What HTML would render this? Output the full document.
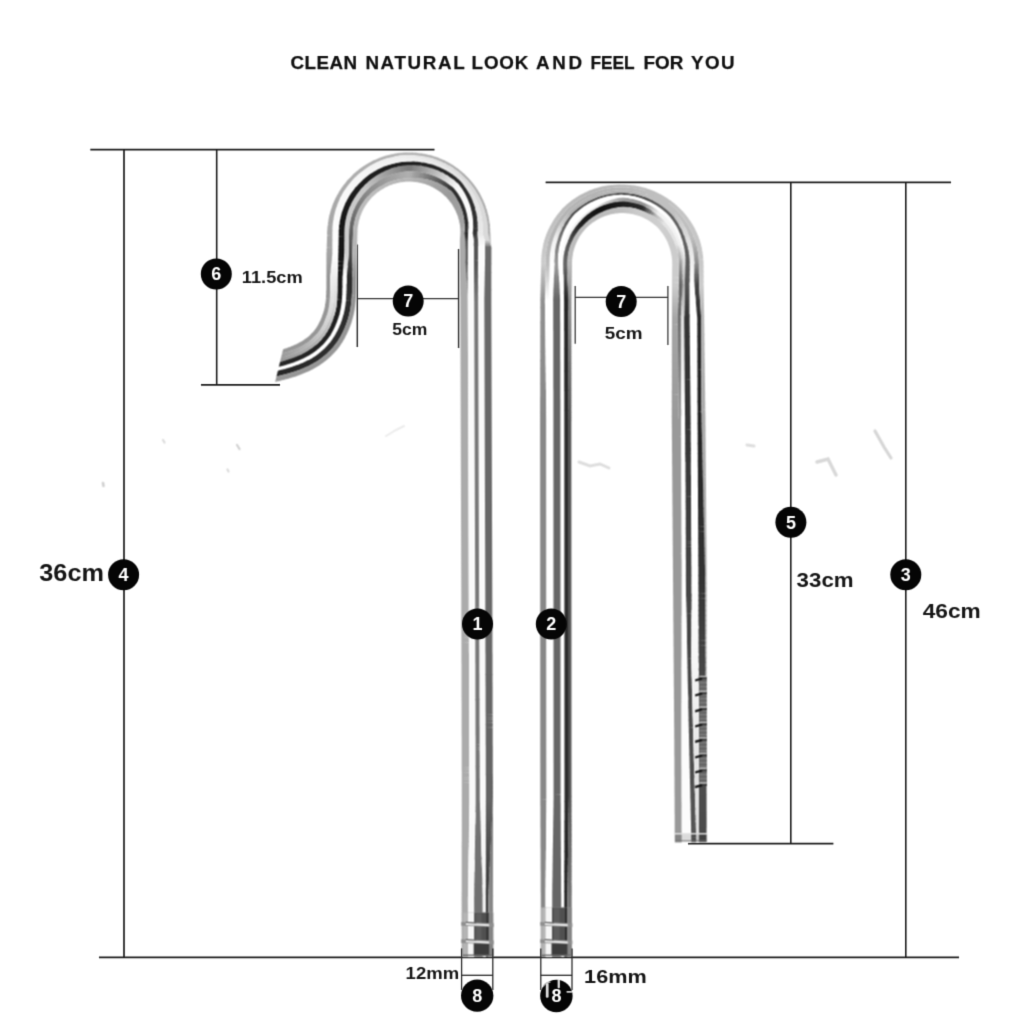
<!DOCTYPE html>
<html><head><meta charset="utf-8"><title>Tube dimensions</title>
<style>
html,body{margin:0;padding:0;background:#fff;}
body{width:1024px;height:1024px;position:relative;overflow:hidden;font-family:"Liberation Sans",sans-serif;}
svg text{font-family:"Liberation Sans",sans-serif;}
svg .b{font-weight:bold;}
</style></head><body>
<svg width="1024" height="1024" viewBox="0 0 1024 1024" style="position:absolute;left:0;top:0">
<defs>
<filter id="bl" x="-2%" y="-2%" width="104%" height="104%" color-interpolation-filters="sRGB"><feConvolveMatrix order="3" kernelMatrix="1 2 1 2 4 2 1 2 1" divisor="16" edgeMode="none" preserveAlpha="false"/></filter>
<filter id="bl2" x="-2%" y="-2%" width="104%" height="104%" color-interpolation-filters="sRGB"><feConvolveMatrix order="3" kernelMatrix="0 1 0 1 4 1 0 1 0" divisor="8" edgeMode="none" preserveAlpha="false"/></filter>
<clipPath id="tipclip"><path d="M283.4 348 L275.0 382.5 L275 1024 L1024 1024 L1024 0 L283.4 0 Z"/></clipPath>
</defs>
<rect width="1024" height="1024" fill="#ffffff"/>
<g filter="url(#bl)" fill="none" stroke="#dedede" stroke-linecap="round">
<path d="M579 462 L590 466 L600 464 L609 468" stroke-width="3"/>
<path d="M747 445 L754 446" stroke-width="3"/>
<path d="M817 462 L828 459 L836 475" stroke-width="3.4" stroke="#d8d8d8"/>
<path d="M875 431 L884 447 L891 458" stroke-width="3.2" stroke="#d6d6d6"/>
<path d="M163 440 L164.5 442.5" stroke-width="2.2" stroke="#dcdcdc"/>
<path d="M237 445 L239.5 449" stroke-width="2.2" stroke="#d0d0d0"/>
<path d="M227.5 469.5 L228.5 471.5" stroke-width="2.2" stroke="#dcdcdc"/>
<path d="M103 483 L103.5 486" stroke-width="2.6" stroke="#d0d0d0"/>
<path d="M386 436 L396 430 L404 426" stroke-width="2" stroke="#ececec"/>
</g>
<g filter="url(#bl2)">
<line x1="90.3" y1="149.6" x2="434.5" y2="149.6" stroke="#1c1c1c" stroke-width="1.8"/>
<line x1="124" y1="149.6" x2="124" y2="957.4" stroke="#1c1c1c" stroke-width="1.7"/>
<line x1="216.7" y1="149.6" x2="216.7" y2="384.8" stroke="#1c1c1c" stroke-width="1.6"/>
<line x1="201" y1="384.8" x2="280" y2="384.8" stroke="#1c1c1c" stroke-width="1.7"/>
<line x1="99" y1="957.4" x2="959" y2="957.4" stroke="#1c1c1c" stroke-width="1.7"/>
<line x1="545.6" y1="182.4" x2="951" y2="182.4" stroke="#1c1c1c" stroke-width="1.9"/>
<line x1="790.8" y1="182.4" x2="790.8" y2="843.7" stroke="#1c1c1c" stroke-width="1.6"/>
<line x1="905.8" y1="182.4" x2="905.8" y2="957.4" stroke="#1c1c1c" stroke-width="1.6"/>
<line x1="688" y1="843.7" x2="833.4" y2="843.7" stroke="#1c1c1c" stroke-width="1.7"/>
<line x1="357.3" y1="244.5" x2="357.3" y2="347" stroke="#303030" stroke-width="1.5"/>
<line x1="458.6" y1="249" x2="458.6" y2="348" stroke="#333" stroke-width="1.5"/>
<line x1="357.3" y1="298.6" x2="458.6" y2="298.6" stroke="#333" stroke-width="1.3"/>
<line x1="575.2" y1="286" x2="575.2" y2="343.8" stroke="#3a3a3a" stroke-width="1.3"/>
<line x1="667.9" y1="286" x2="667.9" y2="345" stroke="#3a3a3a" stroke-width="1.3"/>
<line x1="575.2" y1="297.4" x2="667.9" y2="297.4" stroke="#333" stroke-width="1.3"/>
</g>
<g filter="url(#bl)">
<g clip-path="url(#tipclip)">
<path fill="#aaaaaa" d="M461.8 956.9L468.1 956.9L467.9 896.3L461.6 896.3ZM461.7 897L468 897L468 893.8L461.6 893.8ZM461.6 894.5L468 894.5L468 891.3L461.7 891.3ZM461.7 892L468 892L468 888.8L461.7 888.8ZM461.7 889.5L468 889.5L468.1 886.3L461.7 886.3ZM461.7 887L468.1 887L468.1 883.8L461.7 883.8ZM461.7 884.5L468.1 884.5L468.2 881.3L461.7 881.3ZM461.7 882L468.2 882L468.2 878.8L461.7 878.8ZM461.7 879.5L468.2 879.5L468.2 876.3L461.7 876.3ZM461.7 877L468.2 877L468.3 873.8L461.7 873.8ZM461.7 874.5L468.3 874.5L468.3 871.3L461.7 871.3ZM461.7 872L468.3 872L468.3 868.8L461.7 868.8ZM461.7 869.5L468.4 869.5L468.4 866.3L461.7 866.3ZM461.7 867L468.4 867L468.4 863.8L461.7 863.8ZM461.7 864.5L468.4 864.5L468.5 861.3L461.7 861.3ZM461.7 862L468.5 862L468.5 858.8L461.7 858.8ZM461.7 859.5L468.5 859.5L468.5 856.3L461.7 856.3ZM461.7 857L468.5 857L468.6 853.8L461.7 853.8ZM461.7 854.5L468.6 854.5L468.6 851.3L461.7 851.4ZM461.7 852.1L468.6 852L468.7 848.8L461.7 848.9ZM461.7 849.6L468.7 849.5L468.7 846.3L461.7 846.4ZM460.1 280.4L466.6 280.4L466.4 277.2L460 277.2ZM460 277.9L466.4 277.9L466.2 274.7L460 274.7ZM460 275.4L466.3 275.4L466.1 272.2L460 272.2ZM460 272.9L466.1 272.9L465.9 269.7L459.9 269.7ZM459.9 270.4L465.9 270.4L465.8 267.2L459.9 267.2ZM459.9 267.9L465.8 267.9L465.6 264.7L459.9 264.7ZM459.9 265.4L465.6 265.4L465.5 262.2L459.9 262.2ZM459.9 262.9L465.5 262.9L465.4 259.7L459.8 259.7ZM459.9 260.4L465.5 260.4L465.5 257.2L459.9 257.2ZM459.9 257.9L465.5 257.9L465.5 247.6L459.9 247.6ZM459.9 248.3L465.5 248.3L465.4 245.2L459.9 245.2ZM459.9 245.9L465.4 245.9L465.4 242.8L459.9 242.8ZM459.9 243.5L465.4 243.5L465.3 240.4L459.9 240.3ZM459.9 241L465.3 241.1L465.1 237.9L460 237.9ZM403.4 178.7L402.6 172.1L399.7 172.5L400.6 179.1ZM345.2 189.4L342 187.3L340 190.4L343.2 192.5ZM343.6 191.9L340.3 189.8L338.4 193L341.8 195ZM342.2 194.4L338.7 192.4L336.9 195.7L340.5 197.6ZM340.8 196.9L337.2 195.1L335.5 198.4L339.2 200.2ZM308.5 350.4L306.7 347.5L304.2 349L305.9 352Z"/>
<path fill="#f8f8f8" d="M468.1 956.9L474.3 956.9L474.1 896.2L467.9 896.3ZM468 897L474.2 896.9L474.2 893.8L468 893.8ZM468 894.5L474.2 894.5L474.2 891.3L468 891.3ZM468 892L474.2 892L474.2 888.8L468 888.8ZM468 889.5L474.2 889.5L474.3 886.3L468.1 886.3ZM468.1 887L474.3 887L474.3 883.8L468.1 883.8ZM468.1 884.5L474.3 884.5L474.4 881.3L468.2 881.3ZM468.2 882L474.4 882L474.4 878.8L468.2 878.8ZM468.2 879.5L474.4 879.5L474.5 876.3L468.2 876.3ZM468.2 877L474.5 877L474.5 873.8L468.3 873.8ZM468.3 874.5L474.5 874.5L474.5 871.3L468.3 871.3ZM481 839.5L485.9 839.5L485.9 836.3L481 836.3ZM481 837L485.9 837L485.9 833.8L480.9 833.8ZM480.9 834.5L485.9 834.5L485.9 831.3L480.8 831.3ZM480.8 832L485.9 832L485.9 828.8L480.7 828.8ZM480.7 829.5L485.9 829.5L485.9 826.3L480.6 826.3ZM480.7 827L485.9 827L485.9 823.8L480.6 823.8ZM457.2 192.6L461.9 188.6L460 185.9L455.4 190.2ZM455.8 190.7L460.5 186.4L458.4 183.8L453.9 188.4ZM351 193.4L348.1 191.4L346.2 194.3L349.2 196.2ZM348.1 191.4L345.2 189.4L343.2 192.5L346.2 194.3ZM349.6 195.6L346.6 193.7L344.8 196.7L347.9 198.5ZM346.6 193.7L343.6 191.9L341.8 195L344.8 196.7ZM348.2 197.9L345.2 196.1L343.5 199.2L346.6 200.8ZM345.2 196.1L342.2 194.4L340.5 197.6L343.5 199.2ZM347.2 272.2L342.9 272.1L342.7 275.1L347 275.2Z"/>
<path fill="#707070" d="M474.3 956.9L482.9 956.8L482.7 896.2L474.1 896.2ZM474.2 896.9L482.8 896.9L482.7 893.7L474.2 893.8ZM474.2 894.5L482.7 894.4L482.6 891.2L474.2 891.3ZM474.2 892L482.6 891.9L482.6 888.7L474.2 888.8ZM474.2 889.5L482.6 889.4L482.5 886.2L474.3 886.3ZM474.3 887L482.5 886.9L482.4 883.7L474.3 883.8ZM356.5 214.7L352.4 213.3L351.5 216.1L355.6 217.3Z"/>
<path fill="#f4f4f4" d="M482.9 956.8L486 956.8L485.8 896.2L482.7 896.2ZM482.8 896.9L485.9 896.9L485.8 893.7L482.7 893.7ZM482.7 894.4L485.8 894.4L485.8 891.2L482.6 891.2ZM482.6 891.9L485.8 891.9L485.8 888.7L482.6 888.7ZM482.6 889.4L485.9 889.4L485.9 886.2L482.5 886.2ZM378.6 169.1L377 165.8L373.9 167.5L375.6 170.7ZM376.2 170.4L374.5 167.1L371.5 168.9L373.3 172ZM373.9 171.7L372.1 168.5L369.1 170.4L371.1 173.5ZM371.7 173.1L369.7 170L366.8 171.9L368.9 175ZM367.4 171.6L365.5 168.8L362.5 170.9L364.6 173.6ZM365.1 173.2L363.1 170.5L360.2 172.7L362.4 175.4ZM338.1 267.3L334.7 267.2L334.5 270.2L338 270.3ZM334.7 267.2L330.9 267.1L330.7 270.1L334.5 270.2Z"/>
<path fill="#383838" d="M486 956.8L488.4 956.8L488.2 896.2L485.8 896.2ZM485.9 896.9L488.3 896.9L488.3 893.7L485.8 893.7ZM465.1 238.6L468 238.7L468.1 235.5L464.8 235.5ZM473.1 236.3L477.7 236.3L477.5 233.1L472.7 233.2Z"/>
<path fill="#888888" d="M488.4 956.8L493.2 956.8L493 896.2L488.2 896.2ZM488.3 896.9L493.1 896.9L493 893.7L488.3 893.7ZM488.3 894.4L493 894.4L493 891.2L488.4 891.2Z"/>
<path fill="#393939" d="M485.8 894.4L488.3 894.4L488.4 891.2L485.8 891.2ZM352.3 265.5L347.8 265.3L347.5 268.3L352.2 268.5Z"/>
<path fill="#3a3a3a" d="M485.8 891.9L488.4 891.9L488.5 888.7L485.8 888.7Z"/>
<path fill="#878787" d="M488.4 891.9L493 891.9L493 888.7L488.5 888.7ZM488.5 889.4L493 889.4L493 886.2L488.7 886.2ZM424.2 179L425.7 173.2L422.8 172.6L421.4 178.5ZM402.6 172.1L401.9 166L398.8 166.5L399.7 172.5ZM368.7 195.5L365.1 192.1L363.1 194.3L366.9 197.5Z"/>
<path fill="#3b3b3b" d="M485.9 889.4L488.5 889.4L488.7 886.2L485.9 886.2Z"/>
<path fill="#f5f5f5" d="M482.5 886.9L485.9 886.9L485.9 883.7L482.4 883.7ZM482.4 884.4L485.9 884.4L485.9 881.2L482.3 881.2ZM482.3 881.9L485.9 881.9L485.9 878.7L482.3 878.7ZM482.3 879.4L485.9 879.4L485.9 876.2L482.2 876.2ZM482.2 876.9L485.9 876.9L485.9 873.7L482.1 873.8ZM482.1 874.5L485.9 874.4L485.9 871.2L482 871.3ZM454.3 188.8L458.9 184.3L456.4 182.1L452.1 186.8ZM369.5 174.6L367.4 171.6L364.6 173.6L366.8 176.6ZM367.3 176.2L365.1 173.2L362.4 175.4L364.7 178.3ZM365.3 177.8L362.9 174.9L360.3 177.2L362.7 180ZM362.9 174.9L360.8 172.2L358 174.6L360.3 177.2ZM360.8 176.7L358.6 174.1L355.9 176.5L358.2 179.1Z"/>
<path fill="#3c3c3c" d="M485.9 886.9L488.7 886.9L488.8 883.7L485.9 883.7ZM448.1 188.8L450.8 185.7L448.4 183.8L445.7 187.1Z"/>
<path fill="#868686" d="M488.7 886.9L493 886.9L493 883.7L488.8 883.7ZM488.8 884.4L493 884.4L493 881.2L488.9 881.2ZM467.8 300.3L467.8 300.3L467.8 297.1L467.6 297.1Z"/>
<path fill="#717171" d="M474.3 884.5L482.4 884.4L482.3 881.2L474.4 881.3ZM474.4 882L482.3 881.9L482.3 878.7L474.4 878.8ZM474.4 879.5L482.3 879.4L482.2 876.2L474.5 876.3ZM474.5 877L482.2 876.9L482.1 873.8L474.5 873.8ZM474.5 874.5L482.1 874.5L482 871.3L474.5 871.3ZM474.5 872L482 872L482 868.8L474.6 868.8ZM474.6 869.5L482 869.5L481.9 866.3L474.6 866.3ZM474.6 867L481.9 867L481.8 863.8L474.7 863.8ZM474.7 864.5L481.8 864.5L481.7 861.3L474.7 861.3ZM474.7 862L481.7 862L481.6 858.8L474.7 858.8ZM474.1 295.3L478.1 295.3L478.1 292.1L474.1 292.1Z"/>
<path fill="#3e3e3e" d="M485.9 884.4L488.8 884.4L488.9 881.2L485.9 881.2Z"/>
<path fill="#3f3f3f" d="M485.9 881.9L488.9 881.9L489 878.7L485.9 878.7Z"/>
<path fill="#858585" d="M488.9 881.9L493 881.9L493 878.7L489 878.7ZM489 879.4L493 879.4L493 876.2L489.2 876.2ZM367.3 197L363.6 193.8L361.7 196.1L365.5 199.1Z"/>
<path fill="#404040" d="M485.9 879.4L489 879.4L489.2 876.2L485.9 876.2ZM352.2 260.9L348.1 260.7L347.9 263.7L352.2 263.9Z"/>
<path fill="#414141" d="M485.9 876.9L489.2 876.9L489.3 873.7L485.9 873.7Z"/>
<path fill="#848484" d="M489.2 876.9L493 876.9L493 873.7L489.3 873.7ZM489.3 874.4L493 874.4L493 871.2L489.4 871.2ZM489.4 871.9L493 871.9L493 868.7L489.5 868.7Z"/>
<path fill="#424242" d="M485.9 874.4L489.3 874.4L489.4 871.2L485.9 871.2ZM465.3 241.1L467.9 241.1L468 238L465.1 237.9ZM446.3 187.6L448.9 184.2L446.5 182.4L443.8 186Z"/>
<path fill="#f9f9f9" d="M468.3 872L474.5 872L474.6 868.8L468.3 868.8ZM468.4 869.5L474.6 869.5L474.6 866.3L468.4 866.3ZM468.4 867L474.6 867L474.7 863.8L468.4 863.8ZM468.4 864.5L474.7 864.5L474.7 861.3L468.5 861.3ZM468.5 862L474.7 862L474.7 858.8L468.5 858.8ZM468.5 859.5L474.7 859.5L474.8 856.3L468.5 856.3ZM468.5 857L474.8 857L474.8 853.8L468.6 853.8ZM468.6 854.5L474.8 854.5L474.9 851.3L468.6 851.3ZM468.6 852L474.9 852L474.9 848.8L468.7 848.8ZM468.7 849.5L474.9 849.5L475 846.3L468.7 846.3ZM468.7 847L475 847L475 843.8L468.7 843.8ZM468.7 844.5L475 844.5L475 841.3L468.8 841.3ZM468.8 842L475 842L475.1 838.8L468.8 838.8ZM468.8 839.5L475.1 839.5L475.1 836.3L468.9 836.4ZM468.9 837.1L475.1 837L475.2 833.8L468.9 833.9ZM468.9 834.6L475.2 834.5L475.2 831.3L468.9 831.4ZM468.9 832.1L475.2 832L475.2 828.8L469 828.9ZM469 829.6L475.2 829.5L475.3 826.3L469 826.4ZM469 827.1L475.3 827L475.3 823.8L469.1 823.9ZM480.6 824.5L485.9 824.5L485.9 821.3L480.5 821.3ZM480.5 822L485.9 822L485.9 818.8L480.4 818.8ZM480.4 819.5L485.9 819.5L485.9 816.3L480.3 816.3ZM480.3 817L485.9 817L485.9 813.8L480.3 813.8ZM480.3 814.5L485.9 814.5L485.9 811.3L480.2 811.3ZM480.2 812L485.9 812L485.9 808.8L480.1 808.9ZM480.1 809.6L485.9 809.5L485.9 806.3L480 806.4ZM478.2 245.9L485.1 245.9L485.1 242.8L478.1 242.8ZM459.8 196.6L464.7 193L462.9 190.2L458.1 194ZM458.6 194.6L463.4 190.8L461.5 188L456.8 192.1ZM347 200.2L343.9 198.6L342.3 201.7L345.5 203.2ZM343.9 198.6L340.8 196.9L339.2 200.2L342.3 201.7ZM345.8 202.6L342.6 201.1L341.2 204.2L344.4 205.6ZM342.6 201.1L339.5 199.6L338.1 202.8L341.2 204.2ZM344.7 205L341.5 203.6L340.2 206.8L343.4 208.1ZM341.5 203.6L338.3 202.2L337 205.5L340.2 206.8ZM338.3 260.4L335.2 260.3L335 263.3L338.2 263.4ZM335.2 260.3L331.6 260.2L331.4 263.2L335 263.3Z"/>
<path fill="#f6f6f6" d="M482 872L485.9 871.9L485.9 868.7L482 868.8ZM482 869.5L485.9 869.4L485.9 866.3L481.9 866.3ZM481.9 867L485.9 867L485.9 863.8L481.8 863.8ZM481.8 864.5L485.9 864.5L485.9 861.3L481.7 861.3ZM481.7 862L485.9 862L485.9 858.8L481.6 858.8ZM481.6 859.5L485.9 859.5L485.9 856.3L481.6 856.3ZM478.1 243.5L485.1 243.5L485.1 240.4L478.1 240.4ZM363.3 179.6L360.8 176.7L358.2 179.1L360.8 181.9ZM361.3 181.4L358.8 178.6L356.3 181.1L359 183.8ZM358.8 178.6L356.4 176.1L353.8 178.6L356.3 181.1ZM359.5 183.3L356.8 180.6L354.4 183.1L357.1 185.7ZM356.8 180.6L354.3 178.1L351.8 180.7L354.4 183.1ZM357.6 185.2L354.9 182.6L352.6 185.2L355.4 187.7ZM354.9 182.6L352.3 180.2L349.9 183L352.6 185.2ZM338.2 265L334.9 264.9L334.7 267.9L338.1 268ZM334.9 264.9L331.2 264.8L330.9 267.8L334.7 267.9Z"/>
<path fill="#434343" d="M485.9 871.9L489.4 871.9L489.5 868.7L485.9 868.7ZM473.4 238.7L477.9 238.7L477.7 235.6L473.1 235.6ZM352.2 258.6L348.3 258.4L348.1 261.4L352.2 261.6Z"/>
<path fill="#454545" d="M485.9 869.4L489.5 869.4L489.6 866.2L485.9 866.3Z"/>
<path fill="#838383" d="M489.5 869.4L493 869.4L493 866.2L489.6 866.2ZM489.6 866.9L493 866.9L493 863.7L489.8 863.7ZM467.6 297.8L467.8 297.8L467.8 294.6L467.5 294.6ZM414.2 171.6L414.7 165.3L411.4 165.2L411.2 171.5ZM404.9 171.8L404.5 165.6L401.2 166.1L401.9 172.1ZM365.9 198.6L362.2 195.5L360.4 197.9L364.2 200.7Z"/>
<path fill="#464646" d="M485.9 867L489.6 866.9L489.8 863.7L485.9 863.8Z"/>
<path fill="#474747" d="M485.9 864.5L489.8 864.4L489.9 861.2L485.9 861.3ZM352.2 256.3L348.5 256.1L348.3 259.1L352.2 259.3Z"/>
<path fill="#828282" d="M489.8 864.4L493 864.4L493 861.2L489.9 861.2ZM489.9 861.9L493 861.9L493 858.7L490 858.7Z"/>
<path fill="#484848" d="M485.9 862L489.9 861.9L490 858.7L485.9 858.8ZM444.4 186.4L447 182.8L444.5 181.1L441.9 184.9Z"/>
<path fill="#727272" d="M474.7 859.5L481.6 859.5L481.6 856.3L474.8 856.3ZM474.8 857L481.6 857L481.5 853.8L474.8 853.8ZM474.8 854.5L481.5 854.5L481.4 851.3L474.9 851.3ZM474.9 852L481.4 852L481.3 848.8L474.9 848.8ZM474.9 849.5L481.3 849.5L481.3 846.3L475 846.3ZM475 847L481.3 847L481.2 843.8L475 843.8ZM475 844.5L481.2 844.5L481.1 841.3L475 841.3ZM475 842L481.1 842L481 838.8L475.1 838.8ZM475.1 839.5L481 839.5L481 836.3L475.1 836.3ZM466.9 285.3L467.8 285.3L467.8 282.1L466.7 282.1ZM357.3 212.8L353.2 211.1L352.2 213.9L356.3 215.4Z"/>
<path fill="#494949" d="M485.9 859.5L490 859.4L490.1 856.3L485.9 856.3ZM465.4 243.5L467.9 243.5L467.9 240.4L465.3 240.4Z"/>
<path fill="#818181" d="M490 859.4L493 859.4L493 856.2L490.1 856.3ZM490.1 857L493 856.9L493 853.7L490.3 853.8ZM426.3 179.3L428 173.8L425 173L423.5 178.8Z"/>
<path fill="#f7f7f7" d="M481.6 857L485.9 857L485.9 853.8L481.5 853.8ZM481.5 854.5L485.9 854.5L485.9 851.3L481.4 851.3ZM481.4 852L485.9 852L485.9 848.8L481.3 848.8ZM481.3 849.5L485.9 849.5L485.9 846.3L481.3 846.3ZM481.3 847L485.9 847L485.9 843.8L481.2 843.8ZM481.2 844.5L485.9 844.5L485.9 841.3L481.1 841.3ZM481.1 842L485.9 842L485.9 838.8L481 838.8ZM355.9 187.1L353 184.7L350.9 187.4L353.7 189.7ZM353 184.7L350.4 182.4L348.1 185.2L350.9 187.4ZM354.2 189.2L351.3 186.9L349.2 189.7L352.2 191.8ZM351.3 186.9L348.6 184.7L346.4 187.6L349.2 189.7ZM352.6 191.3L349.6 189.1L347.7 192L350.6 194ZM349.6 189.1L346.8 187L344.8 190L347.7 192ZM338.2 262.7L335 262.6L334.8 265.6L338.1 265.7ZM335 262.6L331.4 262.5L331.1 265.5L334.8 265.6Z"/>
<path fill="#4a4a4a" d="M485.9 857L490.1 857L490.3 853.8L485.9 853.8ZM352.2 253.9L348.7 253.8L348.5 256.8L352.2 257Z"/>
<path fill="#4b4b4b" d="M485.9 854.5L490.3 854.5L490.4 851.3L485.9 851.3Z"/>
<path fill="#808080" d="M490.3 854.5L493 854.4L493 851.2L490.4 851.3ZM490.4 852L493 851.9L493 848.8L490.5 848.8ZM490.5 849.5L493 849.5L493 846.3L490.6 846.3ZM467.5 295.3L467.8 295.3L467.8 292.1L467.3 292.1ZM407.2 171.6L407 165.4L403.8 165.7L404.2 171.8ZM364.6 200.2L360.8 197.3L359.1 199.8L363 202.4Z"/>
<path fill="#4d4d4d" d="M485.9 852L490.4 852L490.5 848.8L485.9 848.8ZM352.3 251.6L348.7 251.5L348.7 254.5L352.2 254.6Z"/>
<path fill="#4e4e4e" d="M485.9 849.5L490.5 849.5L490.6 846.3L485.9 846.3ZM473.7 241.1L478.1 241.1L477.9 238L473.4 238Z"/>
<path fill="#ababab" d="M461.7 847.1L468.7 847L468.7 843.8L461.7 843.9ZM461.7 844.6L468.7 844.5L468.8 841.3L461.7 841.4ZM461.8 842.1L468.8 842L468.8 838.8L461.8 838.9ZM461.8 839.6L468.8 839.5L468.9 836.4L461.8 836.4ZM461.8 837.1L468.9 837.1L468.9 833.9L461.8 833.9ZM461.8 834.6L468.9 834.6L468.9 831.4L461.8 831.4ZM461.8 832.1L468.9 832.1L469 828.9L461.8 828.9ZM461.8 829.6L469 829.6L469 826.4L461.8 826.4ZM461.8 827.1L469 827.1L469.1 823.9L461.8 823.9ZM461.8 824.6L469.1 824.6L469.1 821.4L461.8 821.4ZM461.8 822.1L469.1 822.1L469.1 818.9L461.8 818.9ZM461.8 819.6L469.1 819.6L469.2 816.4L461.8 816.4ZM461.8 817.1L469.2 817.1L469.2 813.9L461.8 813.9ZM461.8 814.6L469.2 814.6L469.2 811.4L461.8 811.4ZM461.8 812.1L469.3 812.1L469.3 808.9L461.8 808.9ZM461.8 809.6L469.3 809.6L469.3 806.4L461.8 806.4ZM461.8 807.1L469.3 807.1L469.4 803.9L461.8 803.9ZM461.8 804.6L469.4 804.6L469.4 801.4L461.8 801.4ZM461.8 802.1L469.4 802.1L469.4 798.9L461.8 798.9ZM461.8 799.6L469.4 799.6L469.4 796.4L461.8 796.4ZM461.8 797.1L469.4 797.1L469.4 793.9L461.8 793.9ZM461.8 794.6L469.4 794.6L469.4 791.4L461.8 791.4ZM461.8 792.1L469.4 792.1L469.4 788.9L461.8 788.9ZM461.8 789.6L469.4 789.6L469.4 786.4L461.8 786.4ZM461.8 787.1L469.4 787.1L469.4 783.9L461.8 783.9ZM461.8 784.6L469.4 784.6L469.4 781.4L461.8 781.5ZM461.8 782.2L469.4 782.1L469.4 778.9L461.8 779ZM461.8 779.7L469.4 779.6L469.4 776.4L461.8 776.5ZM461.8 777.2L469.4 777.1L469.3 773.9L461.8 774ZM461.8 774.7L469.3 774.6L469.3 771.4L461.8 771.5ZM461.8 772.2L469.3 772.1L469.3 768.9L461.7 769ZM461.7 769.7L469.3 769.6L469.3 766.4L461.7 766.5ZM461.7 767.2L469.3 767.1L469.3 764L461.7 764ZM461.7 764.7L469.3 764.7L469.3 761.5L461.7 761.5ZM461.7 762.2L469.3 762.2L469.3 759L461.7 759ZM461.7 759.7L469.3 759.7L469.3 756.5L461.7 756.5ZM461.7 757.2L469.3 757.2L469.3 754L461.7 754ZM461.7 754.7L469.3 754.7L469.3 751.5L461.7 751.5ZM461.7 752.2L469.3 752.2L469.3 749L461.7 749ZM461.7 749.7L469.3 749.7L469.3 746.5L461.7 746.5ZM461.7 747.2L469.3 747.2L469.2 744L461.7 744ZM461.7 744.7L469.2 744.7L469.2 741.5L461.7 741.5ZM461.7 742.2L469.2 742.2L469.2 739L461.7 739ZM461.7 739.7L469.2 739.7L469.2 736.5L461.7 736.5ZM461.7 737.2L469.2 737.2L469.2 734L461.6 734ZM461.6 734.7L469.2 734.7L469.2 731.5L461.6 731.5ZM461.6 732.2L469.2 732.2L469.2 729L461.6 729ZM461.6 729.7L469.2 729.7L469.2 726.5L461.6 726.5ZM461.6 727.2L469.2 727.2L469.2 724L461.6 724ZM461.6 724.7L469.2 724.7L469.2 721.5L461.6 721.5ZM461.6 722.2L469.2 722.2L469.2 719L461.6 719ZM461.6 719.7L469.2 719.7L469.2 716.5L461.6 716.5ZM461.6 717.2L469.2 717.2L469.1 714L461.6 714ZM461.6 714.7L469.2 714.7L469.1 711.5L461.6 711.6ZM461.6 712.3L469.1 712.2L469.1 709L461.6 709.1ZM461.6 709.8L469.1 709.7L469.1 706.5L461.6 706.6ZM461.6 707.3L469.1 707.2L469.1 704L461.6 704.1ZM461.6 704.8L469.1 704.7L469.1 701.5L461.6 701.6ZM461.6 702.3L469.1 702.2L469.1 699L461.5 699.1ZM461.6 699.8L469.1 699.7L469.1 696.5L461.5 696.6ZM461.5 697.3L469.1 697.2L469.1 694.1L461.5 694.1ZM461.5 694.8L469.1 694.8L469.1 691.6L461.5 691.6ZM461.5 692.3L469.1 692.3L469.1 689.1L461.5 689.1ZM461.5 689.8L469.1 689.8L469.1 686.6L461.5 686.6ZM461.5 687.3L469.1 687.3L469 684.1L461.5 684.1ZM461.5 684.8L469.1 684.8L469 681.6L461.5 681.6ZM461.5 682.3L469 682.3L469 679.1L461.5 679.1ZM461.5 679.8L469 679.8L469 676.6L461.5 676.6ZM461.5 677.3L469 677.3L469 674.1L461.5 674.1ZM461.5 674.8L469 674.8L469 671.6L461.5 671.6ZM461.5 672.3L469 672.3L469 669.1L461.5 669.1ZM461.5 669.8L469 669.8L469 666.6L461.5 666.6ZM461.5 667.3L469 667.3L469 664.1L461.5 664.1ZM461.5 664.8L469 664.8L469 661.6L461.4 661.6ZM461.4 662.3L469 662.3L469 659.1L461.4 659.1ZM461.4 659.8L469 659.8L469 656.6L461.4 656.6ZM461.4 657.3L469 657.3L469 654.1L461.4 654.1ZM461.4 654.8L469 654.8L468.9 651.6L461.4 651.6ZM461.4 652.3L468.9 652.3L468.9 649.1L461.4 649.1ZM461.4 649.8L468.9 649.8L468.9 646.6L461.4 646.6ZM461.4 647.3L468.9 647.3L468.9 644.1L461.4 644.1ZM461.4 644.8L468.9 644.8L468.9 641.6L461.4 641.7ZM461.4 642.4L468.9 642.3L468.9 639.1L461.4 639.2ZM461.4 639.9L468.9 639.8L468.9 636.6L461.4 636.7ZM461.4 637.4L468.9 637.3L468.9 634.1L461.4 634.2ZM461.4 634.9L468.9 634.8L468.9 631.6L461.4 631.7ZM461.4 632.4L468.9 632.3L468.9 629.1L461.4 629.2ZM461.4 629.9L468.9 629.8L468.9 626.6L461.3 626.7ZM461.3 627.4L468.9 627.3L468.9 624.2L461.3 624.2ZM461.3 624.9L468.9 624.9L468.8 621.7L461.3 621.7ZM461.3 622.4L468.8 622.4L468.8 619.2L461.3 619.2ZM461.3 619.9L468.8 619.9L468.8 616.7L461.3 616.7ZM461.3 617.4L468.8 617.4L468.8 614.2L461.3 614.2ZM461.3 614.9L468.8 614.9L468.8 611.7L461.3 611.7ZM461.3 612.4L468.8 612.4L468.8 609.2L461.3 609.2ZM461.3 609.9L468.8 609.9L468.8 606.7L461.3 606.7ZM461.3 607.4L468.8 607.4L468.8 604.2L461.3 604.2ZM461.3 604.9L468.8 604.9L468.8 601.7L461.3 601.7ZM461.3 602.4L468.8 602.4L468.8 599.2L461.3 599.2ZM461.3 599.9L468.8 599.9L467.8 302.1L460.3 302.1ZM460.3 302.8L467.8 302.8L467.8 299.6L460.3 299.6ZM460.3 300.3L467.8 300.3L467.6 297.1L460.3 297.1ZM460.3 297.8L467.6 297.8L467.5 294.6L460.2 294.7ZM460.2 295.4L467.5 295.3L467.3 292.1L460.2 292.2ZM460.2 292.9L467.3 292.8L467.2 289.6L460.2 289.7ZM460.2 290.4L467.2 290.3L467 287.1L460.1 287.2ZM460.1 287.9L467 287.8L466.9 284.6L460.1 284.7ZM460.1 285.4L466.9 285.3L466.7 282.1L460.1 282.2ZM460.1 282.9L466.7 282.8L466.6 279.7L460.1 279.7ZM424.8 184L426.3 179.3L423.5 178.8L422.3 183.3ZM405.4 178.6L404.9 171.8L401.9 172.1L402.7 178.8ZM350.4 182.4L347.7 180.1L345.3 183L348.1 185.2ZM348.6 184.7L345.7 182.4L343.4 185.4L346.4 187.6ZM346.8 187L343.8 184.8L341.6 187.9L344.8 190ZM300.8 350.8L299.1 347.4L296.5 348.6L298.1 352.1Z"/>
<path fill="#4f4f4f" d="M485.9 847L490.6 847L490.8 843.8L485.9 843.8ZM465.4 245.9L467.9 245.9L467.9 242.8L465.4 242.8ZM442.5 185.3L445.1 181.5L442.5 179.9L440 183.9ZM352.4 249.3L348.8 249.3L348.7 252.2L352.3 252.3Z"/>
<path fill="#7f7f7f" d="M490.6 847L493 847L493 843.8L490.8 843.8ZM490.8 844.5L493 844.5L493 841.3L490.9 841.3Z"/>
<path fill="#505050" d="M485.9 844.5L490.8 844.5L490.9 841.3L485.9 841.3Z"/>
<path fill="#515151" d="M485.9 842L490.9 842L491 838.8L485.9 838.8ZM473.8 243.5L478.1 243.5L478.1 240.4L473.7 240.4ZM352.5 247.1L348.8 247L348.8 250L352.4 250Z"/>
<path fill="#7e7e7e" d="M490.9 842L493 842L493 838.8L491 838.8ZM491 839.5L493 839.5L493 836.3L491.1 836.3ZM363.4 201.9L359.5 199.2L357.9 201.7L361.8 204.2Z"/>
<path fill="#525252" d="M485.9 839.5L491 839.5L491.1 836.3L485.9 836.3Z"/>
<path fill="#737373" d="M475.1 837L481 837L480.9 833.8L475.2 833.8ZM475.2 834.5L480.9 834.5L480.8 831.3L475.2 831.3ZM475.2 832L480.8 832L480.7 828.8L475.2 828.8ZM475.2 829.5L480.7 829.5L480.6 826.3L475.3 826.3ZM475.3 827L480.7 827L480.6 823.8L475.3 823.8ZM475.3 824.5L480.6 824.5L480.5 821.3L475.4 821.4ZM475.4 822.1L480.5 822L480.4 818.8L475.4 818.9ZM475.4 819.6L480.4 819.5L480.3 816.3L475.5 816.4ZM475.5 817.1L480.3 817L480.3 813.8L475.5 813.9ZM475.5 814.6L480.3 814.5L480.2 811.3L475.5 811.4Z"/>
<path fill="#545454" d="M485.9 837L491.1 837L491.2 833.8L485.9 833.8ZM465.5 248.3L467.9 248.3L467.9 245.2L465.4 245.2Z"/>
<path fill="#7d7d7d" d="M491.1 837L493 837L493 833.8L491.2 833.8ZM491.2 834.5L493 834.5L493 831.3L491.4 831.3ZM411.9 171.5L412.1 165.2L408.8 165.2L408.8 171.5Z"/>
<path fill="#555555" d="M485.9 834.5L491.2 834.5L491.4 831.3L485.9 831.3ZM465.5 262.9L467.9 262.9L467.8 259.7L465.4 259.7ZM473.9 262.9L478.2 262.8L478.1 259.6L473.8 259.7ZM465.5 260.4L467.9 260.4L467.9 257.2L465.5 257.2ZM473.9 260.4L478.2 260.3L478.2 257.2L473.9 257.2ZM465.5 257.9L467.9 257.9L467.9 247.6L465.5 247.6ZM473.9 257.9L478.2 257.9L478.2 247.6L473.9 247.6ZM473.9 248.3L478.2 248.3L478.2 245.2L473.8 245.2ZM440.5 184.3L443.1 180.3L440.4 178.8L438 183ZM352.6 242.5L348.9 242.4L348.8 245.4L352.5 245.5Z"/>
<path fill="#565656" d="M485.9 832L491.4 832L491.5 828.8L485.9 828.8Z"/>
<path fill="#7c7c7c" d="M491.4 832L493 832L493 828.8L491.5 828.8ZM491.5 829.5L493 829.5L493 826.3L491.6 826.3ZM491.6 827L493 827L493 823.8L491.7 823.8ZM467.3 292.8L467.8 292.8L467.8 289.6L467.2 289.6ZM409.6 171.5L409.6 165.2L406.3 165.4L406.5 171.6ZM362.2 203.6L358.2 201.1L356.7 203.6L360.8 205.9Z"/>
<path fill="#575757" d="M485.9 829.5L491.5 829.5L491.6 826.3L485.9 826.3ZM465.6 265.4L467.9 265.4L467.9 262.2L465.5 262.2ZM473.9 265.3L478.2 265.3L478.2 262.1L473.9 262.2ZM352.7 240.2L348.9 240.1L348.9 243.1L352.6 243.2Z"/>
<path fill="#585858" d="M485.9 827L491.6 827L491.7 823.8L485.9 823.8Z"/>
<path fill="#fafafa" d="M469.1 824.6L475.3 824.5L475.4 821.4L469.1 821.4ZM469.1 822.1L475.4 822.1L475.4 818.9L469.1 818.9ZM469.1 819.6L475.4 819.6L475.5 816.4L469.2 816.4ZM469.2 817.1L475.5 817.1L475.5 813.9L469.2 813.9ZM469.2 814.6L475.5 814.6L475.5 811.4L469.2 811.4ZM469.3 812.1L475.5 812.1L475.6 808.9L469.3 808.9ZM469.3 809.6L475.6 809.6L475.6 806.4L469.3 806.4ZM469.3 807.1L475.6 807.1L475.7 803.9L469.4 803.9ZM480 807.1L485.9 807L485.9 803.8L480 803.9ZM469.4 804.6L475.7 804.6L475.7 801.4L469.4 801.4ZM480 804.6L485.9 804.5L485.9 801.3L479.9 801.4ZM469.4 802.1L475.7 802.1L475.7 798.9L469.4 798.9ZM479.9 802.1L485.9 802L485.9 798.8L479.8 798.9ZM469.4 799.6L475.7 799.6L475.7 796.4L469.4 796.4ZM479.8 799.6L485.9 799.5L485.9 796.4L479.8 796.4ZM469.4 797.1L475.7 797.1L475.7 793.9L469.4 793.9ZM479.8 797.1L485.9 797.1L485.9 793.9L479.8 793.9ZM469.4 794.6L475.7 794.6L475.7 791.4L469.4 791.4ZM479.8 794.6L485.9 794.6L485.9 791.4L479.8 791.4ZM469.4 792.1L475.7 792.1L475.7 788.9L469.4 788.9ZM479.8 792.1L485.9 792.1L485.9 788.9L479.8 788.9ZM469.4 789.6L475.7 789.6L475.7 786.4L469.4 786.4ZM479.8 789.6L485.9 789.6L485.9 786.4L479.8 786.4ZM469.4 787.1L475.7 787.1L475.7 783.9L469.4 783.9ZM479.8 787.1L485.9 787.1L485.9 783.9L479.8 783.9ZM469.4 784.6L475.7 784.6L475.7 781.4L469.4 781.4ZM479.8 784.6L485.9 784.6L485.9 781.4L479.8 781.4ZM469.4 782.1L475.7 782.1L475.7 778.9L469.4 778.9ZM479.8 782.1L485.9 782.1L485.9 778.9L479.8 778.9ZM469.4 779.6L475.7 779.6L475.7 776.4L469.4 776.4ZM479.8 779.6L485.9 779.6L485.9 776.4L479.7 776.4ZM469.4 777.1L475.7 777.1L475.7 773.9L469.3 773.9ZM479.7 777.1L485.9 777.1L485.8 773.9L479.7 773.9ZM469.3 774.6L475.7 774.6L475.7 771.4L469.3 771.4ZM479.7 774.6L485.8 774.6L485.8 771.4L479.7 771.4ZM469.3 772.1L475.7 772.1L475.6 768.9L469.3 768.9ZM479.7 772.1L485.8 772.1L485.8 768.9L479.7 768.9ZM469.3 769.6L475.6 769.6L475.6 766.4L469.3 766.4ZM479.7 769.6L485.8 769.6L485.8 766.4L479.7 766.4ZM469.3 767.1L475.6 767.1L475.6 763.9L469.3 764ZM479.7 767.1L485.8 767.1L485.8 763.9L479.7 763.9ZM469.3 764.7L475.6 764.6L475.6 761.4L469.3 761.5ZM479.7 764.6L485.8 764.6L485.8 761.4L479.7 761.4ZM469.3 762.2L475.6 762.1L475.6 758.9L469.3 759ZM479.7 762.1L485.8 762.1L485.8 758.9L479.7 758.9ZM469.3 759.7L475.6 759.6L475.6 756.4L469.3 756.5ZM479.7 759.6L485.8 759.6L485.8 756.4L479.7 756.4ZM469.3 757.2L475.6 757.1L475.6 753.9L469.3 754ZM479.7 757.1L485.8 757.1L485.8 753.9L479.7 753.9ZM469.3 754.7L475.6 754.6L475.6 751.4L469.3 751.5ZM479.7 754.6L485.8 754.6L485.8 751.4L479.6 751.4ZM469.3 752.2L475.6 752.1L475.6 749L469.3 749ZM479.6 752.1L485.8 752.1L485.8 748.9L479.6 748.9ZM469.3 749.7L475.6 749.7L475.6 746.5L469.3 746.5ZM479.6 749.6L485.8 749.6L485.8 746.4L479.6 746.4ZM469.3 747.2L475.6 747.2L475.6 744L469.2 744ZM479.6 747.1L485.8 747.1L485.7 743.9L479.6 743.9ZM469.2 744.7L475.6 744.7L475.6 741.5L469.2 741.5ZM479.6 744.6L485.7 744.6L485.7 741.4L479.6 741.5ZM469.2 742.2L475.6 742.2L475.6 739L469.2 739ZM479.6 742.2L485.7 742.1L485.7 738.9L479.6 739ZM469.2 739.7L475.6 739.7L475.6 736.5L469.2 736.5ZM479.6 739.7L485.7 739.6L485.7 736.4L479.6 736.5ZM469.2 737.2L475.6 737.2L475.5 734L469.2 734ZM479.6 737.2L485.7 737.1L485.7 733.9L479.6 734ZM469.2 734.7L475.5 734.7L475.5 731.5L469.2 731.5ZM479.6 734.7L485.7 734.6L485.7 731.4L479.6 731.5ZM469.2 732.2L475.5 732.2L475.5 729L469.2 729ZM479.6 732.2L485.7 732.1L485.7 728.9L479.6 729ZM469.2 729.7L475.5 729.7L475.5 726.5L469.2 726.5ZM479.6 729.7L485.7 729.6L485.7 726.5L479.6 726.5ZM469.2 727.2L475.5 727.2L475.5 724L469.2 724ZM479.6 727.2L485.7 727.2L485.7 724L479.5 724ZM469.2 724.7L475.5 724.7L475.5 721.5L469.2 721.5ZM479.5 724.7L485.7 724.7L485.7 721.5L479.5 721.5ZM469.2 722.2L475.5 722.2L475.5 719L469.2 719ZM479.5 722.2L485.7 722.2L485.7 719L479.5 719ZM469.2 719.7L475.5 719.7L475.5 716.5L469.2 716.5ZM479.5 719.7L485.7 719.7L485.7 716.5L479.5 716.5ZM469.2 717.2L475.5 717.2L475.5 714L469.1 714ZM479.5 717.2L485.7 717.2L485.6 714L479.5 714ZM469.2 714.7L475.5 714.7L475.5 711.5L469.1 711.5ZM479.5 714.7L485.7 714.7L485.6 711.5L479.5 711.5ZM469.1 712.2L475.5 712.2L475.5 709L469.1 709ZM479.5 712.2L485.6 712.2L485.6 709L479.5 709ZM469.1 709.7L475.5 709.7L475.5 706.5L469.1 706.5ZM479.5 709.7L485.6 709.7L485.6 706.5L479.5 706.5ZM469.1 707.2L475.5 707.2L475.5 704L469.1 704ZM479.5 707.2L485.6 707.2L485.6 704L479.5 704ZM469.1 704.7L475.5 704.7L475.5 701.5L469.1 701.5ZM479.5 704.7L485.6 704.7L485.6 701.5L479.5 701.5ZM469.1 702.2L475.5 702.2L475.4 699L469.1 699ZM479.5 702.2L485.6 702.2L485.6 699L479.4 699ZM469.1 699.7L475.5 699.7L475.4 696.5L469.1 696.5ZM479.5 699.7L485.6 699.7L485.6 696.5L479.4 696.5ZM469.1 697.2L475.4 697.2L475.4 694L469.1 694.1ZM479.4 697.2L485.6 697.2L485.6 694L479.4 694ZM469.1 694.8L475.4 694.7L475.4 691.5L469.1 691.6ZM479.4 694.7L485.6 694.7L485.6 691.5L479.4 691.5ZM469.1 692.3L475.4 692.2L475.4 689L469.1 689.1ZM479.4 692.2L485.6 692.2L485.6 689L479.4 689ZM469.1 689.8L475.4 689.7L475.4 686.5L469.1 686.6ZM479.4 689.7L485.6 689.7L485.6 686.5L479.4 686.5ZM469.1 687.3L475.4 687.2L475.4 684L469 684.1ZM479.4 687.2L485.6 687.2L485.5 684L479.4 684ZM469.1 684.8L475.4 684.7L475.4 681.5L469 681.6ZM479.4 684.7L485.6 684.7L485.5 681.5L479.4 681.5ZM469 682.3L475.4 682.2L475.4 679.1L469 679.1ZM479.4 682.2L485.5 682.2L485.5 679L479.4 679ZM469 679.8L475.4 679.8L475.4 676.6L469 676.6ZM479.4 679.7L485.5 679.7L485.5 676.5L479.4 676.5ZM469 677.3L475.4 677.3L475.4 674.1L469 674.1ZM479.4 677.2L485.5 677.2L485.5 674L479.4 674ZM469 674.8L475.4 674.8L475.4 671.6L469 671.6ZM479.4 674.7L485.5 674.7L485.5 671.5L479.3 671.6ZM469 672.3L475.4 672.3L475.4 669.1L469 669.1ZM479.3 672.3L485.5 672.2L485.5 669L479.3 669.1ZM469 669.8L475.4 669.8L475.4 666.6L469 666.6ZM479.3 669.8L485.5 669.7L485.5 666.5L479.3 666.6ZM469 667.3L475.4 667.3L475.4 664.1L469 664.1ZM479.3 667.3L485.5 667.2L485.5 664L479.3 664.1ZM469 664.8L475.4 664.8L475.3 661.6L469 661.6ZM479.3 664.8L485.5 664.7L485.5 661.5L479.3 661.6ZM469 662.3L475.3 662.3L475.3 659.1L469 659.1ZM479.3 662.3L485.5 662.2L485.5 659L479.3 659.1ZM469 659.8L475.3 659.8L475.3 656.6L469 656.6ZM479.3 659.8L485.5 659.7L485.5 656.6L479.3 656.6ZM469 657.3L475.3 657.3L475.3 654.1L469 654.1ZM479.3 657.3L485.5 657.3L485.5 654.1L479.3 654.1ZM469 654.8L475.3 654.8L475.3 651.6L468.9 651.6ZM479.3 654.8L485.5 654.8L485.4 651.6L479.3 651.6ZM468.9 652.3L475.3 652.3L475.3 649.1L468.9 649.1ZM479.3 652.3L485.4 652.3L485.4 649.1L479.3 649.1ZM468.9 649.8L475.3 649.8L475.3 646.6L468.9 646.6ZM479.3 649.8L485.4 649.8L485.4 646.6L479.2 646.6ZM468.9 647.3L475.3 647.3L475.3 644.1L468.9 644.1ZM479.3 647.3L485.4 647.3L485.4 644.1L479.2 644.1ZM468.9 644.8L475.3 644.8L475.3 641.6L468.9 641.6ZM479.2 644.8L485.4 644.8L485.4 641.6L479.2 641.6ZM468.9 642.3L475.3 642.3L475.3 639.1L468.9 639.1ZM479.2 642.3L485.4 642.3L485.4 639.1L479.2 639.1ZM468.9 639.8L475.3 639.8L475.3 636.6L468.9 636.6ZM479.2 639.8L485.4 639.8L485.4 636.6L479.2 636.6ZM468.9 637.3L475.3 637.3L475.3 634.1L468.9 634.1ZM479.2 637.3L485.4 637.3L485.4 634.1L479.2 634.1ZM468.9 634.8L475.3 634.8L475.3 631.6L468.9 631.6ZM479.2 634.8L485.4 634.8L485.4 631.6L479.2 631.6ZM468.9 632.3L475.3 632.3L475.3 629.1L468.9 629.1ZM479.2 632.3L485.4 632.3L485.4 629.1L479.2 629.1ZM468.9 629.8L475.3 629.8L475.2 626.6L468.9 626.6ZM479.2 629.8L485.4 629.8L485.4 626.6L479.2 626.6ZM468.9 627.3L475.2 627.3L475.2 624.1L468.9 624.2ZM479.2 627.3L485.4 627.3L485.4 624.1L479.2 624.1ZM468.9 624.9L475.2 624.8L475.2 621.6L468.8 621.7ZM479.2 624.8L485.4 624.8L485.3 621.6L479.2 621.6ZM468.8 622.4L475.2 622.3L475.2 619.1L468.8 619.2ZM479.2 622.3L485.3 622.3L485.3 619.1L479.1 619.1ZM468.8 619.9L475.2 619.8L475.2 616.6L468.8 616.7ZM479.1 619.8L485.3 619.8L485.3 616.6L479.1 616.6ZM468.8 617.4L475.2 617.3L475.2 614.1L468.8 614.2ZM479.1 617.3L485.3 617.3L485.3 614.1L479.1 614.1ZM468.8 614.9L475.2 614.8L475.2 611.6L468.8 611.7ZM479.1 614.8L485.3 614.8L485.3 611.6L479.1 611.6ZM468.8 612.4L475.2 612.3L475.2 609.2L468.8 609.2ZM479.1 612.3L485.3 612.3L485.3 609.1L479.1 609.1ZM468.8 609.9L475.2 609.9L475.2 606.7L468.8 606.7ZM479.1 609.8L485.3 609.8L485.3 606.6L479.1 606.6ZM468.8 607.4L475.2 607.4L475.2 604.2L468.8 604.2ZM479.1 607.3L485.3 607.3L485.3 604.1L479.1 604.1ZM468.8 604.9L475.2 604.9L475.2 601.7L468.8 601.7ZM479.1 604.8L485.3 604.8L485.3 601.6L479.1 601.7ZM468.8 602.4L475.2 602.4L475.2 599.2L468.8 599.2ZM479.1 602.4L485.3 602.3L485.3 599.1L479.1 599.2ZM468.8 599.9L475.2 599.9L474.2 302.1L467.8 302.1ZM479.1 599.9L485.3 599.8L484.3 302.1L478.1 302.1ZM467.8 302.8L474.2 302.8L474.2 299.6L467.8 299.6ZM478.1 302.8L484.3 302.8L484.3 299.6L478.1 299.6ZM467.8 300.3L474.2 300.3L474.2 297.1L467.8 297.1ZM478.1 300.3L484.3 300.3L484.3 297.1L478.1 297.1ZM467.8 297.8L474.2 297.8L474.1 294.6L467.8 294.6ZM478.1 297.8L484.3 297.8L484.4 294.6L478.1 294.6ZM467.8 295.3L474.1 295.3L474.1 292.1L467.8 292.1ZM478.1 295.3L484.4 295.3L484.4 292.1L478.1 292.1ZM467.8 292.8L474.1 292.8L474.1 289.6L467.8 289.6ZM478.1 292.8L484.4 292.8L484.5 289.6L478.1 289.6ZM464 204.9L469 202.3L467.7 199.3L462.7 202.2ZM463.1 202.8L468.1 199.9L466.7 197L461.7 200.1ZM462.1 200.7L467 197.6L465.5 194.7L460.6 198ZM461 198.6L465.9 195.3L464.3 192.4L459.4 196ZM343.7 207.4L340.5 206.2L339.3 209.4L342.5 210.5ZM340.5 206.2L337.3 204.9L336.1 208.3L339.3 209.4ZM342.7 209.9L339.6 208.8L338.5 212.1L341.7 213ZM339.6 208.8L336.3 207.6L335.2 211.1L338.5 212.1ZM341.9 212.4L338.8 211.4L337.8 214.7L341 215.6ZM338.8 211.4L335.4 210.4L334.5 213.8L337.8 214.7ZM341.2 214.9L338 214.1L337.2 217.4L340.4 218.2ZM338 214.1L334.7 213.2L333.9 216.7L337.2 217.4Z"/>
<path fill="#595959" d="M485.9 824.5L491.7 824.5L491.9 821.3L485.9 821.3ZM473.9 267.8L478.1 267.8L478.1 264.6L473.9 264.6ZM352.8 238L349 237.9L348.9 240.8L352.7 240.9Z"/>
<path fill="#7b7b7b" d="M491.7 824.5L493 824.5L493 821.3L491.9 821.3ZM491.9 822L493 822L493 818.8L492 818.8ZM428.4 179.8L430.2 174.5L427.3 173.6L425.6 179.1Z"/>
<path fill="#5b5b5b" d="M485.9 822L491.9 822L492 818.8L485.9 818.8ZM473.9 270.3L478.1 270.3L478.1 267.1L473.9 267.1ZM465.8 267.9L467.8 267.9L467.8 264.7L465.6 264.7ZM438.6 183.3L441 179.1L438.3 177.7L435.9 182.1ZM352.9 235.7L349 235.6L349 238.6L352.8 238.7Z"/>
<path fill="#5c5c5c" d="M485.9 819.5L492 819.5L492.1 816.3L485.9 816.3Z"/>
<path fill="#7a7a7a" d="M492 819.5L493 819.5L493 816.3L492.1 816.3ZM492.1 817L493 817L492.9 813.8L492.2 813.8ZM361.1 205.3L357.1 203L355.7 205.6L359.7 207.7Z"/>
<path fill="#5d5d5d" d="M485.9 817L492.1 817L492.2 813.8L485.9 813.8ZM473.9 272.8L478.1 272.8L478.1 269.6L473.9 269.6ZM353 233.4L349.1 233.3L349 236.3L352.9 236.4Z"/>
<path fill="#5e5e5e" d="M485.9 814.5L492.2 814.5L492.4 811.3L485.9 811.3ZM465.9 270.4L467.8 270.4L467.8 267.2L465.8 267.2Z"/>
<path fill="#797979" d="M492.2 814.5L493 814.5L492.9 811.3L492.4 811.3ZM492.4 812L492.9 812L492.9 808.8L492.5 808.8ZM467.2 290.3L467.8 290.3L467.8 287.1L467 287.1Z"/>
<path fill="#747474" d="M475.5 812.1L480.2 812L480.1 808.9L475.6 808.9ZM475.6 809.6L480.1 809.6L480 806.4L475.6 806.4ZM475.6 807.1L480 807.1L480 803.9L475.7 803.9ZM475.7 804.6L480 804.6L479.9 801.4L475.7 801.4ZM475.7 802.1L479.9 802.1L479.8 798.9L475.7 798.9ZM475.7 799.6L479.8 799.6L479.8 796.4L475.7 796.4ZM475.7 797.1L479.8 797.1L479.8 793.9L475.7 793.9ZM475.7 794.6L479.8 794.6L479.8 791.4L475.7 791.4ZM475.7 792.1L479.8 792.1L479.8 788.9L475.7 788.9ZM475.7 789.6L479.8 789.6L479.8 786.4L475.7 786.4ZM475.7 787.1L479.8 787.1L479.8 783.9L475.7 783.9ZM475.7 784.6L479.8 784.6L479.8 781.4L475.7 781.4ZM475.7 782.1L479.8 782.1L479.8 778.9L475.7 778.9ZM475.7 779.6L479.8 779.6L479.7 776.4L475.7 776.4ZM475.7 777.1L479.7 777.1L479.7 773.9L475.7 773.9ZM475.7 774.6L479.7 774.6L479.7 771.4L475.7 771.4ZM475.7 772.1L479.7 772.1L479.7 768.9L475.6 768.9ZM475.6 769.6L479.7 769.6L479.7 766.4L475.6 766.4ZM474.2 297.8L478.1 297.8L478.1 294.6L474.1 294.6ZM430.4 180.3L432.4 175.2L429.6 174.3L427.7 179.6ZM358.2 210.8L354 209.1L352.9 211.8L357.1 213.4Z"/>
<path fill="#5f5f5f" d="M485.9 812L492.4 812L492.5 808.8L485.9 808.8ZM474 275.3L478.1 275.3L478.1 272.1L473.9 272.1ZM353.1 231L349.1 230.9L349.1 234L353 234.1Z"/>
<path fill="#606060" d="M485.9 809.5L492.5 809.5L492.6 806.3L485.9 806.3Z"/>
<path fill="#787878" d="M492.5 809.5L492.9 809.5L492.9 806.3L492.6 806.3ZM492.6 807L492.9 807L492.9 803.8L492.7 803.8ZM492.7 804.5L492.9 804.5L492.9 801.3L492.8 801.3ZM360.1 207.1L356 205L354.7 207.6L358.8 209.6Z"/>
<path fill="#616161" d="M485.9 807L492.6 807L492.7 803.8L485.9 803.8ZM466.1 272.9L467.8 272.9L467.8 269.7L465.9 269.7ZM436.6 182.5L438.9 178L436.2 176.7L433.9 181.4ZM353.2 229L349.2 228.7L349.1 231.6L353 231.7Z"/>
<path fill="#636363" d="M485.9 804.5L492.7 804.5L492.8 801.3L485.9 801.3ZM353.5 226.9L349.4 226.4L349.2 229.4L353.2 229.7Z"/>
<path fill="#646464" d="M485.9 802L492.8 802L492.9 798.8L485.9 798.8ZM485.9 799.5L492.9 799.5L492.9 796.3L485.9 796.4ZM485.9 797.1L492.9 797L492.9 793.8L485.9 793.9ZM485.9 794.6L492.9 794.5L492.9 791.3L485.9 791.4ZM485.9 792.1L492.9 792L492.9 788.8L485.9 788.9ZM485.9 789.6L492.9 789.5L492.9 786.3L485.9 786.4ZM485.9 787.1L492.9 787L492.9 783.8L485.9 783.9ZM485.9 784.6L492.9 784.5L492.9 781.3L485.9 781.4ZM485.9 782.1L492.9 782L492.9 778.9L485.9 778.9ZM485.9 779.6L492.9 779.6L492.9 776.4L485.9 776.4ZM485.9 777.1L492.9 777.1L492.8 773.9L485.8 773.9ZM474 280.3L478.1 280.3L478.1 277.1L474 277.1Z"/>
<path fill="#777777" d="M492.8 802L492.9 802L492.9 798.8L492.9 798.8ZM475.3 634.8L479.2 634.8L479.2 631.6L475.3 631.6ZM475.3 632.3L479.2 632.3L479.2 629.1L475.3 629.1ZM475.3 629.8L479.2 629.8L479.2 626.6L475.2 626.6ZM475.2 627.3L479.2 627.3L479.2 624.1L475.2 624.1ZM475.2 624.8L479.2 624.8L479.2 621.6L475.2 621.6ZM475.2 622.3L479.2 622.3L479.1 619.1L475.2 619.1ZM475.2 619.8L479.1 619.8L479.1 616.6L475.2 616.6ZM475.2 617.3L479.1 617.3L479.1 614.1L475.2 614.1ZM475.2 614.8L479.1 614.8L479.1 611.6L475.2 611.6ZM475.2 612.3L479.1 612.3L479.1 609.1L475.2 609.2ZM475.2 609.9L479.1 609.8L479.1 606.6L475.2 606.7ZM475.2 607.4L479.1 607.3L479.1 604.1L475.2 604.2ZM475.2 604.9L479.1 604.8L479.1 601.7L475.2 601.7ZM475.2 602.4L479.1 602.4L479.1 599.2L475.2 599.2ZM475.2 599.9L479.1 599.9L478.1 302.1L474.2 302.1ZM474.2 302.8L478.1 302.8L478.1 299.6L474.2 299.6Z"/>
<path fill="#656565" d="M485.8 774.6L492.8 774.6L492.8 771.4L485.8 771.4ZM485.8 772.1L492.8 772.1L492.8 768.9L485.8 768.9ZM485.8 769.6L492.8 769.6L492.8 766.4L485.8 766.4ZM485.8 767.1L492.8 767.1L492.8 763.9L485.8 763.9ZM485.8 764.6L492.8 764.6L492.8 761.4L485.8 761.4ZM485.8 762.1L492.8 762.1L492.8 758.9L485.8 758.9ZM485.8 759.6L492.8 759.6L492.8 756.4L485.8 756.4ZM485.8 757.1L492.8 757.1L492.8 753.9L485.8 753.9ZM485.8 754.6L492.8 754.6L492.8 751.4L485.8 751.4ZM485.8 752.1L492.8 752.1L492.8 748.9L485.8 748.9ZM485.8 749.6L492.8 749.6L492.8 746.4L485.8 746.4ZM485.8 747.1L492.8 747.1L492.7 743.9L485.7 743.9ZM485.7 744.6L492.7 744.6L492.7 741.4L485.7 741.4ZM485.7 742.1L492.7 742.1L492.7 738.9L485.7 738.9ZM485.7 739.6L492.7 739.6L492.7 736.4L485.7 736.4ZM485.7 737.1L492.7 737.1L492.7 733.9L485.7 733.9ZM485.7 734.6L492.7 734.6L492.7 731.4L485.7 731.4ZM485.7 732.1L492.7 732.1L492.7 728.9L485.7 728.9ZM485.7 729.6L492.7 729.6L492.7 726.4L485.7 726.5ZM485.7 727.2L492.7 727.1L492.7 723.9L485.7 724ZM466.3 275.4L467.8 275.4L467.8 272.2L466.1 272.2ZM353.8 224.8L349.7 224.2L349.3 227.1L353.4 227.6Z"/>
<path fill="#757575" d="M475.6 767.1L479.7 767.1L479.7 763.9L475.6 763.9ZM475.6 764.6L479.7 764.6L479.7 761.4L475.6 761.4ZM475.6 762.1L479.7 762.1L479.7 758.9L475.6 758.9ZM475.6 759.6L479.7 759.6L479.7 756.4L475.6 756.4ZM475.6 757.1L479.7 757.1L479.7 753.9L475.6 753.9ZM475.6 754.6L479.7 754.6L479.6 751.4L475.6 751.4ZM475.6 752.1L479.6 752.1L479.6 748.9L475.6 749ZM475.6 749.7L479.6 749.6L479.6 746.4L475.6 746.5ZM475.6 747.2L479.6 747.1L479.6 743.9L475.6 744ZM475.6 744.7L479.6 744.6L479.6 741.5L475.6 741.5ZM475.6 742.2L479.6 742.2L479.6 739L475.6 739ZM475.6 739.7L479.6 739.7L479.6 736.5L475.6 736.5ZM475.6 737.2L479.6 737.2L479.6 734L475.5 734ZM475.5 734.7L479.6 734.7L479.6 731.5L475.5 731.5ZM475.5 732.2L479.6 732.2L479.6 729L475.5 729ZM475.5 729.7L479.6 729.7L479.6 726.5L475.5 726.5ZM475.5 727.2L479.6 727.2L479.5 724L475.5 724ZM475.5 724.7L479.5 724.7L479.5 721.5L475.5 721.5ZM475.5 722.2L479.5 722.2L479.5 719L475.5 719ZM475.5 719.7L479.5 719.7L479.5 716.5L475.5 716.5ZM475.5 717.2L479.5 717.2L479.5 714L475.5 714ZM475.5 714.7L479.5 714.7L479.5 711.5L475.5 711.5ZM475.5 712.2L479.5 712.2L479.5 709L475.5 709ZM475.5 709.7L479.5 709.7L479.5 706.5L475.5 706.5ZM475.5 707.2L479.5 707.2L479.5 704L475.5 704ZM475.5 704.7L479.5 704.7L479.5 701.5L475.5 701.5ZM475.5 702.2L479.5 702.2L479.4 699L475.4 699ZM467 287.8L467.8 287.8L467.8 284.6L466.9 284.6Z"/>
<path fill="#666666" d="M485.7 724.7L492.7 724.6L492.7 721.4L485.7 721.5ZM485.7 722.2L492.7 722.1L492.7 718.9L485.7 719ZM485.7 719.7L492.7 719.6L492.7 716.4L485.7 716.5ZM485.7 717.2L492.7 717.1L492.6 713.9L485.6 714ZM485.7 714.7L492.7 714.6L492.6 711.5L485.6 711.5ZM485.6 712.2L492.6 712.2L492.6 709L485.6 709ZM485.6 709.7L492.6 709.7L492.6 706.5L485.6 706.5ZM485.6 707.2L492.6 707.2L492.6 704L485.6 704ZM485.6 704.7L492.6 704.7L492.6 701.5L485.6 701.5ZM485.6 702.2L492.6 702.2L492.6 699L485.6 699ZM485.6 699.7L492.6 699.7L492.6 696.5L485.6 696.5ZM485.6 697.2L492.6 697.2L492.6 694L485.6 694ZM485.6 694.7L492.6 694.7L492.6 691.5L485.6 691.5ZM485.6 692.2L492.6 692.2L492.6 689L485.6 689ZM485.6 689.7L492.6 689.7L492.6 686.5L485.6 686.5ZM485.6 687.2L492.6 687.2L492.5 684L485.5 684ZM485.6 684.7L492.6 684.7L492.5 681.5L485.5 681.5ZM485.5 682.2L492.5 682.2L492.5 679L485.5 679ZM485.5 679.7L492.5 679.7L492.5 676.5L485.5 676.5ZM485.5 677.2L492.5 677.2L492.5 674L485.5 674ZM474 282.8L478.1 282.8L478.1 279.6L474 279.6Z"/>
<path fill="#767676" d="M475.5 699.7L479.5 699.7L479.4 696.5L475.4 696.5ZM475.4 697.2L479.4 697.2L479.4 694L475.4 694ZM475.4 694.7L479.4 694.7L479.4 691.5L475.4 691.5ZM475.4 692.2L479.4 692.2L479.4 689L475.4 689ZM475.4 689.7L479.4 689.7L479.4 686.5L475.4 686.5ZM475.4 687.2L479.4 687.2L479.4 684L475.4 684ZM475.4 684.7L479.4 684.7L479.4 681.5L475.4 681.5ZM475.4 682.2L479.4 682.2L479.4 679L475.4 679.1ZM475.4 679.8L479.4 679.7L479.4 676.5L475.4 676.6ZM475.4 677.3L479.4 677.2L479.4 674L475.4 674.1ZM475.4 674.8L479.4 674.7L479.3 671.6L475.4 671.6ZM475.4 672.3L479.3 672.3L479.3 669.1L475.4 669.1ZM475.4 669.8L479.3 669.8L479.3 666.6L475.4 666.6ZM475.4 667.3L479.3 667.3L479.3 664.1L475.4 664.1ZM475.4 664.8L479.3 664.8L479.3 661.6L475.3 661.6ZM475.3 662.3L479.3 662.3L479.3 659.1L475.3 659.1ZM475.3 659.8L479.3 659.8L479.3 656.6L475.3 656.6ZM475.3 657.3L479.3 657.3L479.3 654.1L475.3 654.1ZM475.3 654.8L479.3 654.8L479.3 651.6L475.3 651.6ZM475.3 652.3L479.3 652.3L479.3 649.1L475.3 649.1ZM475.3 649.8L479.3 649.8L479.2 646.6L475.3 646.6ZM475.3 647.3L479.3 647.3L479.2 644.1L475.3 644.1ZM475.3 644.8L479.2 644.8L479.2 641.6L475.3 641.6ZM475.3 642.3L479.2 642.3L479.2 639.1L475.3 639.1ZM475.3 639.8L479.2 639.8L479.2 636.6L475.3 636.6ZM475.3 637.3L479.2 637.3L479.2 634.1L475.3 634.1ZM474.2 300.3L478.1 300.3L478.1 297.1L474.2 297.1ZM359.1 209L355 207L353.8 209.7L357.9 211.5Z"/>
<path fill="#676767" d="M485.5 674.7L492.5 674.7L492.5 671.5L485.5 671.5ZM485.5 672.2L492.5 672.2L492.5 669L485.5 669ZM485.5 669.7L492.5 669.7L492.5 666.5L485.5 666.5ZM485.5 667.2L492.5 667.2L492.5 664L485.5 664ZM485.5 664.7L492.5 664.7L492.5 661.5L485.5 661.5ZM485.5 662.2L492.5 662.2L492.5 659L485.5 659ZM485.5 659.7L492.5 659.7L492.5 656.5L485.5 656.6ZM485.5 657.3L492.5 657.2L492.5 654L485.5 654.1ZM485.5 654.8L492.5 654.7L492.4 651.5L485.4 651.6ZM485.4 652.3L492.4 652.2L492.4 649L485.4 649.1ZM485.4 649.8L492.4 649.7L492.4 646.5L485.4 646.6ZM485.4 647.3L492.4 647.2L492.4 644L485.4 644.1ZM485.4 644.8L492.4 644.7L492.4 641.6L485.4 641.6ZM485.4 642.3L492.4 642.3L492.4 639.1L485.4 639.1ZM485.4 639.8L492.4 639.8L492.4 636.6L485.4 636.6ZM485.4 637.3L492.4 637.3L492.4 634.1L485.4 634.1ZM485.4 634.8L492.4 634.8L492.4 631.6L485.4 631.6ZM485.4 632.3L492.4 632.3L492.4 629.1L485.4 629.1ZM485.4 629.8L492.4 629.8L492.4 626.6L485.4 626.6ZM485.4 627.3L492.4 627.3L492.4 624.1L485.4 624.1ZM354.2 222.7L350.1 222L349.6 224.9L353.7 225.5Z"/>
<path fill="#686868" d="M485.4 624.8L492.4 624.8L492.3 621.6L485.3 621.6ZM485.3 622.3L492.3 622.3L492.3 619.1L485.3 619.1ZM485.3 619.8L492.3 619.8L492.3 616.6L485.3 616.6ZM485.3 617.3L492.3 617.3L492.3 614.1L485.3 614.1ZM485.3 614.8L492.3 614.8L492.3 611.6L485.3 611.6ZM485.3 612.3L492.3 612.3L492.3 609.1L485.3 609.1ZM485.3 609.8L492.3 609.8L492.3 606.6L485.3 606.6ZM485.3 607.3L492.3 607.3L492.3 604.1L485.3 604.1ZM485.3 604.8L492.3 604.8L492.3 601.6L485.3 601.6ZM485.3 602.3L492.3 602.3L492.3 599.1L485.3 599.1ZM485.3 599.8L492.3 599.8L491.3 302L484.3 302.1ZM484.3 302.8L491.3 302.7L491.3 299.5L484.3 299.6ZM484.3 300.3L491.3 300.2L491.3 297L484.3 297.1ZM484.3 297.8L491.3 297.7L491.3 294.5L484.4 294.6ZM484.4 295.3L491.3 295.2L491.3 292.1L484.4 292.1ZM484.4 292.8L491.3 292.8L491.3 289.6L484.5 289.6ZM474.1 285.3L478.1 285.3L478.1 282.1L474 282.1ZM466.4 277.9L467.8 277.9L467.8 274.7L466.2 274.7ZM434.5 181.7L436.8 177L434 175.8L431.9 180.7Z"/>
<path fill="#6f6f6f" d="M474.1 292.8L478.1 292.8L478.1 289.6L474.1 289.6ZM466.7 282.8L467.8 282.8L467.8 279.6L466.6 279.7Z"/>
<path fill="#fbfbfb" d="M467.8 290.3L474.1 290.3L474.1 287.1L467.8 287.1ZM478.1 290.3L484.5 290.3L484.5 287.1L478.1 287.1ZM467.8 287.8L474.1 287.8L474.1 284.6L467.8 284.6ZM478.1 287.8L484.5 287.8L484.6 284.6L478.1 284.6ZM467.8 285.3L474.1 285.3L474 282.1L467.8 282.1ZM478.1 285.3L484.6 285.3L484.6 282.1L478.1 282.1ZM467.8 282.8L474 282.8L474 279.6L467.8 279.6ZM478.1 282.8L484.6 282.8L484.7 279.6L478.1 279.6ZM467.8 280.3L474 280.3L474 277.1L467.8 277.2ZM478.1 280.3L484.7 280.3L484.7 277.1L478.1 277.1ZM467.8 277.9L474 277.8L474 274.6L467.8 274.7ZM478.1 277.8L484.7 277.8L484.8 274.6L478.1 274.6ZM467.8 275.4L474 275.3L473.9 272.1L467.8 272.2ZM478.1 275.3L484.8 275.3L484.8 272.1L478.1 272.1ZM465.6 209.3L470.6 207.1L469.6 204L464.5 206.5ZM464.8 207.1L469.9 204.7L468.7 201.7L463.7 204.3ZM340.6 217.5L337.4 216.8L336.7 220.1L339.9 220.7ZM337.4 216.8L334 216L333.4 219.5L336.7 220.1ZM340 220.1L336.9 219.5L336.3 222.9L339.5 223.3ZM336.9 219.5L333.5 218.8L332.9 222.4L336.3 222.9ZM339.6 222.7L336.4 222.2L336 225.6L339.2 226ZM336.4 222.2L333 221.7L332.6 225.2L336 225.6ZM338.3 258.1L335.4 258L335.2 261L338.2 261.1ZM335.4 258L331.9 257.9L331.6 260.9L335.2 261Z"/>
<path fill="#6d6d6d" d="M474.1 290.3L478.1 290.3L478.1 287.1L474.1 287.1ZM355.8 216.7L351.7 215.4L350.9 218.2L355 219.3Z"/>
<path fill="#696969" d="M484.5 290.3L491.3 290.3L491.3 287.1L484.5 287.1ZM484.5 287.8L491.3 287.8L491.3 284.6L484.6 284.6ZM484.6 285.3L491.3 285.3L491.3 282.1L484.6 282.1ZM484.6 282.8L491.3 282.8L491.3 279.6L484.7 279.6ZM484.7 280.3L491.3 280.3L491.3 277.1L484.7 277.1ZM484.7 277.8L491.3 277.8L491.3 274.6L484.8 274.6ZM484.8 275.3L491.3 275.3L491.3 272.1L484.8 272.1ZM354.7 220.7L350.5 219.8L350 222.6L354.1 223.4Z"/>
<path fill="#6b6b6b" d="M474.1 287.8L478.1 287.8L478.1 284.6L474.1 284.6ZM466.6 280.4L467.8 280.3L467.8 277.2L466.4 277.2ZM355.2 218.7L351.1 217.6L350.4 220.4L354.5 221.4Z"/>
<path fill="#626262" d="M474 277.8L478.1 277.8L478.1 274.6L474 274.6Z"/>
<path fill="#fcfcfc" d="M467.8 272.9L473.9 272.8L473.9 269.6L467.8 269.7ZM478.1 272.8L484.8 272.8L484.9 269.6L478.1 269.6ZM467.8 270.4L473.9 270.3L473.9 267.1L467.8 267.2ZM478.1 270.3L484.9 270.3L484.9 267.1L478.1 267.1ZM467.8 267.9L473.9 267.8L473.9 264.6L467.8 264.7ZM478.1 267.8L484.9 267.8L485 264.6L478.1 264.6ZM467.9 265.4L473.9 265.3L473.9 262.2L467.9 262.2ZM478.2 265.3L485 265.3L485 262.1L478.2 262.1ZM467.9 262.9L473.9 262.9L473.8 259.7L467.8 259.7ZM478.2 262.8L485 262.8L485 259.6L478.1 259.6ZM467.9 260.4L473.9 260.4L473.9 257.2L467.9 257.2ZM478.2 260.3L485.1 260.3L485.1 257.3L478.2 257.2ZM467.9 257.9L473.9 257.9L473.9 247.6L467.9 247.6ZM478.2 257.9L485.1 258L485.1 247.6L478.2 247.6ZM467.9 248.3L473.9 248.3L473.8 245.2L467.9 245.2ZM478.2 248.3L485.1 248.3L485.1 245.2L478.2 245.2ZM467.9 245.9L473.8 245.9L473.8 242.8L467.9 242.8ZM467.9 243.5L473.8 243.5L473.7 240.4L467.9 240.4ZM467.9 241.1L473.7 241.1L473.4 238L468 238ZM467.7 218.2L472.7 216.9L472.1 213.7L467.1 215.3ZM467.3 215.9L472.3 214.4L471.6 211.3L466.6 213ZM466.8 213.7L471.8 212L471 208.9L466 210.8ZM466.2 211.5L471.3 209.5L470.3 206.4L465.3 208.6ZM339.2 225.3L336.1 224.9L335.9 228.4L338.9 228.6ZM336.1 224.9L332.7 224.5L332.4 228.1L335.9 228.4ZM339 227.9L335.9 227.7L335.8 231.1L338.8 231.2ZM335.9 227.7L332.5 227.4L332.3 231L335.8 231.1ZM338.8 230.5L335.8 230.4L335.8 233.7L338.8 233.8ZM335.8 230.4L332.4 230.3L332.3 233.6L335.8 233.7ZM338.4 255.8L335.5 255.7L335.4 258.7L338.3 258.8ZM335.5 255.7L332.1 255.6L331.8 258.6L335.4 258.7Z"/>
<path fill="#6a6a6a" d="M484.8 272.8L491.3 272.8L491.3 269.6L484.9 269.6ZM484.9 270.3L491.3 270.3L491.3 267.1L484.9 267.1ZM484.9 267.8L491.3 267.8L491.3 264.6L485 264.6ZM485 265.3L491.4 265.3L491.4 262.1L485 262.1ZM485 262.8L491.4 262.8L491.3 259.6L485 259.6ZM485.1 260.3L491.4 260.3L491.4 257.3L485.1 257.3ZM485.1 258L491.4 258L491.4 247.6L485.1 247.6Z"/>
<path fill="#6e6e6e" d="M485.1 248.3L491.4 248.3L490.9 245.2L485.1 245.2ZM432.5 181L434.6 176.1L431.8 175L429.8 180.1Z"/>
<path fill="#cccccc" d="M491.4 248.3L491.4 248.3L491.3 245.2L490.9 245.2ZM351.7 215.4L347.1 214L346.3 217L350.9 218.2ZM351.1 217.6L346.5 216.3L345.8 219.4L350.4 220.4ZM350.5 219.8L345.9 218.7L345.3 221.8L350 222.6ZM334.5 315.1L331 314.1L330.1 316.9L333.5 318.1Z"/>
<path fill="#535353" d="M473.8 245.9L478.2 245.9L478.1 242.8L473.8 242.8ZM352.6 244.8L348.9 244.7L348.8 247.7L352.4 247.8Z"/>
<path fill="#949494" d="M485.1 245.9L490.9 245.9L490.2 242.8L485.1 242.8ZM420 178.4L421.1 172.3L418.1 171.9L417.2 178.2ZM380 186.4L377.1 181.7L374.6 183.4L377.7 187.9ZM356.4 277.1L352.3 276.9L352.2 280L356.3 280.1ZM330 276.3L326.5 276.2L326.4 279.6L330 279.6ZM356.3 279.4L352.2 279.3L352.2 282.4L356.3 282.5ZM330 278.9L326.5 278.9L326.4 282.2L330 282.2ZM356.3 281.8L352.2 281.7L352.1 284.9L356.3 284.9ZM330 281.5L326.4 281.5L326.4 284.7L330 284.7ZM356.3 284.2L352.1 284.2L352.1 287.4L356.3 287.5ZM330 284L326.4 284L326.4 287.1L330 287.2ZM356.3 286.8L352.1 286.7L352 290L356.2 290ZM330 286.5L326.4 286.4L326.4 289.5L330.1 289.6ZM356.2 289.3L352 289.3L352 292.6L356.2 292.7ZM330.1 288.9L326.4 288.8L326.3 291.8L330 291.9Z"/>
<path fill="#cacaca" d="M490.9 245.9L491.3 245.9L491.1 242.8L490.2 242.8ZM359.5 199.2L355.4 196.4L353.7 199.1L357.9 201.7ZM358.2 201.1L354.1 198.5L352.5 201.2L356.7 203.6ZM357.1 203L352.9 200.6L351.4 203.3L355.7 205.6ZM356 205L351.7 202.7L350.3 205.5L354.7 207.6ZM333.8 317.4L330.3 316.2L329.4 319L332.7 320.3Z"/>
<path fill="#bababa" d="M485.1 243.5L490.2 243.5L489.4 240.4L485.1 240.4ZM383.6 188.4L381.8 185.4L379.5 186.8L381.3 189.7ZM381.9 189.4L380 186.4L377.7 187.9L379.7 190.8ZM380.3 190.4L378.3 187.5L376 189.1L378.1 191.9ZM366.5 204L363.4 201.9L361.8 204.2L365.1 206.2ZM365.5 205.6L362.2 203.6L360.8 205.9L364.1 207.9ZM364.4 207.3L361.1 205.3L359.7 207.7L363.2 209.6ZM363.5 209L360.1 207.1L358.8 209.6L362.3 211.3Z"/>
<path fill="#c9c9c9" d="M490.2 243.5L491.1 243.5L490.9 240.4L489.4 240.4ZM363.6 193.8L359.8 190.6L357.9 193L361.7 196.1ZM362.2 195.5L358.3 192.5L356.4 195L360.4 197.9ZM360.8 197.3L356.8 194.4L355 197L359.1 199.8Z"/>
<path fill="#f3f3f3" d="M478.1 241.1L485.1 241.1L484.5 238L477.9 238ZM385.9 165.9L384.7 162.5L381.5 163.8L382.8 167.1ZM383.4 166.9L382.1 163.5L378.9 164.9L380.3 168.2ZM381 167.9L379.5 164.6L376.4 166.1L377.9 169.4ZM372.1 168.5L370.4 165.6L367.3 167.5L369.1 170.4ZM369.7 170L367.9 167.1L364.9 169.2L366.8 171.9ZM347.4 269.9L343 269.8L342.8 272.8L347.2 272.9Z"/>
<path fill="#d8d8d8" d="M485.1 241.1L489.4 241.1L488.9 238L484.5 238ZM337.2 301.1L333.5 300.7L333.1 303.7L336.8 304.2ZM331 314.1L327.5 313L326.7 315.7L330.1 316.9Z"/>
<path fill="#c6c6c6" d="M489.4 241.1L490.9 241.1L490.7 238L488.9 238ZM368.3 188.9L364.8 185.1L362.6 187.4L366.2 191ZM321.4 334.2L318.5 332L316.8 334.2L319.6 336.5Z"/>
<path fill="#a8a8a8" d="M460 238.6L465.1 238.6L464.8 235.5L460.3 235.5ZM428.5 185.3L430.4 180.3L427.7 179.6L426 184.4ZM401.3 179L400.3 172.4L397.4 173L398.6 179.4ZM383 178.3L380.6 173.3L377.8 174.8L380.4 179.7ZM335.4 210.4L331.2 209.1L330.1 212.7L334.5 213.8ZM334.7 213.2L330.3 212L329.4 215.6L333.9 216.7ZM334 216L329.5 215L328.7 218.6L333.4 219.5Z"/>
<path fill="#fdfdfd" d="M468 238.7L473.4 238.7L473.1 235.6L468.1 235.5ZM468.3 222.7L473.2 221.8L472.8 218.6L467.9 219.7ZM468.1 220.4L473 219.3L472.5 216.2L467.5 217.5ZM338.8 233.1L335.8 233L335.8 236L338.7 236ZM335.8 233L332.4 232.9L332.3 235.9L335.8 236ZM338.8 235.3L335.8 235.3L335.8 238.2L338.7 238.3ZM335.8 235.3L332.4 235.2L332.3 238.2L335.8 238.2ZM338.7 237.6L335.8 237.5L335.7 240.5L338.7 240.6ZM335.8 237.5L332.3 237.5L332.3 240.4L335.7 240.5ZM338.7 239.9L335.8 239.8L335.7 242.8L338.6 242.9ZM335.8 239.8L332.3 239.7L332.3 242.7L335.7 242.8ZM347 274.5L342.7 274.4L342.5 277.4L346.8 277.5Z"/>
<path fill="#efefef" d="M477.9 238.7L484.5 238.7L483.6 235.6L477.7 235.6ZM452.6 187.2L456.9 182.6L454.4 180.4L450.3 185.2ZM414.9 161.5L415.2 158.2L411.7 158L411.5 161.4ZM395.6 159.5L395 156.4L391.4 157.2L392.1 160.2ZM392.8 160.1L392.1 157L388.6 157.9L389.4 161ZM347.6 267.6L343.2 267.5L343 270.5L347.4 270.6ZM338 274.2L334.2 274.1L334 277.1L337.9 277.3ZM334.2 274.1L330.2 274L330 277L334 277.1Z"/>
<path fill="#d9d9d9" d="M484.5 238.7L488.9 238.7L488.5 235.6L483.6 235.6ZM331.6 311.9L328.1 310.9L327.3 313.7L330.8 314.7Z"/>
<path fill="#bcbcbc" d="M488.9 238.7L490.7 238.7L490.5 235.6L488.5 235.6ZM374.2 195.2L371.7 192.6L369.7 194.5L372.3 197ZM372.7 196.6L370.2 194L368.3 196L370.9 198.5ZM371.4 197.9L368.7 195.5L366.9 197.5L369.6 199.9ZM326.8 332.4L323.8 330.6L322.2 333L325.1 335Z"/>
<path fill="#a7a7a7" d="M460.3 236.2L464.8 236.2L464.5 233.2L460.5 233.3ZM430.3 186.1L432.5 181L429.8 180.1L427.8 185.1ZM428 173.8L429.8 167.8L426.7 166.9L425 173ZM413.7 178.2L414.2 171.6L411.2 171.5L410.9 178.3ZM333.5 218.8L328.9 217.9L328.2 221.6L332.9 222.4ZM333 221.7L328.3 221L327.8 224.7L332.6 225.2ZM332.7 224.5L327.9 224L327.5 227.7L332.4 228.1ZM332.5 227.4L327.5 227L327.3 230.8L332.3 231ZM304.4 352.8L302.8 349.7L300.1 351.1L301.7 354.2ZM296.6 352.7L295.1 349.2L292.4 350.3L293.8 353.9Z"/>
<path fill="#2f2f2f" d="M464.8 236.2L468.1 236.2L468.2 233.2L464.5 233.2ZM472.3 214.4L476.4 213.1L475.6 209.9L471.6 211.3ZM471.8 212L475.8 210.6L474.9 207.3L471 208.9ZM451.7 191.5L454.3 188.8L452.1 186.8L449.4 189.7ZM352.3 272.4L347.2 272.2L347 275.2L352.3 275.4Z"/>
<path fill="#fefefe" d="M468.1 236.2L473.1 236.3L472.7 233.2L468.2 233.2ZM468.5 229.4L473.2 229.1L473.2 225.9L468.4 226.5ZM468.5 227.2L473.2 226.6L473.1 223.5L468.3 224.2ZM468.4 224.9L473.2 224.2L473 221.1L468.2 222ZM338.6 242.2L335.8 242.1L335.7 245.1L338.6 245.1ZM335.8 242.1L332.3 242L332.3 245L335.7 245.1ZM338.6 244.4L335.7 244.4L335.7 247.4L338.5 247.4ZM335.7 244.4L332.3 244.3L332.3 247.3L335.7 247.4ZM338.5 246.7L335.7 246.7L335.7 249.6L338.5 249.7ZM335.7 246.7L332.3 246.6L332.3 249.6L335.7 249.6ZM338.4 253.5L335.7 253.5L335.5 256.4L338.3 256.5ZM335.7 253.5L332.3 253.4L332.1 256.3L335.5 256.4Z"/>
<path fill="#eaeaea" d="M477.7 236.3L483.6 236.3L482.7 233.1L477.5 233.1ZM436.1 165.9L437.2 163.1L433.9 161.9L432.9 164.8ZM433.5 165L434.5 162.2L431.2 161.1L430.3 164ZM418 158.4L418.3 155.5L414.7 155.2L414.5 158.1ZM347.8 265.3L343.4 265.2L343.2 268.2L347.5 268.3Z"/>
<path fill="#dadada" d="M483.6 236.3L488.5 236.3L488.1 233L482.7 233.1ZM482.7 233.8L488.1 233.7L488 230.2L482.8 230.4ZM482.8 231.1L488.1 230.9L487.9 227.3L482.7 227.6ZM482.8 228.3L487.9 228L487.6 224.3L482.6 224.9ZM482.6 225.6L487.6 225L487.2 221.4L482.3 222.1ZM482.4 222.8L487.3 222.1L486.7 218.5L481.9 219.4ZM482.1 220.1L486.8 219.2L486 215.6L481.5 216.6ZM481.6 217.3L486.2 216.3L485.3 212.7L480.9 213.9ZM481.1 214.6L485.5 213.4L484.5 209.9L480.2 211.2ZM480.4 211.9L484.7 210.6L483.6 207.1L479.5 208.5ZM479.7 209.2L483.8 207.8L482.5 204.3L478.6 205.9ZM478.9 206.5L482.8 205L481.4 201.6L477.6 203.3ZM477.9 203.9L481.7 202.3L480.1 199L476.6 200.7ZM476.9 201.3L480.4 199.6L478.8 196.3L475.4 198.1ZM475.7 198.7L479.1 196.9L477.4 193.7L474.1 195.6ZM474.5 196.2L477.7 194.4L475.8 191.2L472.8 193.1ZM473.1 193.7L476.2 191.8L474.2 188.8L471.3 190.7ZM471.7 191.3L474.6 189.3L472.5 186.4L469.8 188.4ZM470.2 188.9L472.9 186.9L470.7 184L468.1 186.1ZM468.6 186.6L471.1 184.6L468.8 181.8L466.4 183.8ZM466.9 184.3L469.2 182.3L466.8 179.6L464.6 181.6ZM465.1 182.1L467.3 180.1L464.7 177.5L462.7 179.5ZM463.2 180L465.2 178L462.6 175.4L460.6 177.6ZM337.4 298.7L333.6 298.4L333.4 301.4L337.1 301.8ZM332.1 309.7L328.5 308.9L327.9 311.6L331.4 312.6Z"/>
<path fill="#b1b1b1" d="M488.5 236.3L490.5 236.3L490.3 233L488.1 233ZM435.5 159.4L436.3 157.1L432.8 155.9L432 158.2ZM432.7 158.4L433.4 156.1L429.9 155.1L429.2 157.5ZM415.4 182L415.8 178.2L413 178.2L412.7 181.7ZM389.3 157.7L388.5 155L384.9 156L385.8 158.8ZM386.5 158.6L385.6 155.8L382 156.9L383 159.7ZM316.1 344.8L313.9 342.2L311.6 344L313.8 346.8Z"/>
<path fill="#a6a6a6" d="M460.5 234L464.5 233.9L464.7 231.1L460.5 231.2ZM432 186.9L434.5 181.7L431.9 180.7L429.6 185.8ZM399.3 179.3L398.1 172.9L395.2 173.6L396.6 179.8ZM332.4 230.3L327.3 230.1L327.2 233.5L332.3 233.6ZM332.4 232.9L327.2 232.8L327.1 235.7L332.3 235.9ZM332.4 235.2L327.2 235L327.1 238L332.3 238.2ZM332.3 237.5L327.1 237.3L327 240.3L332.3 240.4ZM356.7 263.3L352.2 263.2L352.2 266.2L356.6 266.3ZM302.3 353.9L300.8 350.8L298.1 352.1L299.5 355.2Z"/>
<path fill="#2a2a2a" d="M464.5 233.9L468.2 233.9L468.4 230.9L464.7 231.1ZM464.7 231.8L468.4 231.6L468.4 228.7L464.7 229ZM464.8 229.7L468.5 229.4L468.4 226.5L464.7 226.9ZM464.8 227.6L468.5 227.2L468.3 224.2L464.7 224.8ZM464.8 225.5L468.4 224.9L468.2 222L464.5 222.7ZM460.5 186.4L463.1 184L460.9 181.4L458.4 183.8ZM458.9 184.3L461.3 181.8L458.8 179.5L456.4 182.1ZM352.3 276.9L346.8 276.8L346.7 279.9L352.2 280ZM352.2 279.3L346.7 279.2L346.7 282.4L352.2 282.4ZM352.2 281.7L346.7 281.7L346.6 284.9L352.1 284.9ZM320.5 358.8L317.3 354.5L314.5 356.4L317.5 360.9ZM318.1 360.5L315.1 356L312.3 357.8L315.1 362.4ZM315.7 362L312.9 357.5L310 359.2L312.6 363.8ZM313.2 363.5L310.6 358.8L307.7 360.4L310.2 365.1Z"/>
<path fill="#ffffff" d="M468.2 233.9L472.7 233.9L472.9 230.8L468.4 230.9ZM468.4 231.6L473 231.5L473.1 228.4L468.4 228.7ZM338.5 249L335.7 248.9L335.7 251.9L338.4 252ZM335.7 248.9L332.3 248.9L332.3 251.8L335.7 251.9ZM338.5 251.3L335.7 251.2L335.7 254.2L338.4 254.2ZM335.7 251.2L332.3 251.1L332.3 254.1L335.7 254.2ZM346.8 276.8L342.5 276.7L342.4 279.9L346.7 279.9ZM346.7 279.2L342.4 279.2L342.4 282.3L346.7 282.4ZM346.7 281.7L342.4 281.6L342.4 284.8L346.6 284.9ZM346.6 284.2L342.4 284.1L342.4 287.3L346.6 287.4ZM346.6 286.7L342.4 286.6L342.3 289.8L346.6 289.9ZM346.6 289.2L342.3 289.1L342.3 292.3L346.5 292.4ZM346.5 291.7L342.3 291.6L342.2 294.8L346.4 295ZM346.4 294.3L342.2 294.1L342 297.3L346.2 297.6ZM346.3 296.9L342.1 296.6L341.9 299.8L346 300.2ZM346.1 299.5L341.9 299.1L341.6 302.3L345.8 302.8ZM345.8 302.1L341.7 301.6L341.3 304.8L345.4 305.4ZM345.5 304.7L341.4 304.1L340.9 307.3L345 308ZM345.1 307.3L341 306.6L340.5 309.8L344.5 310.6ZM344.6 309.9L340.6 309.1L339.9 312.2L343.9 313.2ZM344.1 312.5L340.1 311.6L339.3 314.7L343.3 315.7ZM343.4 315.1L339.5 314L338.6 317.1L342.5 318.3ZM342.7 317.6L338.8 316.4L337.8 319.5L341.7 320.8ZM341.9 320.2L338 318.8L336.9 321.9L340.7 323.3ZM341 322.7L337.2 321.2L336 324.2L339.8 325.8ZM340 325.1L336.3 323.6L335 326.5L338.7 328.2ZM339 327.6L335.3 325.9L333.9 328.8L337.5 330.6ZM337.8 330L334.2 328.2L332.8 331.1L336.3 333ZM336.6 332.3L333.1 330.5L331.5 333.3L335 335.3ZM335.3 334.7L331.9 332.7L330.2 335.4L333.6 337.6ZM333.9 337L330.6 334.9L328.8 337.5L332 339.8ZM332.4 339.2L329.2 337L327.3 339.6L330.4 342ZM330.9 341.4L327.7 339L325.7 341.6L328.7 344.1ZM329.2 343.5L326.1 341L324 343.5L326.9 346.1ZM327.4 345.6L324.5 342.9L322.3 345.3L325 348ZM325.5 347.5L322.7 344.8L320.4 347L323.1 349.9ZM323.6 349.4L320.9 346.6L318.5 348.7L321 351.6ZM321.6 351.2L319 348.3L316.5 350.3L318.9 353.3ZM319.5 352.9L317.1 349.9L314.5 351.8L316.8 354.9ZM317.3 354.5L315.1 351.4L312.4 353.2L314.5 356.4ZM315.1 356L313 352.9L310.3 354.6L312.3 357.8ZM312.9 357.5L310.9 354.2L308.1 355.9L310 359.2ZM310.6 358.8L308.7 355.5L305.9 357.1L307.7 360.4ZM308.3 360.1L306.5 356.7L303.6 358.2L305.3 361.6ZM305.9 361.3L304.3 357.9L301.4 359.3L302.9 362.7ZM303.6 362.4L302 359L299.1 360.3L300.5 363.7ZM301.2 363.4L299.7 360L296.7 361.2L298.1 364.7ZM298.8 364.4L297.4 361L294.4 362.1L295.7 365.6ZM296.3 365.3L295 361.9L292 363L293.2 366.4ZM293.9 366.2L292.7 362.7L289.6 363.8L290.8 367.2ZM291.4 367L290.3 363.5L287.2 364.5L288.3 368ZM289 367.8L287.9 364.3L284.8 365.2L285.8 368.7ZM286.5 368.5L285.5 365L282.4 365.9L283.4 369.4ZM284 369.2L283.1 365.7L280 366.5L280.9 370ZM281.6 369.8L280.7 366.3L277.6 367.1L278.4 370.6ZM279.1 370.4L278.3 366.9L275.1 367.6L276 371.2ZM276.6 371L275.8 367.5L272.7 368.2L273.5 371.7ZM274.2 371.6L273.4 368L270.3 368.7L271.1 372.2ZM271.7 372.1L271 368.6L267.8 369.3L268.6 372.8Z"/>
<path fill="#333333" d="M472.7 233.9L477.5 233.8L477.7 230.6L472.9 230.8ZM352.3 270.1L347.4 269.9L347.2 272.9L352.3 273.1Z"/>
<path fill="#e8e8e8" d="M477.5 233.8L482.7 233.8L482.8 230.4L477.7 230.6ZM477.7 231.3L482.8 231.1L482.7 227.6L477.8 228ZM443.6 169.2L444.9 166.6L441.8 165.1L440.5 167.7ZM441.1 168L442.4 165.4L439.2 163.9L438 166.7ZM423.6 159.3L424.2 156.3L420.6 155.7L420.1 158.7ZM334 286.5L330 286.5L330.1 289.6L333.9 289.7Z"/>
<path fill="#acacac" d="M488.1 233.7L490.3 233.7L490.2 230.1L488 230.2ZM488.1 230.9L490.3 230.8L490 227.1L487.9 227.3ZM487.9 228L490.1 227.8L489.8 224.1L487.6 224.3ZM487.6 225L489.8 224.8L489.3 221.1L487.2 221.4ZM487.3 222.1L489.4 221.8L488.8 218.1L486.7 218.5ZM486.8 219.2L489 218.8L488.2 215.1L486 215.6ZM486.2 216.3L488.3 215.8L487.4 212.2L485.3 212.7ZM485.5 213.4L487.6 212.8L486.6 209.3L484.5 209.9ZM484.7 210.6L486.8 209.9L485.6 206.4L483.6 207.1ZM483.8 207.8L485.9 207L484.6 203.5L482.5 204.3ZM482.8 205L484.8 204.2L483.4 200.7L481.4 201.6ZM481.7 202.3L483.7 201.4L482.1 198L480.1 199ZM480.4 199.6L482.4 198.6L480.7 195.3L478.8 196.3ZM479.1 196.9L481.1 195.9L479.3 192.6L477.4 193.7ZM477.7 194.4L479.6 193.3L477.7 190.1L475.8 191.2ZM476.2 191.8L478.1 190.6L476 187.5L474.2 188.8ZM474.6 189.3L476.4 188.1L474.2 185.1L472.5 186.4ZM472.9 186.9L474.7 185.6L472.4 182.7L470.7 184ZM471.1 184.6L472.8 183.2L470.4 180.3L468.8 181.8ZM469.2 182.3L470.9 180.9L468.4 178.1L466.8 179.6ZM467.3 180.1L468.9 178.6L466.3 175.9L464.7 177.5ZM465.2 178L466.8 176.4L464.1 173.8L462.6 175.4ZM423 183.5L424.2 179L421.4 178.5L420.4 182.8ZM381 179.3L378.4 174.5L375.7 176.1L378.4 180.8ZM356.4 176.1L354.1 173.6L351.4 176.2L353.8 178.6ZM354.3 178.1L351.9 175.7L349.3 178.4L351.8 180.7ZM352.3 180.2L349.7 177.9L347.2 180.6L349.9 183ZM356.8 258.7L352.2 258.6L352.2 261.6L356.7 261.7ZM310.5 349.1L308.6 346.2L306.1 347.8L307.9 350.8Z"/>
<path fill="#a5a5a5" d="M460.5 231.9L464.7 231.8L464.7 229L460.4 229.3ZM460.4 230L464.8 229.7L464.7 226.9L460.2 227.4ZM433.8 187.8L436.6 182.5L433.9 181.4L431.4 186.6ZM385 177.3L382.8 172.1L379.9 173.6L382.4 178.6ZM332.3 239.7L327 239.6L326.9 242.6L332.3 242.7ZM332.3 242L326.9 241.9L326.8 244.9L332.3 245ZM332.3 244.3L326.8 244.2L326.7 247.1L332.3 247.3ZM332.3 246.6L326.8 246.4L326.7 249.4L332.3 249.6ZM294.4 353.6L293 350L290.2 351.1L291.6 354.7Z"/>
<path fill="#323232" d="M473 231.5L477.7 231.3L477.8 228L473.1 228.4ZM473.2 229.1L477.8 228.7L477.8 225.4L473.2 225.9ZM473.2 226.6L477.8 226.1L477.6 222.8L473.1 223.5Z"/>
<path fill="#e7e7e7" d="M477.8 228.7L482.8 228.3L482.6 224.9L477.8 225.4ZM477.8 226.1L482.6 225.6L482.3 222.1L477.6 222.8ZM477.7 223.5L482.4 222.8L481.9 219.4L477.4 220.2ZM446 170.5L447.4 168L444.3 166.3L443 168.9ZM426.4 159.8L427 156.9L423.5 156.2L422.9 159.1ZM337.8 284.1L334 284L334 287.2L337.8 287.3ZM334 289L330.1 288.9L330 291.9L333.9 292.1Z"/>
<path fill="#a4a4a4" d="M460.3 228.1L464.8 227.6L464.7 224.8L460 225.5ZM397.3 179.7L395.8 173.4L392.9 174.2L394.6 180.3ZM332.3 248.9L326.7 248.7L326.6 251.7L332.3 251.8ZM332.3 251.1L326.6 251L326.5 253.9L332.3 254.1ZM300.1 354.9L298.7 351.8L295.9 353L297.3 356.1Z"/>
<path fill="#a3a3a3" d="M460.1 226.2L464.8 225.5L464.5 222.7L459.7 223.6ZM459.8 224.3L464.6 223.4L464.3 220.6L459.3 221.7ZM435.5 188.7L438.6 183.3L435.9 182.1L433.1 187.5ZM332.3 253.4L326.5 253.2L326.5 256.2L332.1 256.3ZM292.3 354.5L290.9 350.8L288.1 351.8L289.4 355.5Z"/>
<path fill="#313131" d="M473.2 224.2L477.7 223.5L477.4 220.2L473 221.1ZM473.2 221.8L477.6 220.9L477.1 217.6L472.8 218.6Z"/>
<path fill="#2b2b2b" d="M464.6 223.4L468.3 222.7L467.9 219.7L464.3 220.6ZM464.4 221.3L468.1 220.4L467.5 217.5L463.9 218.5ZM464.1 219.1L467.7 218.2L467.1 215.3L463.5 216.4ZM463.7 217L467.3 215.9L466.6 213L463.1 214.3ZM463.3 214.9L466.8 213.7L466 210.8L462.5 212.2ZM462.8 212.9L466.2 211.5L465.3 208.6L461.9 210.1ZM462.1 210.8L465.6 209.3L464.5 206.5L461.1 208.1ZM461.4 208.7L464.8 207.1L463.7 204.3L460.3 206.1ZM460.7 206.7L464 204.9L462.7 202.2L459.5 204.1ZM459.8 204.7L463.1 202.8L461.7 200.1L458.5 202.1ZM458.9 202.7L462.1 200.7L460.6 198L457.5 200.2ZM463.4 190.8L466.2 188.5L464.2 185.7L461.5 188ZM461.9 188.6L464.7 186.2L462.6 183.5L460 185.9ZM352.1 284.2L346.6 284.2L346.6 287.4L352.1 287.4ZM352.1 286.7L346.6 286.7L346.6 289.9L352 290ZM352 289.3L346.6 289.2L346.5 292.4L352 292.6ZM352 291.9L346.5 291.7L346.4 295L351.8 295.2ZM351.9 294.5L346.4 294.3L346.2 297.6L351.7 297.9ZM327.2 353.3L323.6 349.4L321 351.6L324.5 355.7ZM325 355.3L321.6 351.2L318.9 353.3L322.2 357.5ZM322.8 357.1L319.5 352.9L316.8 354.9L319.9 359.3Z"/>
<path fill="#e6e6e6" d="M477.6 220.9L482.1 220.1L481.5 216.6L477.1 217.6ZM477.3 218.3L481.6 217.3L480.9 213.9L476.7 215ZM476.9 215.7L481.1 214.6L480.2 211.2L476.2 212.5ZM476.4 213.1L480.4 211.9L479.5 208.5L475.6 209.9ZM450.7 173.3L452.2 171L449.3 169.1L447.8 171.5ZM448.3 171.9L449.9 169.5L446.8 167.7L445.4 170.1ZM431.8 161.3L432.7 158.4L429.2 157.5L428.4 160.3ZM429.1 160.5L429.9 157.6L426.4 156.8L425.7 159.7Z"/>
<path fill="#a2a2a2" d="M459.5 222.4L464.4 221.3L463.9 218.5L458.9 219.8ZM459 220.5L464.1 219.1L463.5 216.4L458.3 218ZM437.1 189.7L440.5 184.3L438 183L434.8 188.4ZM395.3 180.1L393.6 174L390.8 174.9L392.6 180.9ZM332.1 255.6L326.5 255.5L326.5 258.5L331.8 258.6ZM356.7 265.6L352.3 265.5L352.2 268.5L356.6 268.6ZM297.9 355.9L296.6 352.7L293.8 353.9L295.1 357Z"/>
<path fill="#303030" d="M473 219.3L477.3 218.3L476.7 215L472.5 216.2ZM472.7 216.9L476.9 215.7L476.2 212.5L472.1 213.7Z"/>
<path fill="#a1a1a1" d="M458.5 218.6L463.7 217L463.1 214.3L457.7 216.1ZM458 216.8L463.3 214.9L462.5 212.2L457.1 214.3ZM438.7 190.8L442.5 185.3L440 183.9L436.5 189.4ZM425.7 173.2L427.4 167.1L424.2 166.4L422.8 172.6ZM393.3 180.7L391.4 174.7L388.6 175.7L390.6 181.5ZM387.1 176.3L385.1 171L382.2 172.4L384.4 177.5ZM295.7 356.8L294.4 353.6L291.6 354.7L292.8 357.9Z"/>
<path fill="#e5e5e5" d="M475.8 210.6L479.7 209.2L478.6 205.9L474.9 207.3ZM475.2 208L478.9 206.5L477.6 203.3L474.1 204.8ZM474.4 205.4L477.9 203.9L476.6 200.7L473.2 202.3ZM452.9 174.8L454.6 172.6L451.7 170.6L450.1 172.9ZM434.5 162.2L435.5 159.4L432 158.2L431.2 161.1ZM347.9 263L343.5 262.9L343.3 265.9L347.7 266ZM337.8 286.6L334 286.5L333.9 289.7L337.7 289.7ZM333.9 291.4L330.1 291.2L330 294.3L333.8 294.4Z"/>
<path fill="#a0a0a0" d="M457.3 215L462.8 212.9L461.9 210.1L456.4 212.5ZM440.3 191.9L444.4 186.4L441.9 184.9L438.1 190.4ZM415.8 178.2L416.5 171.7L413.5 171.5L413 178.2ZM331.9 257.9L326.5 257.8L326.5 260.8L331.6 260.9ZM290.1 355.3L288.8 351.6L286 352.5L287.2 356.2Z"/>
<path fill="#2e2e2e" d="M471.3 209.5L475.2 208L474.1 204.8L470.3 206.4ZM470.6 207.1L474.4 205.4L473.2 202.3L469.6 204ZM469.9 204.7L473.5 202.9L472.2 199.8L468.7 201.7ZM345 327.2L340 325.1L338.7 328.2L343.6 330.4ZM343.9 329.8L339 327.6L337.5 330.6L342.4 333ZM342.7 332.3L337.8 330L336.3 333L341.1 335.5ZM341.4 334.9L336.6 332.3L335 335.3L339.7 338ZM340 337.4L335.3 334.7L333.6 337.6L338.1 340.5Z"/>
<path fill="#9f9f9f" d="M456.6 213.2L462.1 210.8L461.1 208.1L455.6 210.8ZM455.9 211.4L461.4 208.7L460.3 206.1L454.7 209ZM391.3 181.3L389.3 175.5L386.5 176.6L388.7 182.2ZM356.6 267.9L352.3 267.8L352.3 270.8L356.5 270.9ZM293.5 357.7L292.3 354.5L289.4 355.5L290.5 358.7Z"/>
<path fill="#e4e4e4" d="M473.5 202.9L476.9 201.3L475.4 198.1L472.2 199.8ZM472.5 200.4L475.7 198.7L474.1 195.6L471.1 197.3ZM471.5 198L474.5 196.2L472.8 193.1L469.9 194.9ZM470.3 195.5L473.1 193.7L471.3 190.7L468.6 192.5ZM457.3 178.2L459 176.2L456.3 173.9L454.6 176ZM455.1 176.5L456.8 174.4L454 172.2L452.4 174.4ZM437.2 163.1L438.3 160.4L434.9 159.1L433.9 161.9ZM333.9 293.7L330 293.6L329.9 296.6L333.7 296.8Z"/>
<path fill="#9e9e9e" d="M455 209.7L460.7 206.7L459.5 204.1L453.8 207.3ZM454.1 208L459.8 204.7L458.5 202.1L452.8 205.7ZM441.8 193.1L446.3 187.6L443.8 186L439.7 191.5ZM331.6 260.2L326.5 260.1L326.5 263.1L331.4 263.2ZM291.2 358.5L290.1 355.3L287.2 356.2L288.2 359.5ZM287.8 356L286.6 352.3L283.8 353.2L284.9 356.9Z"/>
<path fill="#2d2d2d" d="M469 202.3L472.5 200.4L471.1 197.3L467.7 199.3ZM468.1 199.9L471.5 198L469.9 194.9L466.7 197ZM349.4 313.7L344.1 312.5L343.3 315.7L348.5 317.2ZM348.7 316.5L343.4 315.1L342.5 318.3L347.7 319.9ZM347.9 319.2L342.7 317.6L341.7 320.8L346.8 322.6ZM347 321.9L341.9 320.2L340.7 323.3L345.8 325.2ZM346.1 324.6L341 322.7L339.8 325.8L344.8 327.8ZM338.5 339.9L333.9 337L332 339.8L336.5 342.9ZM336.9 342.3L332.4 339.2L330.4 342L334.7 345.2ZM335.1 344.7L330.9 341.4L328.7 344.1L332.9 347.5Z"/>
<path fill="#9d9d9d" d="M453.2 206.3L458.9 202.7L457.5 200.2L451.8 204.1ZM452.2 204.6L457.9 200.7L456.4 198.3L450.7 202.5ZM443.3 194.4L448.1 188.8L445.7 187.1L441.3 192.7ZM389.3 175.5L387.4 170L384.4 171.3L386.5 176.6ZM389.3 182L387.1 176.3L384.4 177.5L386.8 183ZM331.4 262.5L326.5 262.4L326.5 265.4L331.1 265.5Z"/>
<path fill="#2c2c2c" d="M467 197.6L470.3 195.5L468.6 192.5L465.5 194.7ZM457.9 200.7L461 198.6L459.4 196L456.4 198.3ZM465.9 195.3L469 193.1L467.3 190.2L464.3 192.4ZM456.8 198.8L459.8 196.6L458.1 194L455.2 196.4ZM464.7 193L467.7 190.8L465.8 187.9L462.9 190.2ZM455.6 196.9L458.6 194.6L456.8 192.1L453.9 194.6ZM454.4 195.1L457.2 192.6L455.4 190.2L452.6 192.8ZM453 193.3L455.8 190.7L453.9 188.4L451.2 191ZM352.3 274.7L347 274.5L346.8 277.5L352.3 277.6ZM351.7 297.2L346.3 296.9L346 300.2L351.5 300.6ZM351.5 299.9L346.1 299.5L345.8 302.8L351.2 303.3ZM351.2 302.6L345.8 302.1L345.4 305.4L350.8 306.1ZM350.9 305.4L345.5 304.7L345 308L350.4 308.9ZM350.5 308.2L345.1 307.3L344.5 310.6L349.8 311.6ZM350 310.9L344.6 309.9L343.9 313.2L349.2 314.4ZM333.3 347L329.2 343.5L326.9 346.1L330.9 349.7ZM331.4 349.2L327.4 345.6L325 348L328.8 351.8ZM329.3 351.3L325.5 347.5L323.1 349.9L326.7 353.8Z"/>
<path fill="#e3e3e3" d="M469 193.1L471.7 191.3L469.8 188.4L467.3 190.2ZM467.7 190.8L470.2 188.9L468.1 186.1L465.8 187.9ZM466.2 188.5L468.6 186.6L466.4 183.8L464.2 185.7ZM459.3 180L461.1 178L458.5 175.7L456.7 177.7ZM448.9 184.2L452.9 179.2L450.2 177.3L446.5 182.4ZM439.8 164.2L441 161.5L437.6 160.1L436.5 162.9ZM337.8 289L334 289L333.9 292.1L337.7 292.2Z"/>
<path fill="#9c9c9c" d="M451.1 203L456.8 198.8L455.2 196.4L449.5 200.9ZM444.8 195.7L449.9 190.1L447.6 188.4L442.8 193.9ZM356.6 270.2L352.3 270.1L352.3 273.1L356.5 273.2ZM288.9 359.3L287.8 356L284.9 356.9L285.9 360.2ZM285.6 356.7L284.4 353L281.6 353.8L282.7 357.6Z"/>
<path fill="#9b9b9b" d="M449.9 201.5L455.6 196.9L453.9 194.6L448.3 199.4ZM448.7 199.9L454.4 195.1L452.6 192.8L447 198ZM446.1 197L451.7 191.5L449.4 189.7L444.2 195.2ZM423.4 172.7L424.8 166.5L421.6 166L420.4 172.2ZM387.4 182.7L385 177.3L382.4 178.6L384.9 183.8ZM331.2 264.8L326.5 264.7L326.5 267.7L330.9 267.8Z"/>
<path fill="#e2e2e2" d="M464.7 186.2L466.9 184.3L464.6 181.6L462.6 183.5ZM463.1 184L465.1 182.1L462.7 179.5L460.9 181.4ZM461.3 181.8L463.2 180L460.6 177.6L458.8 179.5ZM442.4 165.4L443.7 162.7L440.4 161.2L439.2 163.9ZM333.8 296.1L330 295.9L329.8 298.8L333.6 299.1Z"/>
<path fill="#9a9a9a" d="M447.5 198.5L453 193.3L451.2 191L445.7 196.6ZM417.9 178.3L418.8 172L415.8 171.6L415.1 178.1ZM391.4 174.7L389.7 169.2L386.7 170.3L388.6 175.7ZM330.9 267.1L326.5 267L326.5 270L330.7 270.1ZM286.6 360L285.6 356.7L282.7 357.6L283.6 360.9ZM283.3 357.4L282.2 353.6L279.3 354.4L280.4 358.2Z"/>
<path fill="#353535" d="M449.9 190.1L452.6 187.2L450.3 185.2L447.6 188.4Z"/>
<path fill="#292929" d="M456.9 182.6L459.3 180L456.7 177.7L454.4 180.4ZM455 180.9L457.3 178.2L454.6 176L452.4 178.8ZM310.8 364.8L308.3 360.1L305.3 361.6L307.7 366.4ZM308.3 366.1L305.9 361.3L302.9 362.7L305.1 367.5ZM305.8 367.2L303.6 362.4L300.5 363.7L302.6 368.6Z"/>
<path fill="#dbdbdb" d="M461.1 178L463.1 175.9L460.4 173.5L458.5 175.7Z"/>
<path fill="#adadad" d="M463.1 175.9L464.6 174.3L461.8 171.8L460.4 173.5ZM460.9 174L462.4 172.3L459.5 169.9L458.1 171.6ZM458.6 172.1L460 170.3L457.1 168L455.7 169.9ZM430.2 174.5L432.3 168.5L429.2 167.5L427.3 173.6ZM421.1 183L422.1 178.6L419.3 178.3L418.5 182.4ZM411.6 178.3L411.9 171.5L408.8 171.5L408.8 178.5ZM407.5 178.5L407.2 171.6L404.2 171.8L404.7 178.6ZM363.1 170.5L361.2 167.8L358.2 170.1L360.2 172.7ZM360.8 172.2L358.7 169.7L355.9 172.1L358 174.6ZM358.6 174.1L356.4 171.6L353.6 174.1L355.9 176.5Z"/>
<path fill="#e9e9e9" d="M450.8 185.7L455 180.9L452.4 178.8L448.4 183.8ZM438.6 166.9L439.8 164.2L436.5 162.9L435.4 165.7ZM420.8 158.8L421.3 155.9L417.6 155.4L417.3 158.4ZM337.8 281.6L334 281.5L334 284.7L337.8 284.8ZM334 284L330 284L330 287.2L334 287.2Z"/>
<path fill="#dcdcdc" d="M459 176.2L460.9 174L458.1 171.6L456.3 173.9ZM348.3 258.4L343.9 258.3L343.7 261.3L348.1 261.4ZM337.5 296.3L333.8 296.1L333.6 299.1L337.3 299.4ZM332.6 307.5L328.9 306.8L328.4 309.5L332 310.4Z"/>
<path fill="#282828" d="M452.9 179.2L455.1 176.5L452.4 174.4L450.2 177.3ZM303.3 368.3L301.2 363.4L298.1 364.7L300.1 369.6ZM300.7 369.4L298.8 364.4L295.7 365.6L297.5 370.6ZM298.2 370.3L296.3 365.3L293.2 366.4L295 371.5Z"/>
<path fill="#dddddd" d="M456.8 174.4L458.6 172.1L455.7 169.9L454 172.2ZM447 182.8L450.8 177.7L448.1 175.9L444.5 181.1ZM332.9 305.3L329.2 304.7L328.8 307.5L332.4 308.2Z"/>
<path fill="#272727" d="M450.8 177.7L452.9 174.8L450.1 172.9L448.1 175.9ZM448.7 176.3L450.7 173.3L447.8 171.5L445.8 174.5ZM295.6 371.2L293.9 366.2L290.8 367.2L292.4 372.3ZM293.1 372.1L291.4 367L288.3 368L289.9 373.1ZM290.5 372.9L289 367.8L285.8 368.7L287.3 373.8ZM288 373.6L286.5 368.5L283.4 369.4L284.7 374.5Z"/>
<path fill="#dedede" d="M454.6 172.6L456.3 170.3L453.3 168.2L451.7 170.6ZM337.6 293.9L333.9 293.7L333.7 296.8L337.5 297ZM333.2 303L329.5 302.5L329.1 305.4L332.8 306Z"/>
<path fill="#aeaeae" d="M456.3 170.3L457.6 168.5L454.6 166.3L453.3 168.2ZM453.9 168.6L455.2 166.7L452.1 164.6L450.8 166.6ZM451.4 167L452.6 165L449.4 163.1L448.3 165.1ZM419.2 182.6L420 178.4L417.2 178.2L416.6 182.1ZM370.4 165.6L368.9 162.9L365.6 164.8L367.3 167.5ZM367.9 167.1L366.2 164.5L363.1 166.5L364.9 169.2ZM365.5 168.8L363.7 166.1L360.6 168.3L362.5 170.9ZM312.4 347.8L310.4 345L308 346.6L309.9 349.5ZM302.8 349.7L301 346.4L298.5 347.7L300.1 351.1Z"/>
<path fill="#d7d7d7" d="M445.1 181.5L448.7 176.3L445.8 174.5L442.5 179.9ZM348.5 256.1L344 256L343.8 259L348.3 259.1Z"/>
<path fill="#dfdfdf" d="M452.2 171L453.9 168.6L450.8 166.6L449.3 169.1Z"/>
<path fill="#d1d1d1" d="M443.1 180.3L446.4 174.9L443.6 173.3L440.4 178.8ZM327 324.7L323.9 323.1L322.6 325.7L325.7 327.3Z"/>
<path fill="#262626" d="M446.4 174.9L448.3 171.9L445.4 170.1L443.6 173.3ZM444.2 173.6L446 170.5L443 168.9L441.3 172.1ZM285.5 365L284.3 360.7L281.3 361.5L282.4 365.9ZM285.4 374.3L284 369.2L280.9 370L282.2 375.1ZM283.1 365.7L281.9 361.3L278.9 362.1L280 366.5ZM282.9 374.9L281.6 369.8L278.4 370.6L279.7 375.7ZM280.7 366.3L279.6 362L276.5 362.7L277.6 367.1ZM280.3 375.6L279.1 370.4L276 371.2L277.1 376.3ZM278.3 366.9L277.2 362.5L274.1 363.3L275.1 367.6ZM277.8 376.2L276.6 371L273.5 371.7L274.7 376.9ZM275.8 367.5L274.8 363.1L271.7 363.8L272.7 368.2ZM275.3 376.7L274.2 371.6L271.1 372.2L272.2 377.4ZM273.4 368L272.4 363.6L269.3 364.3L270.3 368.7ZM272.9 377.3L271.7 372.1L268.6 372.8L269.7 378ZM271 368.6L270 364.2L266.9 364.9L267.8 369.3Z"/>
<path fill="#e0e0e0" d="M449.9 169.5L451.4 167L448.3 165.1L446.8 167.7ZM447.4 168L448.9 165.5L445.7 163.7L444.3 166.3ZM348.1 260.7L343.7 260.6L343.5 263.6L347.9 263.7ZM337.7 291.5L333.9 291.4L333.8 294.4L337.6 294.6ZM333.5 300.7L329.7 300.4L329.4 303.2L333.1 303.7Z"/>
<path fill="#cbcbcb" d="M441 179.1L444.2 173.6L441.3 172.1L438.3 177.7ZM355 207L350.6 204.9L349.3 207.8L353.8 209.7ZM354 209.1L349.6 207.1L348.5 210L352.9 211.8ZM353.2 211.1L348.7 209.4L347.6 212.3L352.2 213.9ZM352.4 213.3L347.9 211.7L346.9 214.7L351.5 216.1ZM323.8 330.6L320.8 328.7L319.3 331L322.2 333Z"/>
<path fill="#afafaf" d="M448.9 165.5L450.1 163.4L446.8 161.6L445.7 163.7ZM446.3 164L447.4 162L444.1 160.3L443 162.4ZM409.6 178.5L409.6 171.5L406.5 171.6L406.8 178.5ZM375.6 162.9L374.3 160.1L370.9 161.8L372.4 164.5ZM373 164.2L371.5 161.5L368.2 163.3L369.8 166ZM356.9 256.4L352.2 256.3L352.2 259.3L356.8 259.4ZM314.3 346.3L312.2 343.6L309.8 345.4L311.9 348.2Z"/>
<path fill="#c5c5c5" d="M438.9 178L441.9 172.4L438.9 171L436.2 176.7ZM332.1 321.9L328.8 320.5L327.7 323.3L330.9 324.7Z"/>
<path fill="#252525" d="M441.9 172.4L443.6 169.2L440.5 167.7L438.9 171ZM439.5 171.3L441.1 168L438 166.7L436.5 170ZM295 361.9L293.5 357.7L290.5 358.7L292 363ZM292.7 362.7L291.2 358.5L288.2 359.5L289.6 363.8ZM290.3 363.5L288.9 359.3L285.9 360.2L287.2 364.5ZM287.9 364.3L286.6 360L283.6 360.9L284.8 365.2Z"/>
<path fill="#e1e1e1" d="M444.9 166.6L446.3 164L443 162.4L441.8 165.1ZM333.6 298.4L329.9 298.1L329.6 301L333.4 301.4Z"/>
<path fill="#bfbfbf" d="M436.8 177L439.5 171.3L436.5 170L434 175.8ZM371.6 185.8L368.4 181.8L366 183.9L369.4 187.8ZM329.1 328.4L326 326.7L324.6 329.3L327.6 331Z"/>
<path fill="#b0b0b0" d="M443.7 162.7L444.7 160.6L441.3 159L440.4 161.2ZM441 161.5L442 159.3L438.5 157.9L437.6 160.1ZM438.3 160.4L439.2 158.1L435.7 156.8L434.9 159.1ZM417.3 182.2L417.9 178.3L415.1 178.1L414.7 181.9ZM383.7 159.5L382.7 156.7L379.2 158L380.3 160.8ZM380.9 160.5L379.8 157.7L376.4 159.2L377.6 161.9ZM378.2 161.6L377 158.9L373.6 160.4L374.9 163.2ZM379 180.5L376.3 175.8L373.6 177.5L376.5 182.1ZM304.8 348.6L302.9 345.4L300.4 346.7L302.2 350.1Z"/>
<path fill="#b9b9b9" d="M434.6 176.1L437.2 170.3L434.1 169.1L431.8 175ZM387 186.6L385.5 183.5L383 184.8L384.6 187.8ZM385.3 187.5L383.7 184.4L381.2 185.8L382.9 188.7ZM362.6 210.7L359.1 209L357.9 211.5L361.5 213.1ZM361.8 212.4L358.2 210.8L357.1 213.4L360.8 214.9ZM361.1 214.2L357.3 212.8L356.3 215.4L360.1 216.7ZM360.4 216L356.5 214.7L355.6 217.3L359.5 218.5ZM324.1 336.3L321.4 334.2L319.6 336.5L322.2 338.7ZM312.2 343.6L309.9 340.7L307.7 342.4L309.8 345.4Z"/>
<path fill="#242424" d="M437.2 170.3L438.6 166.9L435.4 165.7L434.1 169.1ZM306.5 356.7L304.4 352.8L301.7 354.2L303.6 358.2ZM304.3 357.9L302.3 353.9L299.5 355.2L301.4 359.3ZM302 359L300.1 354.9L297.3 356.1L299.1 360.3ZM299.7 360L297.9 355.9L295.1 357L296.7 361.2ZM297.4 361L295.7 356.8L292.8 357.9L294.4 362.1Z"/>
<path fill="#b3b3b3" d="M432.4 175.2L434.8 169.3L431.7 168.3L429.6 174.3ZM421.3 155.9L421.6 153.4L417.9 152.9L417.6 155.4ZM418.3 155.5L418.6 152.9L414.9 152.6L414.7 155.2ZM415.4 155.2L415.6 152.7L411.9 152.4L411.8 155ZM411.5 181.6L411.6 178.3L408.8 178.5L408.8 181.6ZM406.6 155.1L406.5 152.4L402.8 152.6L403 155.3ZM403.7 155.2L403.5 152.6L399.8 152.9L400.1 155.6ZM400.8 155.5L400.5 152.8L396.8 153.3L397.2 156Z"/>
<path fill="#232323" d="M434.8 169.3L436.1 165.9L432.9 164.8L431.7 168.3ZM432.3 168.5L433.5 165L430.3 164L429.2 167.5ZM315.1 351.4L312.4 347.8L309.9 349.5L312.4 353.2ZM313 352.9L310.5 349.1L307.9 350.8L310.3 354.6ZM310.9 354.2L308.5 350.4L305.9 352L308.1 355.9ZM308.7 355.5L306.5 351.6L303.8 353.1L305.9 357.1Z"/>
<path fill="#a9a9a9" d="M426.7 184.6L428.4 179.8L425.6 179.1L424.2 183.8ZM339.5 199.6L335.8 197.8L334.2 201.2L338.1 202.8ZM338.3 202.2L334.5 200.5L333 204L337 205.5ZM337.3 204.9L333.3 203.3L331.9 206.8L336.1 208.3ZM336.3 207.6L332.2 206.2L331 209.7L335.2 211.1ZM356.8 261L352.2 260.9L352.2 263.9L356.7 264ZM306.5 351.6L304.8 348.6L302.2 350.1L303.8 353.1ZM298.7 351.8L297.1 348.3L294.4 349.5L295.9 353Z"/>
<path fill="#222222" d="M429.8 167.8L430.9 164.2L427.6 163.3L426.7 166.9ZM427.4 167.1L428.3 163.5L425 162.8L424.2 166.4ZM322.7 344.8L319.6 341.6L317.4 343.7L320.4 347ZM320.9 346.6L317.9 343.3L315.6 345.3L318.5 348.7ZM319 348.3L316.1 344.8L313.8 346.8L316.5 350.3ZM317.1 349.9L314.3 346.3L311.9 348.2L314.5 351.8Z"/>
<path fill="#ebebeb" d="M430.9 164.2L431.8 161.3L428.4 160.3L427.6 163.3ZM415.2 158.2L415.4 155.2L411.8 155L411.7 158ZM337.9 279.1L334 279L333.9 282.2L337.8 282.3ZM334 281.5L330 281.5L330 284.7L334 284.7Z"/>
<path fill="#ececec" d="M428.3 163.5L429.1 160.5L425.7 159.7L425 162.8ZM425.7 162.9L426.4 159.8L422.9 159.1L422.3 162.3ZM412.4 158L412.5 155L408.8 155L408.8 158ZM409.6 158L409.6 155L405.9 155.1L406 158.1ZM334 279L330 278.9L330 282.2L333.9 282.2Z"/>
<path fill="#b2b2b2" d="M429.9 157.6L430.5 155.3L426.9 154.4L426.4 156.8ZM427 156.9L427.6 154.5L423.9 153.7L423.5 156.2ZM424.2 156.3L424.6 153.9L420.9 153.3L420.6 155.7ZM413.4 181.8L413.7 178.2L410.9 178.3L410.8 181.6ZM397.9 155.9L397.5 153.2L393.8 153.8L394.3 156.6ZM395 156.4L394.5 153.7L390.8 154.4L391.4 157.2ZM392.1 157L391.5 154.3L387.8 155.2L388.6 157.9ZM356.9 254.1L352.2 253.9L352.2 257L356.8 257.1ZM317.9 343.3L315.5 340.7L313.3 342.7L315.6 345.3ZM306.7 347.5L304.7 344.3L302.3 345.7L304.2 349Z"/>
<path fill="#8d8d8d" d="M422.1 178.6L423.4 172.7L420.4 172.2L419.3 178.3ZM373.3 191.2L369.9 187.3L367.7 189.3L371.2 193.1Z"/>
<path fill="#212121" d="M424.8 166.5L425.7 162.9L422.3 162.3L421.6 166ZM422.3 166.1L423 162.4L419.6 161.9L419.1 165.6ZM330.6 334.9L326.8 332.4L325.1 335L328.8 337.5ZM329.2 337L325.5 334.4L323.7 336.9L327.3 339.6ZM327.7 339L324.1 336.3L322.2 338.7L325.7 341.6ZM326.1 341L322.7 338.1L320.7 340.4L324 343.5ZM324.5 342.9L321.2 339.9L319.1 342.1L322.3 345.3Z"/>
<path fill="#959595" d="M421.1 172.3L422.3 166.1L419.1 165.6L418.1 171.9ZM330.2 274L326.5 273.9L326.5 276.9L330 277ZM356.2 292L352 291.9L351.8 295.2L356.1 295.4ZM330.1 291.2L326.3 291.1L326.2 294.1L330 294.3ZM356.1 294.7L351.9 294.5L351.7 297.9L355.9 298.2ZM330 293.6L326.2 293.4L326.1 296.3L329.9 296.6ZM356 297.5L351.7 297.2L351.5 300.6L355.7 301ZM330 295.9L326.1 295.6L325.9 298.5L329.8 298.8ZM355.8 300.3L351.5 299.9L351.2 303.3L355.4 303.8ZM329.9 298.1L326 297.8L325.7 300.6L329.6 301ZM355.5 303.1L351.2 302.6L350.8 306.1L355.1 306.7ZM329.7 300.4L325.8 299.9L325.5 302.7L329.4 303.2ZM355.2 306L350.9 305.4L350.4 308.9L354.6 309.6ZM329.5 302.5L325.6 302L325.2 304.7L329.1 305.4ZM354.8 308.9L350.5 308.2L349.8 311.6L354.1 312.5ZM329.2 304.7L325.3 304L324.8 306.7L328.8 307.5ZM354.2 311.8L350 310.9L349.2 314.4L353.5 315.4ZM328.9 306.8L325 306L324.4 308.6L328.4 309.5ZM353.6 314.7L349.4 313.7L348.5 317.2L352.7 318.3ZM328.5 308.9L324.6 307.9L323.9 310.6L327.9 311.6ZM352.9 317.6L348.7 316.5L347.7 319.9L351.9 321.1ZM328.1 310.9L324.1 309.9L323.4 312.5L327.3 313.7ZM352.1 320.5L347.9 319.2L346.8 322.6L351 324ZM327.5 313L323.6 311.8L322.7 314.4L326.7 315.7Z"/>
<path fill="#ededed" d="M423 162.4L423.6 159.3L420.1 158.7L419.6 161.9ZM406.7 158.1L406.6 155.1L403 155.3L403.2 158.3ZM403.9 158.3L403.7 155.2L400.1 155.6L400.4 158.7ZM337.9 276.6L334 276.4L334 279.7L337.8 279.8ZM334 276.4L330 276.3L330 279.6L334 279.7Z"/>
<path fill="#8f8f8f" d="M418.8 172L419.8 165.7L416.5 165.4L415.8 171.6ZM374.9 189.9L371.6 185.8L369.4 187.8L372.8 191.7Z"/>
<path fill="#202020" d="M419.8 165.7L420.3 162L416.9 161.6L416.5 165.4ZM334.2 328.2L330.2 326.2L328.8 329L332.8 331.1ZM333.1 330.5L329.1 328.4L327.6 331L331.5 333.3ZM331.9 332.7L328 330.4L326.4 333L330.2 335.4Z"/>
<path fill="#eeeeee" d="M420.3 162L420.8 158.8L417.3 158.4L416.9 161.6ZM417.6 161.7L418 158.4L414.5 158.1L414.2 161.5ZM401.1 158.6L400.8 155.5L397.2 156L397.6 159.1ZM398.3 159L397.9 155.9L394.3 156.6L394.9 159.6Z"/>
<path fill="#898989" d="M416.5 171.7L417.2 165.4L414 165.2L413.5 171.5ZM370.2 194L366.7 190.5L364.6 192.6L368.3 196Z"/>
<path fill="#1f1f1f" d="M417.2 165.4L417.6 161.7L414.2 161.5L414 165.2ZM414.7 165.3L414.9 161.5L411.5 161.4L411.4 165.2ZM337.2 321.2L333 319.6L331.8 322.5L336 324.2ZM336.3 323.6L332.1 321.9L330.9 324.7L335 326.5ZM335.3 325.9L331.2 324.1L329.9 326.9L333.9 328.8Z"/>
<path fill="#1e1e1e" d="M412.1 165.2L412.2 161.4L408.8 161.4L408.8 165.2ZM409.6 165.2L409.6 161.4L406.2 161.5L406.3 165.4ZM407 165.4L406.9 161.5L403.5 161.8L403.8 165.7ZM404.5 165.6L404.2 161.7L400.8 162.1L401.2 166.1ZM401.9 166L401.5 162L398.1 162.5L398.8 166.5ZM399.4 166.4L398.8 162.4L395.5 163L396.3 167.1ZM339.5 314L335.1 312.8L334.3 315.8L338.6 317.1ZM338.8 316.4L334.5 315.1L333.5 318.1L337.8 319.5ZM338 318.8L333.8 317.4L332.7 320.3L336.9 321.9Z"/>
<path fill="#f0f0f0" d="M412.2 161.4L412.4 158L408.8 158L408.8 161.4ZM409.6 161.4L409.6 158L406 158.1L406.2 161.5ZM406.9 161.5L406.7 158.1L403.2 158.3L403.5 161.8ZM390.1 160.8L389.3 157.7L385.8 158.8L386.7 161.8ZM387.4 161.6L386.5 158.6L383 159.7L384.1 162.8Z"/>
<path fill="#b4b4b4" d="M412.5 155L412.6 152.5L408.8 152.4L408.8 155ZM409.6 181.6L409.6 178.5L406.8 178.5L406.9 181.6ZM409.6 155L409.6 152.4L405.8 152.5L405.9 155.1ZM377.1 181.7L374.2 177.2L371.6 179L374.6 183.4ZM357 249.5L352.4 249.3L352.3 252.3L356.9 252.4ZM357 251.7L352.3 251.6L352.2 254.6L356.9 254.8ZM319.6 341.6L317.1 339.2L315 341.2L317.4 343.7ZM308.6 346.2L306.5 343.1L304.1 344.6L306.1 347.8Z"/>
<path fill="#b5b5b5" d="M407.6 181.6L407.5 178.5L404.7 178.6L405 181.8ZM405.7 181.7L405.4 178.6L402.7 178.8L403 182ZM403.7 181.9L403.4 178.7L400.6 179.1L401.1 182.2ZM357.2 240.3L352.7 240.2L352.6 243.2L357.1 243.3ZM357.2 242.6L352.6 242.5L352.5 245.5L357.1 245.6ZM357.1 244.9L352.6 244.8L352.4 247.8L357 247.9ZM357.1 247.2L352.5 247.1L352.4 250L357 250.2Z"/>
<path fill="#f1f1f1" d="M404.2 161.7L403.9 158.3L400.4 158.7L400.8 162.1ZM401.5 162L401.1 158.6L397.6 159.1L398.1 162.5ZM398.8 162.4L398.3 159L394.9 159.6L395.5 163ZM384.7 162.5L383.7 159.5L380.3 160.8L381.5 163.8ZM382.1 163.5L380.9 160.5L377.6 161.9L378.9 164.9ZM379.5 164.6L378.2 161.6L374.9 163.2L376.4 166.1ZM338 271.9L334.4 271.8L334.2 274.8L337.9 274.9ZM334.4 271.8L330.5 271.7L330.2 274.7L334.2 274.8Z"/>
<path fill="#b6b6b6" d="M401.8 182.1L401.3 179L398.6 179.4L399.2 182.6ZM399.9 182.4L399.3 179.3L396.6 179.8L397.3 183ZM398 182.8L397.3 179.7L394.6 180.3L395.4 183.5ZM357.4 231.2L353.1 231L353 234.1L357.4 234.2ZM357.4 233.5L353 233.4L352.9 236.4L357.3 236.5ZM357.3 235.8L352.9 235.7L352.8 238.7L357.3 238.8ZM357.3 238.1L352.8 238L352.7 240.9L357.2 241ZM321.2 339.9L318.6 337.6L316.6 339.7L319.1 342.1Z"/>
<path fill="#8b8b8b" d="M400.3 172.4L399.4 166.4L396.3 167.1L397.4 173ZM371.7 192.6L368.3 188.9L366.2 191L369.7 194.5Z"/>
<path fill="#8e8e8e" d="M398.1 172.9L397 167L393.8 167.8L395.2 173.6Z"/>
<path fill="#1d1d1d" d="M397 167L396.2 162.9L392.9 163.7L393.8 167.8ZM394.5 167.6L393.6 163.5L390.3 164.4L391.4 168.5ZM392.1 168.3L391 164.2L387.8 165.2L389 169.4ZM389.7 169.2L388.4 165L385.3 166.1L386.7 170.3ZM387.4 170L385.9 165.9L382.8 167.1L384.4 171.3ZM385.1 171L383.4 166.9L380.3 168.2L382.2 172.4ZM382.8 172.1L381 167.9L377.9 169.4L379.9 173.6ZM380.6 173.3L378.6 169.1L375.6 170.7L377.8 174.8ZM378.4 174.5L376.2 170.4L373.3 172L375.7 176.1ZM376.3 175.8L373.9 171.7L371.1 173.5L373.6 177.5ZM374.2 177.2L371.7 173.1L368.9 175L371.6 179ZM341 306.6L336.6 305.9L336 308.9L340.5 309.8ZM340.6 309.1L336.1 308.2L335.5 311.2L339.9 312.2ZM340.1 311.6L335.7 310.5L334.9 313.5L339.3 314.7Z"/>
<path fill="#f2f2f2" d="M396.2 162.9L395.6 159.5L392.1 160.2L392.9 163.7ZM393.6 163.5L392.8 160.1L389.4 161L390.3 164.4ZM391 164.2L390.1 160.8L386.7 161.8L387.8 165.2ZM388.4 165L387.4 161.6L384.1 162.8L385.3 166.1ZM377 165.8L375.6 162.9L372.4 164.5L373.9 167.5ZM374.5 167.1L373 164.2L369.8 166L371.5 168.9ZM338.1 269.6L334.5 269.5L334.3 272.5L338 272.6ZM334.5 269.5L330.7 269.4L330.5 272.4L334.3 272.5Z"/>
<path fill="#929292" d="M395.8 173.4L394.5 167.6L391.4 168.5L392.9 174.2ZM378.3 187.5L375.2 183L372.8 184.8L376 189.1Z"/>
<path fill="#b7b7b7" d="M396.1 183.3L395.3 180.1L392.6 180.9L393.6 184ZM394.2 183.8L393.3 180.7L390.6 181.5L391.7 184.6ZM375.2 183L372.2 178.6L369.7 180.6L372.8 184.8ZM358.3 223.5L354.2 222.7L353.7 225.5L357.9 226.1ZM358 225.4L353.8 224.8L353.4 227.6L357.6 228ZM357.7 227.3L353.5 226.9L353.2 229.7L357.5 230ZM357.5 229.3L353.2 229L353 231.7L357.4 231.9ZM322.7 338.1L320 335.9L318.1 338.1L320.7 340.4ZM310.4 345L308.2 342L305.9 343.5L308 346.6Z"/>
<path fill="#969696" d="M393.6 174L392.1 168.3L389 169.4L390.8 174.9ZM381.8 185.4L379 180.5L376.5 182.1L379.5 186.8ZM330.5 271.7L326.5 271.6L326.5 274.6L330.2 274.7ZM356.5 274.8L352.3 274.7L352.3 277.6L356.4 277.7ZM351.2 323.3L347 321.9L345.8 325.2L350 326.8ZM326.9 315.1L323 313.7L322 316.3L326 317.8ZM350.2 326.1L346.1 324.6L344.8 327.8L348.9 329.5ZM326.3 317.1L322.3 315.6L321.3 318.2L325.2 319.8ZM349.1 328.9L345 327.2L343.6 330.4L347.7 332.2ZM325.5 319.2L321.6 317.5L320.5 320L324.4 321.8ZM348 331.6L343.9 329.8L342.4 333L346.4 334.9ZM324.7 321.2L320.8 319.4L319.6 321.9L323.5 323.8ZM346.7 334.3L342.7 332.3L341.1 335.5L345 337.6ZM323.9 323.1L319.9 321.2L318.7 323.6L322.6 325.7ZM345.4 337L341.4 334.9L339.7 338L343.6 340.3ZM322.9 325.1L319.1 323L317.8 325.3L321.6 327.5ZM343.9 339.6L340 337.4L338.1 340.5L342 342.9ZM321.9 326.9L318.1 324.7L316.8 327L320.5 329.3ZM342.3 342.3L338.5 339.9L336.5 342.9L340.2 345.5ZM320.8 328.7L317.2 326.4L315.7 328.5L319.3 331ZM340.6 344.9L336.9 342.3L334.7 345.2L338.4 348ZM319.7 330.4L316.1 327.9L314.7 330L318.1 332.6ZM338.8 347.4L335.1 344.7L332.9 347.5L336.4 350.5ZM318.5 332L315.1 329.4L313.5 331.4L316.8 334.2ZM336.8 349.9L333.3 347L330.9 349.7L334.3 352.8ZM317.3 333.6L314 330.9L312.3 332.8L315.4 335.7ZM334.8 352.3L331.4 349.2L328.8 351.8L332.1 355.1ZM315.9 335.1L312.8 332.3L311 334.1L314 337.1ZM332.6 354.6L329.3 351.3L326.7 353.8L329.9 357.2ZM314.5 336.6L311.5 333.6L309.6 335.4L312.5 338.5ZM330.4 356.7L327.2 353.3L324.5 355.7L327.5 359.3ZM313 338L310.2 334.9L308.2 336.7L311 339.9ZM328.1 358.8L325 355.3L322.2 357.5L325.1 361.2ZM311.5 339.4L308.8 336.2L306.8 337.9L309.3 341.1ZM325.7 360.8L322.8 357.1L319.9 359.3L322.7 363.1ZM309.9 340.7L307.3 337.4L305.2 339L307.7 342.4ZM323.2 362.7L320.5 358.8L317.5 360.9L320.1 364.8ZM308.2 342L305.8 338.6L303.6 340.1L305.9 343.5ZM320.7 364.4L318.1 360.5L315.1 362.4L317.6 366.4ZM306.5 343.1L304.2 339.7L302 341.2L304.1 344.6ZM318.2 366.1L315.7 362L312.6 363.8L315 367.9ZM304.7 344.3L302.6 340.8L300.3 342.2L302.3 345.7ZM315.6 367.6L313.2 363.5L310.2 365.1L312.4 369.4ZM302.9 345.4L300.9 341.8L298.5 343.1L300.4 346.7ZM313 369L310.8 364.8L307.7 366.4L309.8 370.7ZM301 346.4L299.1 342.8L296.7 344L298.5 347.7ZM310.4 370.4L308.3 366.1L305.1 367.5L307.1 371.9ZM299.1 347.4L297.3 343.7L294.8 344.9L296.5 348.6ZM307.8 371.6L305.8 367.2L302.6 368.6L304.5 373.1ZM297.1 348.3L295.4 344.6L292.9 345.8L294.4 349.5ZM305.2 372.8L303.3 368.3L300.1 369.6L301.9 374.1ZM295.1 349.2L293.5 345.5L290.9 346.6L292.4 350.3ZM302.5 373.9L300.7 369.4L297.5 370.6L299.2 375.1ZM293 350L291.5 346.3L288.9 347.4L290.2 351.1ZM299.9 374.9L298.2 370.3L295 371.5L296.6 376.1ZM290.9 350.8L289.5 347.1L286.8 348.1L288.1 351.8ZM297.3 375.9L295.6 371.2L292.4 372.3L294 377ZM288.8 351.6L287.5 347.9L284.7 348.8L286 352.5ZM294.6 376.7L293.1 372.1L289.9 373.1L291.3 377.8ZM286.6 352.3L285.4 348.6L282.6 349.5L283.8 353.2ZM292 377.6L290.5 372.9L287.3 373.8L288.7 378.6ZM284.4 353L283.3 349.3L280.5 350.1L281.6 353.8ZM289.3 378.4L288 373.6L284.7 374.5L286 379.3ZM282.2 353.6L281.2 349.9L278.3 350.7L279.3 354.4ZM286.7 379.1L285.4 374.3L282.2 375.1L283.4 380ZM280 354.2L279 350.5L276.1 351.3L277.1 355ZM284.1 379.8L282.9 374.9L279.7 375.7L280.8 380.6ZM279.6 362L278.7 358.7L275.7 359.4L276.5 362.7ZM278.7 358.7L277.8 354.8L274.8 355.5L275.7 359.4ZM277.8 354.8L276.8 351.1L273.9 351.8L274.8 355.5ZM281.5 380.4L280.3 375.6L277.1 376.3L278.3 381.2ZM277.2 362.5L276.4 359.2L273.4 359.9L274.1 363.3ZM276.4 359.2L275.5 355.3L272.5 356L273.4 359.9ZM275.5 355.3L274.6 351.6L271.6 352.3L272.5 356ZM278.9 381L277.8 376.2L274.7 376.9L275.7 381.8ZM274.8 363.1L274.1 359.8L271 360.5L271.7 363.8ZM274.1 359.8L273.2 355.9L270.1 356.6L271 360.5ZM273.2 355.9L272.3 352.2L269.3 352.9L270.1 356.6ZM276.4 381.6L275.3 376.7L272.2 377.4L273.3 382.3ZM272.4 363.6L271.7 360.3L268.6 361L269.3 364.3ZM271.7 360.3L270.8 356.4L267.7 357.1L268.6 361ZM270.8 356.4L270 352.7L266.9 353.4L267.7 357.1ZM273.9 382.2L272.9 377.3L269.7 378L270.8 382.8ZM270 364.2L269.3 360.9L266.2 361.5L266.9 364.9ZM269.3 360.9L268.4 357L265.3 357.6L266.2 361.5ZM268.4 357L267.6 353.2L264.5 353.9L265.3 357.6Z"/>
<path fill="#b8b8b8" d="M392.4 184.4L391.3 181.3L388.7 182.2L389.9 185.3ZM390.6 185.1L389.3 182L386.8 183L388.1 186.1ZM388.8 185.8L387.4 182.7L384.9 183.8L386.4 186.9ZM359.8 217.9L355.8 216.7L355 219.3L359 220.4ZM359.2 219.7L355.2 218.7L354.5 221.4L358.6 222.3ZM358.7 221.6L354.7 220.7L354.1 223.4L358.2 224.2Z"/>
<path fill="#999999" d="M385.5 183.5L383 178.3L380.4 179.7L383 184.8ZM356.5 272.5L352.3 272.4L352.3 275.4L356.4 275.5ZM284.3 360.7L283.3 357.4L280.4 358.2L281.3 361.5Z"/>
<path fill="#989898" d="M383.7 184.4L381 179.3L378.4 180.8L381.2 185.8ZM330.7 269.4L326.5 269.3L326.5 272.3L330.5 272.4Z"/>
<path fill="#1c1c1c" d="M372.2 178.6L369.5 174.6L366.8 176.6L369.7 180.6ZM370.3 180.2L367.3 176.2L364.7 178.3L367.8 182.2ZM368.4 181.8L365.3 177.8L362.7 180L366 183.9ZM366.6 183.4L363.3 179.6L360.8 181.9L364.3 185.6ZM364.8 185.1L361.3 181.4L359 183.8L362.6 187.4ZM363.1 186.9L359.5 183.3L357.1 185.7L361 189.2ZM361.4 188.7L357.6 185.2L355.4 187.7L359.4 191.1ZM341.7 301.6L337.2 301.1L336.8 304.2L341.3 304.8ZM341.4 304.1L336.9 303.5L336.4 306.6L340.9 307.3Z"/>
<path fill="#bbbbbb" d="M378.7 191.5L376.6 188.7L374.4 190.4L376.6 193.1ZM373.4 184.4L370.3 180.2L367.8 182.2L371.1 186.2ZM377.1 192.7L374.9 189.9L372.8 191.7L375.1 194.4ZM375.6 193.9L373.3 191.2L371.2 193.1L373.6 195.7ZM370.1 199.4L367.3 197L365.5 199.1L368.4 201.4ZM368.8 200.9L365.9 198.6L364.2 200.7L367.2 203ZM367.7 202.4L364.6 200.2L363 202.4L366.1 204.6ZM325.5 334.4L322.6 332.4L320.9 334.8L323.7 336.9ZM313.9 342.2L311.5 339.4L309.3 341.1L311.6 344Z"/>
<path fill="#909090" d="M376.6 188.7L373.4 184.4L371.1 186.2L374.4 190.4Z"/>
<path fill="#c2c2c2" d="M369.9 187.3L366.6 183.4L364.3 185.6L367.7 189.3ZM318.6 337.6L315.9 335.1L314 337.1L316.6 339.7Z"/>
<path fill="#c8c8c8" d="M366.7 190.5L363.1 186.9L361 189.2L364.6 192.6ZM365.1 192.1L361.4 188.7L359.4 191.1L363.1 194.3ZM322.6 332.4L319.7 330.4L318.1 332.6L320.9 334.8Z"/>
<path fill="#1b1b1b" d="M359.8 190.6L355.9 187.1L353.7 189.7L357.9 193ZM358.3 192.5L354.2 189.2L352.2 191.8L356.4 195ZM356.8 194.4L352.6 191.3L350.6 194L355 197ZM342.2 294.1L337.6 293.9L337.5 297L342 297.3ZM342.1 296.6L337.5 296.3L337.3 299.4L341.9 299.8ZM341.9 299.1L337.4 298.7L337.1 301.8L341.6 302.3Z"/>
<path fill="#1a1a1a" d="M355.4 196.4L351 193.4L349.2 196.2L353.7 199.1ZM354.1 198.5L349.6 195.6L347.9 198.5L352.5 201.2ZM352.9 200.6L348.2 197.9L346.6 200.8L351.4 203.3ZM351.7 202.7L347 200.2L345.5 203.2L350.3 205.5ZM342.4 286.6L337.8 286.6L337.7 289.7L342.3 289.8ZM342.3 289.1L337.8 289L337.7 292.2L342.3 292.3ZM342.3 291.6L337.7 291.5L337.6 294.6L342.2 294.8Z"/>
<path fill="#191919" d="M350.6 204.9L345.8 202.6L344.4 205.6L349.3 207.8ZM349.6 207.1L344.7 205L343.4 208.1L348.5 210ZM348.7 209.4L343.7 207.4L342.5 210.5L347.6 212.3ZM347.9 211.7L342.7 209.9L341.7 213L346.9 214.7ZM342.4 279.2L337.9 279.1L337.8 282.3L342.4 282.3ZM342.4 281.6L337.8 281.6L337.8 284.8L342.4 284.8ZM342.4 284.1L337.8 284.1L337.8 287.3L342.4 287.3Z"/>
<path fill="#181818" d="M347.1 214L341.9 212.4L341 215.6L346.3 217ZM346.5 216.3L341.2 214.9L340.4 218.2L345.8 219.4ZM345.9 218.7L340.6 217.5L339.9 220.7L345.3 221.8ZM342.7 274.4L338 274.2L337.9 277.3L342.5 277.4ZM342.5 276.7L337.9 276.6L337.8 279.8L342.4 279.9Z"/>
<path fill="#cdcdcd" d="M350.1 222L345.4 221.1L345 224.2L349.6 224.9ZM349.7 224.2L345.1 223.5L344.7 226.6L349.3 227.1ZM349.4 226.4L344.8 225.9L344.5 229L349.2 229.4ZM349.2 228.7L344.6 228.3L344.4 231.4L349.1 231.6ZM325 328.7L321.9 326.9L320.5 329.3L323.5 331.2Z"/>
<path fill="#171717" d="M345.4 221.1L340 220.1L339.5 223.3L345 224.2ZM345.1 223.5L339.6 222.7L339.2 226L344.7 226.6ZM344.8 225.9L339.2 225.3L338.9 228.6L344.5 229ZM344.6 228.3L339 227.9L338.8 231.2L344.4 231.4ZM343.2 267.5L338.1 267.3L338 270.3L343 270.5ZM343 269.8L338.1 269.6L338 272.6L342.8 272.8ZM342.9 272.1L338 271.9L337.9 274.9L342.7 275.1Z"/>
<path fill="#cecece" d="M349.1 230.9L344.4 230.7L344.4 233.9L349.1 234ZM349.1 233.3L344.4 233.2L344.4 236.2L349 236.3ZM349 235.6L344.4 235.5L344.4 238.4L349 238.6ZM349 237.9L344.4 237.7L344.3 240.7L348.9 240.8ZM335.1 312.8L331.6 311.9L330.8 314.7L334.3 315.8Z"/>
<path fill="#161616" d="M344.4 230.7L338.8 230.5L338.8 233.8L344.4 233.9ZM344.4 233.2L338.8 233.1L338.7 236L344.4 236.2ZM344.4 235.5L338.8 235.3L338.7 238.3L344.4 238.4ZM344.4 237.7L338.7 237.6L338.7 240.6L344.3 240.7ZM343.5 262.9L338.2 262.7L338.1 265.7L343.3 265.9ZM343.4 265.2L338.2 265L338.1 268L343.2 268.2Z"/>
<path fill="#cfcfcf" d="M348.9 240.1L344.4 240L344.3 243L348.9 243.1ZM348.9 242.4L344.3 242.3L344.3 245.3L348.8 245.4ZM348.9 244.7L344.3 244.6L344.3 247.6L348.8 247.7ZM348.8 247L344.3 246.9L344.2 249.8L348.8 250ZM326 326.7L322.9 325.1L321.6 327.5L324.6 329.3Z"/>
<path fill="#151515" d="M344.4 240L338.7 239.9L338.6 242.9L344.3 243ZM344.3 242.3L338.6 242.2L338.6 245.1L344.3 245.3ZM344.3 244.6L338.6 244.4L338.5 247.4L344.3 247.6ZM344.3 246.9L338.5 246.7L338.5 249.7L344.2 249.8ZM344 256L338.4 255.8L338.3 258.8L343.8 259ZM343.9 258.3L338.3 258.1L338.2 261.1L343.7 261.3ZM343.7 260.6L338.3 260.4L338.2 263.4L343.5 263.6Z"/>
<path fill="#d0d0d0" d="M348.8 249.3L344.3 249.1L344.2 252.1L348.7 252.2ZM348.7 251.5L344.2 251.4L344.2 254.4L348.7 254.5ZM335.7 310.5L332.1 309.7L331.4 312.6L334.9 313.5Z"/>
<path fill="#141414" d="M344.3 249.1L338.5 249L338.4 252L344.2 252.1ZM344.2 251.4L338.5 251.3L338.4 254.2L344.2 254.4ZM344.2 253.7L338.4 253.5L338.3 256.5L344 256.7Z"/>
<path fill="#d2d2d2" d="M348.7 253.8L344.2 253.7L344 256.7L348.5 256.8ZM336.1 308.2L332.6 307.5L332 310.4L335.5 311.2ZM327.9 322.6L324.7 321.2L323.5 323.8L326.7 325.3Z"/>
<path fill="#3d3d3d" d="M352.2 263.2L347.9 263L347.7 266L352.2 266.2Z"/>
<path fill="#363636" d="M352.3 267.8L347.6 267.6L347.4 270.6L352.3 270.8Z"/>
<path fill="#d6d6d6" d="M336.9 303.5L333.2 303L332.8 306L336.4 306.6ZM330.3 316.2L326.9 315.1L326 317.8L329.4 319Z"/>
<path fill="#d4d4d4" d="M336.6 305.9L332.9 305.3L332.4 308.2L336 308.9ZM328.8 320.5L325.5 319.2L324.4 321.8L327.7 323.3Z"/>
<path fill="#c7c7c7" d="M333 319.6L329.6 318.4L328.6 321.2L331.8 322.5Z"/>
<path fill="#d5d5d5" d="M329.6 318.4L326.3 317.1L325.2 319.8L328.6 321.2Z"/>
<path fill="#c3c3c3" d="M331.2 324.1L327.9 322.6L326.7 325.3L329.9 326.9Z"/>
<path fill="#c1c1c1" d="M330.2 326.2L327 324.7L325.7 327.3L328.8 329Z"/>
<path fill="#bebebe" d="M328 330.4L325 328.7L323.5 331.2L326.4 333Z"/>
<path fill="#c4c4c4" d="M320 335.9L317.3 333.6L315.4 335.7L318.1 338.1Z"/>
<path fill="#c0c0c0" d="M317.1 339.2L314.5 336.6L312.5 338.5L315 341.2Z"/>
<path fill="#bdbdbd" d="M315.5 340.7L313 338L311 339.9L313.3 342.7Z"/>
<path fill="#979797" d="M281.9 361.3L281 358L278.1 358.8L278.9 362.1ZM281 358L280 354.2L277.1 355L278.1 358.8Z"/>
</g>
<path fill="#999999" d="M674.8 842.4L680.8 842.4L680.8 836.7L674.8 836.8ZM680.8 842.4L681.8 842.4L681.8 836.7L680.8 836.7ZM674.8 837.5L680.8 837.4L680.8 834.2L674.8 834.3ZM680.8 837.4L681.8 837.4L681.8 834.2L680.8 834.2ZM674.8 835L680.8 834.9L680.7 831.7L674.7 831.8ZM680.8 834.9L681.8 834.9L681.7 831.7L680.7 831.7ZM674.7 832.5L680.7 832.4L680.7 829.3L674.7 829.3ZM680.7 832.4L681.8 832.4L681.7 829.3L680.7 829.3ZM674.7 830L680.7 830L680.7 826.8L674.7 826.8ZM680.7 830L681.7 830L681.7 826.8L680.7 826.8ZM674.7 827.5L680.7 827.5L680.7 824.3L674.7 824.3ZM680.7 827.5L681.7 827.5L681.7 824.3L680.7 824.3ZM674.7 825L680.7 825L680.7 821.8L674.7 821.8ZM680.7 825L681.7 825L681.7 821.8L680.7 821.8ZM674.7 822.5L680.7 822.5L680.7 819.3L674.7 819.3ZM680.7 822.5L681.7 822.5L681.7 819.3L680.7 819.3ZM674.7 820L680.7 820L680.7 816.8L674.7 816.8ZM680.7 820L681.7 820L681.7 816.8L680.7 816.8ZM674.7 817.5L680.7 817.5L680.7 814.3L674.7 814.4ZM680.7 817.5L681.7 817.5L681.7 814.3L680.7 814.3ZM674.7 815.1L680.7 815L680.6 811.8L674.6 811.9ZM680.7 815L681.7 815L681.7 811.8L680.6 811.8ZM674.6 812.6L680.6 812.5L680.6 809.3L674.6 809.4ZM680.6 812.5L681.7 812.5L681.7 809.3L680.6 809.3ZM674.6 810.1L680.6 810L680.6 806.9L674.6 806.9ZM680.6 810L681.7 810L681.7 806.8L680.6 806.9ZM674.6 807.6L680.6 807.6L680.6 804.4L674.6 804.4ZM680.6 807.6L681.7 807.5L681.7 804.4L680.6 804.4ZM674.6 805.1L680.6 805.1L680.6 801.9L674.6 801.9ZM680.6 805.1L681.7 805.1L681.7 801.9L680.6 801.9ZM674.6 802.6L680.6 802.6L680.6 799.4L674.6 799.4ZM680.6 802.6L681.7 802.6L681.6 799.4L680.6 799.4ZM674.6 800.1L680.6 800.1L680.6 796.9L674.6 796.9ZM680.6 800.1L681.7 800.1L681.6 796.9L680.6 796.9ZM674.6 797.6L680.6 797.6L680.5 794.4L674.5 794.4ZM680.6 797.6L681.6 797.6L681.6 794.4L680.5 794.4ZM674.6 795.1L680.6 795.1L680.5 791.9L674.5 791.9ZM680.6 795.1L681.6 795.1L681.6 791.9L680.5 791.9ZM674.5 792.6L680.5 792.6L680.5 789.4L674.5 789.5ZM680.5 792.6L681.6 792.6L681.6 789.4L680.5 789.4ZM674.5 790.2L680.5 790.1L680.5 786.9L674.5 787ZM680.5 790.1L681.6 790.1L681.6 786.9L680.5 786.9ZM674.5 787.7L680.5 787.6L680.5 784.4L674.5 784.5ZM680.5 787.6L681.6 787.6L681.6 784.4L680.5 784.4ZM674.5 785.2L680.5 785.1L680.5 782L674.5 782ZM680.5 785.1L681.6 785.1L681.6 782L680.5 782ZM674.5 782.7L680.5 782.7L680.5 779.5L674.5 779.5ZM680.5 782.7L681.6 782.7L681.6 779.5L680.5 779.5ZM674.5 780.2L680.5 780.2L680.5 777L674.5 777ZM680.5 780.2L681.6 780.2L681.6 777L680.5 777ZM674.5 777.7L680.5 777.7L680.4 774.5L674.4 774.5ZM680.5 777.7L681.6 777.7L681.6 774.5L680.4 774.5ZM674.4 775.2L680.4 775.2L680.4 772L674.4 772ZM680.4 775.2L681.6 775.2L681.6 772L680.4 772ZM674.4 772.7L680.4 772.7L680.4 769.5L674.4 769.5ZM680.4 772.7L681.6 772.7L681.6 769.5L680.4 769.5ZM674.4 770.2L680.4 770.2L680.4 767L674.4 767.1ZM680.4 770.2L681.6 770.2L681.5 767L680.4 767ZM674.4 767.8L680.4 767.7L680.4 764.5L674.4 764.6ZM680.4 767.7L681.6 767.7L681.5 764.5L680.4 764.5ZM674.4 765.3L680.4 765.2L680.4 762L674.4 762.1ZM680.4 765.2L681.5 765.2L681.5 762L680.4 762ZM674.4 762.8L680.4 762.7L680.4 759.6L674.4 759.6ZM680.4 762.7L681.5 762.7L681.5 759.6L680.4 759.6ZM674.4 760.3L680.4 760.3L680.4 757.1L674.4 757.1ZM680.4 760.3L681.5 760.3L681.5 757.1L680.4 757.1ZM674.4 757.8L680.4 757.8L680.3 754.6L674.3 754.6ZM680.4 757.8L681.5 757.8L681.5 754.6L680.3 754.6ZM674.3 755.3L680.3 755.3L680.3 752.1L674.3 752.1ZM680.3 755.3L681.5 755.3L681.5 752.1L680.3 752.1ZM674.3 752.8L680.3 752.8L680.3 749.6L674.3 749.6ZM680.3 752.8L681.5 752.8L681.5 749.6L680.3 749.6ZM674.3 750.3L680.3 750.3L680.3 747.1L674.3 747.1ZM680.3 750.3L681.5 750.3L681.5 747.1L680.3 747.1ZM674.3 747.8L680.3 747.8L680.3 744.6L674.3 744.7ZM680.3 747.8L681.5 747.8L681.5 744.6L680.3 744.6ZM674.3 745.4L680.3 745.3L680.3 742.1L674.3 742.2ZM680.3 745.3L681.5 745.3L681.5 742.1L680.3 742.1ZM674.3 742.9L680.3 742.8L680.3 739.6L674.3 739.7ZM680.3 742.8L681.5 742.8L681.5 739.6L680.3 739.6ZM674.3 740.4L680.3 740.3L680.2 737.2L674.2 737.2ZM680.3 740.3L681.5 740.3L681.5 737.1L680.2 737.2ZM674.2 737.9L680.3 737.9L680.2 734.7L674.2 734.7ZM680.3 737.9L681.5 737.8L681.5 734.7L680.2 734.7ZM674.2 735.4L680.2 735.4L680.2 732.2L674.2 732.2ZM680.2 735.4L681.5 735.4L681.5 732.2L680.2 732.2ZM674.2 732.9L680.2 732.9L680.2 729.7L674.2 729.7ZM680.2 732.9L681.5 732.9L681.5 729.7L680.2 729.7ZM674.2 730.4L680.2 730.4L680.2 727.2L674.2 727.2ZM680.2 730.4L681.5 730.4L681.5 727.2L680.2 727.2ZM674.2 727.9L680.2 727.9L680.2 724.7L674.1 724.7ZM680.2 727.9L681.5 727.9L681.5 724.7L680.2 724.7ZM674.2 725.4L680.2 725.4L680.2 722.2L674.1 722.3ZM680.2 725.4L681.5 725.4L681.5 722.2L680.2 722.2ZM674.1 723L680.2 722.9L680.2 719.7L674.1 719.8ZM680.2 722.9L681.5 722.9L681.5 719.7L680.2 719.7ZM674.1 720.5L680.2 720.4L680.1 717.2L674.1 717.3ZM680.2 720.4L681.5 720.4L681.5 717.2L680.1 717.2ZM674.1 718L680.1 717.9L680.1 714.8L674.1 714.8ZM680.1 717.9L681.5 717.9L681.5 714.7L680.1 714.8ZM674.1 715.5L680.1 715.5L680.1 712.3L674.1 712.3ZM680.1 715.5L681.5 715.4L681.5 712.3L680.1 712.3ZM674.1 713L680.1 713L680.1 709.8L674 709.8ZM680.1 713L681.5 713L681.5 709.8L680.1 709.8ZM674 710.5L680.1 710.5L680.1 707.3L674 707.3ZM680.1 710.5L681.5 710.5L681.5 707.3L680.1 707.3ZM674 708L680.1 708L680.1 704.8L674 704.8ZM680.1 708L681.5 708L681.5 704.8L680.1 704.8ZM674 705.5L680.1 705.5L680.1 702.3L674 702.3ZM680.1 705.5L681.5 705.5L681.5 702.3L680.1 702.3ZM674 703L680.1 703L680.1 699.8L674 699.8ZM680.1 703L681.6 703L681.6 699.8L680.1 699.8ZM674 700.5L680.1 700.5L680 697.3L673.9 697.4ZM680.1 700.5L681.6 700.5L681.6 697.3L680 697.3ZM673.9 698.1L680 698L680 694.8L673.9 694.9ZM680 698L681.6 698L681.6 694.8L680 694.8ZM673.9 695.6L680 695.5L680 692.3L673.9 692.4ZM680 695.5L681.6 695.5L681.6 692.3L680 692.3ZM673.9 693.1L680 693L680 689.9L673.9 689.9ZM680 693L681.6 693L681.6 689.9L680 689.9ZM673.9 690.6L680 690.6L680 687.4L673.9 687.4ZM680 690.6L681.6 690.6L681.6 687.4L680 687.4ZM673.9 688.1L680 688.1L680 684.9L673.8 684.9ZM680 688.1L681.6 688.1L681.6 684.9L680 684.9ZM673.8 685.6L680 685.6L680 682.4L673.8 682.4ZM680 685.6L681.6 685.6L681.6 682.4L680 682.4ZM673.8 683.1L680 683.1L680 679.9L673.8 679.9ZM680 683.1L681.6 683.1L681.6 679.9L680 679.9ZM673.8 680.6L680 680.6L679.9 677.4L673.8 677.4ZM680 680.6L681.6 680.6L681.6 677.4L679.9 677.4ZM673.8 678.1L679.9 678.1L679.9 674.9L673.8 675ZM679.9 678.1L681.6 678.1L681.6 674.9L679.9 674.9ZM673.8 675.7L679.9 675.6L679.9 672.4L673.7 672.5ZM679.9 675.6L681.6 675.6L681.6 672.4L679.9 672.4ZM673.7 673.2L679.9 673.1L679.9 669.9L673.7 670ZM679.9 673.1L681.6 673.1L681.6 669.9L679.9 669.9ZM673.7 670.7L679.9 670.6L679.9 667.5L673.7 667.5ZM679.9 670.6L681.6 670.6L681.6 667.4L679.9 667.5ZM673.7 668.2L679.9 668.2L679.9 665L673.7 665ZM679.9 668.2L681.6 668.1L681.6 665L679.9 665ZM673.7 665.7L679.9 665.7L679.9 662.5L673.7 662.5ZM679.9 665.7L681.6 665.7L681.6 662.5L679.9 662.5ZM673.7 663.2L679.9 663.2L679.8 660L673.6 660ZM679.9 663.2L681.6 663.2L681.6 660L679.8 660ZM705.6 663L706.5 663L706.4 659.9L705.5 659.9ZM673.7 660.7L679.9 660.7L679.8 657.5L673.6 657.5ZM679.9 660.7L681.6 660.7L681.7 657.5L679.8 657.5ZM705.6 660.6L706.5 660.6L706.5 657.4L705.5 657.4ZM673.6 658.2L679.8 658.2L679.8 655L673.6 655ZM679.8 658.2L681.7 658.2L681.7 655L679.8 655ZM673.6 655.7L679.8 655.7L679.8 652.5L673.6 652.6ZM679.8 655.7L681.7 655.7L681.7 652.5L679.8 652.5ZM673.6 653.3L679.8 653.2L679.8 650L673.6 650.1ZM679.8 653.2L681.7 653.2L681.7 650L679.8 650ZM673.6 650.8L679.8 650.7L679.8 647.5L673.6 647.6ZM679.8 650.7L681.7 650.7L681.7 647.5L679.8 647.5ZM673.6 648.3L679.8 648.2L679.8 645.1L673.5 645.1ZM679.8 648.2L681.7 648.2L681.7 645L679.8 645.1ZM673.5 645.8L679.8 645.8L679.8 642.6L673.5 642.6ZM679.8 645.8L681.7 645.7L681.7 642.6L679.8 642.6ZM673.5 643.3L679.8 643.3L679.7 640.1L673.5 640.1ZM679.8 643.3L681.7 643.3L681.7 640.1L679.7 640.1ZM673.5 640.8L679.7 640.8L679.7 637.6L673.5 637.6ZM679.7 640.8L681.7 640.8L681.7 637.6L679.7 637.6ZM673.5 638.3L679.7 638.3L679.7 635.1L673.5 635.1ZM679.7 638.3L681.7 638.3L681.7 635.1L679.7 635.1ZM673.5 635.8L679.7 635.8L679.7 632.6L673.4 632.6ZM679.7 635.8L681.7 635.8L681.7 632.6L679.7 632.6ZM673.4 633.3L679.7 633.3L679.7 630.1L673.4 630.2ZM679.7 633.3L681.7 633.3L681.7 630.1L679.7 630.1ZM673.4 630.9L679.7 630.8L679.7 627.6L673.4 627.7ZM679.7 630.8L681.7 630.8L681.7 627.6L679.7 627.6ZM673.4 628.4L679.7 628.3L679.7 625.1L673.4 625.2ZM679.7 628.3L681.7 628.3L681.7 625.1L679.7 625.1ZM673.4 625.9L679.7 625.8L679.7 622.7L673.4 622.7ZM679.7 625.8L681.7 625.8L681.7 622.6L679.7 622.7ZM673.4 623.4L679.7 623.4L679.6 620.2L673.3 620.2ZM679.7 623.4L681.7 623.3L681.7 620.2L679.6 620.2ZM673.3 620.9L679.6 620.9L679.6 617.7L673.3 617.7ZM679.6 620.9L681.7 620.9L681.7 617.7L679.6 617.7ZM673.3 618.4L679.6 618.4L679.6 615.2L673.3 615.2ZM679.6 618.4L681.7 618.4L681.7 615.2L679.6 615.2ZM673.3 615.9L679.6 615.9L679.6 612.7L673.3 612.7ZM679.6 615.9L681.8 615.9L681.8 612.7L679.6 612.7ZM673.3 613.4L679.6 613.4L679.6 610.2L673.3 610.2ZM679.6 613.4L681.8 613.4L681.8 610.2L679.6 610.2ZM673.3 610.9L679.6 610.9L679.6 607.7L673.2 607.7ZM679.6 610.9L681.8 610.9L681.8 607.7L679.6 607.7ZM673.2 608.4L679.6 608.4L679.6 605.2L673.2 605.3ZM679.6 608.4L681.8 608.4L681.8 605.2L679.6 605.2ZM673.2 606L679.6 605.9L679.6 602.7L673.2 602.8ZM679.6 605.9L681.8 605.9L681.8 602.7L679.6 602.7ZM673.2 603.5L679.6 603.4L679.5 600.2L673.2 600.3ZM679.6 603.4L681.8 603.4L681.8 600.2L679.5 600.2ZM673.2 601L679.5 600.9L679.5 597.8L673.2 597.8ZM679.5 600.9L681.8 600.9L681.8 597.7L679.5 597.8ZM673.2 598.5L679.5 598.5L679.5 595.3L673.2 595.3ZM679.5 598.5L681.8 598.4L681.8 595.3L679.5 595.3ZM673.2 596L679.5 596L679.5 592.8L673.1 592.8ZM679.5 596L681.8 596L681.8 592.8L679.5 592.8ZM673.1 593.5L679.5 593.5L679.5 590.3L673.1 590.3ZM679.5 593.5L681.8 593.5L681.8 590.3L679.5 590.3ZM673.1 591L679.5 591L679.5 587.8L673.1 587.8ZM679.5 591L681.8 591L681.8 587.8L679.5 587.8ZM673.1 588.5L679.5 588.5L679.5 585.3L673.1 585.3ZM679.5 588.5L681.8 588.5L681.8 585.3L679.5 585.3ZM673.1 586L679.5 586L679.4 582.8L673.1 582.9ZM679.5 586L681.8 586L681.8 582.8L679.4 582.8ZM673.1 583.6L679.5 583.5L679.4 580.3L673 580.4ZM679.5 583.5L681.8 583.5L681.8 580.3L679.4 580.3ZM673 581.1L679.4 581L679.4 577.8L673 577.9ZM679.4 581L681.8 581L681.8 577.8L679.4 577.8ZM673 578.6L679.4 578.5L679.4 575.4L673 575.4ZM679.4 578.5L681.8 578.5L681.8 575.3L679.4 575.4ZM673 576.1L679.4 576.1L679.4 572.9L673 572.9ZM679.4 576.1L681.8 576L681.8 572.9L679.4 572.9ZM673 573.6L679.4 573.6L679.4 570.4L673 570.4ZM679.4 573.6L681.8 573.6L681.8 570.4L679.4 570.4ZM673 571.1L679.4 571.1L679.4 567.9L672.9 567.9ZM679.4 571.1L681.8 571.1L681.8 567.9L679.4 567.9ZM672.9 568.6L679.4 568.6L679.4 565.4L672.9 565.4ZM679.4 568.6L681.8 568.6L681.8 565.4L679.4 565.4ZM672.9 566.1L679.4 566.1L679.3 562.9L672.9 562.9ZM679.4 566.1L681.8 566.1L681.8 562.9L679.3 562.9ZM672.9 563.6L679.3 563.6L679.3 560.4L672.9 560.5ZM679.3 563.6L681.8 563.6L681.8 560.4L679.3 560.4ZM672.9 561.2L679.3 561.1L679.3 557.9L672.9 558ZM679.3 561.1L681.8 561.1L681.7 557.9L679.3 557.9ZM672.9 558.7L679.3 558.6L679.3 555.4L672.8 555.5ZM679.3 558.6L681.7 558.6L681.7 555.4L679.3 555.4ZM672.8 556.2L679.3 556.1L679.3 553L672.8 553ZM679.3 556.1L681.7 556.1L681.7 552.9L679.3 553ZM672.8 553.7L679.3 553.7L679.3 550.5L672.8 550.5ZM679.3 553.7L681.7 553.6L681.7 550.5L679.3 550.5ZM672.8 551.2L679.3 551.2L679.3 548L672.8 548ZM679.3 551.2L681.7 551.2L681.7 548L679.3 548ZM672.8 548.7L679.3 548.7L679.3 545.5L672.8 545.5ZM679.3 548.7L681.7 548.7L681.7 545.5L679.3 545.5ZM672.8 546.2L679.3 546.2L679.2 543L672.7 543ZM679.3 546.2L681.7 546.2L681.7 543L679.2 543ZM672.8 543.7L679.2 543.7L679.2 540.5L672.7 540.5ZM679.2 543.7L681.7 543.7L681.7 540.5L679.2 540.5ZM672.7 541.2L679.2 541.2L679.2 538L672.7 538.1ZM679.2 541.2L681.7 541.2L681.7 538L679.2 538ZM672.7 538.8L679.2 538.7L679.2 535.5L672.7 535.6ZM679.2 538.7L681.7 538.7L681.7 535.5L679.2 535.5ZM672.7 536.3L679.2 536.2L679.2 533L672.7 533.1ZM679.2 536.2L681.7 536.2L681.6 533L679.2 533ZM672.7 533.8L679.2 533.7L679.2 530.5L672.7 530.6ZM679.2 533.7L681.6 533.7L681.6 530.5L679.2 530.5ZM672.7 531.3L679.2 531.2L679.2 528.1L672.6 528.1ZM679.2 531.2L681.6 531.2L681.6 528L679.2 528.1ZM672.6 528.8L679.2 528.8L679.1 525.6L672.6 525.6ZM679.2 528.8L681.6 528.7L681.6 525.6L679.1 525.6ZM672.6 526.3L679.2 526.3L679.1 523.1L672.6 523.1ZM679.2 526.3L681.6 526.3L681.6 523.1L679.1 523.1ZM672.6 523.8L679.1 523.8L679.1 520.6L672.6 520.6ZM679.1 523.8L681.6 523.8L681.6 520.6L679.1 520.6ZM672.6 521.3L679.1 521.3L679.1 518.1L672.6 518.1ZM679.1 521.3L681.6 521.3L681.6 518.1L679.1 518.1ZM672.6 518.8L679.1 518.8L679.1 515.6L672.5 515.6ZM679.1 518.8L681.6 518.8L681.6 515.6L679.1 515.6ZM672.5 516.3L679.1 516.3L679.1 513.1L672.5 513.2ZM679.1 516.3L681.6 516.3L681.6 513.1L679.1 513.1ZM672.5 513.9L679.1 513.8L679.1 510.6L672.5 510.7ZM679.1 513.8L681.6 513.8L681.6 510.6L679.1 510.6ZM672.5 511.4L679.1 511.3L679.1 508.1L672.5 508.2ZM679.1 511.3L681.6 511.3L681.5 508.1L679.1 508.1ZM672.5 508.9L679.1 508.8L679 505.7L672.5 505.7ZM679.1 508.8L681.6 508.8L681.5 505.6L679 505.7ZM672.5 506.4L679 506.4L679 503.2L672.4 503.2ZM679 506.4L681.5 506.3L681.5 503.2L679 503.2ZM672.4 503.9L679 503.9L679 500.7L672.4 500.7ZM679 503.9L681.5 503.9L681.5 500.7L679 500.7ZM672.4 501.4L679 501.4L679 498.2L672.4 498.2ZM679 501.4L681.5 501.4L681.5 498.2L679 498.2ZM672.4 498.9L679 498.9L679 495.7L672.4 495.7ZM679 498.9L681.5 498.9L681.5 495.7L679 495.7ZM672.4 496.4L679 496.4L679 493.2L672.4 493.2ZM679 496.4L681.5 496.4L681.5 493.2L679 493.2ZM672.4 493.9L679 493.9L679 490.7L672.3 490.8ZM679 493.9L681.5 493.9L681.5 490.7L679 490.7ZM672.3 491.5L679 491.4L679 488.2L672.3 488.3ZM679 491.4L681.5 491.4L681.5 488.2L679 488.2ZM672.3 489L679 488.9L678.9 485.7L672.3 485.8ZM679 488.9L681.5 488.9L681.5 485.7L678.9 485.7ZM672.3 486.5L678.9 486.4L678.9 483.3L672.3 483.3ZM678.9 486.4L681.5 486.4L681.4 483.2L678.9 483.3ZM672.3 484L678.9 484L678.9 480.8L672.3 480.8ZM678.9 484L681.5 483.9L681.4 480.8L678.9 480.8ZM672.3 481.5L678.9 481.5L678.9 478.3L672.2 478.3ZM678.9 481.5L681.4 481.5L681.4 478.3L678.9 478.3ZM672.3 479L678.9 479L678.9 475.8L672.2 475.8ZM678.9 479L681.4 479L681.4 475.8L678.9 475.8ZM672.2 476.5L678.9 476.5L678.9 473.3L672.2 473.3ZM678.9 476.5L681.4 476.5L681.4 473.3L678.9 473.3ZM672.2 474L678.9 474L678.9 470.8L672.2 470.8ZM678.9 474L681.4 474L681.4 470.8L678.9 470.8ZM672.2 471.5L678.9 471.5L678.9 468.3L672.2 468.4ZM678.9 471.5L681.4 471.5L681.4 468.3L678.9 468.3ZM672.2 469.1L678.9 469L678.8 465.8L672.2 465.9ZM678.9 469L681.4 469L681.4 465.8L678.8 465.8ZM672.2 466.6L678.8 466.5L678.8 463.3L672.1 463.4ZM678.8 466.5L681.4 466.5L681.4 463.3L678.8 463.3ZM672.1 464.1L678.8 464L678.8 460.9L672.1 460.9ZM678.8 464L681.4 464L681.4 460.8L678.8 460.9ZM672.1 461.6L678.8 461.6L678.8 458.4L672.1 458.4ZM678.8 461.6L681.4 461.5L681.4 458.3L678.8 458.4ZM672.1 459.1L678.8 459.1L678.8 455.9L672.1 455.9ZM678.8 459.1L681.4 459L681.3 455.9L678.8 455.9ZM672.1 456.6L678.8 456.6L678.8 453.4L672.1 453.4ZM678.8 456.6L681.3 456.6L681.3 453.4L678.8 453.4ZM672.1 454.1L678.8 454.1L678.8 450.9L672 450.9ZM678.8 454.1L681.3 454.1L681.3 450.9L678.8 450.9ZM672 451.6L678.8 451.6L678.7 448.4L672 448.4ZM678.8 451.6L681.3 451.6L681.3 448.4L678.7 448.4ZM672 449.1L678.8 449.1L678.7 445.9L672 446ZM678.8 449.1L681.3 449.1L681.3 445.9L678.7 445.9ZM672 446.7L678.7 446.6L678.7 443.4L672 443.5ZM678.7 446.6L681.3 446.6L681.3 443.4L678.7 443.4ZM672 444.2L678.7 444.1L678.7 440.9L672 441ZM678.7 444.1L681.3 444.1L681.3 440.9L678.7 440.9ZM672 441.7L678.7 441.6L678.7 438.4L671.9 438.5ZM678.7 441.6L681.3 441.6L681.3 438.4L678.7 438.4ZM671.9 439.2L678.7 439.1L678.7 436L671.9 436ZM678.7 439.1L681.3 439.1L681.3 435.9L678.7 436ZM671.9 436.7L678.7 436.7L678.7 433.5L671.9 433.5ZM678.7 436.7L681.3 436.6L681.3 433.5L678.7 433.5ZM671.9 434.2L678.7 434.2L678.7 431L671.9 431ZM678.7 434.2L681.3 434.2L681.2 431L678.7 431ZM671.9 431.7L678.7 431.7L678.6 428.5L671.9 428.5ZM678.7 431.7L681.2 431.7L681.2 428.5L678.6 428.5ZM671.9 429.2L678.6 429.2L678.6 426L671.8 426ZM678.6 429.2L681.2 429.2L681.2 426L678.6 426ZM671.9 426.7L678.6 426.7L678.6 423.5L671.8 423.5ZM678.6 426.7L681.2 426.7L681.2 423.5L678.6 423.5ZM671.8 424.2L678.6 424.2L678.6 421L671.8 421.1ZM678.6 424.2L681.2 424.2L681.2 421L678.6 421ZM671.8 421.8L678.6 421.7L678.6 418.5L671.8 418.6ZM678.6 421.7L681.2 421.7L681.2 418.5L678.6 418.5ZM671.8 419.3L678.6 419.2L678.6 416L671.8 416.1ZM633.4 202.9L634.1 199.2L631.1 198.6L630.6 202.4Z"/>
<path fill="#fcfcfc" d="M681.8 842.4L685.8 842.4L685.8 836.7L681.8 836.7ZM685.8 842.4L691.3 842.3L691.3 836.7L685.8 836.7ZM681.8 837.4L685.8 837.4L685.8 834.2L681.8 834.2ZM685.8 837.4L691.3 837.4L691.2 834.2L685.8 834.2ZM681.8 834.9L685.8 834.9L685.7 831.7L681.7 831.7ZM685.8 834.9L691.2 834.9L691.2 831.7L685.7 831.7ZM681.8 832.4L685.7 832.4L685.7 829.2L681.7 829.3ZM685.7 832.4L691.2 832.4L691.1 829.2L685.7 829.2ZM681.7 830L685.7 829.9L685.7 826.7L681.7 826.8ZM685.7 829.9L691.1 829.9L691.1 826.7L685.7 826.7ZM681.7 827.5L685.7 827.4L685.7 824.3L681.7 824.3ZM685.7 827.4L691.1 827.4L691 824.2L685.7 824.3ZM681.7 825L685.7 825L685.7 821.8L681.7 821.8ZM685.7 825L691 824.9L691 821.7L685.7 821.8ZM681.7 822.5L685.7 822.5L685.7 819.3L681.7 819.3ZM685.7 822.5L691 822.4L690.9 819.2L685.7 819.3ZM681.7 820L685.7 820L685.7 816.8L681.7 816.8ZM685.7 820L690.9 819.9L690.8 816.8L685.7 816.8ZM681.7 817.5L685.7 817.5L685.7 814.3L681.7 814.3ZM685.7 817.5L690.8 817.5L690.8 814.3L685.7 814.3ZM681.7 815L685.7 815L685.6 811.8L681.7 811.8ZM685.7 815L690.8 815L690.7 811.8L685.6 811.8ZM681.7 812.5L685.6 812.5L685.6 809.3L681.7 809.3ZM685.6 812.5L690.7 812.5L690.7 809.3L685.6 809.3ZM681.7 810L685.6 810L685.6 806.8L681.7 806.8ZM685.6 810L690.7 810L690.6 806.8L685.6 806.8ZM681.7 807.5L685.6 807.5L685.6 804.3L681.7 804.4ZM685.6 807.5L690.6 807.5L690.6 804.3L685.6 804.3ZM681.7 805.1L685.6 805L685.6 801.8L681.7 801.9ZM685.6 805L690.6 805L690.5 801.8L685.6 801.8ZM681.7 802.6L685.6 802.5L685.6 799.4L681.6 799.4ZM685.6 802.5L690.5 802.5L690.4 799.3L685.6 799.4ZM681.7 800.1L685.6 800.1L685.6 796.9L681.6 796.9ZM685.6 800.1L690.4 800L690.4 796.8L685.6 796.9ZM681.6 797.6L685.6 797.6L685.5 794.4L681.6 794.4ZM685.6 797.6L690.4 797.5L690.3 794.4L685.5 794.4ZM681.6 795.1L685.6 795.1L685.5 791.9L681.6 791.9ZM685.6 795.1L690.3 795.1L690.3 791.9L685.5 791.9ZM681.6 792.6L685.5 792.6L685.5 789.4L681.6 789.4ZM685.5 792.6L690.3 792.6L690.2 789.4L685.5 789.4ZM681.6 790.1L685.5 790.1L685.5 786.9L681.6 786.9ZM685.5 790.1L690.2 790.1L690.2 786.9L685.5 786.9ZM681.6 787.6L685.5 787.6L685.5 784.4L681.6 784.4ZM685.5 787.6L690.2 787.6L690.1 784.4L685.5 784.4ZM681.6 785.1L685.5 785.1L685.5 781.9L681.6 782ZM685.5 785.1L690.1 785.1L690 781.9L685.5 781.9ZM681.6 782.7L685.5 782.6L685.5 779.4L681.6 779.5ZM685.5 782.6L690 782.6L690 779.4L685.5 779.4ZM681.6 780.2L685.5 780.1L685.5 777L681.6 777ZM685.5 780.1L690 780.1L689.9 776.9L685.5 777ZM681.6 777.7L685.5 777.7L685.4 774.5L681.6 774.5ZM685.5 777.7L689.9 777.6L689.9 774.4L685.4 774.5ZM681.6 775.2L685.4 775.2L685.4 772L681.6 772ZM685.4 775.2L689.9 775.1L689.8 772L685.4 772ZM681.6 772.7L685.4 772.7L685.4 769.5L681.6 769.5ZM685.4 772.7L689.8 772.7L689.8 769.5L685.4 769.5ZM681.6 770.2L685.4 770.2L685.4 767L681.5 767ZM685.4 770.2L689.8 770.2L689.7 767L685.4 767ZM681.6 767.7L685.4 767.7L685.4 764.5L681.5 764.5ZM685.4 767.7L689.7 767.7L689.6 764.5L685.4 764.5ZM681.5 765.2L685.4 765.2L685.4 762L681.5 762ZM685.4 765.2L689.6 765.2L689.6 762L685.4 762ZM681.5 762.7L685.4 762.7L685.4 759.5L681.5 759.6ZM685.4 762.7L689.6 762.7L689.5 759.5L685.4 759.5ZM681.5 760.3L685.4 760.2L685.4 757L681.5 757.1ZM685.4 760.2L689.5 760.2L689.5 757L685.4 757ZM681.5 757.8L685.4 757.7L685.3 754.6L681.5 754.6ZM685.4 757.7L689.5 757.7L689.4 754.5L685.3 754.6ZM681.5 755.3L685.3 755.3L685.3 752.1L681.5 752.1ZM685.3 755.3L689.4 755.2L689.3 752L685.3 752.1ZM681.5 752.8L685.3 752.8L685.3 749.6L681.5 749.6ZM685.3 752.8L689.4 752.7L689.3 749.6L685.3 749.6ZM681.5 750.3L685.3 750.3L685.3 747.1L681.5 747.1ZM685.3 750.3L689.3 750.3L689.2 747.1L685.3 747.1ZM681.5 747.8L685.3 747.8L685.3 744.6L681.5 744.6ZM685.3 747.8L689.2 747.8L689.2 744.6L685.3 744.6ZM681.5 745.3L685.3 745.3L685.3 742.1L681.5 742.1ZM685.3 745.3L689.2 745.3L689.1 742.1L685.3 742.1ZM681.5 742.8L685.3 742.8L685.3 739.6L681.5 739.6ZM685.3 742.8L689.1 742.8L689.1 739.6L685.3 739.6ZM681.5 740.3L685.3 740.3L685.2 737.1L681.5 737.1ZM685.3 740.3L689.1 740.3L689 737.1L685.2 737.1ZM681.5 737.8L685.2 737.8L685.2 734.6L681.5 734.7ZM685.2 737.8L689 737.8L689 734.6L685.2 734.6ZM681.5 735.4L685.2 735.3L685.2 732.2L681.5 732.2ZM685.2 735.3L689 735.3L688.9 732.1L685.2 732.2ZM681.5 732.9L685.2 732.9L685.2 729.7L681.5 729.7ZM685.2 732.9L688.9 732.8L688.8 729.6L685.2 729.7ZM681.5 730.4L685.2 730.4L685.1 727.2L681.5 727.2ZM685.2 730.4L688.9 730.3L688.8 727.2L685.1 727.2ZM681.5 727.9L685.1 727.9L685.1 724.7L681.5 724.7ZM685.1 727.9L688.8 727.9L688.7 724.7L685.1 724.7ZM681.5 725.4L685.1 725.4L685.1 722.2L681.5 722.2ZM685.1 725.4L688.7 725.4L688.7 722.2L685.1 722.2ZM681.5 722.9L685.1 722.9L685.1 719.7L681.5 719.7ZM685.1 722.9L688.7 722.9L688.6 719.7L685.1 719.7ZM681.5 720.4L685.1 720.4L685 717.2L681.5 717.2ZM685.1 720.4L688.6 720.4L688.6 717.2L685 717.2ZM681.5 717.9L685 717.9L685 714.7L681.5 714.7ZM685 717.9L688.6 717.9L688.5 714.7L685 714.7ZM681.5 715.4L685 715.4L685 712.2L681.5 712.3ZM685 715.4L688.5 715.4L688.5 712.2L685 712.2ZM681.5 713L685 712.9L685 709.7L681.5 709.8ZM685 712.9L688.5 712.9L688.4 709.7L685 709.7ZM681.5 710.5L685 710.4L684.9 707.3L681.5 707.3ZM685 710.4L688.4 710.4L688.4 707.2L684.9 707.3ZM681.5 708L684.9 708L684.9 704.8L681.5 704.8ZM684.9 708L688.4 707.9L688.3 704.8L684.9 704.8ZM681.5 705.5L684.9 705.5L684.9 702.3L681.5 702.3ZM684.9 705.5L688.3 705.5L688.3 702.3L684.9 702.3ZM681.6 703L684.9 703L684.9 699.8L681.6 699.8ZM684.9 703L688.3 703L688.2 699.8L684.9 699.8ZM691.5 610.8L698.5 610.8L698.5 607.6L691.5 607.7ZM691.5 608.4L698.5 608.3L698.5 605.1L691.5 605.2ZM691.5 605.9L698.5 605.8L698.5 602.6L691.5 602.7ZM681.2 411.8L683.1 411.7L683 408.6L681.2 408.6ZM683.1 411.7L685 411.7L685 408.5L683 408.6ZM689.6 282.3L694.3 282.2L694.3 279.1L689.6 279.1ZM670.7 223.1L673.2 220.9L671.3 218.4L668.8 220.7ZM669.3 221.2L671.8 218.9L669.7 216.5L667.3 218.9ZM667.8 219.4L670.2 217L668.1 214.8L665.7 217.3ZM564.2 253.2L561.5 252.7L561.1 255.6L563.7 256ZM563.8 255.3L561.2 254.9L560.8 257.9L563.5 258.2Z"/>
<path fill="#555555" d="M691.3 842.3L696.1 842.3L696.1 836.6L691.3 836.7ZM691.3 837.4L696.1 837.3L696 834.2L691.2 834.2ZM691.2 834.9L696 834.9L696 831.7L691.2 831.7ZM691.2 832.4L696 832.4L695.9 829.2L691.1 829.2ZM684.9 284.8L689.6 284.8L689.6 281.6L685 281.6ZM657.3 206L658.6 203.8L655.8 202.1L654.5 204.4ZM570.9 244L567.2 242.5L566.2 245.3L570 246.6ZM571.3 419.7L568.7 419.7L568.7 422.8L571.3 422.8ZM571.3 422.1L568.7 422.1L568.9 794.6L571.5 794.6ZM571.5 793.9L568.9 793.9L568.9 797.1L571.5 797.1Z"/>
<path fill="#dcdcdc" d="M696.1 842.3L699.1 842.3L699.1 836.6L696.1 836.6ZM696.1 837.3L699.1 837.3L699.1 834.1L696 834.2ZM696 834.9L699.1 834.8L699.1 831.6L696 831.7ZM681.5 256.5L683.4 256.2L683 253.4L681 253.8ZM685.3 239.3L689.7 237.5L688.4 234.4L684.3 236.3Z"/>
<path fill="#4a4a4a" d="M699.1 842.3L706.4 842.3L706.4 836.6L699.1 836.6ZM699.1 837.3L706.4 837.3L706.4 834.1L699.1 834.1ZM699.1 834.8L706.4 834.8L706.3 831.6L699.1 831.6ZM699.1 832.3L706.3 832.3L706.3 829.1L699 829.2ZM699 829.9L706.3 829.8L706.3 826.6L699 826.7ZM688.6 720.4L692.8 720.4L692.7 717.2L688.6 717.2ZM688.6 717.9L692.7 717.9L692.6 714.7L688.5 714.7ZM688.5 715.4L692.6 715.4L692.6 712.2L688.5 712.2ZM688.5 712.9L692.6 712.9L692.5 709.7L688.4 709.7ZM688.4 710.4L692.5 710.4L692.4 707.2L688.4 707.2ZM698.8 702.9L705.7 702.9L705.7 699.7L698.8 699.7ZM698.8 700.4L705.7 700.4L705.7 697.2L698.7 697.2ZM684.6 297.2L689.6 297.2L689.6 294L684.7 294ZM694.3 284.7L699 284.7L699 281.5L694.3 281.5ZM579.2 210.3L577.7 208.4L575.1 210.5L576.7 212.4ZM577.3 211.9L575.7 210.1L573.2 212.3L574.9 214.1ZM575.4 213.6L573.7 211.8L571.3 214.1L573.1 215.9ZM567.5 278.6L563.6 278.5L563.6 281.6L567.6 281.6Z"/>
<path fill="#888888" d="M706.4 842.3L707.1 842.3L707.1 836.6L706.4 836.6ZM706.4 837.3L707.1 837.3L707.1 834.1L706.4 834.1ZM706.4 834.8L707.1 834.8L707 831.6L706.3 831.6ZM706.3 832.3L707 832.3L707 829.1L706.3 829.1ZM706.3 829.8L707 829.8L707 826.6L706.3 826.6ZM706.3 827.3L707 827.3L707 824.1L706.3 824.1ZM706.3 824.8L707 824.8L707 821.7L706.3 821.7ZM706.3 822.4L707 822.4L707 819.2L706.3 819.2ZM706.3 819.9L707 819.9L707 816.7L706.3 816.7ZM706.3 817.4L707 817.4L706.9 814.2L706.2 814.2ZM706.3 814.9L707 814.9L706.9 811.7L706.2 811.7ZM706.2 812.4L706.9 812.4L706.9 809.2L706.2 809.2ZM706.2 809.9L706.9 809.9L706.9 806.7L706.2 806.7ZM706.2 807.4L706.9 807.4L706.9 804.2L706.2 804.2ZM706.2 804.9L706.9 804.9L706.9 801.7L706.2 801.7ZM706.2 802.4L706.9 802.4L706.9 799.2L706.2 799.3ZM706.2 800L706.9 799.9L706.9 796.8L706.2 796.8ZM706.2 797.5L706.9 797.5L706.8 794.3L706.1 794.3ZM706.2 795L706.9 795L706.8 791.8L706.1 791.8ZM706.1 792.5L706.8 792.5L706.8 789.3L706.1 789.3ZM706.1 790L706.8 790L706.8 786.8L706.1 786.8ZM706.1 787.5L706.8 787.5L706.8 784.3L706.1 784.3ZM706.1 785L706.8 785L706.8 781.8L706.1 781.8ZM706.1 782.5L706.8 782.5L706.8 779.3L706.1 779.3ZM706.1 780L706.8 780L706.8 776.8L706.1 776.8ZM706.1 777.5L706.8 777.5L706.7 774.4L706 774.4ZM706 775.1L706.7 775.1L706.7 771.9L706 771.9ZM706 772.6L706.7 772.6L706.7 769.4L706 769.4ZM706 770.1L706.7 770.1L706.7 766.9L706 766.9ZM706 767.6L706.7 767.6L706.7 764.4L706 764.4ZM706 765.1L706.7 765.1L706.7 761.9L706 761.9ZM706 762.6L706.7 762.6L706.7 759.4L706 759.4ZM706 760.1L706.7 760.1L706.7 756.9L706 756.9ZM706 757.6L706.7 757.6L706.6 754.4L705.9 754.4ZM705.9 755.1L706.6 755.1L706.6 752L705.9 752ZM705.9 752.7L706.6 752.7L706.6 749.5L705.9 749.5ZM705.9 750.2L706.6 750.2L706.6 747L705.9 747ZM705.9 747.7L706.6 747.7L706.6 744.5L705.9 744.5ZM705.9 745.2L706.6 745.2L706.6 742L705.9 742ZM705.9 742.7L706.6 742.7L706.6 739.5L705.9 739.5ZM705.9 740.2L706.6 740.2L706.6 737L705.9 737ZM571.3 307L568.2 307L568.2 310.2L571.3 310.2ZM546.2 412.3L540.1 412.3L540.1 415.4L546.2 415.4ZM546.2 414.7L540.1 414.7L540.1 417.9L546.3 417.9ZM546.3 417.2L540.1 417.2L540.1 420.3L546.3 420.3ZM546.3 419.6L540.1 419.6L540.1 422.9L546.3 422.9ZM546.3 422.2L540.1 422.2L540.3 794.7L546.5 794.7ZM546.5 794L540.3 794L540.3 797.2L546.5 797.2ZM546.5 796.5L540.3 796.5L540.3 799.7L546.5 799.6ZM546.5 798.9L540.3 799L540.3 802.1L546.5 802.1ZM546.5 801.4L540.3 801.4L540.3 804.6L546.4 804.6ZM546.4 803.9L540.3 803.9L540.4 807.1L546.4 807.1ZM546.4 806.4L540.4 806.4L540.4 809.6L546.4 809.6ZM546.4 808.9L540.4 808.9L540.4 812.1L546.4 812.1ZM546.4 811.4L540.4 811.4L540.4 814.6L546.3 814.6ZM546.3 813.9L540.4 813.9L540.4 817.1L546.3 817.1ZM546.3 816.4L540.4 816.4L540.4 819.6L546.3 819.6ZM546.3 818.9L540.4 818.9L540.4 822.1L546.2 822.1ZM546.2 821.4L540.4 821.4L540.4 824.6L546.2 824.6ZM546.2 823.9L540.4 823.9L540.4 827.1L546.2 827.1ZM546.2 826.4L540.4 826.4L540.5 829.6L546.2 829.6ZM546.2 828.9L540.5 828.9L540.5 832.1L546.1 832.1ZM546.1 831.4L540.5 831.4L540.5 834.6L546.1 834.6ZM546.1 833.9L540.5 833.9L540.5 837.1L546.1 837.1ZM546.1 836.4L540.5 836.4L540.5 839.6L546.1 839.6ZM546.1 838.9L540.5 838.9L540.5 842.1L546 842.1ZM546 841.4L540.5 841.4L540.5 844.6L546 844.6ZM546 843.9L540.5 843.9L540.5 847.1L546 847.1ZM546 846.4L540.5 846.4L540.6 849.6L546 849.6ZM546 848.9L540.6 848.9L540.6 852.1L545.9 852.1ZM545.9 851.4L540.6 851.4L540.6 854.5L545.9 854.5ZM545.9 853.8L540.6 853.8L540.6 857L545.9 857ZM545.9 856.3L540.6 856.3L540.6 859.5L545.9 859.5ZM545.9 858.8L540.6 858.8L540.6 862L545.8 862ZM545.8 861.3L540.6 861.3L540.6 864.5L545.8 864.5ZM545.8 863.8L540.6 863.8L540.6 867L545.8 867ZM545.8 866.3L540.6 866.3L540.6 869.5L545.8 869.5ZM545.8 868.8L540.6 868.8L540.7 872L545.7 872ZM545.7 871.3L540.7 871.3L540.7 874.5L545.7 874.5ZM545.7 873.8L540.7 873.8L540.7 877L545.7 877ZM545.7 876.3L540.7 876.3L540.7 879.5L545.6 879.5ZM545.6 878.8L540.7 878.8L540.7 882L545.6 882ZM545.6 881.3L540.7 881.3L540.7 884.5L545.6 884.5ZM545.6 883.8L540.7 883.8L540.7 887L545.6 887ZM545.6 886.3L540.7 886.3L540.7 889.5L545.5 889.5ZM545.5 888.8L540.7 888.8L540.7 892L545.5 892ZM545.5 891.3L540.7 891.3L540.8 894.5L545.5 894.5ZM545.5 893.8L540.8 893.8L540.8 897L545.5 897ZM545.5 896.3L540.8 896.3L540.8 956.9L545.5 956.9Z"/>
<path fill="#dddddd" d="M696 832.4L699.1 832.3L699 829.2L695.9 829.2ZM695.9 829.9L699 829.9L699 826.7L695.8 826.7ZM695.8 827.4L699 827.4L699 824.2L695.7 824.2ZM695.8 824.9L699 824.9L699 821.7L695.7 821.7ZM680.8 319.7L682.6 319.6L682.6 316.5L680.8 316.5ZM682.6 319.6L684.2 319.6L684.2 316.4L682.6 316.5ZM549.2 280.6L545.3 280.5L545.2 283.6L549.2 283.6Z"/>
<path fill="#545454" d="M691.1 829.9L695.9 829.9L695.8 826.7L691.1 826.7ZM691.1 827.4L695.8 827.4L695.7 824.2L691 824.2ZM691 824.9L695.8 824.9L695.7 821.7L691 821.7ZM691 822.4L695.7 822.4L695.6 819.2L690.9 819.2ZM684.9 287.3L689.6 287.2L689.6 284.1L684.9 284.1ZM570.5 219.5L568.5 217.8L566.5 220.6L568.6 222.2Z"/>
<path fill="#4b4b4b" d="M699 827.4L706.3 827.3L706.3 824.1L699 824.2ZM699 824.9L706.3 824.8L706.3 821.7L699 821.7ZM699 822.4L706.3 822.4L706.3 819.2L699 819.2ZM699 819.9L706.3 819.9L706.3 816.7L699 816.7ZM699 817.4L706.3 817.4L706.2 814.2L699 814.2ZM699 814.9L706.3 814.9L706.2 811.7L699 811.7ZM688.9 732.8L693.1 732.8L693 729.6L688.8 729.6ZM688.9 730.3L693 730.3L692.9 727.1L688.8 727.2ZM688.8 727.9L693 727.8L692.9 724.6L688.7 724.7ZM688.7 725.4L692.9 725.3L692.8 722.2L688.7 722.2ZM688.7 722.9L692.8 722.9L692.8 719.7L688.6 719.7ZM698.8 710.4L705.7 710.3L705.7 707.2L698.8 707.2ZM698.8 707.9L705.7 707.9L705.7 704.7L698.8 704.7ZM698.8 705.4L705.7 705.4L705.7 702.2L698.8 702.2Z"/>
<path fill="#dedede" d="M695.7 822.4L699 822.4L699 819.2L695.6 819.2ZM695.6 819.9L699 819.9L699 816.7L695.5 816.7ZM695.5 817.4L699 817.4L699 814.2L695.5 814.2ZM680.8 322.1L682.6 322.1L682.6 318.9L680.8 319ZM682.6 322.1L684.2 322.1L684.2 318.9L682.6 318.9ZM683.8 264.9L685.4 264.9L685.5 261.9L683.8 262ZM599.4 207.1L598.7 205.4L596 206.7L596.7 208.4Z"/>
<path fill="#535353" d="M690.9 819.9L695.6 819.9L695.5 816.7L690.8 816.8ZM690.8 817.5L695.5 817.4L695.5 814.2L690.8 814.3ZM690.8 815L695.5 814.9L695.4 811.8L690.7 811.8ZM690.7 812.5L695.4 812.5L695.3 809.3L690.7 809.3ZM567.4 273.8L563.5 273.8L563.5 276.8L567.5 276.9Z"/>
<path fill="#dfdfdf" d="M695.5 814.9L699 814.9L699 811.7L695.4 811.8ZM695.4 812.5L699 812.4L699 809.2L695.3 809.3ZM695.3 810L699 809.9L699 806.8L695.2 806.8ZM680.8 327.1L682.6 327.1L682.6 323.9L680.8 323.9ZM682.6 327.1L684.3 327.1L684.2 323.9L682.6 323.9ZM680.8 324.6L682.6 324.6L682.6 321.4L680.8 321.4ZM682.6 324.6L684.2 324.6L684.2 321.4L682.6 321.4ZM686 241.6L690.5 240L689.4 236.9L685.1 238.6Z"/>
<path fill="#4c4c4c" d="M699 812.4L706.2 812.4L706.2 809.2L699 809.2ZM699 809.9L706.2 809.9L706.2 806.7L699 806.8ZM699 807.5L706.2 807.4L706.2 804.2L699 804.3ZM699 805L706.2 804.9L706.2 801.7L699 801.8ZM699 802.5L706.2 802.4L706.2 799.3L699 799.3ZM699 800L706.2 800L706.2 796.8L699 796.8ZM699 797.5L706.2 797.5L706.1 794.3L699 794.3ZM689.2 745.3L693.4 745.3L693.3 742.1L689.1 742.1ZM689.1 742.8L693.3 742.8L693.3 739.6L689.1 739.6ZM689.1 740.3L693.3 740.3L693.2 737.1L689 737.1ZM689 737.8L693.2 737.8L693.1 734.6L689 734.6ZM689 735.3L693.1 735.3L693.1 732.1L688.9 732.1ZM698.8 717.8L705.8 717.8L705.8 714.6L698.8 714.7ZM698.8 715.4L705.8 715.3L705.8 712.1L698.8 712.2ZM698.8 712.9L705.8 712.8L705.7 709.6L698.8 709.7ZM650.6 202.3L651.7 199.9L648.7 198.5L647.7 201ZM573.6 215.4L571.8 213.6L569.6 216.2L571.5 217.9Z"/>
<path fill="#525252" d="M690.7 810L695.3 810L695.2 806.8L690.6 806.8ZM690.6 807.5L695.2 807.5L695.2 804.3L690.6 804.3ZM690.6 805L695.2 805L695.1 801.8L690.5 801.8ZM690.5 802.5L695.1 802.5L695 799.3L690.4 799.3ZM690.4 800L695 800L694.9 796.8L690.4 796.8ZM684.8 289.8L689.6 289.7L689.6 286.5L684.9 286.6ZM694.3 282.2L699 282.2L699 279L694.3 279.1ZM655.2 204.7L656.4 202.4L653.5 200.8L652.3 203.2Z"/>
<path fill="#e0e0e0" d="M695.2 807.5L699 807.5L699 804.3L695.2 804.3ZM695.2 805L699 805L699 801.8L695.1 801.8ZM695.1 802.5L699 802.5L699 799.3L695 799.3ZM680.8 329.6L682.6 329.6L682.6 326.4L680.8 326.4ZM682.6 329.6L684.3 329.6L684.2 326.4L682.6 326.4ZM681.1 254.5L683.2 254.1L682.7 251.3L680.6 251.7ZM676.1 247.3L679 246.4L678.1 243.8L675.3 244.8ZM662.8 224.4L665.3 221.9L663.3 219.9L660.9 222.4ZM597.4 208.1L596.6 206.4L593.9 207.8L594.8 209.5Z"/>
<path fill="#e1e1e1" d="M695 800L699 800L699 796.8L694.9 796.8ZM694.9 797.5L699 797.5L699 794.3L694.9 794.3ZM694.9 795L699 795L699 791.8L694.8 791.8ZM680.8 332.1L682.6 332.1L682.6 328.9L680.8 328.9ZM682.6 332.1L684.3 332.1L684.3 328.9L682.6 328.9ZM683.8 262.7L685.5 262.6L685.5 259.7L683.7 259.8ZM686.8 243.9L691.3 242.4L690.3 239.3L685.8 241ZM595.4 209.2L594.5 207.4L591.9 208.9L592.9 210.7ZM560.6 231.6L557 229.7L555.6 232.8L559.4 234.6Z"/>
<path fill="#515151" d="M690.4 797.5L694.9 797.5L694.9 794.3L690.3 794.4ZM690.3 795.1L694.9 795L694.8 791.8L690.3 791.9ZM690.3 792.6L694.8 792.5L694.7 789.4L690.2 789.4ZM690.2 790.1L694.7 790.1L694.7 786.9L690.2 786.9ZM571.7 242.1L568 240.5L567 243.2L570.7 244.7Z"/>
<path fill="#4d4d4d" d="M699 795L706.2 795L706.1 791.8L699 791.8ZM699 792.5L706.1 792.5L706.1 789.3L699 789.3ZM699 790L706.1 790L706.1 786.8L699 786.8ZM699 787.5L706.1 787.5L706.1 784.3L699 784.4ZM699 785.1L706.1 785L706.1 781.8L698.9 781.9ZM699 782.6L706.1 782.5L706.1 779.3L698.9 779.4ZM689.4 755.2L693.7 755.2L693.6 752L689.3 752ZM689.4 752.7L693.6 752.7L693.6 749.5L689.3 749.6ZM689.3 750.3L693.6 750.2L693.5 747L689.2 747.1ZM689.2 747.8L693.5 747.7L693.4 744.6L689.2 744.6ZM698.8 722.8L705.8 722.8L705.8 719.6L698.8 719.6ZM698.8 720.3L705.8 720.3L705.8 717.1L698.8 717.1ZM684.7 294.7L689.6 294.7L689.6 291.5L684.7 291.5ZM572.6 240.2L568.9 238.4L567.7 241.1L571.5 242.7Z"/>
<path fill="#e2e2e2" d="M694.8 792.5L699 792.5L699 789.3L694.7 789.4ZM694.7 790.1L699 790L699 786.8L694.7 786.9ZM694.7 787.6L699 787.5L699 784.4L694.6 784.4ZM680.8 334.6L682.7 334.6L682.6 331.4L680.8 331.4ZM682.7 334.6L684.3 334.6L684.3 331.4L682.6 331.4ZM687.4 246.2L692 244.8L691.1 241.7L686.5 243.2ZM549.2 282.9L545.2 282.9L545.2 285.9L549.1 286Z"/>
<path fill="#505050" d="M690.2 787.6L694.7 787.6L694.6 784.4L690.1 784.4ZM690.1 785.1L694.6 785.1L694.5 781.9L690 781.9ZM690 782.6L694.5 782.6L694.4 779.4L690 779.4ZM690 780.1L694.4 780.1L694.4 776.9L689.9 776.9ZM698.9 747.7L705.9 747.7L705.9 744.5L698.9 744.5ZM698.9 745.2L705.9 745.2L705.9 742L698.9 742ZM698.9 742.7L705.9 742.7L705.9 739.5L698.9 739.5ZM698.9 740.2L705.9 740.2L705.9 737L698.9 737.1ZM572 217.4L570.1 215.7L568 218.4L570 220Z"/>
<path fill="#e3e3e3" d="M694.6 785.1L699 785.1L698.9 781.9L694.5 781.9ZM694.5 782.6L699 782.6L698.9 779.4L694.4 779.4ZM694.4 780.1L698.9 780.1L698.9 776.9L694.4 776.9ZM694.4 777.6L698.9 777.6L698.9 774.4L694.3 774.4ZM680.9 337.1L682.7 337.1L682.7 333.9L680.8 333.9ZM682.7 337.1L684.3 337.1L684.3 333.9L682.7 333.9ZM680.7 252.4L682.8 252L682.2 249.2L680.1 249.7ZM593.5 210.3L592.5 208.6L589.9 210.1L591 211.9Z"/>
<path fill="#4e4e4e" d="M698.9 780.1L706.1 780L706.1 776.8L698.9 776.9ZM698.9 777.6L706.1 777.5L706 774.4L698.9 774.4ZM698.9 775.1L706 775.1L706 771.9L698.9 771.9ZM698.9 772.6L706 772.6L706 769.4L698.9 769.4ZM698.9 770.1L706 770.1L706 766.9L698.9 766.9ZM689.7 767.7L694.1 767.7L694 764.5L689.6 764.5ZM698.9 767.6L706 767.6L706 764.4L698.9 764.4ZM689.6 765.2L694 765.2L693.9 762L689.6 762ZM689.6 762.7L693.9 762.7L693.8 759.5L689.5 759.5ZM689.5 760.2L693.8 760.2L693.8 757L689.5 757ZM689.5 757.7L693.8 757.7L693.7 754.5L689.4 754.5ZM698.8 730.3L705.8 730.3L705.8 727.1L698.8 727.1ZM698.8 727.8L705.8 727.8L705.8 724.6L698.8 724.6ZM698.8 725.3L705.8 725.3L705.8 722.1L698.8 722.1Z"/>
<path fill="#4f4f4f" d="M689.9 777.6L694.4 777.6L694.3 774.4L689.9 774.4ZM689.9 775.1L694.3 775.1L694.2 771.9L689.8 772ZM689.8 772.7L694.2 772.6L694.1 769.4L689.8 769.5ZM689.8 770.2L694.1 770.1L694.1 767L689.7 767ZM698.9 765.1L706 765.1L706 761.9L698.9 762ZM698.9 762.7L706 762.6L706 759.4L698.9 759.5ZM698.9 760.2L706 760.1L706 756.9L698.9 757ZM698.9 757.7L706 757.6L705.9 754.4L698.9 754.5ZM698.9 755.2L705.9 755.1L705.9 752L698.9 752ZM698.9 752.7L705.9 752.7L705.9 749.5L698.9 749.5ZM698.9 750.2L705.9 750.2L705.9 747L698.9 747ZM698.9 737.8L705.9 737.7L705.8 734.5L698.8 734.6ZM698.9 735.3L705.8 735.2L705.8 732L698.8 732.1ZM698.8 732.8L705.8 732.7L705.8 729.6L698.8 729.6ZM684.7 292.2L689.6 292.2L689.6 289L684.8 289.1ZM652.9 203.5L654.1 201.1L651.1 199.6L650 202ZM567.5 276.2L563.5 276.1L563.6 279.2L567.5 279.3Z"/>
<path fill="#e4e4e4" d="M694.3 775.1L698.9 775.1L698.9 771.9L694.2 771.9ZM694.2 772.6L698.9 772.6L698.9 769.4L694.1 769.4ZM694.1 770.1L698.9 770.1L698.9 766.9L694.1 767ZM680.9 342.1L682.7 342L682.7 338.9L680.9 338.9ZM682.7 342L684.4 342L684.4 338.8L682.7 338.9ZM680.9 339.6L682.7 339.6L682.7 336.4L680.8 336.4ZM682.7 339.6L684.4 339.5L684.3 336.4L682.7 336.4ZM683.8 260.5L685.5 260.4L685.4 257.5L683.6 257.7ZM688 248.5L692.6 247.3L691.8 244.2L687.2 245.5ZM675.5 245.5L678.3 244.5L677.4 241.7L674.5 242.9ZM674.8 243.5L677.6 242.4L676.6 239.7L673.8 241ZM674.1 241.6L676.9 240.4L675.7 237.7L672.9 239.1ZM673.2 239.7L676 238.3L674.8 235.8L672 237.3ZM672.3 237.9L675.1 236.4L673.8 233.8L671 235.4ZM671.4 236L674.1 234.4L672.7 231.9L670 233.7ZM670.3 234.3L673.1 232.5L671.5 230.1L668.8 231.9ZM669.2 232.5L671.9 230.6L670.3 228.2L667.7 230.2ZM668.1 230.8L670.7 228.8L669 226.5L666.4 228.6ZM666.8 229.1L669.5 227L667.7 224.7L665.1 227ZM665.6 227.5L668.1 225.3L666.3 223L663.7 225.4ZM664.2 225.9L666.8 223.6L664.8 221.4L662.3 223.9Z"/>
<path fill="#e5e5e5" d="M694.1 767.7L698.9 767.6L698.9 764.4L694 764.5ZM694 765.2L698.9 765.1L698.9 762L693.9 762ZM693.9 762.7L698.9 762.7L698.9 759.5L693.8 759.5ZM680.9 344.5L682.7 344.5L682.7 341.3L680.9 341.4ZM682.7 344.5L684.4 344.5L684.4 341.3L682.7 341.3ZM591.6 211.6L590.5 209.8L588 211.4L589.2 213.2Z"/>
<path fill="#e6e6e6" d="M693.8 760.2L698.9 760.2L698.9 757L693.8 757ZM693.8 757.7L698.9 757.7L698.9 754.5L693.7 754.5ZM693.7 755.2L698.9 755.2L698.9 752L693.6 752ZM680.9 347L682.7 347L682.7 343.8L680.9 343.8ZM682.7 347L684.4 347L684.4 343.8L682.7 343.8ZM683.6 258.4L685.5 258.2L685.3 255.3L683.3 255.6ZM688.5 250.8L693.1 249.8L692.4 246.6L687.8 247.8ZM589.8 212.9L588.6 211L586.2 212.8L587.4 214.6ZM559.7 234L555.9 232.2L554.5 235.3L558.5 237.1ZM549.2 285.3L545.2 285.2L545.1 288.3L549.1 288.4Z"/>
<path fill="#e7e7e7" d="M693.6 752.7L698.9 752.7L698.9 749.5L693.6 749.5ZM693.6 750.2L698.9 750.2L698.9 747L693.5 747ZM693.5 747.7L698.9 747.7L698.9 744.5L693.4 744.6ZM680.9 349.5L682.7 349.5L682.7 346.3L680.9 346.3ZM682.7 349.5L684.5 349.5L684.4 346.3L682.7 346.3ZM688.9 253.1L693.6 252.3L693 249.1L688.3 250.1ZM680.2 250.4L682.4 249.9L681.7 247.1L679.5 247.7ZM657.2 215.1L659.5 211.8L657 209.9L654.9 213.2Z"/>
<path fill="#e8e8e8" d="M693.4 745.3L698.9 745.2L698.9 742L693.3 742.1ZM693.3 742.8L698.9 742.7L698.9 739.5L693.3 739.6ZM693.3 740.3L698.9 740.2L698.9 737.1L693.2 737.1ZM680.9 352L682.7 352L682.7 348.8L680.9 348.8ZM682.7 352L684.5 352L684.5 348.8L682.7 348.8ZM588 214.2L586.7 212.4L584.4 214.2L585.7 216Z"/>
<path fill="#e9e9e9" d="M693.2 737.8L698.9 737.8L698.8 734.6L693.1 734.6ZM693.1 735.3L698.9 735.3L698.8 732.1L693.1 732.1ZM680.9 357L682.8 357L682.8 353.8L680.9 353.8ZM682.8 357L684.5 357L684.5 353.8L682.8 353.8ZM680.9 354.5L682.8 354.5L682.7 351.3L680.9 351.3ZM682.8 354.5L684.5 354.5L684.5 351.3L682.7 351.3ZM683.4 256.2L685.4 256L685.1 253.1L683 253.4ZM689.2 255.4L693.9 254.8L693.4 251.6L688.8 252.4Z"/>
<path fill="#898989" d="M705.9 737.7L706.6 737.7L706.6 734.5L705.8 734.5ZM705.8 735.2L706.6 735.2L706.6 732L705.8 732ZM678.3 384.4L681 384.4L681 381.2L678.3 381.2ZM558.4 252.1L555 251.4L554.6 254.7L558.1 255.2ZM571.3 304.6L568.2 304.6L568.2 307.7L571.3 307.7ZM546 397.6L540.2 397.6L540.1 400.7L546.1 400.7ZM546.1 400L540.1 400L540.1 403.2L546.1 403.2ZM546.1 402.5L540.1 402.5L540.1 405.6L546.1 405.6ZM546.1 404.9L540.1 404.9L540.1 408.1L546.2 408.1ZM546.2 407.4L540.1 407.4L540.1 410.5L546.2 410.5ZM546.2 409.8L540.1 409.8L540.1 413L546.2 413Z"/>
<path fill="#eaeaea" d="M693.1 732.8L698.8 732.8L698.8 729.6L693 729.6ZM693 730.3L698.8 730.3L698.8 727.1L692.9 727.1ZM693 727.8L698.8 727.8L698.8 724.6L692.9 724.6ZM680.9 359.5L682.8 359.5L682.8 356.3L680.9 356.3ZM682.8 359.5L684.5 359.5L684.5 356.3L682.8 356.3ZM689.4 257.8L694.2 257.3L693.8 254.1L689.1 254.7ZM586.3 215.6L584.9 213.8L582.6 215.7L584.1 217.5Z"/>
<path fill="#8a8a8a" d="M705.8 732.7L706.6 732.7L706.5 729.5L705.8 729.6ZM705.8 730.3L706.6 730.2L706.5 727.1L705.8 727.1ZM678.3 386.9L681.1 386.9L681 383.7L678.3 383.7ZM678.9 272.4L682.3 272.3L682.3 269.2L678.8 269.2ZM558.8 273.7L554.1 273.6L554 276.6L558.9 276.7ZM571.3 302.1L568.2 302.1L568.2 305.3L571.3 305.3ZM545.9 382.9L540.2 382.9L540.2 386L545.9 386ZM545.9 385.3L540.2 385.3L540.2 388.5L545.9 388.5ZM545.9 387.8L540.2 387.8L540.2 390.9L546 390.9ZM546 390.2L540.2 390.2L540.2 393.4L546 393.4ZM546 392.7L540.2 392.7L540.2 395.8L546 395.8ZM546 395.1L540.2 395.1L540.2 398.3L546 398.3Z"/>
<path fill="#8b8b8b" d="M705.8 727.8L706.5 727.8L706.5 724.6L705.8 724.6ZM705.8 725.3L706.5 725.3L706.5 722.1L705.8 722.1ZM678.3 389.4L681.1 389.3L681.1 386.2L678.3 386.2ZM694.4 264.8L698.9 264.7L698.8 261.5L694.4 261.6ZM571.3 299.8L568.2 299.8L568.2 302.8L571.3 302.8ZM545.7 368.2L540.2 368.2L540.2 371.3L545.7 371.4ZM545.7 370.7L540.2 370.6L540.2 373.8L545.8 373.8ZM545.8 373.1L540.2 373.1L540.2 376.2L545.8 376.3ZM545.8 375.6L540.2 375.5L540.2 378.7L545.8 378.7ZM545.8 378L540.2 378L540.2 381.1L545.8 381.1ZM545.8 380.4L540.2 380.4L540.2 383.6L545.9 383.6Z"/>
<path fill="#ebebeb" d="M692.9 725.3L698.8 725.3L698.8 722.1L692.8 722.2ZM692.8 722.9L698.8 722.8L698.8 719.6L692.8 719.7ZM681 362L682.8 362L682.8 358.8L680.9 358.8ZM682.8 362L684.6 361.9L684.5 358.8L682.8 358.8ZM679.7 248.4L681.9 247.7L681.1 245L678.8 245.7ZM549.1 287.7L545.1 287.6L545.1 290.7L549.1 290.7Z"/>
<path fill="#8c8c8c" d="M705.8 722.8L706.5 722.8L706.5 719.6L705.8 719.6ZM678.4 391.9L681.1 391.8L681.1 388.6L678.3 388.7ZM545.5 351.1L540.3 351.1L540.3 354.2L545.5 354.2ZM545.5 353.5L540.3 353.5L540.3 356.7L545.6 356.7ZM545.6 356L540.3 356L540.3 359.1L545.6 359.1ZM545.6 358.4L540.3 358.4L540.2 361.5L545.6 361.6ZM545.6 360.9L540.2 360.8L540.2 364L545.6 364ZM545.6 363.3L540.2 363.3L540.2 366.4L545.7 366.5ZM545.7 365.8L540.2 365.7L540.2 368.9L545.7 368.9Z"/>
<path fill="#ececec" d="M692.8 720.4L698.8 720.3L698.8 717.1L692.7 717.2ZM692.7 717.9L698.8 717.8L698.8 714.7L692.6 714.7ZM681 364.5L682.8 364.4L682.8 361.3L681 361.3ZM682.8 364.4L684.6 364.4L684.6 361.2L682.8 361.3ZM689.6 260.1L694.3 259.8L694.1 256.6L689.4 257.1ZM683.2 254.1L685.2 253.8L684.8 250.8L682.7 251.3ZM584.6 217.1L583.1 215.2L580.9 217.2L582.5 219.1ZM558.8 236.4L554.8 234.7L553.5 237.9L557.7 239.6Z"/>
<path fill="#8d8d8d" d="M705.8 720.3L706.5 720.3L706.5 717.1L705.8 717.1ZM705.8 717.8L706.5 717.8L706.5 714.6L705.8 714.6ZM678.4 394.3L681.1 394.3L681.1 391.1L678.4 391.2ZM558.2 254.5L554.7 254L554.4 257.2L558 257.6ZM558.7 271.3L554.2 271.2L554.1 274.3L558.8 274.4ZM545.3 336.4L540.3 336.4L540.3 339.5L545.4 339.5ZM545.4 338.8L540.3 338.8L540.3 342L545.4 342ZM545.4 341.3L540.3 341.3L540.3 344.4L545.4 344.4ZM545.4 343.7L540.3 343.7L540.3 346.9L545.4 346.9ZM545.4 346.2L540.3 346.2L540.3 349.3L545.5 349.3ZM545.5 348.6L540.3 348.6L540.3 351.8L545.5 351.8Z"/>
<path fill="#ededed" d="M692.6 715.4L698.8 715.4L698.8 712.2L692.6 712.2ZM692.6 712.9L698.8 712.9L698.8 709.7L692.5 709.7ZM692.5 710.4L698.8 710.4L698.8 707.2L692.4 707.2ZM681 366.9L682.8 366.9L682.8 363.7L681 363.8ZM682.8 366.9L684.6 366.9L684.6 363.7L682.8 363.7ZM583 218.6L581.4 216.8L579.3 218.8L581 220.7Z"/>
<path fill="#8e8e8e" d="M705.8 715.3L706.5 715.3L706.5 712.1L705.8 712.1ZM705.8 712.8L706.5 712.8L706.5 709.6L705.7 709.6ZM678.4 396.8L681.1 396.8L681.1 393.6L678.4 393.6ZM571.4 297.6L568.1 297.5L568.2 300.5L571.3 300.5ZM545.2 321.7L540.3 321.7L540.3 324.8L545.2 324.8ZM545.2 324.1L540.3 324.1L540.3 327.3L545.2 327.3ZM545.2 326.6L540.3 326.6L540.3 329.7L545.2 329.7ZM545.2 329L540.3 329L540.3 332.2L545.3 332.2ZM545.3 331.5L540.3 331.5L540.3 334.6L545.3 334.6ZM545.3 333.9L540.3 333.9L540.3 337.1L545.3 337.1Z"/>
<path fill="#8f8f8f" d="M705.7 710.3L706.5 710.3L706.5 707.1L705.7 707.2ZM705.7 707.9L706.5 707.8L706.5 704.7L705.7 704.7ZM678.4 399.3L681.1 399.3L681.1 396.1L678.4 396.1ZM545 307L540.4 307L540.4 310.1L545 310.1ZM545 309.4L540.4 309.4L540.4 312.6L545 312.6ZM545 311.9L540.4 311.9L540.4 315L545.1 315ZM545.1 314.3L540.4 314.3L540.4 317.5L545.1 317.5ZM545.1 316.8L540.4 316.8L540.4 319.9L545.1 319.9ZM545.1 319.2L540.4 319.2L540.3 322.4L545.2 322.4Z"/>
<path fill="#494949" d="M688.4 707.9L692.4 707.9L692.4 704.7L688.3 704.8ZM688.3 705.5L692.4 705.4L692.3 702.2L688.3 702.3ZM688.3 703L692.3 702.9L692.3 699.8L688.2 699.8ZM688.2 700.5L692.3 700.5L692.2 697.3L688.2 697.3ZM688.2 698L692.2 698L692.1 694.8L688.1 694.8ZM698.8 697.9L705.7 697.9L705.7 694.7L698.7 694.7ZM688.1 695.5L692.1 695.5L692.1 692.3L688 692.3ZM698.7 695.4L705.7 695.4L705.7 692.2L698.7 692.3ZM698.7 693L705.7 692.9L705.7 689.7L698.7 689.8ZM646.1 212.3L647.9 208.3L645.3 206.9L643.5 211.2ZM648.3 201.2L649.3 198.8L646.2 197.5L645.3 200ZM589.6 203.2L588.6 201.2L585.7 202.9L586.8 204.8ZM587.4 204.5L586.3 202.5L583.5 204.2L584.7 206.2ZM585.3 205.8L584 203.9L581.3 205.7L582.6 207.6ZM583.2 207.2L581.9 205.3L579.2 207.2L580.6 209.2ZM581.2 208.7L579.7 206.8L577.1 208.8L578.6 210.7Z"/>
<path fill="#eeeeee" d="M692.4 707.9L698.8 707.9L698.8 704.7L692.4 704.7ZM692.4 705.4L698.8 705.4L698.8 702.2L692.3 702.2ZM681 371.9L682.8 371.9L682.8 368.7L681 368.7ZM682.8 371.9L684.7 371.9L684.6 368.7L682.8 368.7ZM681 369.4L682.8 369.4L682.8 366.2L681 366.2ZM682.8 369.4L684.6 369.4L684.6 366.2L682.8 366.2ZM689.7 262.5L694.4 262.3L694.3 259.1L689.6 259.4ZM679 246.4L681.3 245.7L680.4 242.9L678.1 243.8Z"/>
<path fill="#909090" d="M705.7 705.4L706.5 705.4L706.5 702.2L705.7 702.2ZM705.7 702.9L706.5 702.9L706.5 699.7L705.7 699.7ZM678.5 401.8L681.1 401.8L681.1 398.6L678.4 398.6ZM678.8 269.9L682.3 269.9L682.2 266.7L678.8 266.7ZM694.4 262.3L698.9 262.2L698.7 258.8L694.3 259.1ZM558.1 256.9L554.5 256.5L554.3 259.8L558 260ZM558.6 268.9L554.3 268.8L554.2 271.9L558.7 272ZM544.9 299.5L540.4 299.5L540.4 302.8L544.9 302.8ZM544.9 302.1L540.4 302.1L540.4 305.2L545 305.2ZM545 304.5L540.4 304.5L540.4 307.7L545 307.7Z"/>
<path fill="#efefef" d="M692.3 702.9L698.8 702.9L698.8 699.7L692.3 699.8ZM692.3 700.5L698.8 700.4L698.7 697.2L692.2 697.3ZM681 374.4L682.9 374.4L682.8 371.2L681 371.2ZM682.9 374.4L684.7 374.4L684.7 371.2L682.8 371.2ZM689.7 264.8L694.4 264.8L694.4 261.6L689.7 261.8ZM682.8 252L684.9 251.5L684.4 248.6L682.2 249.2ZM658.9 216.3L661.3 213.2L659 211.4L656.7 214.7ZM581.5 220.2L579.8 218.4L577.7 220.5L579.5 222.3ZM549.1 290L545.1 290L545 293L549 293.1Z"/>
<path fill="#fdfdfd" d="M681.6 700.5L684.9 700.5L684.8 697.3L681.6 697.3ZM684.9 700.5L688.2 700.5L688.2 697.3L684.8 697.3ZM681.6 698L684.8 698L684.8 694.8L681.6 694.8ZM684.8 698L688.2 698L688.1 694.8L684.8 694.8ZM681.6 695.5L684.8 695.5L684.8 692.3L681.6 692.3ZM684.8 695.5L688.1 695.5L688 692.3L684.8 692.3ZM681.6 693L684.8 693L684.8 689.8L681.6 689.9ZM684.8 693L688.1 693L688 689.8L684.8 689.8ZM681.6 690.6L684.8 690.5L684.7 687.3L681.6 687.4ZM684.8 690.5L688 690.5L687.9 687.3L684.7 687.3ZM681.6 688.1L684.7 688L684.7 684.9L681.6 684.9ZM684.7 688L687.9 688L687.9 684.8L684.7 684.9ZM681.6 685.6L684.7 685.6L684.7 682.4L681.6 682.4ZM684.7 685.6L687.9 685.5L687.8 682.4L684.7 682.4ZM681.6 683.1L684.7 683.1L684.7 679.9L681.6 679.9ZM684.7 683.1L687.8 683.1L687.8 679.9L684.7 679.9ZM681.6 680.6L684.7 680.6L684.6 677.4L681.6 677.4ZM684.7 680.6L687.8 680.6L687.7 677.4L684.6 677.4ZM681.6 678.1L684.6 678.1L684.6 674.9L681.6 674.9ZM684.6 678.1L687.7 678.1L687.7 674.9L684.6 674.9ZM681.6 675.6L684.6 675.6L684.6 672.4L681.6 672.4ZM684.6 675.6L687.7 675.6L687.6 672.4L684.6 672.4ZM681.6 673.1L684.6 673.1L684.6 669.9L681.6 669.9ZM684.6 673.1L687.6 673.1L687.6 669.9L684.6 669.9ZM681.6 670.6L684.6 670.6L684.5 667.4L681.6 667.4ZM684.6 670.6L687.6 670.6L687.5 667.4L684.5 667.4ZM681.6 668.1L684.5 668.1L684.5 664.9L681.6 665ZM684.5 668.1L687.5 668.1L687.5 664.9L684.5 664.9ZM681.6 665.7L684.5 665.6L684.5 662.5L681.6 662.5ZM684.5 665.6L687.5 665.6L687.4 662.4L684.5 662.5ZM681.6 663.2L684.5 663.2L684.4 660L681.6 660ZM684.5 663.2L687.4 663.1L687.4 659.9L684.4 660ZM681.6 660.7L684.5 660.7L684.4 657.5L681.7 657.5ZM684.5 660.7L687.4 660.6L687.3 657.5L684.4 657.5ZM681.7 658.2L684.4 658.2L684.4 655L681.7 655ZM684.4 658.2L687.3 658.2L687.3 655L684.4 655ZM681.7 655.7L684.4 655.7L684.4 652.5L681.7 652.5ZM684.4 655.7L687.3 655.7L687.2 652.5L684.4 652.5ZM681.7 653.2L684.4 653.2L684.4 650L681.7 650ZM684.4 653.2L687.2 653.2L687.2 650L684.4 650ZM681.7 650.7L684.4 650.7L684.4 647.5L681.7 647.5ZM684.4 650.7L687.2 650.7L687.1 647.5L684.4 647.5ZM681.7 648.2L684.4 648.2L684.3 645L681.7 645ZM684.4 648.2L687.1 648.2L687.1 645L684.3 645ZM681.7 645.7L684.3 645.7L684.3 642.5L681.7 642.6ZM684.3 645.7L687.1 645.7L687 642.5L684.3 642.5ZM681.7 643.3L684.3 643.2L684.3 640.1L681.7 640.1ZM684.3 643.2L687 643.2L686.9 640L684.3 640.1ZM691.5 603.4L698.5 603.3L698.5 600.1L691.5 600.2ZM691.5 600.9L698.5 600.8L698.5 597.7L691.5 597.7ZM691.5 598.4L698.5 598.4L698.5 595.2L691.6 595.2ZM691.6 595.9L698.5 595.9L698.5 592.7L691.6 592.7ZM681.2 416.7L683.1 416.7L683.1 413.5L681.2 413.5ZM683.1 416.7L685.1 416.7L685 413.5L683.1 413.5ZM681.2 414.2L683.1 414.2L683.1 411L681.2 411.1ZM683.1 414.2L685 414.2L685 411L683.1 411ZM666.2 217.8L668.6 215.2L666.4 213.1L664.1 215.7ZM664.6 216.2L666.9 213.6L664.7 211.5L662.5 214.2ZM563.6 257.5L560.9 257.2L560.7 260.2L563.3 260.4ZM554.4 259.1L549.6 258.7L549.5 262.1L554.3 262.3ZM548.9 297.1L545 297.1L544.9 300.2L548.9 300.3Z"/>
<path fill="#919191" d="M705.7 700.4L706.5 700.4L706.5 697.2L705.7 697.2ZM705.7 697.9L706.5 697.9L706.5 694.7L705.7 694.7ZM678.5 404.3L681.1 404.3L681.1 401.1L678.4 401.1ZM643.8 206.1L645 203L642.2 201.9L641.1 205.1ZM571.4 295.2L568.1 295.2L568.1 298.2L571.3 298.3Z"/>
<path fill="#f0f0f0" d="M692.2 698L698.8 697.9L698.7 694.7L692.1 694.8ZM692.1 695.5L698.7 695.4L698.7 692.3L692.1 692.3ZM681 376.9L682.9 376.9L682.9 373.7L681 373.7ZM682.9 376.9L684.7 376.9L684.7 373.7L682.9 373.7ZM678.3 244.5L680.7 243.6L679.8 240.8L677.4 241.7ZM677.6 242.4L680 241.4L679 238.6L676.6 239.7ZM660.6 217.6L663 214.7L660.7 212.8L658.4 215.9ZM580 221.8L578.2 220L576.1 222.2L578 224ZM558 238.9L553.8 237.3L552.7 240.5L557 242Z"/>
<path fill="#929292" d="M705.7 695.4L706.5 695.4L706.5 692.2L705.7 692.2ZM705.7 692.9L706.5 692.9L706.5 689.7L705.7 689.7ZM678.5 406.8L681.1 406.8L681.1 403.6L678.5 403.6ZM641.8 205.3L642.8 202.1L640 201.1L639.1 204.4ZM545 297.1L540.5 297L540.4 300.2L544.9 300.2Z"/>
<path fill="#484848" d="M688.1 693L692.1 693L692 689.8L688 689.8ZM688 690.5L692 690.5L691.9 687.3L687.9 687.3ZM698.7 690.5L705.7 690.4L705.7 687.2L698.7 687.3ZM687.9 688L691.9 688L691.9 684.8L687.9 684.8ZM698.7 688L705.7 687.9L705.6 684.7L698.7 684.8ZM687.9 685.5L691.9 685.5L691.8 682.3L687.8 682.4ZM698.7 685.5L705.6 685.4L705.6 682.3L698.7 682.3ZM687.8 683.1L691.8 683L691.8 679.8L687.8 679.9ZM684.6 299.7L689.6 299.7L689.6 296.5L684.6 296.5ZM646 200.3L646.9 197.7L643.9 196.6L643.1 199.1ZM598.8 199.1L598 197L595 198.2L595.8 200.2ZM596.5 199.9L595.7 197.9L592.6 199.2L593.5 201.2ZM594.2 201L593.3 198.9L590.3 200.3L591.3 202.4ZM591.9 202L590.9 200L587.9 201.6L589 203.6ZM573.5 238.4L569.8 236.4L568.6 239.1L572.3 240.9Z"/>
<path fill="#f1f1f1" d="M692.1 693L698.7 693L698.7 689.8L692 689.8ZM692 690.5L698.7 690.5L698.7 687.3L691.9 687.3ZM691.9 688L698.7 688L698.7 684.8L691.9 684.8ZM681 379.4L682.9 379.4L682.9 376.2L681 376.2ZM682.9 379.4L684.7 379.4L684.7 376.2L682.9 376.2ZM689.7 267.3L694.4 267.3L694.4 264.1L689.7 264.1ZM682.4 249.9L684.5 249.3L683.9 246.4L681.7 247.1ZM676.9 240.4L679.3 239.3L678.2 236.5L675.7 237.7ZM676 238.3L678.5 237.1L677.3 234.4L674.8 235.8ZM662.2 219L664.6 216.2L662.5 214.2L660.1 217.2ZM578.5 223.5L576.6 221.7L574.6 224L576.6 225.7Z"/>
<path fill="#939393" d="M705.7 690.4L706.5 690.4L706.5 687.2L705.7 687.2ZM705.7 687.9L706.5 687.9L706.5 684.7L705.6 684.7Z"/>
<path fill="#f2f2f2" d="M691.9 685.5L698.7 685.5L698.7 682.3L691.8 682.3ZM691.8 683L698.7 683L698.7 679.8L691.8 679.8ZM681 381.9L682.9 381.9L682.9 378.7L681 378.7ZM682.9 381.9L684.8 381.9L684.7 378.7L682.9 378.7ZM675.1 236.4L677.6 235L676.3 232.3L673.8 233.8ZM674.1 234.4L676.6 232.9L675.2 230.3L672.7 231.9ZM673.1 232.5L675.6 230.9L674.1 228.3L671.5 230.1ZM671.9 230.6L674.5 228.9L672.9 226.3L670.3 228.2ZM663.8 220.4L666.2 217.8L664.1 215.7L661.7 218.5ZM577.1 225.2L575.1 223.5L573.2 225.8L575.2 227.5ZM575.7 227L573.6 225.3L571.8 227.7L574 229.3ZM557.2 241.4L552.9 239.9L551.9 243.2L556.3 244.5Z"/>
<path fill="#949494" d="M705.6 685.4L706.5 685.4L706.5 682.3L705.6 682.3ZM705.6 683L706.5 683L706.5 679.8L705.6 679.8ZM678.5 409.3L681.2 409.3L681.1 406.1L678.5 406.1ZM639.7 204.6L640.7 201.3L637.8 200.3L637 203.8ZM558.1 259.3L554.4 259.1L554.3 262.3L558.1 262.5ZM558.4 266.6L554.3 266.5L554.2 269.5L558.5 269.6ZM571.4 292.9L568 292.8L568 295.9L571.4 295.9Z"/>
<path fill="#474747" d="M698.7 683L705.6 683L705.6 679.8L698.7 679.8ZM687.8 680.6L691.8 680.5L691.7 677.4L687.7 677.4ZM698.7 680.5L705.6 680.5L705.6 677.3L698.7 677.3ZM687.7 678.1L691.7 678.1L691.6 674.9L687.7 674.9ZM687.7 675.6L691.6 675.6L691.6 672.4L687.6 672.4ZM687.6 673.1L691.6 673.1L691.5 669.9L687.6 669.9ZM687.6 670.6L691.5 670.6L691.4 667.4L687.5 667.4ZM643.7 199.3L644.5 196.9L641.5 195.9L640.8 198.3ZM641.5 198.5L642.2 196.1L639.1 195.2L638.5 197.6ZM639.2 197.7L639.8 195.4L636.7 194.6L636.2 196.9ZM605.7 196.9L605.2 194.9L602.1 195.7L602.7 197.7ZM603.4 197.5L602.8 195.5L599.7 196.4L600.4 198.5ZM601 198.2L600.4 196.2L597.4 197.3L598.1 199.3Z"/>
<path fill="#f3f3f3" d="M691.8 680.5L698.7 680.5L698.7 677.3L691.7 677.4ZM691.7 678.1L698.7 678L698.7 674.8L691.6 674.9ZM681.1 386.9L682.9 386.9L682.9 383.7L681 383.7ZM682.9 386.9L684.8 386.8L684.8 383.7L682.9 383.7ZM681 384.4L682.9 384.4L682.9 381.2L681 381.2ZM682.9 384.4L684.8 384.4L684.7 381.2L682.9 381.2ZM689.7 269.8L694.4 269.8L694.4 266.6L689.7 266.6ZM670.7 228.8L673.3 226.9L671.6 224.4L669 226.5ZM669.5 227L672 225L670.2 222.5L667.7 224.7ZM665.3 221.9L667.8 219.4L665.7 217.3L663.3 219.9ZM574.4 228.8L572.2 227.2L570.5 229.7L572.7 231.2Z"/>
<path fill="#959595" d="M705.6 680.5L706.5 680.5L706.5 677.3L705.6 677.3ZM678.5 411.8L681.2 411.8L681.2 408.6L678.5 408.6ZM694.3 259.8L698.7 259.5L698.5 256.1L694.1 256.6Z"/>
<path fill="#464646" d="M698.7 678L705.6 678L705.6 674.8L698.7 674.8ZM698.7 675.5L705.6 675.5L705.6 672.3L698.7 672.3ZM698.7 673L705.6 673L705.6 669.8L698.7 669.8ZM687.5 668.1L691.4 668.1L691.4 664.9L687.5 664.9ZM687.5 665.6L691.4 665.6L691.3 662.4L687.4 662.4ZM687.4 663.1L691.3 663.1L691.3 659.9L687.4 659.9ZM687.4 660.6L691.3 660.6L691.3 657.4L687.3 657.5ZM687.3 658.2L691.3 658.1L691.3 655L687.3 655ZM687.3 655.7L691.3 655.7L691.3 652.5L687.2 652.5ZM687.2 653.2L691.3 653.2L691.3 650L687.2 650ZM687.2 650.7L691.3 650.7L691.3 647.5L687.1 647.5ZM687.1 648.2L691.3 648.2L691.3 645L687.1 645ZM687.1 645.7L691.3 645.7L691.3 642.5L687 642.5ZM687 643.2L691.3 643.2L691.3 640L686.9 640ZM636.9 197.1L637.4 194.8L634.3 194.1L633.9 196.3ZM634.6 196.5L634.9 194.3L631.8 193.7L631.5 195.9ZM612.8 195.4L612.6 193.5L609.4 194L609.8 196ZM610.4 195.8L610.1 193.9L607 194.5L607.4 196.5ZM608.1 196.3L607.6 194.3L604.5 195.1L605 197.1ZM567.6 280.9L563.6 280.9L563.7 283.9L567.7 284Z"/>
<path fill="#969696" d="M705.6 678L706.5 678L706.5 674.8L705.6 674.8ZM705.6 675.5L706.5 675.5L706.5 672.3L705.6 672.3ZM678.6 414.3L681.2 414.2L681.2 411.1L678.5 411.1ZM678.8 267.4L682.2 267.4L682.2 264.2L678.8 264.2ZM637.7 203.9L638.5 200.5L635.6 199.7L634.9 203.2ZM545 294.7L540.5 294.6L540.5 297.7L544.9 297.8Z"/>
<path fill="#f4f4f4" d="M691.6 675.6L698.7 675.5L698.7 672.3L691.6 672.4ZM691.6 673.1L698.7 673L698.7 669.8L691.5 669.9ZM691.5 670.6L698.7 670.5L698.7 667.4L691.4 667.4ZM681.1 389.3L682.9 389.3L682.9 386.2L681.1 386.2ZM682.9 389.3L684.8 389.3L684.8 386.1L682.9 386.2ZM681.9 247.7L684.1 247.1L683.4 244.3L681.1 245ZM668.1 225.3L670.7 223.1L668.8 220.7L666.3 223ZM666.8 223.6L669.3 221.2L667.3 218.9L664.8 221.4ZM573.1 230.6L570.9 229.1L569.3 231.7L571.6 233.1ZM556.5 243.9L552.1 242.5L551.3 245.9L555.7 247.1ZM549 292.4L545.1 292.3L545 295.4L549 295.5Z"/>
<path fill="#979797" d="M705.6 673L706.5 673L706.5 669.8L705.6 669.8ZM705.6 670.5L706.5 670.5L706.5 667.3L705.6 667.3ZM678.6 416.7L681.2 416.7L681.2 413.5L678.5 413.6ZM645.9 207.2L647.2 204L644.3 202.7L643.2 205.8ZM635.6 203.4L636.3 199.8L633.4 199.1L632.7 202.7ZM558.1 261.8L554.3 261.6L554.4 264.8L558.3 264.9ZM558.3 264.2L554.4 264.1L554.3 267.2L558.4 267.3ZM571.5 290.5L567.9 290.4L568 293.5L571.4 293.6Z"/>
<path fill="#454545" d="M698.7 670.5L705.6 670.5L705.6 667.3L698.7 667.4ZM698.7 668.1L705.6 668L705.6 664.8L698.7 664.9ZM698.7 665.6L705.6 665.5L705.6 662.3L698.7 662.4ZM687 640.7L691.3 640.7L691.4 637.5L686.9 637.5ZM686.9 638.2L691.4 638.2L691.4 635L686.8 635.1ZM686.9 635.8L691.4 635.7L691.4 632.5L686.8 632.6ZM686.8 633.3L691.4 633.2L691.4 630.1L686.7 630.1ZM686.8 630.8L691.4 630.8L691.4 627.6L686.7 627.6ZM686.7 628.3L691.4 628.3L691.4 625.1L686.6 625.1ZM686.7 625.8L691.4 625.8L691.4 622.6L686.6 622.6ZM686.6 623.3L691.4 623.3L691.4 620.1L686.5 620.1ZM686.6 620.8L691.4 620.8L691.4 617.6L686.5 617.6ZM686.5 618.3L691.5 618.3L691.5 615.1L686.4 615.1ZM686.5 615.8L691.5 615.8L691.5 612.6L686.4 612.7ZM686.4 613.4L691.5 613.3L691.5 610.1L686.3 610.2ZM686.3 610.9L691.5 610.8L691.5 607.7L686.3 607.7ZM686.3 608.4L691.5 608.4L691.5 605.2L686.2 605.2ZM686.2 605.9L691.5 605.9L691.5 602.7L686.2 602.7ZM686.2 603.4L691.5 603.4L691.5 600.2L686.1 600.2ZM684.5 302.2L689.6 302.2L689.6 299L684.6 299ZM632.2 196L632.5 193.8L629.3 193.4L629.1 195.4ZM629.8 195.5L630 193.5L626.8 193.1L626.7 195.1ZM627.4 195.2L627.5 193.2L624.3 193L624.3 194.9ZM620.1 194.8L620.1 192.9L616.9 193.1L617 195ZM617.7 194.9L617.6 193L614.4 193.3L614.6 195.2ZM615.3 195.1L615.1 193.2L611.9 193.6L612.2 195.5Z"/>
<path fill="#f5f5f5" d="M691.4 668.1L698.7 668.1L698.7 664.9L691.4 664.9ZM691.4 665.6L698.7 665.6L698.7 662.4L691.3 662.4ZM681.1 391.8L683 391.8L682.9 388.6L681.1 388.6ZM683 391.8L684.8 391.8L684.8 388.6L682.9 388.6ZM689.7 272.3L694.4 272.3L694.4 269.1L689.7 269.1ZM572 232.5L569.7 231.1L568.1 233.7L570.5 235.1ZM570.9 234.5L568.5 233.1L567.1 235.8L569.5 237ZM555.9 246.4L551.5 245.2L550.7 248.5L555.3 249.6Z"/>
<path fill="#989898" d="M705.6 668L706.5 668L706.5 664.8L705.6 664.8ZM705.6 665.5L706.5 665.5L706.4 662.3L705.6 662.3ZM678.6 419.2L681.2 419.2L681.2 416L678.6 416Z"/>
<path fill="#f6f6f6" d="M691.3 663.1L698.7 663.1L698.6 659.9L691.3 659.9ZM691.3 660.6L698.7 660.6L698.6 657.4L691.3 657.4ZM691.3 658.1L698.6 658.1L698.6 654.9L691.3 655ZM681.1 394.3L683 394.3L682.9 391.1L681.1 391.1ZM683 394.3L684.9 394.3L684.8 391.1L682.9 391.1ZM689.6 274.8L694.3 274.8L694.4 271.6L689.7 271.6ZM569.8 236.4L567.4 235.1L566.1 237.9L568.6 239.1Z"/>
<path fill="#444444" d="M698.7 663.1L705.6 663L705.5 659.9L698.6 659.9ZM698.7 660.6L705.6 660.6L705.5 657.4L698.6 657.4ZM686.1 600.9L691.5 600.9L691.5 597.7L686.1 597.7ZM686.1 598.4L691.5 598.4L691.6 595.2L686 595.2ZM686 595.9L691.6 595.9L691.6 592.7L686 592.7ZM686 593.4L691.6 593.4L691.6 590.2L685.9 590.3ZM685.9 591L691.6 590.9L691.6 587.7L685.9 587.8ZM685.9 588.5L691.6 588.4L691.6 585.2L685.8 585.3ZM685.8 586L691.6 585.9L691.6 582.8L685.8 582.8ZM685.8 583.5L691.6 583.5L691.6 580.3L685.7 580.3ZM685.7 581L691.6 581L691.6 577.8L685.7 577.8ZM685.7 578.5L691.6 578.5L691.6 575.3L685.7 575.3ZM625 194.9L625 193L621.9 192.9L621.9 194.7ZM622.6 194.7L622.6 192.9L619.4 193L619.4 194.8Z"/>
<path fill="#434343" d="M698.6 658.1L705.5 658.1L705.5 654.9L698.6 654.9ZM698.6 655.6L705.5 655.6L705.5 652.4L698.6 652.4ZM685.7 576L691.6 576L691.6 572.8L685.7 572.8ZM685.7 573.5L691.6 573.5L691.6 570.3L685.7 570.3ZM685.7 571L691.6 571L691.6 567.8L685.7 567.9ZM685.7 568.6L691.6 568.5L691.5 565.3L685.7 565.4ZM694.5 287.2L699.1 287.2L699 284L694.3 284ZM574.5 236.6L570.9 234.5L569.5 237L573.2 239Z"/>
<path fill="#9a9a9a" d="M705.5 658.1L706.5 658.1L706.5 654.9L705.5 654.9ZM705.5 655.6L706.5 655.6L706.5 652.4L705.5 652.4ZM671.8 416.8L678.6 416.7L678.5 413.6L671.8 413.6ZM671.8 414.3L678.6 414.3L678.5 411.1L671.8 411.1ZM671.8 411.8L678.5 411.8L678.5 408.6L671.8 408.6ZM631.3 202.4L631.8 198.7L628.8 198.2L628.4 202ZM571.5 288.1L567.8 288.1L567.9 291.1L571.5 291.2ZM545.1 292.3L540.6 292.2L540.5 295.3L545 295.4Z"/>
<path fill="#f7f7f7" d="M691.3 655.7L698.6 655.6L698.6 652.4L691.3 652.5ZM691.3 653.2L698.6 653.1L698.6 649.9L691.3 650ZM691.3 650.7L698.6 650.6L698.6 647.4L691.3 647.5ZM681.1 396.8L683 396.8L683 393.6L681.1 393.6ZM683 396.8L684.9 396.8L684.9 393.6L683 393.6ZM681.3 245.7L683.6 244.9L682.8 242.1L680.4 242.9ZM568.9 238.4L566.4 237.2L565.2 240L567.7 241.1ZM568 240.5L565.5 239.4L564.4 242.2L567 243.2ZM555.4 248.9L550.9 247.9L550.3 251.2L554.9 252.1Z"/>
<path fill="#424242" d="M698.6 653.1L705.5 653.1L705.5 649.9L698.6 649.9ZM698.6 650.6L705.5 650.6L705.5 647.4L698.6 647.4ZM685.7 566.1L691.5 566L691.5 562.8L685.7 562.9ZM685.7 563.6L691.5 563.5L691.5 560.4L685.7 560.4ZM685.7 561.1L691.5 561.1L691.5 557.9L685.6 557.9ZM685.6 558.6L691.5 558.6L691.5 555.4L685.6 555.4ZM684.5 304.7L689.6 304.7L689.6 301.5L684.5 301.5ZM694.7 289.7L699.3 289.7L699.1 286.5L694.5 286.5ZM567.7 283.3L563.7 283.2L563.7 286.3L567.8 286.4Z"/>
<path fill="#9b9b9b" d="M705.5 653.1L706.5 653.1L706.5 649.9L705.5 649.9ZM705.5 650.6L706.5 650.6L706.5 647.4L705.5 647.4ZM671.8 409.3L678.5 409.3L678.5 406.1L671.8 406.1ZM671.8 406.8L678.5 406.8L678.5 403.6L671.8 403.6ZM671.8 404.3L678.5 404.3L678.4 401.1L671.8 401.1ZM694.2 257.3L698.5 256.8L698.1 253.5L693.8 254.1Z"/>
<path fill="#f8f8f8" d="M691.3 648.2L698.6 648.1L698.6 645L691.3 645ZM691.3 645.7L698.6 645.7L698.6 642.5L691.3 642.5ZM691.3 643.2L698.6 643.2L698.6 640L691.3 640ZM691.3 640.7L698.6 640.7L698.6 637.5L691.4 637.5ZM681.1 401.8L683 401.8L683 398.6L681.1 398.6ZM683 401.8L684.9 401.8L684.9 398.6L683 398.6ZM681.1 399.3L683 399.3L683 396.1L681.1 396.1ZM683 399.3L684.9 399.3L684.9 396.1L683 396.1ZM689.6 277.3L694.3 277.3L694.3 274.1L689.6 274.1ZM680.7 243.6L683 242.7L682.2 239.8L679.8 240.8ZM680 241.4L682.4 240.4L681.4 237.5L679 238.6ZM567.2 242.5L564.6 241.5L563.6 244.4L566.2 245.3ZM555 251.4L550.4 250.6L549.9 254L554.6 254.7ZM549 294.8L545 294.7L544.9 297.8L548.9 297.8Z"/>
<path fill="#414141" d="M698.6 648.1L705.5 648.1L705.5 644.9L698.6 645ZM698.6 645.7L705.5 645.6L705.5 642.4L698.6 642.5ZM685.6 556.1L691.5 556.1L691.5 552.9L685.6 552.9ZM685.6 553.6L691.5 553.6L691.4 550.4L685.6 550.4ZM685.6 551.1L691.4 551.1L691.4 547.9L685.6 547.9Z"/>
<path fill="#9c9c9c" d="M705.5 648.1L706.5 648.1L706.5 644.9L705.5 644.9ZM705.5 645.6L706.5 645.6L706.5 642.4L705.5 642.4ZM671.8 401.8L678.5 401.8L678.4 398.6L671.8 398.7ZM671.8 399.4L678.4 399.3L678.4 396.1L671.8 396.2ZM671.8 396.9L678.4 396.8L678.4 393.6L671.8 393.7ZM671.8 394.4L678.4 394.3L678.4 391.2L671.8 391.2ZM653.7 216.3L655.5 213.6L653.1 211.8L651.3 214.9ZM629.1 202.1L629.5 198.3L626.5 197.8L626.2 201.8Z"/>
<path fill="#404040" d="M698.6 643.2L705.5 643.1L705.5 639.9L698.6 640ZM698.6 640.7L705.5 640.6L705.5 637.5L698.6 637.5ZM685.6 548.6L691.4 548.6L691.4 545.4L685.6 545.5ZM685.6 546.2L691.4 546.1L691.4 542.9L685.6 543ZM685.6 543.7L691.4 543.6L691.4 540.4L685.6 540.5ZM685.6 541.2L691.4 541.1L691.4 538L685.6 538ZM684.4 307.2L689.6 307.2L689.6 304L684.5 304ZM694.9 292.2L699.5 292.2L699.3 289L694.7 289Z"/>
<path fill="#9d9d9d" d="M705.5 643.1L706.5 643.1L706.5 639.9L705.5 639.9ZM705.5 640.6L706.5 640.6L706.5 637.4L705.5 637.5ZM671.8 391.9L678.4 391.9L678.3 388.7L671.9 388.7ZM671.9 389.4L678.3 389.4L678.3 386.2L671.9 386.2ZM671.9 386.9L678.3 386.9L678.3 383.7L671.9 383.7ZM678.8 264.9L682.2 264.9L682.1 262.1L678.7 262.2ZM571.6 285.8L567.8 285.7L567.8 288.8L571.5 288.8Z"/>
<path fill="#fefefe" d="M681.7 640.8L684.3 640.8L684.3 637.6L681.7 637.6ZM684.3 640.8L687 640.7L686.9 637.5L684.3 637.6ZM681.7 638.3L684.3 638.3L684.3 635.1L681.7 635.1ZM684.3 638.3L686.9 638.2L686.8 635.1L684.3 635.1ZM681.7 635.8L684.3 635.8L684.2 632.6L681.7 632.6ZM684.3 635.8L686.9 635.8L686.8 632.6L684.2 632.6ZM681.7 633.3L684.2 633.3L684.2 630.1L681.7 630.1ZM684.2 633.3L686.8 633.3L686.7 630.1L684.2 630.1ZM681.7 630.8L684.2 630.8L684.2 627.6L681.7 627.6ZM684.2 630.8L686.8 630.8L686.7 627.6L684.2 627.6ZM681.7 628.3L684.2 628.3L684.2 625.1L681.7 625.1ZM684.2 628.3L686.7 628.3L686.6 625.1L684.2 625.1ZM681.7 625.8L684.2 625.8L684.2 622.6L681.7 622.6ZM684.2 625.8L686.7 625.8L686.6 622.6L684.2 622.6ZM681.7 623.3L684.2 623.3L684.1 620.1L681.7 620.2ZM684.2 623.3L686.6 623.3L686.5 620.1L684.1 620.1ZM681.7 620.9L684.1 620.8L684.1 617.6L681.7 617.7ZM684.1 620.8L686.6 620.8L686.5 617.6L684.1 617.6ZM681.7 618.4L684.1 618.3L684.1 615.2L681.7 615.2ZM684.1 618.3L686.5 618.3L686.4 615.1L684.1 615.2ZM681.8 615.9L684.1 615.9L684.1 612.7L681.8 612.7ZM684.1 615.9L686.5 615.8L686.4 612.7L684.1 612.7ZM681.8 613.4L684.1 613.4L684.1 610.2L681.8 610.2ZM684.1 613.4L686.4 613.4L686.3 610.2L684.1 610.2ZM681.8 610.9L684.1 610.9L684 607.7L681.8 607.7ZM684.1 610.9L686.3 610.9L686.3 607.7L684 607.7ZM681.8 608.4L684 608.4L684 605.2L681.8 605.2ZM684 608.4L686.3 608.4L686.2 605.2L684 605.2ZM681.8 605.9L684 605.9L684 602.7L681.8 602.7ZM684 605.9L686.2 605.9L686.2 602.7L684 602.7ZM681.8 603.4L684 603.4L684 600.2L681.8 600.2ZM684 603.4L686.2 603.4L686.1 600.2L684 600.2ZM691.6 593.4L698.5 593.4L698.5 590.2L691.6 590.2ZM691.6 590.9L698.5 590.9L698.5 587.7L691.6 587.7ZM691.6 588.4L698.5 588.4L698.4 585.2L691.6 585.2ZM681.2 419.2L683.1 419.2L683.1 416L681.2 416ZM683.1 419.2L685.1 419.2L685.1 416L683.1 416ZM689.6 284.8L694.3 284.7L694.3 281.5L689.6 281.6ZM663 214.7L665.2 212L662.8 210L660.7 212.8ZM563.4 259.7L560.7 259.5L560.6 262.5L563.2 262.6ZM554.3 261.6L549.5 261.4L549.5 264.7L554.4 264.8Z"/>
<path fill="#f9f9f9" d="M691.4 638.2L698.6 638.2L698.6 635L691.4 635ZM691.4 635.7L698.6 635.7L698.6 632.5L691.4 632.5ZM691.4 633.2L698.6 633.2L698.6 630L691.4 630.1ZM691.4 630.8L698.6 630.7L698.6 627.5L691.4 627.6ZM681.1 404.3L683 404.3L683 401.1L681.1 401.1ZM683 404.3L685 404.3L684.9 401.1L683 401.1ZM679.3 239.3L681.7 238.2L680.6 235.3L678.2 236.5ZM678.5 237.1L681 235.9L679.8 233.1L677.3 234.4ZM566.5 244.6L563.8 243.7L562.9 246.6L565.6 247.4Z"/>
<path fill="#3f3f3f" d="M698.6 638.2L705.5 638.2L705.4 635L698.6 635ZM698.6 635.7L705.5 635.7L705.4 632.5L698.6 632.5ZM685.6 538.7L691.4 538.7L691.3 535.5L685.6 535.5ZM685.6 536.2L691.3 536.2L691.3 533L685.5 533ZM685.5 533.7L691.3 533.7L691.3 530.5L685.5 530.5ZM685.5 531.2L691.3 531.2L691.3 528L685.5 528Z"/>
<path fill="#9e9e9e" d="M705.5 638.2L706.5 638.1L706.5 635L705.4 635ZM705.5 635.7L706.5 635.7L706.5 632.5L705.4 632.5ZM671.9 384.4L678.3 384.4L678.3 381.2L671.9 381.2ZM671.9 381.9L678.3 381.9L678.3 378.7L671.9 378.7ZM671.9 379.4L678.3 379.4L678.2 376.2L671.9 376.3ZM626.9 201.8L627.2 197.9L624.2 197.6L624 201.6ZM545.1 290L540.6 289.9L540.6 292.9L545 293Z"/>
<path fill="#3e3e3e" d="M698.6 633.2L705.4 633.2L705.4 630L698.6 630ZM685.5 528.7L691.3 528.7L691.3 525.5L685.5 525.5ZM685.5 526.2L691.3 526.2L691.3 523L685.5 523ZM685.5 523.7L691.3 523.7L691.2 520.5L685.5 520.6ZM685.5 521.3L691.3 521.2L691.2 518L685.5 518.1ZM695.1 294.7L699.6 294.7L699.4 291.5L694.9 291.5ZM575.6 234.8L572 232.5L570.5 235.1L574.2 237.2Z"/>
<path fill="#9f9f9f" d="M705.4 633.2L706.5 633.2L706.6 630L705.4 630ZM671.9 377L678.2 376.9L678.2 373.7L671.9 373.8ZM671.9 374.5L678.2 374.4L678.2 371.2L671.9 371.3ZM671.9 372L678.2 371.9L678.2 368.8L671.9 368.8ZM624.7 201.6L624.9 197.6L621.9 197.4L621.9 201.5Z"/>
<path fill="#3d3d3d" d="M698.6 630.7L705.4 630.7L705.4 627.5L698.6 627.5ZM698.6 628.2L705.4 628.2L705.4 625L698.6 625ZM685.5 518.8L691.2 518.7L691.2 515.6L685.5 515.6ZM685.5 516.3L691.2 516.3L691.2 513.1L685.5 513.1ZM685.5 513.8L691.2 513.8L691.2 510.6L685.5 510.6ZM685.5 511.3L691.2 511.3L691.2 508.1L685.4 508.1ZM684.4 309.7L689.6 309.6L689.6 306.5L684.4 306.5ZM567.8 285.7L563.7 285.6L563.8 288.7L567.8 288.8Z"/>
<path fill="#a0a0a0" d="M705.4 630.7L706.6 630.7L706.6 627.5L705.4 627.5ZM705.4 628.2L706.6 628.2L706.6 625L705.4 625ZM671.9 369.5L678.2 369.5L678.2 366.3L671.9 366.3ZM671.9 367L678.2 367L678.1 363.8L671.9 363.8ZM671.9 364.5L678.1 364.5L678.1 361.3L671.9 361.3ZM693.9 254.8L698.2 254.2L697.7 250.8L693.4 251.6ZM571.6 283.4L567.7 283.3L567.8 286.4L571.6 286.5Z"/>
<path fill="#fafafa" d="M691.4 628.3L698.6 628.2L698.6 625L691.4 625.1ZM691.4 625.8L698.6 625.7L698.5 622.6L691.4 622.6ZM691.4 623.3L698.5 623.3L698.5 620.1L691.4 620.1ZM681.1 406.8L683 406.8L683 403.6L681.1 403.6ZM683 406.8L685 406.8L685 403.6L683 403.6ZM689.6 279.8L694.3 279.8L694.3 276.6L689.6 276.6ZM677.6 235L680.1 233.7L678.8 230.9L676.3 232.3ZM676.6 232.9L679.2 231.5L677.8 228.7L675.2 230.3ZM675.6 230.9L678.1 229.3L676.6 226.6L674.1 228.3ZM674.5 228.9L677 227.1L675.4 224.5L672.9 226.3ZM565.8 246.7L563.1 245.9L562.3 248.8L565 249.5ZM565.2 248.9L562.5 248.1L561.8 251.1L564.5 251.7ZM554.7 254L550 253.3L549.7 256.7L554.4 257.2Z"/>
<path fill="#3c3c3c" d="M698.6 625.7L705.4 625.7L705.4 622.5L698.5 622.6ZM698.5 623.3L705.4 623.2L705.4 620L698.5 620.1ZM685.5 508.8L691.2 508.8L691.2 505.6L685.4 505.6ZM685.4 506.3L691.2 506.3L691.1 503.1L685.4 503.1ZM685.4 503.8L691.1 503.8L691.1 500.6L685.4 500.6ZM695.4 297.2L699.8 297.1L699.6 294L695.1 294Z"/>
<path fill="#a1a1a1" d="M705.4 625.7L706.6 625.7L706.6 622.5L705.4 622.5ZM705.4 623.2L706.6 623.2L706.6 620L705.4 620ZM671.9 362L678.1 362L678.1 358.8L671.9 358.8ZM671.9 359.5L678.1 359.5L678.1 356.3L671.9 356.3ZM671.9 357L678.1 357L678.1 353.8L671.9 353.8Z"/>
<path fill="#fbfbfb" d="M691.4 620.8L698.5 620.8L698.5 617.6L691.4 617.6ZM691.5 618.3L698.5 618.3L698.5 615.1L691.5 615.1ZM691.5 615.8L698.5 615.8L698.5 612.6L691.5 612.6ZM691.5 613.3L698.5 613.3L698.5 610.1L691.5 610.1ZM681.2 409.3L683 409.3L683 406.1L681.1 406.1ZM683 409.3L685 409.2L685 406.1L683 406.1ZM673.3 226.9L675.8 225L674.1 222.4L671.6 224.4ZM672 225L674.5 222.9L672.7 220.4L670.2 222.5ZM564.6 251L562 250.4L561.4 253.4L564.1 253.9ZM554.5 256.5L549.7 256L549.5 259.4L554.3 259.8Z"/>
<path fill="#3b3b3b" d="M698.5 620.8L705.4 620.7L705.4 617.5L698.5 617.6ZM698.5 618.3L705.4 618.2L705.4 615L698.5 615.1ZM685.4 501.3L691.1 501.3L691.1 498.1L685.4 498.2ZM685.4 498.9L691.1 498.8L691.1 495.6L685.4 495.7ZM685.4 496.4L691.1 496.3L691.1 493.1L685.4 493.2ZM685.4 493.9L691.1 493.8L691.1 490.7L685.4 490.7ZM684.3 312.2L689.6 312.1L689.6 308.9L684.4 309Z"/>
<path fill="#a2a2a2" d="M705.4 620.7L706.6 620.7L706.6 617.5L705.4 617.5ZM705.4 618.2L706.6 618.2L706.6 615L705.4 615ZM671.9 354.5L678.1 354.5L678 351.3L671.9 351.4ZM671.9 352.1L678 352L678 348.8L671.9 348.9ZM671.9 349.6L678 349.5L678 346.3L671.9 346.4ZM545.1 287.6L540.7 287.5L540.6 290.6L545.1 290.7Z"/>
<path fill="#3a3a3a" d="M698.5 615.8L705.4 615.7L705.4 612.6L698.5 612.6ZM698.5 613.3L705.4 613.3L705.4 610.1L698.5 610.1ZM685.4 491.4L691.1 491.4L691 488.2L685.4 488.2ZM685.4 488.9L691 488.9L691 485.7L685.4 485.7ZM685.4 486.4L691 486.4L691 483.2L685.3 483.2ZM685.4 483.9L691 483.9L691 480.7L685.3 480.7ZM695.6 299.7L699.9 299.6L699.8 296.4L695.4 296.5Z"/>
<path fill="#a3a3a3" d="M705.4 615.7L706.6 615.7L706.6 612.6L705.4 612.6ZM705.4 613.3L706.6 613.3L706.6 610.1L705.4 610.1ZM671.9 347.1L678 347L678 343.9L671.9 343.9ZM671.9 344.6L678 344.6L678 341.4L671.9 341.4ZM671.9 342.1L678 342.1L677.9 338.9L671.9 338.9ZM671.9 339.6L677.9 339.6L677.9 336.4L671.9 336.4ZM622.6 201.5L622.6 197.4L619.5 197.8L619.7 201.7Z"/>
<path fill="#393939" d="M698.5 610.8L705.4 610.8L705.3 607.6L698.5 607.6ZM698.5 608.3L705.3 608.3L705.3 605.1L698.5 605.1ZM685.3 481.4L691 481.4L691 478.2L685.3 478.2ZM685.3 478.9L691 478.9L691 475.7L685.3 475.8ZM685.3 476.5L691 476.4L690.9 473.2L685.3 473.3ZM685.3 474L690.9 473.9L690.9 470.7L685.3 470.8ZM576.8 233.1L573.1 230.6L571.6 233.1L575.2 235.4ZM567.8 288.1L563.8 288L563.9 291L567.9 291.1Z"/>
<path fill="#a4a4a4" d="M705.4 610.8L706.6 610.8L706.6 607.6L705.3 607.6ZM705.3 608.3L706.6 608.3L706.6 605.1L705.3 605.1ZM671.9 337.1L677.9 337.1L677.9 333.9L671.9 333.9ZM671.9 334.6L677.9 334.6L677.9 331.4L671.9 331.4ZM671.9 332.1L677.9 332.1L677.9 328.9L671.9 329ZM678.8 262.9L682.1 262.8L681.9 260L678.6 260.2ZM647.9 208.3L649.4 205.1L646.5 203.7L645.3 206.9ZM571.7 281L567.6 280.9L567.7 284L571.6 284.1Z"/>
<path fill="#383838" d="M698.5 605.8L705.3 605.8L705.3 602.6L698.5 602.6ZM698.5 603.3L705.3 603.3L705.3 600.1L698.5 600.1ZM685.3 471.5L690.9 471.4L690.9 468.3L685.3 468.3ZM685.3 469L690.9 469L690.9 465.8L685.3 465.8ZM685.3 466.5L690.9 466.5L690.9 463.3L685.3 463.3ZM685.3 464L690.9 464L690.9 460.8L685.3 460.8ZM684.3 314.7L689.6 314.6L689.6 311.4L684.3 311.5ZM695.8 302.1L700.1 302.1L699.9 298.9L695.6 299Z"/>
<path fill="#a5a5a5" d="M705.3 605.8L706.6 605.8L706.6 602.6L705.3 602.6ZM705.3 603.3L706.7 603.3L706.7 600.1L705.3 600.1ZM672 329.7L677.9 329.6L677.8 326.4L672 326.5ZM672 327.2L677.8 327.1L677.8 323.9L672 324ZM672 324.7L677.8 324.6L677.8 321.5L672 321.5ZM693.6 252.3L697.8 251.5L697.2 248.2L693 249.1Z"/>
<path fill="#ffffff" d="M681.8 600.9L684 600.9L684 597.7L681.8 597.7ZM684 600.9L686.1 600.9L686.1 597.7L684 597.7ZM681.8 598.4L684 598.4L684 595.2L681.8 595.3ZM684 598.4L686.1 598.4L686 595.2L684 595.2ZM681.8 596L684 595.9L683.9 592.8L681.8 592.8ZM684 595.9L686 595.9L686 592.7L683.9 592.8ZM681.8 593.5L683.9 593.5L683.9 590.3L681.8 590.3ZM683.9 593.5L686 593.4L685.9 590.3L683.9 590.3ZM681.8 591L683.9 591L683.9 587.8L681.8 587.8ZM683.9 591L685.9 591L685.9 587.8L683.9 587.8ZM681.8 588.5L683.9 588.5L683.9 585.3L681.8 585.3ZM683.9 588.5L685.9 588.5L685.8 585.3L683.9 585.3ZM681.8 586L683.9 586L683.9 582.8L681.8 582.8ZM683.9 586L685.8 586L685.8 582.8L683.9 582.8ZM691.6 585.9L698.4 585.9L698.4 582.7L691.6 582.8ZM681.8 583.5L683.9 583.5L683.8 580.3L681.8 580.3ZM683.9 583.5L685.8 583.5L685.7 580.3L683.8 580.3ZM691.6 583.5L698.4 583.4L698.4 580.2L691.6 580.3ZM681.8 581L683.8 581L683.8 577.8L681.8 577.8ZM683.8 581L685.7 581L685.7 577.8L683.8 577.8ZM691.6 581L698.4 580.9L698.4 577.7L691.6 577.8ZM681.8 578.5L683.8 578.5L683.8 575.3L681.8 575.3ZM683.8 578.5L685.7 578.5L685.7 575.3L683.8 575.3ZM691.6 578.5L698.4 578.4L698.4 575.3L691.6 575.3ZM681.8 576L683.8 576L683.8 572.8L681.8 572.9ZM683.8 576L685.7 576L685.7 572.8L683.8 572.8ZM691.6 576L698.4 576L698.4 572.8L691.6 572.8ZM681.8 573.6L683.8 573.5L683.8 570.4L681.8 570.4ZM683.8 573.5L685.7 573.5L685.7 570.3L683.8 570.4ZM691.6 573.5L698.4 573.5L698.4 570.3L691.6 570.3ZM681.8 571.1L683.8 571.1L683.8 567.9L681.8 567.9ZM683.8 571.1L685.7 571L685.7 567.9L683.8 567.9ZM691.6 571L698.4 571L698.4 567.8L691.6 567.8ZM681.8 568.6L683.8 568.6L683.8 565.4L681.8 565.4ZM683.8 568.6L685.7 568.6L685.7 565.4L683.8 565.4ZM691.6 568.5L698.4 568.5L698.4 565.3L691.5 565.3ZM681.8 566.1L683.8 566.1L683.8 562.9L681.8 562.9ZM683.8 566.1L685.7 566.1L685.7 562.9L683.8 562.9ZM691.5 566L698.4 566L698.3 562.8L691.5 562.8ZM681.8 563.6L683.8 563.6L683.7 560.4L681.8 560.4ZM683.8 563.6L685.7 563.6L685.7 560.4L683.7 560.4ZM691.5 563.5L698.3 563.5L698.3 560.3L691.5 560.4ZM681.8 561.1L683.7 561.1L683.7 557.9L681.7 557.9ZM683.7 561.1L685.7 561.1L685.6 557.9L683.7 557.9ZM691.5 561.1L698.3 561L698.3 557.8L691.5 557.9ZM681.7 558.6L683.7 558.6L683.7 555.4L681.7 555.4ZM683.7 558.6L685.6 558.6L685.6 555.4L683.7 555.4ZM691.5 558.6L698.3 558.5L698.3 555.3L691.5 555.4ZM681.7 556.1L683.7 556.1L683.7 552.9L681.7 552.9ZM683.7 556.1L685.6 556.1L685.6 552.9L683.7 552.9ZM691.5 556.1L698.3 556L698.3 552.9L691.5 552.9ZM681.7 553.6L683.7 553.6L683.7 550.4L681.7 550.5ZM683.7 553.6L685.6 553.6L685.6 550.4L683.7 550.4ZM691.5 553.6L698.3 553.6L698.3 550.4L691.4 550.4ZM681.7 551.2L683.7 551.1L683.7 548L681.7 548ZM683.7 551.1L685.6 551.1L685.6 547.9L683.7 548ZM691.4 551.1L698.3 551.1L698.3 547.9L691.4 547.9ZM681.7 548.7L683.7 548.7L683.7 545.5L681.7 545.5ZM683.7 548.7L685.6 548.6L685.6 545.5L683.7 545.5ZM691.4 548.6L698.3 548.6L698.3 545.4L691.4 545.4ZM681.7 546.2L683.7 546.2L683.7 543L681.7 543ZM683.7 546.2L685.6 546.2L685.6 543L683.7 543ZM691.4 546.1L698.3 546.1L698.2 542.9L691.4 542.9ZM681.7 543.7L683.7 543.7L683.7 540.5L681.7 540.5ZM683.7 543.7L685.6 543.7L685.6 540.5L683.7 540.5ZM691.4 543.6L698.2 543.6L698.2 540.4L691.4 540.4ZM681.7 541.2L683.7 541.2L683.6 538L681.7 538ZM683.7 541.2L685.6 541.2L685.6 538L683.6 538ZM691.4 541.1L698.2 541.1L698.2 537.9L691.4 538ZM681.7 538.7L683.6 538.7L683.6 535.5L681.7 535.5ZM683.6 538.7L685.6 538.7L685.6 535.5L683.6 535.5ZM691.4 538.7L698.2 538.6L698.2 535.4L691.3 535.5ZM681.7 536.2L683.6 536.2L683.6 533L681.6 533ZM683.6 536.2L685.6 536.2L685.5 533L683.6 533ZM691.3 536.2L698.2 536.1L698.2 532.9L691.3 533ZM681.6 533.7L683.6 533.7L683.6 530.5L681.6 530.5ZM683.6 533.7L685.5 533.7L685.5 530.5L683.6 530.5ZM691.3 533.7L698.2 533.6L698.2 530.5L691.3 530.5ZM681.6 531.2L683.6 531.2L683.6 528L681.6 528ZM683.6 531.2L685.5 531.2L685.5 528L683.6 528ZM691.3 531.2L698.2 531.2L698.2 528L691.3 528ZM681.6 528.7L683.6 528.7L683.6 525.5L681.6 525.6ZM683.6 528.7L685.5 528.7L685.5 525.5L683.6 525.5ZM691.3 528.7L698.2 528.7L698.1 525.5L691.3 525.5ZM681.6 526.3L683.6 526.2L683.6 523.1L681.6 523.1ZM683.6 526.2L685.5 526.2L685.5 523L683.6 523.1ZM691.3 526.2L698.2 526.2L698.1 523L691.3 523ZM681.6 523.8L683.6 523.8L683.6 520.6L681.6 520.6ZM683.6 523.8L685.5 523.7L685.5 520.6L683.6 520.6ZM691.3 523.7L698.1 523.7L698.1 520.5L691.2 520.5ZM681.6 521.3L683.6 521.3L683.5 518.1L681.6 518.1ZM683.6 521.3L685.5 521.3L685.5 518.1L683.5 518.1ZM691.3 521.2L698.1 521.2L698.1 518L691.2 518ZM681.6 518.8L683.6 518.8L683.5 515.6L681.6 515.6ZM683.6 518.8L685.5 518.8L685.5 515.6L683.5 515.6ZM691.2 518.7L698.1 518.7L698.1 515.5L691.2 515.6ZM681.6 516.3L683.5 516.3L683.5 513.1L681.6 513.1ZM683.5 516.3L685.5 516.3L685.5 513.1L683.5 513.1ZM691.2 516.3L698.1 516.2L698.1 513L691.2 513.1ZM681.6 513.8L683.5 513.8L683.5 510.6L681.6 510.6ZM683.5 513.8L685.5 513.8L685.5 510.6L683.5 510.6ZM691.2 513.8L698.1 513.7L698.1 510.5L691.2 510.6ZM681.6 511.3L683.5 511.3L683.5 508.1L681.5 508.1ZM683.5 511.3L685.5 511.3L685.4 508.1L683.5 508.1ZM691.2 511.3L698.1 511.2L698.1 508L691.2 508.1ZM681.6 508.8L683.5 508.8L683.5 505.6L681.5 505.6ZM683.5 508.8L685.5 508.8L685.4 505.6L683.5 505.6ZM691.2 508.8L698.1 508.7L698 505.6L691.2 505.6ZM681.5 506.3L683.5 506.3L683.5 503.1L681.5 503.2ZM683.5 506.3L685.4 506.3L685.4 503.1L683.5 503.1ZM691.2 506.3L698 506.3L698 503.1L691.1 503.1ZM681.5 503.9L683.5 503.8L683.5 500.7L681.5 500.7ZM683.5 503.8L685.4 503.8L685.4 500.6L683.5 500.7ZM691.1 503.8L698 503.8L698 500.6L691.1 500.6ZM681.5 501.4L683.5 501.4L683.5 498.2L681.5 498.2ZM683.5 501.4L685.4 501.3L685.4 498.2L683.5 498.2ZM691.1 501.3L698 501.3L698 498.1L691.1 498.1ZM681.5 498.9L683.5 498.9L683.4 495.7L681.5 495.7ZM683.5 498.9L685.4 498.9L685.4 495.7L683.4 495.7ZM691.1 498.8L698 498.8L698 495.6L691.1 495.6ZM681.5 496.4L683.4 496.4L683.4 493.2L681.5 493.2ZM683.4 496.4L685.4 496.4L685.4 493.2L683.4 493.2ZM691.1 496.3L698 496.3L698 493.1L691.1 493.1ZM681.5 493.9L683.4 493.9L683.4 490.7L681.5 490.7ZM683.4 493.9L685.4 493.9L685.4 490.7L683.4 490.7ZM691.1 493.8L698 493.8L698 490.6L691.1 490.7ZM681.5 491.4L683.4 491.4L683.4 488.2L681.5 488.2ZM683.4 491.4L685.4 491.4L685.4 488.2L683.4 488.2ZM691.1 491.4L698 491.3L698 488.1L691 488.2ZM681.5 488.9L683.4 488.9L683.4 485.7L681.5 485.7ZM683.4 488.9L685.4 488.9L685.4 485.7L683.4 485.7ZM691 488.9L698 488.8L697.9 485.6L691 485.7ZM681.5 486.4L683.4 486.4L683.4 483.2L681.4 483.2ZM683.4 486.4L685.4 486.4L685.3 483.2L683.4 483.2ZM691 486.4L697.9 486.3L697.9 483.2L691 483.2ZM681.5 483.9L683.4 483.9L683.4 480.7L681.4 480.8ZM683.4 483.9L685.4 483.9L685.3 480.7L683.4 480.7ZM691 483.9L697.9 483.9L697.9 480.7L691 480.7ZM681.4 481.5L683.4 481.4L683.4 478.3L681.4 478.3ZM683.4 481.4L685.3 481.4L685.3 478.2L683.4 478.3ZM691 481.4L697.9 481.4L697.9 478.2L691 478.2ZM681.4 479L683.4 479L683.4 475.8L681.4 475.8ZM683.4 479L685.3 478.9L685.3 475.8L683.4 475.8ZM691 478.9L697.9 478.9L697.9 475.7L691 475.7ZM681.4 476.5L683.4 476.5L683.3 473.3L681.4 473.3ZM683.4 476.5L685.3 476.5L685.3 473.3L683.3 473.3ZM691 476.4L697.9 476.4L697.9 473.2L690.9 473.2ZM681.4 474L683.3 474L683.3 470.8L681.4 470.8ZM683.3 474L685.3 474L685.3 470.8L683.3 470.8ZM690.9 473.9L697.9 473.9L697.9 470.7L690.9 470.7ZM681.4 471.5L683.3 471.5L683.3 468.3L681.4 468.3ZM683.3 471.5L685.3 471.5L685.3 468.3L683.3 468.3ZM690.9 471.4L697.9 471.4L697.9 468.2L690.9 468.3ZM681.4 469L683.3 469L683.3 465.8L681.4 465.8ZM683.3 469L685.3 469L685.3 465.8L683.3 465.8ZM690.9 469L697.9 468.9L697.8 465.7L690.9 465.8ZM681.4 466.5L683.3 466.5L683.3 463.3L681.4 463.3ZM683.3 466.5L685.3 466.5L685.3 463.3L683.3 463.3ZM690.9 466.5L697.8 466.4L697.8 463.2L690.9 463.3ZM681.4 464L683.3 464L683.3 460.8L681.4 460.8ZM683.3 464L685.3 464L685.3 460.8L683.3 460.8ZM690.9 464L697.8 463.9L697.8 460.8L690.9 460.8ZM681.4 461.5L683.3 461.5L683.3 458.3L681.4 458.3ZM683.3 461.5L685.3 461.5L685.3 458.3L683.3 458.3ZM690.9 461.5L697.8 461.5L697.8 458.3L690.8 458.3ZM681.4 459L683.3 459L683.3 455.8L681.3 455.9ZM683.3 459L685.3 459L685.2 455.8L683.3 455.8ZM690.9 459L697.8 459L697.8 455.8L690.8 455.8ZM681.3 456.6L683.3 456.5L683.3 453.4L681.3 453.4ZM683.3 456.5L685.2 456.5L685.2 453.3L683.3 453.4ZM690.8 456.5L697.8 456.5L697.8 453.3L690.8 453.3ZM681.3 454.1L683.3 454.1L683.2 450.9L681.3 450.9ZM683.3 454.1L685.2 454L685.2 450.9L683.2 450.9ZM690.8 454L697.8 454L697.8 450.8L690.8 450.8ZM681.3 451.6L683.2 451.6L683.2 448.4L681.3 448.4ZM683.2 451.6L685.2 451.6L685.2 448.4L683.2 448.4ZM690.8 451.5L697.8 451.5L697.7 448.3L690.8 448.3ZM681.3 449.1L683.2 449.1L683.2 445.9L681.3 445.9ZM683.2 449.1L685.2 449.1L685.2 445.9L683.2 445.9ZM690.8 449L697.8 449L697.7 445.8L690.8 445.9ZM681.3 446.6L683.2 446.6L683.2 443.4L681.3 443.4ZM683.2 446.6L685.2 446.6L685.2 443.4L683.2 443.4ZM690.8 446.6L697.7 446.5L697.7 443.3L690.8 443.4ZM681.3 444.1L683.2 444.1L683.2 440.9L681.3 440.9ZM683.2 444.1L685.2 444.1L685.2 440.9L683.2 440.9ZM690.8 444.1L697.7 444L697.7 440.8L690.7 440.9ZM681.3 441.6L683.2 441.6L683.2 438.4L681.3 438.4ZM683.2 441.6L685.2 441.6L685.2 438.4L683.2 438.4ZM690.7 441.6L697.7 441.5L697.7 438.3L690.7 438.4ZM681.3 439.1L683.2 439.1L683.2 435.9L681.3 435.9ZM683.2 439.1L685.2 439.1L685.2 435.9L683.2 435.9ZM690.7 439.1L697.7 439L697.7 435.9L690.7 435.9ZM681.3 436.6L683.2 436.6L683.2 433.4L681.3 433.5ZM683.2 436.6L685.2 436.6L685.2 433.4L683.2 433.4ZM690.7 436.6L697.7 436.6L697.7 433.4L690.7 433.4ZM681.3 434.2L683.2 434.1L683.1 431L681.2 431ZM683.2 434.1L685.2 434.1L685.1 430.9L683.1 431ZM690.7 434.1L697.7 434.1L697.7 430.9L690.7 430.9ZM681.2 431.7L683.2 431.7L683.1 428.5L681.2 428.5ZM683.2 431.7L685.1 431.6L685.1 428.5L683.1 428.5ZM690.7 431.6L697.7 431.6L697.6 428.4L690.7 428.4ZM681.2 429.2L683.1 429.2L683.1 426L681.2 426ZM683.1 429.2L685.1 429.2L685.1 426L683.1 426ZM690.7 429.1L697.6 429.1L697.6 425.9L690.6 425.9ZM681.2 426.7L683.1 426.7L683.1 423.5L681.2 423.5ZM683.1 426.7L685.1 426.7L685.1 423.5L683.1 423.5ZM690.6 426.6L697.6 426.6L697.6 423.4L690.6 423.4ZM681.2 424.2L683.1 424.2L683.1 421L681.2 421ZM683.1 424.2L685.1 424.2L685.1 421L683.1 421ZM690.6 424.1L697.6 424.1L697.6 420.9L690.6 421ZM681.2 421.7L683.1 421.7L683.1 418.5L681.2 418.5ZM683.1 421.7L685.1 421.7L685.1 418.5L683.1 418.5ZM690.6 421.7L697.6 421.6L697.6 418.4L690.6 418.5ZM690.6 419.2L697.6 419.1L697.6 415.9L690.6 416ZM690.6 416.7L697.6 416.6L697.6 413.5L690.5 413.5ZM690.5 414.2L697.6 414.2L697.6 411L690.5 411ZM690.5 411.7L697.6 411.7L697.6 408.5L690.5 408.5ZM690.5 409.2L697.6 409.2L697.6 406L690.5 406ZM690.5 406.7L697.6 406.7L697.5 403.5L690.4 403.5ZM690.4 404.2L697.5 404.2L697.5 401L690.4 401ZM690.4 401.7L697.5 401.7L697.5 398.5L690.4 398.6ZM690.4 399.3L697.5 399.2L697.5 396L690.4 396.1ZM690.4 396.8L697.5 396.7L697.5 393.5L690.3 393.6ZM690.3 394.3L697.5 394.2L697.5 391.1L690.3 391.1ZM690.3 391.8L697.5 391.8L697.5 388.6L690.3 388.6ZM690.3 389.3L697.5 389.3L697.5 386.1L690.3 386.1ZM690.3 386.8L697.5 386.8L697.5 383.6L690.2 383.6ZM690.2 384.3L697.5 384.3L697.5 381.1L690.2 381.1ZM690.2 381.8L697.5 381.8L697.5 378.6L690.2 378.6ZM690.2 379.3L697.5 379.3L697.5 376.1L690.2 376.2ZM690.2 376.9L697.5 376.8L697.4 373.6L690.1 373.7ZM690.1 374.4L697.5 374.3L697.4 371.1L690.1 371.2ZM690.1 371.9L697.4 371.8L697.4 368.7L690.1 368.7ZM690.1 369.4L697.4 369.4L697.4 366.2L690.1 366.2ZM690.1 366.9L697.4 366.9L697.4 363.7L690 363.7ZM690 364.4L697.4 364.4L697.4 361.2L690 361.2ZM690 361.9L697.4 361.9L697.4 358.7L690 358.7ZM690 359.4L697.4 359.4L697.4 356.2L690 356.2ZM690 356.9L697.4 356.9L697.4 353.7L689.9 353.8ZM689.9 354.5L697.4 354.4L697.4 351.2L689.9 351.3ZM689.9 352L697.4 351.9L697.4 348.7L689.9 348.8ZM689.9 349.5L697.4 349.4L697.4 346.2L689.9 346.3ZM689.9 347L697.4 346.9L697.4 343.8L689.8 343.8ZM689.8 344.5L697.4 344.5L697.3 341.3L689.8 341.3ZM689.8 342L697.3 342L697.3 338.8L689.8 338.8ZM689.8 339.5L697.3 339.5L697.3 336.3L689.8 336.3ZM689.8 337L697.3 337L697.3 333.8L689.7 333.8ZM689.7 334.5L697.3 334.5L697.3 331.3L689.7 331.4ZM689.7 332.1L697.3 332L697.3 328.8L689.7 328.9ZM689.7 329.6L697.3 329.5L697.3 326.3L689.7 326.4ZM689.7 327.1L697.3 327L697.3 323.8L689.6 323.9ZM689.6 324.6L697.3 324.5L697.3 321.4L689.6 321.4ZM689.6 322.1L697.3 322.1L697.3 318.9L689.6 318.9ZM689.6 319.6L697.3 319.6L697.2 316.4L689.6 316.4ZM689.6 317.1L697.2 317.1L696.9 313.9L689.6 313.9ZM689.6 314.6L696.9 314.6L696.7 311.4L689.6 311.4ZM689.6 312.1L696.7 312.1L696.5 308.9L689.6 308.9ZM689.6 309.6L696.5 309.6L696.3 306.4L689.6 306.5ZM689.6 307.2L696.3 307.1L696 303.9L689.6 304ZM689.6 304.7L696 304.6L695.8 301.4L689.6 301.5ZM689.6 302.2L695.8 302.1L695.6 299L689.6 299ZM689.6 299.7L695.6 299.7L695.4 296.5L689.6 296.5ZM689.6 297.2L695.4 297.2L695.1 294L689.6 294ZM689.6 294.7L695.1 294.7L694.9 291.5L689.6 291.5ZM689.6 292.2L694.9 292.2L694.7 289L689.6 289ZM689.6 289.7L694.7 289.7L694.5 286.5L689.6 286.5ZM689.6 287.2L694.5 287.2L694.3 284L689.6 284.1ZM661.3 213.2L663.4 210.4L661 208.5L659 211.4ZM659.5 211.8L661.5 208.9L658.9 207.1L657 209.9ZM657.6 210.3L659.5 207.4L656.7 205.7L655 208.5ZM655.6 208.9L657.3 206L654.5 204.4L653 207.2ZM653.6 207.6L655.2 204.7L652.3 203.2L650.9 206ZM651.5 206.3L652.9 203.5L650 202L648.7 204.8ZM649.4 205.1L650.6 202.3L647.7 201L646.5 203.7ZM647.2 204L648.3 201.2L645.3 200L644.3 202.7ZM645 203L646 200.3L643.1 199.1L642.2 201.9ZM642.8 202.1L643.7 199.3L640.8 198.3L640 201.1ZM640.7 201.3L641.5 198.5L638.5 197.6L637.8 200.3ZM638.5 200.5L639.2 197.7L636.2 196.9L635.6 199.7ZM636.3 199.8L636.9 197.1L633.9 196.3L633.4 199.1ZM634.1 199.2L634.6 196.5L631.5 195.9L631.1 198.6ZM631.8 198.7L632.2 196L629.1 195.4L628.8 198.2ZM629.5 198.3L629.8 195.5L626.7 195.1L626.5 197.8ZM627.2 197.9L627.4 195.2L624.3 194.9L624.2 197.6ZM624.9 197.6L625 194.9L621.9 194.7L621.9 197.4ZM622.6 197.4L622.6 194.7L619.4 194.8L619.5 197.8ZM620.2 197.8L620.1 194.8L617 195L617.2 198.2ZM617.9 198.2L617.7 194.9L614.6 195.2L614.9 198.8ZM615.6 198.7L615.3 195.1L612.2 195.5L612.7 199.4ZM613.4 199.3L612.8 195.4L609.8 196L610.5 200.1ZM611.2 199.9L610.4 195.8L607.4 196.5L608.3 200.8ZM609 200.7L608.1 196.3L605 197.1L606.2 201.6ZM606.8 201.5L605.7 196.9L602.7 197.7L604.1 202.6ZM604.7 202.4L603.4 197.5L600.4 198.5L602 203.5ZM602.7 203.3L601 198.2L598.1 199.3L600 204.6ZM600.7 204.3L598.8 199.1L595.8 200.2L598.1 205.7ZM598.7 205.4L596.5 199.9L593.5 201.2L596 206.7ZM596.6 206.4L594.2 201L591.3 202.4L593.9 207.8ZM594.5 207.4L591.9 202L589 203.6L591.9 208.9ZM592.5 208.6L589.6 203.2L586.8 204.8L589.9 210.1ZM590.5 209.8L587.4 204.5L584.7 206.2L588 211.4ZM588.6 211L585.3 205.8L582.6 207.6L586.2 212.8ZM586.7 212.4L583.2 207.2L580.6 209.2L584.4 214.2ZM584.9 213.8L581.2 208.7L578.6 210.7L582.6 215.7ZM583.1 215.2L579.2 210.3L576.7 212.4L580.9 217.2ZM581.4 216.8L577.3 211.9L574.9 214.1L579.3 218.8ZM579.8 218.4L575.4 213.6L573.1 215.9L577.7 220.5ZM578.2 220L573.6 215.4L571.5 217.9L576.1 222.2ZM576.6 221.7L572 217.4L570 220L574.6 224ZM575.1 223.5L570.5 219.5L568.6 222.2L573.2 225.8ZM573.6 225.3L569 221.6L567.3 224.4L571.8 227.7ZM572.2 227.2L567.7 223.8L566 226.6L570.5 229.7ZM570.9 229.1L566.4 226L564.9 228.9L569.3 231.7ZM569.7 231.1L565.2 228.3L563.8 231.2L568.1 233.7ZM568.5 233.1L564.2 230.6L562.8 233.5L567.1 235.8ZM567.4 235.1L563.2 232.9L562 235.9L566.1 237.9ZM566.4 237.2L562.3 235.3L561.2 238.3L565.2 240ZM565.5 239.4L561.5 237.6L560.5 240.7L564.4 242.2ZM564.6 241.5L560.8 240L559.9 243.1L563.6 244.4ZM563.8 243.7L560.1 242.4L559.3 245.5L562.9 246.6ZM563.1 245.9L559.5 244.8L558.9 247.9L562.3 248.8ZM562.5 248.1L559.1 247.2L558.5 250.3L561.8 251.1ZM562 250.4L558.7 249.6L558.3 252.8L561.4 253.4ZM561.5 252.7L558.4 252.1L558.1 255.2L561.1 255.6ZM561.2 254.9L558.2 254.5L558 257.6L560.8 257.9ZM560.9 257.2L558.1 256.9L558 260L560.7 260.2ZM560.7 259.5L558.1 259.3L558.1 262.5L560.6 262.5ZM563.2 261.9L560.6 261.8L560.6 264.9L563.2 265ZM560.6 261.8L558.1 261.8L558.3 264.9L560.6 264.9ZM563.2 264.3L560.6 264.2L560.7 267.3L563.3 267.4ZM560.6 264.2L558.3 264.2L558.4 267.3L560.7 267.3ZM554.4 264.1L549.5 264L549.5 267.1L554.3 267.2ZM563.3 266.7L560.7 266.6L560.8 269.7L563.3 269.7ZM560.7 266.6L558.4 266.6L558.5 269.6L560.8 269.7ZM554.3 266.5L549.5 266.4L549.4 269.4L554.2 269.5ZM563.3 269L560.8 269L560.9 272L563.4 272.1ZM560.8 269L558.6 268.9L558.7 272L560.9 272ZM554.3 268.8L549.4 268.7L549.4 271.8L554.2 271.9ZM563.4 271.4L560.9 271.3L561 274.4L563.4 274.5ZM560.9 271.3L558.7 271.3L558.8 274.4L561 274.4ZM554.2 271.2L549.4 271.1L549.3 274.2L554.1 274.3ZM563.5 273.8L561 273.7L561.1 276.8L563.5 276.8ZM561 273.7L558.8 273.7L558.9 276.7L561.1 276.8ZM554.1 273.6L549.4 273.5L549.3 276.5L554 276.6ZM563.5 276.1L561.1 276.1L561.2 279.1L563.6 279.2ZM561.1 276.1L558.9 276L559 279.1L561.2 279.1ZM554 275.9L549.3 275.8L549.3 278.9L553.9 279ZM563.6 278.5L561.2 278.4L561.3 281.5L563.6 281.6ZM561.2 278.4L559 278.4L559.1 281.5L561.3 281.5ZM553.9 278.3L549.3 278.2L549.2 281.3L553.8 281.4ZM563.6 280.9L561.3 280.8L561.4 283.9L563.7 283.9ZM561.3 280.8L559.2 280.8L559.3 283.8L561.4 283.9ZM553.9 280.7L549.2 280.6L549.2 283.6L553.8 283.7ZM563.7 283.2L561.4 283.2L561.5 286.3L563.7 286.3ZM561.4 283.2L559.3 283.1L559.4 286.2L561.5 286.3ZM553.8 283L549.2 282.9L549.1 286L553.7 286.1ZM563.7 285.6L561.5 285.6L561.6 288.6L563.8 288.7ZM561.5 285.6L559.4 285.5L559.5 288.6L561.6 288.6ZM553.7 285.4L549.2 285.3L549.1 288.4L553.6 288.5ZM563.8 288L561.6 287.9L561.7 291L563.9 291ZM561.6 287.9L559.5 287.9L559.6 291L561.7 291ZM553.6 287.8L549.1 287.7L549.1 290.7L553.5 290.8ZM563.9 290.3L561.7 290.3L561.8 293.4L563.9 293.4ZM561.7 290.3L559.6 290.3L559.7 293.3L561.8 293.4ZM553.5 290.1L549.1 290L549 293.1L553.4 293.2ZM563.9 292.7L561.8 292.7L561.9 295.7L564 295.8ZM561.8 292.7L559.7 292.6L559.9 295.7L561.9 295.7ZM553.4 292.5L549 292.4L549 295.5L553.4 295.6ZM564 295.1L561.9 295L562 298.1L564 298.1ZM561.9 295L559.9 295L560 298.1L562 298.1ZM553.4 294.9L549 294.8L548.9 297.8L553.3 297.9ZM564 297.4L562 297.4L562.1 300.4L564.1 300.4ZM562 297.4L560 297.4L560.1 300.4L562.1 300.4ZM553.3 297.2L548.9 297.1L548.9 300.3L553.2 300.3ZM564.1 299.7L562.1 299.7L562.1 302.8L564.1 302.8ZM562.1 299.7L560.1 299.7L560.1 302.8L562.1 302.8ZM553.2 299.6L548.9 299.6L548.9 302.8L553.2 302.8ZM548.9 299.6L544.9 299.5L544.9 302.8L548.9 302.8ZM564.1 302.1L562.1 302.1L562.1 305.3L564.1 305.3ZM562.1 302.1L560.1 302.1L560.1 305.3L562.1 305.3ZM553.2 302.1L548.9 302.1L548.9 305.2L553.2 305.2ZM548.9 302.1L544.9 302.1L545 305.2L548.9 305.2ZM564.1 304.6L562.1 304.6L562.1 307.7L564.1 307.7ZM562.1 304.6L560.1 304.6L560.1 307.7L562.1 307.7ZM553.2 304.5L548.9 304.5L548.9 307.7L553.2 307.7ZM548.9 304.5L545 304.5L545 307.7L548.9 307.7ZM564.1 307L562.1 307L562.1 310.2L564.1 310.2ZM562.1 307L560.1 307L560.1 310.2L562.1 310.2ZM553.2 307L548.9 307L549 310.1L553.2 310.1ZM548.9 307L545 307L545 310.1L549 310.1ZM564.1 309.5L562.1 309.5L562.1 312.6L564.1 312.6ZM562.1 309.5L560.1 309.5L560.1 312.6L562.1 312.6ZM553.2 309.4L549 309.4L549 312.6L553.2 312.6ZM549 309.4L545 309.4L545 312.6L549 312.6ZM564.1 311.9L562.1 311.9L562.1 315.1L564.1 315.1ZM562.1 311.9L560.1 311.9L560.1 315.1L562.1 315.1ZM553.2 311.9L549 311.9L549 315L553.2 315ZM549 311.9L545 311.9L545.1 315L549 315ZM564.1 314.4L562.1 314.4L562.1 317.5L564.1 317.5ZM562.1 314.4L560.1 314.4L560.1 317.5L562.1 317.5ZM553.2 314.3L549 314.3L549 317.5L553.2 317.5ZM549 314.3L545.1 314.3L545.1 317.5L549 317.5ZM564.1 316.8L562.1 316.8L562.1 320L564.1 320ZM562.1 316.8L560.1 316.8L560.1 319.9L562.1 320ZM553.2 316.8L549 316.8L549 319.9L553.2 319.9ZM549 316.8L545.1 316.8L545.1 319.9L549 319.9ZM564.1 319.3L562.1 319.3L562.1 322.4L564.1 322.4ZM562.1 319.3L560.1 319.2L560.2 322.4L562.1 322.4ZM553.2 319.2L549 319.2L549 322.4L553.2 322.4ZM549 319.2L545.1 319.2L545.2 322.4L549 322.4ZM564.1 321.7L562.1 321.7L562.1 324.9L564.1 324.9ZM562.1 321.7L560.2 321.7L560.2 324.8L562.1 324.9ZM553.2 321.7L549 321.7L549.1 324.8L553.2 324.8ZM549 321.7L545.2 321.7L545.2 324.8L549.1 324.8ZM564.1 324.2L562.1 324.2L562.1 327.3L564.1 327.3ZM562.1 324.2L560.2 324.1L560.2 327.3L562.1 327.3ZM553.2 324.1L549.1 324.1L549.1 327.3L553.2 327.3ZM549.1 324.1L545.2 324.1L545.2 327.3L549.1 327.3ZM564.1 326.6L562.1 326.6L562.1 329.7L564.1 329.8ZM562.1 326.6L560.2 326.6L560.2 329.7L562.1 329.7ZM553.2 326.6L549.1 326.6L549.1 329.7L553.2 329.7ZM549.1 326.6L545.2 326.6L545.2 329.7L549.1 329.7ZM564.1 329.1L562.1 329L562.2 332.2L564.2 332.2ZM562.1 329L560.2 329L560.2 332.2L562.2 332.2ZM553.2 329L549.1 329L549.1 332.2L553.3 332.2ZM549.1 329L545.2 329L545.3 332.2L549.1 332.2ZM564.2 331.5L562.2 331.5L562.2 334.6L564.2 334.6ZM562.2 331.5L560.2 331.5L560.2 334.6L562.2 334.6ZM553.3 331.5L549.1 331.5L549.1 334.6L553.3 334.6ZM549.1 331.5L545.3 331.5L545.3 334.6L549.1 334.6ZM564.2 333.9L562.2 333.9L562.2 337.1L564.2 337.1ZM562.2 333.9L560.2 333.9L560.2 337.1L562.2 337.1ZM553.3 333.9L549.1 333.9L549.1 337.1L553.3 337.1ZM549.1 333.9L545.3 333.9L545.3 337.1L549.1 337.1ZM564.2 336.4L562.2 336.4L562.2 339.5L564.2 339.5ZM562.2 336.4L560.2 336.4L560.2 339.5L562.2 339.5ZM553.3 336.4L549.1 336.4L549.2 339.5L553.3 339.5ZM549.1 336.4L545.3 336.4L545.4 339.5L549.2 339.5ZM564.2 338.8L562.2 338.8L562.2 342L564.2 342ZM562.2 338.8L560.2 338.8L560.2 342L562.2 342ZM553.3 338.8L549.2 338.8L549.2 342L553.3 342ZM549.2 338.8L545.4 338.8L545.4 342L549.2 342ZM564.2 341.3L562.2 341.3L562.2 344.4L564.2 344.4ZM562.2 341.3L560.2 341.3L560.2 344.4L562.2 344.4ZM553.3 341.3L549.2 341.3L549.2 344.4L553.3 344.4ZM549.2 341.3L545.4 341.3L545.4 344.4L549.2 344.4ZM564.2 343.7L562.2 343.7L562.2 346.9L564.2 346.9ZM562.2 343.7L560.2 343.7L560.2 346.9L562.2 346.9ZM553.3 343.7L549.2 343.7L549.2 346.9L553.3 346.9ZM549.2 343.7L545.4 343.7L545.4 346.9L549.2 346.9ZM564.2 346.2L562.2 346.2L562.2 349.3L564.2 349.3ZM562.2 346.2L560.2 346.2L560.2 349.3L562.2 349.3ZM553.3 346.2L549.2 346.2L549.2 349.3L553.3 349.3ZM549.2 346.2L545.4 346.2L545.5 349.3L549.2 349.3ZM564.2 348.6L562.2 348.6L562.2 351.8L564.2 351.8ZM562.2 348.6L560.2 348.6L560.2 351.8L562.2 351.8ZM553.3 348.6L549.2 348.6L549.2 351.8L553.3 351.8ZM549.2 348.6L545.5 348.6L545.5 351.8L549.2 351.8ZM564.2 351.1L562.2 351.1L562.2 354.2L564.2 354.2ZM562.2 351.1L560.2 351.1L560.2 354.2L562.2 354.2ZM553.3 351.1L549.2 351.1L549.3 354.2L553.3 354.2ZM549.2 351.1L545.5 351.1L545.5 354.2L549.3 354.2ZM564.2 353.5L562.2 353.5L562.2 356.7L564.2 356.7ZM562.2 353.5L560.2 353.5L560.2 356.7L562.2 356.7ZM553.3 353.5L549.3 353.5L549.3 356.7L553.3 356.7ZM549.3 353.5L545.5 353.5L545.6 356.7L549.3 356.7ZM564.2 356L562.2 356L562.2 359.1L564.2 359.1ZM562.2 356L560.2 356L560.2 359.1L562.2 359.1ZM553.3 356L549.3 356L549.3 359.1L553.3 359.1ZM549.3 356L545.6 356L545.6 359.1L549.3 359.1ZM564.2 358.4L562.2 358.4L562.2 361.6L564.2 361.6ZM562.2 358.4L560.2 358.4L560.3 361.6L562.2 361.6ZM553.3 358.4L549.3 358.4L549.3 361.6L553.3 361.6ZM549.3 358.4L545.6 358.4L545.6 361.6L549.3 361.6ZM564.2 360.9L562.2 360.9L562.2 364L564.2 364ZM562.2 360.9L560.3 360.9L560.3 364L562.2 364ZM553.3 360.9L549.3 360.9L549.3 364L553.3 364ZM549.3 360.9L545.6 360.9L545.6 364L549.3 364ZM564.2 363.3L562.2 363.3L562.2 366.5L564.2 366.5ZM562.2 363.3L560.3 363.3L560.3 366.5L562.2 366.5ZM553.3 363.3L549.3 363.3L549.3 366.5L553.3 366.5ZM549.3 363.3L545.6 363.3L545.7 366.5L549.3 366.5ZM564.2 365.8L562.2 365.8L562.2 368.9L564.2 368.9ZM562.2 365.8L560.3 365.8L560.3 368.9L562.2 368.9ZM553.3 365.8L549.3 365.8L549.4 368.9L553.3 368.9ZM549.3 365.8L545.7 365.8L545.7 368.9L549.4 368.9ZM564.2 368.2L562.2 368.2L562.2 371.4L564.2 371.4ZM562.2 368.2L560.3 368.2L560.3 371.4L562.2 371.4ZM553.3 368.2L549.4 368.2L549.4 371.4L553.3 371.4ZM549.4 368.2L545.7 368.2L545.7 371.4L549.4 371.4ZM564.2 370.7L562.2 370.7L562.2 373.8L564.2 373.8ZM562.2 370.7L560.3 370.7L560.3 373.8L562.2 373.8ZM553.3 370.7L549.4 370.7L549.4 373.8L553.3 373.8ZM549.4 370.7L545.7 370.7L545.8 373.8L549.4 373.8ZM564.2 373.1L562.2 373.1L562.2 376.3L564.2 376.3ZM562.2 373.1L560.3 373.1L560.3 376.3L562.2 376.3ZM553.3 373.1L549.4 373.1L549.4 376.3L553.3 376.3ZM549.4 373.1L545.8 373.1L545.8 376.3L549.4 376.3ZM564.2 375.6L562.2 375.6L562.2 378.7L564.2 378.7ZM562.2 375.6L560.3 375.6L560.3 378.7L562.2 378.7ZM553.3 375.6L549.4 375.6L549.4 378.7L553.3 378.7ZM549.4 375.6L545.8 375.6L545.8 378.7L549.4 378.7ZM564.2 378L562.2 378L562.2 381.2L564.2 381.2ZM562.2 378L560.3 378L560.3 381.2L562.2 381.2ZM553.3 378L549.4 378L549.4 381.2L553.3 381.2ZM549.4 378L545.8 378L545.8 381.1L549.4 381.2ZM564.2 380.5L562.2 380.5L562.2 383.6L564.2 383.6ZM562.2 380.5L560.3 380.5L560.3 383.6L562.2 383.6ZM553.3 380.5L549.4 380.5L549.5 383.6L553.3 383.6ZM549.4 380.5L545.8 380.4L545.9 383.6L549.5 383.6ZM564.2 382.9L562.2 382.9L562.2 386.1L564.2 386.1ZM562.2 382.9L560.3 382.9L560.3 386.1L562.2 386.1ZM553.3 382.9L549.5 382.9L549.5 386.1L553.3 386.1ZM549.5 382.9L545.9 382.9L545.9 386L549.5 386.1ZM564.2 385.4L562.2 385.4L562.2 388.5L564.2 388.5ZM562.2 385.4L560.3 385.4L560.3 388.5L562.2 388.5ZM553.3 385.4L549.5 385.4L549.5 388.5L553.3 388.5ZM549.5 385.4L545.9 385.3L545.9 388.5L549.5 388.5ZM564.2 387.8L562.2 387.8L562.3 391L564.3 391ZM562.2 387.8L560.3 387.8L560.3 391L562.3 391ZM553.3 387.8L549.5 387.8L549.5 391L553.4 391ZM549.5 387.8L545.9 387.8L546 390.9L549.5 391ZM564.3 390.3L562.3 390.3L562.3 393.4L564.3 393.4ZM562.3 390.3L560.3 390.3L560.3 393.4L562.3 393.4ZM553.4 390.3L549.5 390.3L549.5 393.4L553.4 393.4ZM549.5 390.3L546 390.2L546 393.4L549.5 393.4ZM564.3 392.7L562.3 392.7L562.3 395.9L564.3 395.9ZM562.3 392.7L560.3 392.7L560.3 395.9L562.3 395.9ZM553.4 392.7L549.5 392.7L549.5 395.8L553.4 395.9ZM549.5 392.7L546 392.7L546 395.8L549.5 395.8ZM564.3 395.2L562.3 395.2L562.3 398.3L564.3 398.3ZM562.3 395.2L560.3 395.2L560.3 398.3L562.3 398.3ZM553.4 395.2L549.5 395.1L549.6 398.3L553.4 398.3ZM549.5 395.1L546 395.1L546 398.3L549.6 398.3ZM564.3 397.6L562.3 397.6L562.3 400.8L564.3 400.8ZM562.3 397.6L560.3 397.6L560.4 400.8L562.3 400.8ZM553.4 397.6L549.6 397.6L549.6 400.7L553.4 400.8ZM549.6 397.6L546 397.6L546.1 400.7L549.6 400.7ZM564.3 400.1L562.3 400.1L562.3 403.2L564.3 403.2ZM562.3 400.1L560.4 400.1L560.4 403.2L562.3 403.2ZM553.4 400.1L549.6 400L549.6 403.2L553.4 403.2ZM549.6 400L546.1 400L546.1 403.2L549.6 403.2ZM564.3 402.5L562.3 402.5L562.3 405.7L564.3 405.7ZM562.3 402.5L560.4 402.5L560.4 405.7L562.3 405.7ZM553.4 402.5L549.6 402.5L549.6 405.6L553.4 405.7ZM549.6 402.5L546.1 402.5L546.1 405.6L549.6 405.6ZM564.3 405L562.3 405L562.3 408.1L564.3 408.1ZM562.3 405L560.4 405L560.4 408.1L562.3 408.1ZM553.4 405L549.6 404.9L549.6 408.1L553.4 408.1ZM549.6 404.9L546.1 404.9L546.2 408.1L549.6 408.1ZM564.3 407.4L562.3 407.4L562.3 410.6L564.3 410.6ZM562.3 407.4L560.4 407.4L560.4 410.6L562.3 410.6ZM553.4 407.4L549.6 407.4L549.6 410.5L553.4 410.6ZM549.6 407.4L546.2 407.4L546.2 410.5L549.6 410.5ZM564.3 409.9L562.3 409.9L562.3 413L564.3 413ZM562.3 409.9L560.4 409.9L560.4 413L562.3 413ZM553.4 409.9L549.6 409.8L549.7 413L553.4 413ZM549.6 409.8L546.2 409.8L546.2 413L549.7 413ZM564.3 412.3L562.3 412.3L562.3 415.5L564.3 415.5ZM562.3 412.3L560.4 412.3L560.4 415.5L562.3 415.5ZM553.4 412.3L549.7 412.3L549.7 415.4L553.4 415.4ZM549.7 412.3L546.2 412.3L546.2 415.4L549.7 415.4ZM564.3 414.8L562.3 414.8L562.3 417.9L564.3 417.9ZM562.3 414.8L560.4 414.8L560.4 417.9L562.3 417.9ZM553.4 414.7L549.7 414.7L549.7 417.9L553.4 417.9ZM549.7 414.7L546.2 414.7L546.3 417.9L549.7 417.9ZM564.3 417.2L562.3 417.2L562.3 420.4L564.3 420.4ZM562.3 417.2L560.4 417.2L560.4 420.4L562.3 420.4ZM553.4 417.2L549.7 417.2L549.7 420.3L553.4 420.3ZM549.7 417.2L546.3 417.2L546.3 420.3L549.7 420.3ZM564.3 419.7L562.3 419.7L562.3 422.8L564.3 422.8ZM562.3 419.7L560.4 419.7L560.4 422.8L562.3 422.8ZM553.4 419.6L549.7 419.6L549.7 422.8L553.4 422.8ZM549.7 419.6L546.3 419.6L546.3 422.9L549.7 422.8ZM564.3 422.1L562.3 422.1L562.5 794.6L564.5 794.6ZM562.3 422.1L560.4 422.1L560.6 794.6L562.5 794.6ZM553.4 422.1L549.7 422.1L549.9 794.7L553.6 794.7ZM549.7 422.1L546.3 422.2L546.5 794.7L549.9 794.7ZM564.5 793.9L562.5 793.9L562.5 797.1L564.5 797.1ZM562.5 793.9L560.6 793.9L560.6 797.1L562.5 797.1ZM553.6 794L549.9 794L549.9 797.2L553.6 797.1ZM549.9 794L546.5 794L546.5 797.2L549.9 797.2ZM564.5 796.4L562.5 796.4L562.5 799.6L564.5 799.6ZM562.5 796.4L560.6 796.4L560.6 799.6L562.5 799.6ZM553.6 796.4L549.9 796.5L549.9 799.6L553.6 799.6ZM549.9 796.5L546.5 796.5L546.5 799.6L549.9 799.6ZM564.5 798.9L562.5 798.9L562.5 802.1L564.5 802.1ZM562.5 798.9L560.6 798.9L560.6 802.1L562.5 802.1ZM553.6 798.9L549.9 798.9L549.9 802.1L553.5 802.1ZM549.9 798.9L546.5 798.9L546.5 802.1L549.9 802.1ZM564.5 801.4L562.5 801.4L562.5 804.6L564.5 804.6ZM562.5 801.4L560.6 801.4L560.7 804.6L562.5 804.6ZM553.5 801.4L549.9 801.4L549.8 804.6L553.5 804.6ZM549.9 801.4L546.5 801.4L546.4 804.6L549.8 804.6ZM564.5 803.9L562.5 803.9L562.5 807.1L564.5 807.1ZM562.5 803.9L560.7 803.9L560.7 807.1L562.5 807.1ZM553.5 803.9L549.8 803.9L549.8 807.1L553.5 807.1ZM549.8 803.9L546.4 803.9L546.4 807.1L549.8 807.1ZM564.5 806.4L562.5 806.4L562.5 809.6L564.5 809.6ZM562.5 806.4L560.7 806.4L560.7 809.6L562.5 809.6ZM553.5 806.4L549.8 806.4L549.8 809.6L553.4 809.6ZM549.8 806.4L546.4 806.4L546.4 809.6L549.8 809.6ZM564.5 808.9L562.5 808.9L562.5 812.1L564.5 812.1ZM562.5 808.9L560.7 808.9L560.7 812.1L562.5 812.1ZM553.4 808.9L549.8 808.9L549.8 812.1L553.4 812.1ZM549.8 808.9L546.4 808.9L546.4 812.1L549.8 812.1ZM564.5 811.4L562.5 811.4L562.5 814.6L564.5 814.6ZM562.5 811.4L560.7 811.4L560.7 814.6L562.5 814.6ZM553.4 811.4L549.8 811.4L549.7 814.6L553.4 814.6ZM549.8 811.4L546.4 811.4L546.3 814.6L549.7 814.6ZM564.5 813.9L562.5 813.9L562.5 817.1L564.5 817.1ZM562.5 813.9L560.7 813.9L560.7 817.1L562.5 817.1ZM553.4 813.9L549.7 813.9L549.7 817.1L553.3 817.1ZM549.7 813.9L546.3 813.9L546.3 817.1L549.7 817.1ZM564.5 816.4L562.5 816.4L562.5 819.6L564.5 819.6ZM562.5 816.4L560.7 816.4L560.7 819.6L562.5 819.6ZM553.3 816.4L549.7 816.4L549.7 819.6L553.3 819.6ZM549.7 816.4L546.3 816.4L546.3 819.6L549.7 819.6ZM564.5 818.9L562.5 818.9L562.6 822.1L564.4 822.1ZM562.5 818.9L560.7 818.9L560.8 822.1L562.6 822.1ZM553.3 818.9L549.7 818.9L549.7 822.1L553.2 822.1ZM549.7 818.9L546.3 818.9L546.2 822.1L549.7 822.1ZM564.4 821.4L562.5 821.4L562.6 824.6L564.4 824.6ZM562.5 821.4L560.8 821.4L560.8 824.6L562.6 824.6ZM553.2 821.4L549.7 821.4L549.6 824.6L553.2 824.6ZM549.7 821.4L546.2 821.4L546.2 824.6L549.6 824.6ZM564.4 823.9L562.6 823.9L562.6 827.1L564.4 827.1ZM562.6 823.9L560.8 823.9L560.8 827.1L562.6 827.1ZM553.2 823.9L549.6 823.9L549.6 827.1L553.2 827.1ZM549.6 823.9L546.2 823.9L546.2 827.1L549.6 827.1ZM564.4 826.4L562.6 826.4L562.6 829.6L564.4 829.6ZM562.6 826.4L560.8 826.4L560.8 829.6L562.6 829.6ZM553.2 826.4L549.6 826.4L549.6 829.6L553.1 829.6ZM549.6 826.4L546.2 826.4L546.2 829.6L549.6 829.6ZM564.4 828.9L562.6 828.9L562.6 832.1L564.4 832.1ZM562.6 828.9L560.8 828.9L560.8 832.1L562.6 832.1ZM553.1 828.9L549.6 828.9L549.6 832.1L553.1 832.1ZM549.6 828.9L546.2 828.9L546.1 832.1L549.6 832.1ZM564.4 831.4L562.6 831.4L562.6 834.6L564.4 834.6ZM562.6 831.4L560.8 831.4L560.8 834.6L562.6 834.6ZM553.1 831.4L549.6 831.4L549.6 834.6L553.1 834.6ZM549.6 831.4L546.1 831.4L546.1 834.6L549.6 834.6ZM564.4 833.9L562.6 833.9L562.6 837.1L564.4 837.1ZM562.6 833.9L560.8 833.9L560.8 837.1L562.6 837.1ZM553.1 833.9L549.6 833.9L549.5 837.1L553 837.1ZM549.6 833.9L546.1 833.9L546.1 837.1L549.5 837.1ZM564.4 836.4L562.6 836.4L562.6 839.6L564.4 839.6ZM562.6 836.4L560.8 836.4L560.8 839.6L562.6 839.6ZM553 836.4L549.5 836.4L549.5 839.6L553 839.6ZM549.5 836.4L546.1 836.4L546.1 839.6L549.5 839.6ZM564.4 838.9L562.6 838.9L562.6 842.1L564.4 842.1ZM562.6 838.9L560.8 838.9L560.9 842.1L562.6 842.1ZM553 838.9L549.5 838.9L549.5 842.1L553 842.1ZM549.5 838.9L546.1 838.9L546 842.1L549.5 842.1ZM564.4 841.4L562.6 841.4L562.6 844.6L564.4 844.6ZM562.6 841.4L560.9 841.4L560.9 844.6L562.6 844.6ZM553 841.4L549.5 841.4L549.5 844.6L552.9 844.6ZM549.5 841.4L546 841.4L546 844.6L549.5 844.6ZM564.4 843.9L562.6 843.9L562.6 847.1L564.4 847ZM562.6 843.9L560.9 843.9L560.9 847.1L562.6 847.1ZM552.9 843.9L549.5 843.9L549.4 847.1L552.9 847.1ZM549.5 843.9L546 843.9L546 847.1L549.4 847.1ZM564.4 846.3L562.6 846.4L562.6 849.5L564.4 849.5ZM562.6 846.4L560.9 846.4L560.9 849.5L562.6 849.5ZM552.9 846.4L549.4 846.4L549.4 849.6L552.8 849.6ZM549.4 846.4L546 846.4L546 849.6L549.4 849.6ZM564.4 848.8L562.6 848.8L562.6 852L564.4 852ZM562.6 848.8L560.9 848.8L560.9 852L562.6 852ZM552.8 848.9L549.4 848.9L549.4 852L552.8 852ZM549.4 848.9L546 848.9L545.9 852.1L549.4 852ZM564.4 851.3L562.6 851.3L562.6 854.5L564.4 854.5ZM562.6 851.3L560.9 851.3L560.9 854.5L562.6 854.5ZM552.8 851.3L549.4 851.3L549.4 854.5L552.8 854.5ZM549.4 851.3L545.9 851.4L545.9 854.5L549.4 854.5ZM564.4 853.8L562.6 853.8L562.6 857L564.4 857ZM562.6 853.8L560.9 853.8L560.9 857L562.6 857ZM552.8 853.8L549.4 853.8L549.3 857L552.7 857ZM549.4 853.8L545.9 853.8L545.9 857L549.3 857ZM564.4 856.3L562.6 856.3L562.6 859.5L564.4 859.5ZM562.6 856.3L560.9 856.3L561 859.5L562.6 859.5ZM552.7 856.3L549.3 856.3L549.3 859.5L552.7 859.5ZM549.3 856.3L545.9 856.3L545.9 859.5L549.3 859.5ZM564.4 858.8L562.6 858.8L562.6 862L564.4 862ZM562.6 858.8L561 858.8L561 862L562.6 862ZM552.7 858.8L549.3 858.8L549.3 862L552.7 862ZM549.3 858.8L545.9 858.8L545.8 862L549.3 862ZM564.4 861.3L562.6 861.3L562.6 864.5L564.3 864.5ZM562.6 861.3L561 861.3L561 864.5L562.6 864.5ZM552.7 861.3L549.3 861.3L549.3 864.5L552.6 864.5ZM549.3 861.3L545.8 861.3L545.8 864.5L549.3 864.5ZM564.3 863.8L562.6 863.8L562.6 867L564.3 867ZM562.6 863.8L561 863.8L561 867L562.6 867ZM552.6 863.8L549.3 863.8L549.2 867L552.6 867ZM549.3 863.8L545.8 863.8L545.8 867L549.2 867ZM564.3 866.3L562.6 866.3L562.6 869.5L564.3 869.5ZM562.6 866.3L561 866.3L561 869.5L562.6 869.5ZM552.6 866.3L549.2 866.3L549.2 869.5L552.6 869.5ZM549.2 866.3L545.8 866.3L545.8 869.5L549.2 869.5ZM564.3 868.8L562.6 868.8L562.6 872L564.3 872ZM562.6 868.8L561 868.8L561 872L562.6 872ZM552.6 868.8L549.2 868.8L549.2 872L552.5 872ZM549.2 868.8L545.8 868.8L545.7 872L549.2 872ZM564.3 871.3L562.6 871.3L562.6 874.5L564.3 874.5ZM562.6 871.3L561 871.3L561 874.5L562.6 874.5ZM552.5 871.3L549.2 871.3L549.2 874.5L552.5 874.5ZM549.2 871.3L545.7 871.3L545.7 874.5L549.2 874.5ZM564.3 873.8L562.6 873.8L562.6 877L564.3 877ZM562.6 873.8L561 873.8L561.1 877L562.6 877ZM552.5 873.8L549.2 873.8L549.2 877L552.5 877ZM549.2 873.8L545.7 873.8L545.7 877L549.2 877ZM564.3 876.3L562.6 876.3L562.6 879.5L564.3 879.5ZM562.6 876.3L561.1 876.3L561.1 879.5L562.6 879.5ZM552.5 876.3L549.2 876.3L549.1 879.5L552.4 879.5ZM549.2 876.3L545.7 876.3L545.6 879.5L549.1 879.5ZM564.3 878.8L562.6 878.8L562.6 882L564.3 882ZM562.6 878.8L561.1 878.8L561.1 882L562.6 882ZM552.4 878.8L549.1 878.8L549.1 882L552.4 882ZM549.1 878.8L545.6 878.8L545.6 882L549.1 882ZM564.3 881.3L562.6 881.3L562.6 884.5L564.3 884.5ZM562.6 881.3L561.1 881.3L561.1 884.5L562.6 884.5ZM552.4 881.3L549.1 881.3L549.1 884.5L552.3 884.5ZM549.1 881.3L545.6 881.3L545.6 884.5L549.1 884.5ZM564.3 883.8L562.6 883.8L562.7 887L564.3 887ZM562.6 883.8L561.1 883.8L561.1 887L562.7 887ZM552.3 883.8L549.1 883.8L549.1 887L552.3 887ZM549.1 883.8L545.6 883.8L545.6 887L549.1 887ZM564.3 886.3L562.7 886.3L562.7 889.5L564.3 889.5ZM562.7 886.3L561.1 886.3L561.1 889.5L562.7 889.5ZM552.3 886.3L549.1 886.3L549 889.5L552.3 889.5ZM549.1 886.3L545.6 886.3L545.5 889.5L549 889.5ZM564.3 888.8L562.7 888.8L562.7 892L564.3 892ZM562.7 888.8L561.1 888.8L561.1 892L562.7 892ZM552.3 888.8L549 888.8L549 892L552.2 892ZM549 888.8L545.5 888.8L545.5 892L549 892ZM564.3 891.3L562.7 891.3L562.7 894.5L564.3 894.5ZM562.7 891.3L561.1 891.3L561.2 894.5L562.7 894.5ZM552.2 891.3L549 891.3L549 894.5L552.2 894.5ZM549 891.3L545.5 891.3L545.5 894.5L549 894.5ZM564.3 893.8L562.7 893.8L562.7 897L564.3 897ZM562.7 893.8L561.2 893.8L561.2 897L562.7 897ZM552.2 893.8L549 893.8L549 897L552.2 897ZM549 893.8L545.5 893.8L545.5 897L549 897ZM564.3 896.3L562.7 896.3L562.7 956.8L564.3 956.8ZM562.7 896.3L561.2 896.3L561.2 956.8L562.7 956.8ZM552.2 896.3L549 896.3L549 956.9L552.2 956.9ZM549 896.3L545.5 896.3L545.5 956.9L549 956.9Z"/>
<path fill="#373737" d="M698.5 600.8L705.3 600.8L705.3 597.6L698.5 597.7ZM698.5 598.4L705.3 598.3L705.3 595.1L698.5 595.2ZM685.3 461.5L690.9 461.5L690.8 458.3L685.3 458.3ZM685.3 459L690.9 459L690.8 455.8L685.2 455.8ZM685.2 456.5L690.8 456.5L690.8 453.3L685.2 453.3Z"/>
<path fill="#a6a6a6" d="M705.3 600.8L706.7 600.8L706.7 597.6L705.3 597.6ZM705.3 598.3L706.7 598.3L706.7 595.1L705.3 595.1ZM672 322.2L677.8 322.2L677.8 319L672 319ZM672 319.7L677.8 319.7L677.8 316.5L672 316.5ZM545.2 285.2L540.7 285.1L540.7 288.2L545.1 288.3Z"/>
<path fill="#363636" d="M698.5 595.9L705.3 595.8L705.3 592.6L698.5 592.7ZM698.5 593.4L705.3 593.3L705.3 590.2L698.5 590.2ZM685.2 454L690.8 454L690.8 450.8L685.2 450.9ZM685.2 451.6L690.8 451.5L690.8 448.3L685.2 448.4ZM685.2 449.1L690.8 449L690.8 445.9L685.2 445.9ZM685.2 446.6L690.8 446.6L690.8 443.4L685.2 443.4ZM684.2 317.1L689.6 317.1L689.6 313.9L684.3 314ZM696 304.6L700.3 304.6L700.1 301.4L695.8 301.4Z"/>
<path fill="#a7a7a7" d="M705.3 595.8L706.7 595.8L706.7 592.6L705.3 592.6ZM705.3 593.3L706.7 593.3L706.7 590.1L705.3 590.2ZM571.7 278.7L567.5 278.6L567.6 281.6L571.7 281.7Z"/>
<path fill="#353535" d="M698.5 590.9L705.3 590.9L705.3 587.7L698.5 587.7ZM685.2 444.1L690.8 444.1L690.7 440.9L685.2 440.9ZM685.2 441.6L690.7 441.6L690.7 438.4L685.2 438.4ZM685.2 439.1L690.7 439.1L690.7 435.9L685.2 435.9ZM685.2 436.6L690.7 436.6L690.7 433.4L685.2 433.4ZM567.9 290.4L563.9 290.3L563.9 293.4L568 293.5Z"/>
<path fill="#a8a8a8" d="M705.3 590.9L706.7 590.8L706.7 587.7L705.3 587.7ZM620.4 201.6L620.2 197.8L617.2 198.2L617.5 201.9Z"/>
<path fill="#343434" d="M698.5 588.4L705.3 588.4L705.3 585.2L698.4 585.2ZM698.4 585.9L705.3 585.9L705.2 582.7L698.4 582.7ZM685.2 434.1L690.7 434.1L690.7 430.9L685.1 430.9ZM685.1 431.6L690.7 431.6L690.7 428.4L685.1 428.5ZM685.1 429.2L690.7 429.1L690.6 425.9L685.1 426ZM685.1 426.7L690.6 426.6L690.6 423.4L685.1 423.5ZM696.3 307.1L700.4 307.1L700.3 303.9L696 303.9ZM644.2 211.4L645.9 207.2L643.2 205.8L641.5 210.4ZM577.9 231.4L574.4 228.8L572.7 231.2L576.4 233.7Z"/>
<path fill="#a9a9a9" d="M705.3 588.4L706.7 588.4L706.7 585.2L705.3 585.2ZM705.3 585.9L706.7 585.9L706.7 582.7L705.2 582.7ZM672 317.2L677.8 317.2L677.9 314L672 314Z"/>
<path fill="#333333" d="M698.4 583.4L705.2 583.4L705.2 580.2L698.4 580.2ZM698.4 580.9L705.2 580.9L705.2 577.7L698.4 577.7ZM698.4 578.4L705.2 578.4L705.1 575.2L698.4 575.3ZM685.1 424.2L690.6 424.1L690.6 421L685.1 421ZM685.1 421.7L690.6 421.7L690.6 418.5L685.1 418.5ZM685.1 419.2L690.6 419.2L690.6 416L685.1 416ZM685.1 416.7L690.6 416.7L690.5 413.5L685 413.5ZM685 414.2L690.5 414.2L690.5 411L685 411ZM685 411.7L690.5 411.7L690.5 408.5L685 408.5ZM685 409.2L690.5 409.2L690.5 406L685 406.1ZM685 406.8L690.5 406.7L690.4 403.5L685 403.6ZM685 404.3L690.4 404.2L690.4 401L684.9 401.1ZM684.9 401.8L690.4 401.7L690.4 398.6L684.9 398.6ZM684.9 399.3L690.4 399.3L690.4 396.1L684.9 396.1ZM684.9 396.8L690.4 396.8L690.3 393.6L684.9 393.6ZM684.9 394.3L690.3 394.3L690.3 391.1L684.8 391.1ZM684.8 391.8L690.3 391.8L690.3 388.6L684.8 388.6ZM684.8 389.3L690.3 389.3L690.3 386.1L684.8 386.1ZM684.8 386.8L690.3 386.8L690.2 383.6L684.8 383.7ZM684.8 384.4L690.2 384.3L690.2 381.1L684.7 381.2ZM684.8 381.9L690.2 381.8L690.2 378.6L684.7 378.7ZM684.7 379.4L690.2 379.3L690.2 376.2L684.7 376.2ZM684.7 376.9L690.2 376.9L690.1 373.7L684.7 373.7ZM684.7 374.4L690.1 374.4L690.1 371.2L684.7 371.2ZM684.7 371.9L690.1 371.9L690.1 368.7L684.6 368.7ZM684.6 369.4L690.1 369.4L690.1 366.2L684.6 366.2ZM684.6 366.9L690.1 366.9L690 363.7L684.6 363.7ZM684.6 364.4L690 364.4L690 361.2L684.6 361.2ZM684.6 361.9L690 361.9L690 358.7L684.5 358.8ZM684.5 359.5L690 359.4L690 356.2L684.5 356.3ZM684.5 357L690 356.9L689.9 353.8L684.5 353.8ZM684.5 354.5L689.9 354.5L689.9 351.3L684.5 351.3ZM684.5 352L689.9 352L689.9 348.8L684.5 348.8ZM684.5 349.5L689.9 349.5L689.9 346.3L684.4 346.3ZM684.4 347L689.9 347L689.8 343.8L684.4 343.8ZM684.4 344.5L689.8 344.5L689.8 341.3L684.4 341.3ZM684.4 342L689.8 342L689.8 338.8L684.4 338.8ZM684.4 339.5L689.8 339.5L689.8 336.3L684.3 336.4ZM684.3 337.1L689.8 337L689.7 333.8L684.3 333.9ZM684.3 334.6L689.7 334.5L689.7 331.4L684.3 331.4ZM684.3 332.1L689.7 332.1L689.7 328.9L684.3 328.9ZM684.3 329.6L689.7 329.6L689.7 326.4L684.2 326.4ZM684.3 327.1L689.7 327.1L689.6 323.9L684.2 323.9ZM684.2 324.6L689.6 324.6L689.6 321.4L684.2 321.4ZM684.2 322.1L689.6 322.1L689.6 318.9L684.2 318.9ZM684.2 319.6L689.6 319.6L689.6 316.4L684.2 316.4Z"/>
<path fill="#aaaaaa" d="M705.2 583.4L706.7 583.4L706.7 580.2L705.2 580.2ZM705.2 580.9L706.7 580.9L706.7 577.7L705.2 577.7ZM705.2 578.4L706.7 578.4L706.7 575.2L705.1 575.2ZM705.1 575.9L706.7 575.9L706.7 572.7L705.1 572.7ZM705.1 573.4L706.7 573.4L706.7 570.2L705 570.2ZM705 570.9L706.7 570.9L706.6 567.7L705 567.8ZM705 568.5L706.6 568.4L706.6 565.3L704.9 565.3ZM704.9 566L706.6 566L706.6 562.8L704.8 562.8ZM704.8 563.5L706.6 563.5L706.6 560.3L704.8 560.3ZM704.8 561L706.6 561L706.5 557.8L704.7 557.8ZM704.7 558.5L706.6 558.5L706.5 555.3L704.7 555.3ZM704.7 556L706.5 556L706.5 552.8L704.6 552.8ZM704.6 553.5L706.5 553.5L706.5 550.3L704.5 550.3ZM704.6 551L706.5 551L706.5 547.8L704.5 547.8ZM704.5 548.5L706.5 548.5L706.4 545.3L704.4 545.4ZM704.4 546.1L706.4 546L706.4 542.9L704.4 542.9ZM704.4 543.6L706.4 543.6L706.4 540.4L704.3 540.4ZM704.3 541.1L706.4 541.1L706.4 537.9L704.3 537.9ZM704.3 538.6L706.4 538.6L706.4 535.4L704.2 535.4ZM704.2 536.1L706.4 536.1L706.3 532.9L704.1 532.9ZM704.1 533.6L706.3 533.6L706.3 530.4L704.1 530.4ZM704.1 531.1L706.3 531.1L706.3 527.9L704 527.9ZM704 528.6L706.3 528.6L706.3 525.4L704 525.4ZM704 526.1L706.3 526.1L706.3 522.9L703.9 523ZM703.9 523.7L706.3 523.6L706.2 520.5L703.9 520.5ZM703.9 521.2L706.2 521.2L706.2 518L703.8 518ZM703.8 518.7L706.2 518.7L706.2 515.5L703.7 515.5ZM703.7 516.2L706.2 516.2L706.2 513L703.7 513ZM703.7 513.7L706.2 513.7L706.2 510.5L703.6 510.5ZM703.6 511.2L706.2 511.2L706.1 508L703.6 508ZM703.6 508.7L706.1 508.7L706.1 505.5L703.5 505.5ZM703.5 506.2L706.1 506.2L706.1 503L703.4 503ZM703.4 503.7L706.1 503.7L706.1 500.5L703.4 500.6ZM703.4 501.3L706.1 501.2L706.1 498L703.3 498.1ZM703.3 498.8L706.1 498.7L706 495.6L703.3 495.6ZM703.3 496.3L706 496.3L706 493.1L703.2 493.1ZM703.2 493.8L706 493.8L706 490.6L703.2 490.6ZM703.2 491.3L706 491.3L706 488.1L703.1 488.1ZM703.1 488.8L706 488.8L705.9 485.6L703 485.6ZM703 486.3L706 486.3L705.9 483.1L703 483.1ZM703 483.8L705.9 483.8L705.9 480.6L702.9 480.6ZM702.9 481.3L705.9 481.3L705.9 478.1L702.9 478.2ZM702.9 478.9L705.9 478.8L705.9 475.6L702.8 475.7ZM702.8 476.4L705.9 476.3L705.8 473.2L702.7 473.2ZM702.8 473.9L705.8 473.9L705.8 470.7L702.7 470.7ZM702.7 471.4L705.8 471.4L705.8 468.2L702.6 468.2ZM702.6 468.9L705.8 468.9L705.8 465.7L702.6 465.7ZM702.6 466.4L705.8 466.4L705.8 463.2L702.5 463.2ZM702.5 463.9L705.8 463.9L705.7 460.7L702.5 460.7ZM702.5 461.4L705.7 461.4L705.7 458.2L702.4 458.2ZM702.4 458.9L705.7 458.9L705.7 455.7L702.3 455.7ZM702.3 456.4L705.7 456.4L705.7 453.2L702.3 453.3ZM702.3 454L705.7 453.9L705.7 450.8L702.2 450.8ZM702.2 451.5L705.7 451.5L705.6 448.3L702.2 448.3ZM702.2 449L705.6 449L705.6 445.8L702.1 445.8ZM702.1 446.5L705.6 446.5L705.6 443.3L702.1 443.3ZM702.1 444L705.6 444L705.6 440.8L702 440.8ZM702 441.5L705.6 441.5L705.6 438.3L701.9 438.3ZM701.9 439L705.6 439L705.5 435.8L701.9 435.8ZM701.9 436.5L705.5 436.5L705.5 433.3L701.8 433.3ZM701.8 434L705.5 434L705.5 430.8L701.8 430.9ZM701.8 431.6L705.5 431.5L705.5 428.4L701.7 428.4ZM701.7 429.1L705.5 429.1L705.5 425.9L701.6 425.9ZM701.6 426.6L705.5 426.6L705.4 423.4L701.6 423.4ZM701.6 424.1L705.4 424.1L705.4 420.9L701.5 420.9ZM701.5 421.6L705.4 421.6L705.4 418.4L701.5 418.4ZM701.5 419.1L705.4 419.1L705.4 415.9L701.5 415.9ZM701.5 416.6L705.4 416.6L705.3 413.4L701.5 413.4ZM693.1 249.8L697.3 248.9L696.6 245.6L692.4 246.6ZM571.8 276.3L567.5 276.2L567.5 279.3L571.7 279.4ZM545.2 282.9L540.8 282.8L540.7 285.8L545.2 285.9Z"/>
<path fill="#323232" d="M698.4 576L705.1 575.9L705.1 572.7L698.4 572.8ZM698.4 573.5L705.1 573.4L705 570.2L698.4 570.3ZM698.4 571L705 570.9L705 567.8L698.4 567.8ZM698.4 568.5L705 568.5L704.9 565.3L698.4 565.3ZM696.5 309.6L700.6 309.6L700.4 306.4L696.3 306.4Z"/>
<path fill="#313131" d="M698.4 566L704.9 566L704.8 562.8L698.3 562.8ZM698.3 563.5L704.8 563.5L704.8 560.3L698.3 560.3ZM698.3 561L704.8 561L704.7 557.8L698.3 557.8ZM698.3 558.5L704.7 558.5L704.7 555.3L698.3 555.3ZM568 292.8L563.9 292.7L564 295.8L568 295.9Z"/>
<path fill="#303030" d="M698.3 556L704.7 556L704.6 552.8L698.3 552.9ZM698.3 553.6L704.6 553.5L704.5 550.3L698.3 550.4ZM698.3 551.1L704.6 551L704.5 547.8L698.3 547.9ZM696.7 312.1L700.8 312.1L700.6 308.9L696.5 308.9Z"/>
<path fill="#2f2f2f" d="M698.3 548.6L704.5 548.5L704.4 545.4L698.3 545.4ZM698.3 546.1L704.4 546.1L704.4 542.9L698.2 542.9ZM698.2 543.6L704.4 543.6L704.3 540.4L698.2 540.4ZM698.2 541.1L704.3 541.1L704.3 537.9L698.2 537.9ZM579.2 229.8L575.7 227L574 229.3L577.5 232Z"/>
<path fill="#2e2e2e" d="M698.2 538.6L704.3 538.6L704.2 535.4L698.2 535.4ZM698.2 536.1L704.2 536.1L704.1 532.9L698.2 532.9ZM698.2 533.6L704.1 533.6L704.1 530.4L698.2 530.5ZM698.2 531.2L704.1 531.1L704 527.9L698.2 528ZM696.9 314.6L700.9 314.6L700.8 311.4L696.7 311.4Z"/>
<path fill="#2d2d2d" d="M698.2 528.7L704 528.6L704 525.4L698.1 525.5ZM698.2 526.2L704 526.1L703.9 523L698.1 523ZM698.1 523.7L703.9 523.7L703.9 520.5L698.1 520.5ZM698.1 521.2L703.9 521.2L703.8 518L698.1 518Z"/>
<path fill="#2c2c2c" d="M698.1 518.7L703.8 518.7L703.7 515.5L698.1 515.5ZM698.1 516.2L703.7 516.2L703.7 513L698.1 513ZM698.1 513.7L703.7 513.7L703.6 510.5L698.1 510.5ZM698.1 511.2L703.6 511.2L703.6 508L698.1 508ZM697.2 317.1L701.1 317.1L700.9 313.9L696.9 313.9ZM568.1 295.2L564 295.1L564 298.1L568.1 298.2ZM568.7 409.9L564.3 409.9L564.3 413L568.7 413ZM568.7 412.3L564.3 412.3L564.3 415.5L568.7 415.5ZM568.7 414.8L564.3 414.8L564.3 417.9L568.7 417.9ZM568.7 417.2L564.3 417.2L564.3 420.4L568.7 420.4ZM568.7 419.7L564.3 419.7L564.3 422.8L568.7 422.8ZM568.7 422.1L564.3 422.1L564.5 794.6L568.9 794.6ZM568.9 793.9L564.5 793.9L564.5 797.1L568.9 797.1ZM568.9 796.4L564.5 796.4L564.5 799.6L568.9 799.6ZM568.9 798.9L564.5 798.9L564.5 802.1L568.8 802.1Z"/>
<path fill="#2b2b2b" d="M698.1 508.7L703.6 508.7L703.5 505.5L698 505.6ZM698 506.3L703.5 506.2L703.4 503L698 503.1ZM698 503.8L703.4 503.7L703.4 500.6L698 500.6ZM568.6 390.3L564.3 390.3L564.3 393.4L568.6 393.4ZM568.6 392.7L564.3 392.7L564.3 395.9L568.6 395.9ZM568.6 395.2L564.3 395.2L564.3 398.3L568.6 398.3ZM568.6 397.6L564.3 397.6L564.3 400.8L568.6 400.8ZM568.6 400.1L564.3 400.1L564.3 403.2L568.6 403.2ZM568.6 402.5L564.3 402.5L564.3 405.7L568.6 405.7ZM568.6 405L564.3 405L564.3 408.1L568.6 408.1ZM568.6 407.4L564.3 407.4L564.3 410.6L568.7 410.6ZM568.8 801.4L564.5 801.4L564.5 804.6L568.8 804.6ZM568.8 803.9L564.5 803.9L564.5 807.1L568.8 807.1ZM568.8 806.4L564.5 806.4L564.5 809.6L568.7 809.6ZM568.7 808.9L564.5 808.9L564.5 812.1L568.7 812.1Z"/>
<path fill="#2a2a2a" d="M698 501.3L703.4 501.3L703.3 498.1L698 498.1ZM698 498.8L703.3 498.8L703.3 495.6L698 495.6ZM698 496.3L703.3 496.3L703.2 493.1L698 493.1ZM698 493.8L703.2 493.8L703.2 490.6L698 490.6ZM697.3 324.5L701.2 324.5L701.2 321.3L697.3 321.4ZM697.3 322.1L701.2 322L701.2 318.8L697.3 318.9ZM697.3 319.6L701.2 319.5L701.1 316.4L697.2 316.4ZM580.5 228.2L577.1 225.2L575.2 227.5L578.8 230.3ZM568.5 370.7L564.2 370.7L564.2 373.8L568.5 373.8ZM568.5 373.1L564.2 373.1L564.2 376.3L568.5 376.3ZM568.5 375.6L564.2 375.6L564.2 378.7L568.5 378.7ZM568.5 378L564.2 378L564.2 381.2L568.5 381.2ZM568.5 380.5L564.2 380.5L564.2 383.6L568.5 383.6ZM568.5 382.9L564.2 382.9L564.2 386.1L568.6 386.1ZM568.6 385.4L564.2 385.4L564.2 388.5L568.6 388.5ZM568.6 387.8L564.2 387.8L564.3 391L568.6 391ZM568.7 811.4L564.5 811.4L564.5 814.6L568.6 814.6ZM568.6 813.9L564.5 813.9L564.5 817.1L568.6 817.1ZM568.6 816.4L564.5 816.4L564.5 819.6L568.6 819.6ZM568.6 818.9L564.5 818.9L564.4 822.1L568.5 822.1Z"/>
<path fill="#292929" d="M698 491.3L703.2 491.3L703.1 488.1L698 488.1ZM698 488.8L703.1 488.8L703 485.6L697.9 485.6ZM697.9 486.3L703 486.3L703 483.1L697.9 483.2ZM697.9 483.9L703 483.8L702.9 480.6L697.9 480.7ZM697.3 337L701.2 337L701.2 333.8L697.3 333.8ZM697.3 334.5L701.2 334.5L701.2 331.3L697.3 331.3ZM697.3 332L701.2 332L701.2 328.8L697.3 328.8ZM697.3 329.5L701.2 329.5L701.2 326.3L697.3 326.3ZM697.3 327L701.2 327L701.2 323.8L697.3 323.8ZM642.1 210.7L643.8 206.1L641.1 205.1L639.6 209.8ZM568.4 348.7L564.2 348.6L564.2 351.8L568.4 351.8ZM568.4 351.1L564.2 351.1L564.2 354.2L568.4 354.2ZM568.4 353.5L564.2 353.5L564.2 356.7L568.4 356.7ZM568.4 356L564.2 356L564.2 359.1L568.4 359.1ZM568.4 358.4L564.2 358.4L564.2 361.6L568.5 361.6ZM568.5 360.9L564.2 360.9L564.2 364L568.5 364ZM568.5 363.3L564.2 363.3L564.2 366.5L568.5 366.5ZM568.5 365.8L564.2 365.8L564.2 368.9L568.5 368.9ZM568.5 368.2L564.2 368.2L564.2 371.4L568.5 371.4ZM568.5 821.4L564.4 821.4L564.4 824.6L568.5 824.6ZM568.5 823.9L564.4 823.9L564.4 827.1L568.4 827.1ZM568.4 826.4L564.4 826.4L564.4 829.6L568.4 829.6ZM568.4 828.9L564.4 828.9L564.4 832.1L568.4 832.1Z"/>
<path fill="#282828" d="M697.9 481.4L702.9 481.3L702.9 478.2L697.9 478.2ZM697.9 478.9L702.9 478.9L702.8 475.7L697.9 475.7ZM697.9 476.4L702.8 476.4L702.7 473.2L697.9 473.2ZM697.9 473.9L702.8 473.9L702.7 470.7L697.9 470.7ZM697.4 349.4L701.3 349.4L701.3 346.2L697.4 346.2ZM697.4 346.9L701.3 346.9L701.3 343.7L697.4 343.8ZM697.4 344.5L701.3 344.4L701.2 341.2L697.3 341.3ZM697.3 342L701.2 341.9L701.2 338.8L697.3 338.8ZM697.3 339.5L701.2 339.5L701.2 336.3L697.3 336.3ZM640.3 210L641.8 205.3L639.1 204.4L637.7 209.2ZM568.1 297.5L564 297.4L564.1 300.4L568.2 300.5ZM568.3 329.1L564.1 329.1L564.2 332.2L568.3 332.2ZM568.3 331.5L564.2 331.5L564.2 334.6L568.3 334.7ZM568.3 334L564.2 333.9L564.2 337.1L568.4 337.1ZM568.4 336.4L564.2 336.4L564.2 339.5L568.4 339.6ZM568.4 338.9L564.2 338.8L564.2 342L568.4 342ZM568.4 341.3L564.2 341.3L564.2 344.4L568.4 344.5ZM568.4 343.8L564.2 343.7L564.2 346.9L568.4 346.9ZM568.4 346.2L564.2 346.2L564.2 349.3L568.4 349.4ZM568.4 831.4L564.4 831.4L564.4 834.6L568.3 834.6ZM568.3 833.9L564.4 833.9L564.4 837.1L568.3 837.1ZM568.3 836.4L564.4 836.4L564.4 839.6L568.3 839.6ZM568.3 838.9L564.4 838.9L564.4 842.1L568.2 842.1Z"/>
<path fill="#272727" d="M697.9 471.4L702.7 471.4L702.6 468.2L697.9 468.2ZM697.9 468.9L702.6 468.9L702.6 465.7L697.8 465.7ZM697.8 466.4L702.6 466.4L702.5 463.2L697.8 463.2ZM697.8 463.9L702.5 463.9L702.5 460.7L697.8 460.8ZM697.4 361.9L701.3 361.9L701.3 358.7L697.4 358.7ZM697.4 359.4L701.3 359.4L701.3 356.2L697.4 356.2ZM697.4 356.9L701.3 356.9L701.3 353.7L697.4 353.7ZM697.4 354.4L701.3 354.4L701.3 351.2L697.4 351.2ZM697.4 351.9L701.3 351.9L701.3 348.7L697.4 348.7ZM638.4 209.4L639.7 204.6L637 203.8L635.8 208.6ZM568.2 309.5L564.1 309.5L564.1 312.6L568.3 312.6ZM568.3 311.9L564.1 311.9L564.1 315.1L568.3 315.1ZM568.3 314.4L564.1 314.4L564.1 317.5L568.3 317.5ZM568.3 316.8L564.1 316.8L564.1 320L568.3 320ZM568.3 319.3L564.1 319.3L564.1 322.4L568.3 322.4ZM568.3 321.7L564.1 321.7L564.1 324.9L568.3 324.9ZM568.3 324.2L564.1 324.2L564.1 327.3L568.3 327.3ZM568.3 326.6L564.1 326.6L564.1 329.8L568.3 329.8ZM568.2 841.4L564.4 841.4L564.4 844.6L568.2 844.6ZM568.2 843.9L564.4 843.9L564.4 847L568.1 847ZM568.1 846.3L564.4 846.3L564.4 849.5L568.1 849.5ZM568.1 848.8L564.4 848.8L564.4 852L568.1 852Z"/>
<path fill="#262626" d="M697.8 461.5L702.5 461.4L702.4 458.2L697.8 458.3ZM697.8 459L702.4 458.9L702.3 455.7L697.8 455.8ZM697.8 456.5L702.3 456.4L702.3 453.3L697.8 453.3ZM697.5 376.8L701.4 376.8L701.3 373.6L697.4 373.6ZM697.5 374.3L701.4 374.3L701.3 371.1L697.4 371.1ZM697.4 371.8L701.3 371.8L701.3 368.6L697.4 368.7ZM697.4 369.4L701.3 369.3L701.3 366.1L697.4 366.2ZM697.4 366.9L701.3 366.8L701.3 363.7L697.4 363.7ZM697.4 364.4L701.3 364.4L701.3 361.2L697.4 361.2ZM636.5 208.8L637.7 203.9L634.9 203.2L633.8 208.1ZM568.2 299.8L564.1 299.7L564.1 302.8L568.2 302.8ZM568.2 302.1L564.1 302.1L564.1 305.3L568.2 305.3ZM568.2 304.6L564.1 304.6L564.1 307.7L568.2 307.7ZM568.2 307L564.1 307L564.1 310.2L568.2 310.2ZM568.1 851.3L564.4 851.3L564.4 854.5L568 854.5ZM568 853.8L564.4 853.8L564.4 857L568 857ZM568 856.3L564.4 856.3L564.4 859.5L567.9 859.5ZM567.9 858.8L564.4 858.8L564.4 862L567.9 862Z"/>
<path fill="#252525" d="M697.8 454L702.3 454L702.2 450.8L697.8 450.8ZM697.8 451.5L702.2 451.5L702.2 448.3L697.7 448.3ZM697.8 449L702.2 449L702.1 445.8L697.7 445.8ZM697.7 446.5L702.1 446.5L702.1 443.3L697.7 443.3ZM697.5 389.3L701.4 389.2L701.4 386.1L697.5 386.1ZM697.5 386.8L701.4 386.8L701.4 383.6L697.5 383.6ZM697.5 384.3L701.4 384.3L701.4 381.1L697.5 381.1ZM697.5 381.8L701.4 381.8L701.4 378.6L697.5 378.6ZM697.5 379.3L701.4 379.3L701.4 376.1L697.5 376.1ZM634.5 208.3L635.6 203.4L632.7 202.7L631.9 207.7ZM581.9 226.6L578.5 223.5L576.6 225.7L580.1 228.7ZM567.9 861.3L564.4 861.3L564.3 864.5L567.9 864.5ZM567.9 863.8L564.3 863.8L564.3 867L567.8 867ZM567.8 866.3L564.3 866.3L564.3 869.5L567.8 869.5ZM567.8 868.8L564.3 868.8L564.3 872L567.8 872Z"/>
<path fill="#242424" d="M697.7 444L702.1 444L702 440.8L697.7 440.8ZM697.7 441.5L702 441.5L701.9 438.3L697.7 438.3ZM697.7 439L701.9 439L701.9 435.8L697.7 435.9ZM697.7 436.6L701.9 436.5L701.8 433.3L697.7 433.4ZM697.5 401.7L701.4 401.7L701.4 398.5L697.5 398.5ZM697.5 399.2L701.4 399.2L701.4 396L697.5 396ZM697.5 396.7L701.4 396.7L701.4 393.5L697.5 393.5ZM697.5 394.2L701.4 394.2L701.4 391L697.5 391.1ZM697.5 391.8L701.4 391.7L701.4 388.5L697.5 388.6ZM567.7 871.3L564.3 871.3L564.3 874.5L567.7 874.5ZM567.7 873.8L564.3 873.8L564.3 877L567.7 877ZM567.7 876.3L564.3 876.3L564.3 879.5L567.6 879.5ZM567.6 878.8L564.3 878.8L564.3 882L567.6 882Z"/>
<path fill="#232323" d="M697.7 434.1L701.8 434L701.8 430.9L697.7 430.9ZM697.7 431.6L701.8 431.6L701.7 428.4L697.6 428.4ZM697.6 429.1L701.7 429.1L701.6 425.9L697.6 425.9ZM697.6 426.6L701.6 426.6L701.6 423.4L697.6 423.4ZM697.6 414.2L701.5 414.1L701.5 410.9L697.6 411ZM697.6 411.7L701.5 411.6L701.5 408.5L697.6 408.5ZM697.6 409.2L701.5 409.2L701.5 406L697.6 406ZM697.6 406.7L701.5 406.7L701.4 403.5L697.5 403.5ZM697.5 404.2L701.4 404.2L701.4 401L697.5 401ZM632.5 207.8L633.4 202.9L630.6 202.4L629.9 207.4ZM567.6 881.3L564.3 881.3L564.3 884.5L567.6 884.5ZM567.6 883.8L564.3 883.8L564.3 887L567.5 887ZM567.5 886.3L564.3 886.3L564.3 889.5L567.5 889.5ZM567.5 888.8L564.3 888.8L564.3 892L567.4 892Z"/>
<path fill="#222222" d="M697.6 424.1L701.6 424.1L701.5 420.9L697.6 420.9ZM697.6 421.6L701.5 421.6L701.5 418.4L697.6 418.4ZM697.6 419.1L701.5 419.1L701.5 415.9L697.6 415.9ZM697.6 416.6L701.5 416.6L701.5 413.4L697.6 413.5ZM630.6 207.5L631.3 202.4L628.4 202L627.9 207.1ZM567.4 891.3L564.3 891.3L564.3 894.5L567.4 894.5ZM567.4 893.8L564.3 893.8L564.3 897L567.4 897ZM567.4 896.3L564.3 896.3L564.3 956.8L567.4 956.8Z"/>
<path fill="#ababab" d="M701.5 414.1L705.3 414.1L705.3 410.9L701.5 410.9ZM701.5 411.6L705.3 411.6L705.3 408.4L701.5 408.5ZM701.5 409.2L705.3 409.1L705.2 405.9L701.5 406ZM701.5 406.7L705.2 406.6L705.2 403.5L701.4 403.5ZM682.4 287.3L683.6 287.3L683.7 284.1L682.5 284.1ZM683.6 287.3L684.9 287.3L684.9 284.1L683.7 284.1Z"/>
<path fill="#acacac" d="M701.4 404.2L705.2 404.2L705.2 401L701.4 401ZM701.4 401.7L705.2 401.7L705.1 398.5L701.4 398.5ZM701.4 399.2L705.1 399.2L705.1 396L701.4 396ZM701.4 396.7L705.1 396.7L705.1 393.5L701.4 393.5ZM672 314.7L677.9 314.7L678 311.5L672 311.5ZM678.7 260.9L682 260.7L681.7 257.9L678.4 258.2Z"/>
<path fill="#adadad" d="M701.4 394.2L705.1 394.2L705.1 391L701.4 391ZM701.4 391.7L705.1 391.7L705 388.5L701.4 388.5ZM701.4 389.2L705 389.2L705 386L701.4 386.1ZM701.4 386.8L705 386.7L705 383.5L701.4 383.6ZM682.5 284.8L683.7 284.8L683.7 281.6L682.5 281.6ZM571.8 273.9L567.4 273.8L567.5 276.9L571.8 277Z"/>
<path fill="#aeaeae" d="M701.4 384.3L705 384.2L704.9 381.1L701.4 381.1ZM701.4 381.8L704.9 381.8L704.9 378.6L701.4 378.6ZM701.4 379.3L704.9 379.3L704.9 376.1L701.4 376.1ZM701.4 376.8L704.9 376.8L704.8 373.6L701.3 373.6ZM618.2 201.9L617.9 198.2L614.9 198.8L615.3 202.2ZM545.3 280.5L540.8 280.4L540.8 283.5L545.2 283.6Z"/>
<path fill="#878787" d="M678.3 381.9L681 381.9L681 378.7L678.3 378.7ZM651.9 215.2L653.7 212.2L651.2 210.5L649.4 213.8ZM571.3 309.5L568.2 309.5L568.3 312.6L571.3 312.6Z"/>
<path fill="#868686" d="M678.3 379.4L681 379.4L681 376.2L678.2 376.2ZM558.7 249.6L555.4 248.9L554.9 252.1L558.3 252.8ZM558.9 276L554 275.9L553.9 279L559 279.1ZM571.3 311.9L568.3 311.9L568.3 315.1L571.3 315.1Z"/>
<path fill="#858585" d="M678.2 376.9L681 376.9L681 373.7L678.2 373.7ZM571.3 314.4L568.3 314.4L568.3 317.5L571.3 317.5Z"/>
<path fill="#848484" d="M678.2 374.4L681 374.4L681 371.2L678.2 371.2ZM694.4 267.3L698.9 267.3L698.9 264L694.4 264.1ZM571.3 316.8L568.3 316.8L568.3 320L571.3 320Z"/>
<path fill="#afafaf" d="M701.4 374.3L704.8 374.3L704.8 371.1L701.3 371.1ZM701.3 371.8L704.8 371.8L704.8 368.6L701.3 368.6ZM701.3 369.3L704.8 369.3L704.8 366.1L701.3 366.1ZM701.3 366.8L704.8 366.8L704.7 363.6L701.3 363.7ZM672 312.2L678 312.2L678.1 309L672 309ZM682.3 289.8L683.5 289.8L683.6 286.6L682.4 286.6ZM683.5 289.8L684.8 289.8L684.9 286.6L683.6 286.6ZM683.7 284.8L684.9 284.8L685 281.6L683.7 281.6Z"/>
<path fill="#838383" d="M678.2 371.9L681 371.9L681 368.7L678.2 368.8ZM678.9 274.9L682.3 274.8L682.3 271.6L678.9 271.7ZM559 278.4L553.9 278.3L553.8 281.4L559.1 281.5Z"/>
<path fill="#828282" d="M678.2 369.5L681 369.4L681 366.2L678.2 366.3ZM559.1 247.2L555.9 246.4L555.3 249.6L558.5 250.3ZM571.3 319.3L568.3 319.3L568.3 322.4L571.3 322.4Z"/>
<path fill="#818181" d="M678.2 367L681 366.9L681 363.8L678.1 363.8ZM571.3 321.7L568.3 321.7L568.3 324.9L571.3 324.9Z"/>
<path fill="#808080" d="M678.1 364.5L681 364.5L681 361.3L678.1 361.3ZM559.2 280.8L553.9 280.7L553.8 283.7L559.3 283.8ZM571.3 324.2L568.3 324.2L568.3 327.3L571.3 327.3Z"/>
<path fill="#b0b0b0" d="M701.3 364.4L704.7 364.3L704.7 361.1L701.3 361.2ZM701.3 361.9L704.7 361.8L704.7 358.7L701.3 358.7ZM701.3 359.4L704.7 359.4L704.6 356.2L701.3 356.2ZM701.3 356.9L704.6 356.9L704.6 353.7L701.3 353.7ZM692.6 247.3L696.8 246.3L695.9 243L691.8 244.2ZM622.6 192.9L622.6 190.4L619.3 190.4L619.4 193ZM573.7 211.8L571.7 209.6L569.2 212L571.3 214.1ZM571.9 271.6L567.3 271.5L567.4 274.5L571.8 274.6Z"/>
<path fill="#7f7f7f" d="M678.1 362L681 362L680.9 358.8L678.1 358.8ZM559.5 244.8L556.5 243.9L555.7 247.1L558.9 247.9ZM571.3 326.6L568.3 326.6L568.3 329.8L571.3 329.8Z"/>
<path fill="#7e7e7e" d="M678.1 359.5L680.9 359.5L680.9 356.3L678.1 356.3ZM571.3 329.1L568.3 329.1L568.3 332.2L571.3 332.2Z"/>
<path fill="#7c7c7c" d="M678.1 357L680.9 357L680.9 353.8L678.1 353.8ZM694.4 269.8L698.9 269.8L698.9 266.6L694.4 266.6ZM559.3 283.1L553.8 283L553.7 286.1L559.4 286.2ZM571.3 334L568.3 334L568.4 337.1L571.3 337.1Z"/>
<path fill="#7b7b7b" d="M678.1 354.5L680.9 354.5L680.9 351.3L678 351.3ZM560.1 242.4L557.2 241.4L556.3 244.5L559.3 245.5ZM571.3 336.4L568.4 336.4L568.4 339.6L571.3 339.6Z"/>
<path fill="#b1b1b1" d="M701.3 354.4L704.6 354.4L704.6 351.2L701.3 351.2ZM701.3 351.9L704.6 351.9L704.5 348.7L701.3 348.7ZM701.3 349.4L704.5 349.4L704.5 346.2L701.3 346.2ZM701.3 346.9L704.5 346.9L704.5 343.7L701.3 343.7ZM672 309.7L678.1 309.7L678.2 306.5L672 306.6ZM682.5 282.3L683.7 282.3L683.7 279.1L682.4 279.1ZM655.5 217.5L657.2 215.1L654.9 213.2L653.1 216ZM625 193L625.1 190.5L621.9 190.4L621.9 192.9ZM620.1 192.9L620 190.4L616.7 190.5L616.9 193.1ZM617.6 193L617.4 190.5L614.1 190.7L614.4 193.3ZM615.1 193.2L614.8 190.6L611.5 191L611.9 193.6ZM579.7 206.8L578 204.4L575.3 206.5L577.1 208.8ZM577.7 208.4L575.8 206.1L573.2 208.3L575.1 210.5ZM575.7 210.1L573.7 207.8L571.2 210.1L573.2 212.3Z"/>
<path fill="#7a7a7a" d="M678 352L680.9 352L680.9 348.8L678 348.8Z"/>
<path fill="#797979" d="M678 349.5L680.9 349.5L680.9 346.3L678 346.3ZM559.4 285.5L553.7 285.4L553.6 288.5L559.5 288.6ZM571.3 338.9L568.4 338.9L568.4 342L571.3 342Z"/>
<path fill="#787878" d="M678 347L680.9 347L680.9 343.8L678 343.9ZM560.8 240L558 238.9L557 242L559.9 243.1ZM571.3 341.3L568.4 341.3L568.4 344.5L571.3 344.5Z"/>
<path fill="#777777" d="M678 344.6L680.9 344.5L680.9 341.4L678 341.4ZM678.9 279.8L682.4 279.8L682.4 276.6L678.9 276.6ZM571.3 343.8L568.4 343.8L568.4 346.9L571.3 346.9ZM571.7 893.8L567.4 893.8L567.4 897L571.7 897ZM571.7 896.3L567.4 896.3L567.4 956.8L571.7 956.8Z"/>
<path fill="#b2b2b2" d="M701.3 344.4L704.5 344.4L704.5 341.2L701.2 341.2ZM701.2 341.9L704.5 341.9L704.4 338.7L701.2 338.8ZM701.2 339.5L704.4 339.4L704.4 336.3L701.2 336.3ZM701.2 337L704.4 337L704.4 333.8L701.2 333.8ZM649.9 209.5L651.5 206.3L648.7 204.8L647.3 208ZM627.5 193.2L627.7 190.6L624.4 190.4L624.3 193ZM612.6 193.5L612.2 190.9L609 191.4L609.4 194ZM610.1 193.9L609.6 191.2L606.4 191.8L607 194.5ZM607.6 194.3L607.1 191.7L603.9 192.4L604.5 195.1ZM586.3 202.5L584.8 200L581.9 201.7L583.5 204.2ZM584 203.9L582.5 201.4L579.6 203.3L581.3 205.7ZM581.9 205.3L580.2 202.9L577.4 204.9L579.2 207.2ZM545.3 278.1L540.9 278L540.8 281.1L545.3 281.2Z"/>
<path fill="#767676" d="M678 342.1L680.9 342.1L680.9 338.9L677.9 338.9ZM571.3 346.2L568.4 346.2L568.4 349.4L571.3 349.4ZM571.7 891.3L567.4 891.3L567.4 894.5L571.7 894.5Z"/>
<path fill="#757575" d="M677.9 339.6L680.9 339.6L680.8 336.4L677.9 336.4ZM559.5 287.9L553.6 287.8L553.5 290.8L559.6 291ZM571.3 348.7L568.4 348.7L568.4 351.8L571.3 351.8ZM571.7 888.8L567.5 888.8L567.4 892L571.7 892Z"/>
<path fill="#747474" d="M677.9 337.1L680.9 337.1L680.8 333.9L677.9 333.9ZM561.5 237.6L558.8 236.4L557.7 239.6L560.5 240.7ZM571.3 351.1L568.4 351.1L568.4 354.2L571.3 354.3ZM571.7 886.3L567.5 886.3L567.5 889.5L571.7 889.5Z"/>
<path fill="#737373" d="M677.9 334.6L680.8 334.6L680.8 331.4L677.9 331.4ZM694.4 272.3L698.9 272.3L698.9 269.1L694.4 269.1ZM571.3 353.6L568.4 353.5L568.4 356.7L571.3 356.7ZM571.6 883.8L567.6 883.8L567.5 887L571.7 887Z"/>
<path fill="#b3b3b3" d="M701.2 334.5L704.4 334.5L704.3 331.3L701.2 331.3ZM701.2 332L704.3 332L704.3 328.8L701.2 328.8ZM701.2 329.5L704.3 329.5L704.3 326.3L701.2 326.3ZM701.2 327L704.3 327L704.2 323.8L701.2 323.8ZM682.1 292.3L683.5 292.3L683.5 289.1L682.3 289.1ZM683.5 292.3L684.7 292.2L684.8 289.1L683.5 289.1ZM678.5 258.9L681.8 258.6L681.4 255.8L678.2 256.3ZM616 202.1L615.6 198.7L612.7 199.4L613.1 202.6ZM605.2 194.9L604.5 192.2L601.3 193L602.1 195.7ZM602.8 195.5L602 192.8L598.8 193.8L599.7 196.4ZM600.4 196.2L599.5 193.5L596.4 194.6L597.4 197.3ZM593.3 198.9L592.1 196.3L589 197.7L590.3 200.3ZM590.9 200L589.6 197.4L586.6 199L587.9 201.6ZM588.6 201.2L587.2 198.6L584.2 200.3L585.7 202.9ZM571.8 213.6L569.7 211.5L567.3 214.1L569.6 216.2ZM571.9 269.2L567.3 269.1L567.3 272.2L571.9 272.3Z"/>
<path fill="#717171" d="M677.9 332.1L680.8 332.1L680.8 328.9L677.9 328.9ZM679 282.3L682.5 282.3L682.4 279.1L678.9 279.1ZM571.6 876.3L567.7 876.3L567.6 879.5L571.6 879.5Z"/>
<path fill="#707070" d="M677.9 329.6L680.8 329.6L680.8 326.4L677.8 326.4ZM562.3 235.3L559.7 234L558.5 237.1L561.2 238.3ZM571.3 358.5L568.4 358.4L568.5 361.6L571.3 361.6ZM571.6 873.8L567.7 873.8L567.7 877L571.6 877Z"/>
<path fill="#6f6f6f" d="M677.8 327.1L680.8 327.1L680.8 323.9L677.8 323.9ZM571.3 360.9L568.5 360.9L568.5 364L571.3 364ZM571.6 871.3L567.7 871.3L567.7 874.5L571.6 874.5Z"/>
<path fill="#6e6e6e" d="M677.8 324.6L680.8 324.6L680.8 321.4L677.8 321.5ZM559.7 292.6L553.4 292.5L553.4 295.6L559.9 295.7ZM571.3 363.3L568.5 363.3L568.5 366.5L571.3 366.5ZM571.6 868.8L567.8 868.8L567.8 872L571.6 872Z"/>
<path fill="#b4b4b4" d="M701.2 324.5L704.2 324.5L704.2 321.3L701.2 321.3ZM701.2 322L704.2 322L704.2 318.8L701.2 318.8ZM701.2 319.5L704.2 319.5L704.1 316.3L701.1 316.4ZM672 307.3L678.2 307.2L678.3 304L672 304.1ZM630 193.5L630.3 190.9L627 190.6L626.8 193.1ZM622.6 190.4L622.6 187.4L619.2 187.4L619.3 190.4ZM620 190.4L619.9 187.4L616.5 187.5L616.7 190.5ZM617.4 190.5L617.2 187.5L613.8 187.7L614.1 190.7ZM614.8 190.6L614.5 187.7L611.1 188L611.5 191ZM612.2 190.9L611.8 187.9L608.4 188.4L609 191.4ZM609.6 191.2L609.1 188.3L605.8 188.9L606.4 191.8ZM607.1 191.7L606.5 188.8L603.1 189.5L603.9 192.4ZM604.5 192.2L603.8 189.3L600.5 190.1L601.3 193ZM602 192.8L601.2 189.9L597.9 190.9L598.8 193.8ZM599.5 193.5L598.6 190.7L595.3 191.8L596.4 194.6ZM598 197L597 194.3L593.9 195.5L595 198.2ZM597 194.3L596 191.5L592.8 192.7L593.9 195.5ZM595.7 197.9L594.6 195.2L591.4 196.5L592.6 199.2ZM594.6 195.2L593.4 192.4L590.2 193.8L591.4 196.5ZM592.1 196.3L590.8 193.5L587.6 194.9L589 197.7ZM589.6 197.4L588.2 194.6L585.1 196.2L586.6 199ZM587.2 198.6L585.7 195.9L582.6 197.6L584.2 200.3ZM584.8 200L583.2 197.2L580.1 199L581.9 201.7ZM582.5 201.4L580.7 198.6L577.8 200.6L579.6 203.3ZM580.2 202.9L578.3 200.2L575.4 202.2L577.4 204.9ZM578 204.4L576 201.8L573.2 203.9L575.3 206.5ZM575.8 206.1L573.7 203.5L570.9 205.7L573.2 208.3ZM573.7 207.8L571.5 205.2L568.8 207.6L571.2 210.1ZM571.7 209.6L569.3 207.1L566.7 209.5L569.2 212ZM569.7 211.5L567.2 209L564.7 211.7L567.3 214.1ZM567.8 213.6L565.2 211.2L562.8 213.9L565.6 216.2ZM566 215.7L563.3 213.4L561 216.2L563.9 218.4ZM564.3 217.9L561.5 215.6L559.3 218.5L562.3 220.7ZM562.7 220.1L559.7 218L557.7 220.9L560.7 223ZM561.1 222.4L558.1 220.3L556.1 223.4L559.3 225.4ZM559.7 224.8L556.5 222.8L554.7 225.9L558 227.8ZM558.3 227.2L555 225.3L553.3 228.5L556.7 230.3ZM557 229.7L553.6 227.9L552.1 231.1L555.6 232.8ZM555.9 232.2L552.4 230.5L550.9 233.8L554.5 235.3ZM554.8 234.7L551.2 233.1L549.8 236.5L553.5 237.9ZM553.8 237.3L550.1 235.8L548.9 239.2L552.7 240.5Z"/>
<path fill="#6d6d6d" d="M677.8 322.2L680.8 322.1L680.8 319L677.8 319ZM571.3 365.8L568.5 365.8L568.5 368.9L571.3 368.9ZM571.6 866.3L567.8 866.3L567.8 869.5L571.6 869.5Z"/>
<path fill="#6c6c6c" d="M677.8 319.7L680.8 319.7L680.8 316.5L677.8 316.5ZM677.8 317.2L680.8 317.2L681 314L677.9 314ZM563.2 232.9L560.6 231.6L559.4 234.6L562 235.9ZM571.3 368.2L568.5 368.2L568.5 371.4L571.3 371.4ZM571.6 861.3L567.9 861.3L567.9 864.5L571.6 864.5ZM571.6 863.8L567.9 863.8L567.8 867L571.6 867Z"/>
<path fill="#d9d9d9" d="M680.8 317.2L682.6 317.2L682.7 314L681 314ZM682.6 317.2L684.2 317.1L684.3 314L682.7 314ZM681.8 258.6L683.6 258.4L683.3 255.6L681.4 255.8ZM676.7 249.2L679.7 248.4L678.8 245.7L675.9 246.7ZM684.6 236.9L688.7 235L687.4 232L683.4 233.9Z"/>
<path fill="#b6b6b6" d="M701.1 317.1L704.2 317L704.1 313.9L700.9 313.9ZM634.9 194.3L635.4 191.6L632.2 191.1L631.8 193.7ZM630.3 190.9L630.6 187.9L627.2 187.6L627 190.6ZM627.7 190.6L627.9 187.6L624.5 187.4L624.4 190.4ZM552.1 242.5L548.3 241.3L547.4 244.8L551.3 245.9ZM551.5 245.2L547.6 244.2L546.9 247.7L550.7 248.5ZM572 266.8L567.2 266.7L567.2 269.8L571.9 269.9ZM545.4 275.8L540.9 275.7L540.9 278.7L545.3 278.8Z"/>
<path fill="#6b6b6b" d="M677.9 314.7L681 314.7L681.1 311.5L678 311.5ZM678 312.2L681.1 312.2L681.2 309L678.1 309ZM679 284.8L682.5 284.8L682.5 281.6L679 281.6ZM694.3 274.8L698.9 274.7L698.9 271.6L694.4 271.6ZM559.9 295L553.4 294.9L553.3 297.9L560 298.1ZM571.3 370.7L568.5 370.7L568.5 373.8L571.3 373.8ZM571.6 858.8L567.9 858.8L567.9 862L571.6 862Z"/>
<path fill="#d5d5d5" d="M681 314.7L682.7 314.7L682.8 311.5L681.1 311.5ZM682.7 314.7L684.3 314.7L684.3 311.5L682.8 311.5ZM682 260.7L683.8 260.5L683.6 257.7L681.7 257.9ZM603.4 205.4L602.7 203.3L600 204.6L600.7 206.5ZM562.9 226.8L559.7 224.8L558 227.8L561.4 229.8Z"/>
<path fill="#b8b8b8" d="M700.9 314.6L704.1 314.6L704.1 311.4L700.8 311.4ZM637.4 194.8L637.9 192.1L634.7 191.5L634.3 194.1ZM635.4 191.6L635.9 188.6L632.6 188.1L632.2 191.1ZM632.9 191.2L633.3 188.2L629.9 187.8L629.6 190.8ZM596 191.5L594.9 188.5L591.6 189.7L592.8 192.7ZM593.4 192.4L592.2 189.5L588.9 190.8L590.2 193.8ZM550.4 250.6L546.5 249.8L546 253.4L549.9 254ZM550 253.3L546.1 252.7L545.7 256.2L549.7 256.7Z"/>
<path fill="#d1d1d1" d="M681.1 312.2L682.8 312.2L682.9 309L681.2 309ZM682.8 312.2L684.3 312.2L684.4 309L682.9 309ZM682.1 262.8L683.8 262.7L683.7 259.8L681.9 260ZM677.2 251.1L680.2 250.4L679.5 247.7L676.5 248.6ZM681.7 230L685.3 227.8L683.7 224.9L680.2 227.1Z"/>
<path fill="#b9b9b9" d="M700.8 312.1L704.1 312.1L704 308.9L700.6 308.9ZM682.4 277.3L683.7 277.3L683.7 274.1L682.3 274.1ZM639.8 195.4L640.5 192.7L637.3 192L636.7 194.6ZM613.8 202.5L613.4 199.3L610.5 200.1L611 203.1ZM603.8 189.3L603.1 186.3L599.7 187.1L600.5 190.1ZM601.2 189.9L600.3 187L596.9 187.9L597.9 190.9ZM598.6 190.7L597.6 187.7L594.3 188.8L595.3 191.8ZM590.8 193.5L589.5 190.5L586.2 192L587.6 194.9ZM588.2 194.6L586.8 191.7L583.5 193.3L585.1 196.2ZM585.7 195.9L584.1 192.9L580.9 194.7L582.6 197.6ZM570.1 215.7L567.8 213.6L565.6 216.2L568 218.4ZM549.7 256L545.8 255.5L545.6 259.1L549.5 259.4ZM572 264.4L567.1 264.4L567.2 267.4L572 267.5Z"/>
<path fill="#6a6a6a" d="M678.1 309.7L681.2 309.7L681.4 306.5L678.2 306.5ZM678.2 307.2L681.4 307.2L681.5 304L678.3 304ZM571.3 373.1L568.5 373.1L568.5 376.3L571.3 376.3ZM571.6 856.3L568 856.3L567.9 859.5L571.6 859.5Z"/>
<path fill="#cecece" d="M681.2 309.7L682.9 309.7L683 306.5L681.4 306.5ZM682.9 309.7L684.4 309.7L684.4 306.5L683 306.5ZM683.8 272.3L685.2 272.3L685.3 269.1L683.8 269.1ZM682.2 264.9L683.8 264.9L683.8 262L682.1 262.1ZM665.2 237.5L670.3 234.3L668.8 231.9L663.8 235.4ZM664.2 235.9L669.2 232.5L667.7 230.2L662.8 233.8ZM663.2 234.4L668.1 230.8L666.4 228.6L661.7 232.3ZM662.2 232.9L666.8 229.1L665.1 227L660.6 230.9ZM657.4 227.3L661.5 222.9L659.5 221L655.5 225.6ZM656.1 226.1L660.1 221.5L658 219.7L654.2 224.4Z"/>
<path fill="#bbbbbb" d="M700.6 309.6L704 309.6L704 306.4L700.4 306.4ZM683.7 279.8L685 279.8L685.1 276.6L683.7 276.6ZM678.3 257L681.5 256.5L681 253.8L677.9 254.3ZM640.5 192.7L641.2 189.8L637.9 189L637.3 192ZM619.9 187.4L619.8 184.5L616.3 184.6L616.5 187.5ZM617.2 187.5L617 184.5L613.5 184.8L613.8 187.7ZM614.5 187.7L614.2 184.7L610.7 185L611.1 188ZM604.9 216.1L603.2 211.4L600.8 212.4L602.6 217ZM603.3 216.7L601.4 212.2L598.9 213.3L600.9 217.7ZM601.5 217.5L599.6 213.1L597.1 214.3L599.2 218.6ZM599.9 218.3L597.8 214L595.4 215.3L597.6 219.5ZM598.2 219.1L596 215L593.6 216.4L596 220.4ZM596.6 220L594.2 216.1L591.9 217.6L594.4 221.4ZM576 201.8L573.9 199L570.9 201.1L573.2 203.9ZM573.7 203.5L571.5 200.7L568.6 203L570.9 205.7ZM571.5 205.2L569.1 202.5L566.3 204.9L568.8 207.6ZM572.7 254.8L568.1 253.9L567.6 256.6L572.4 257.3ZM572.5 256.6L567.7 255.9L567.4 258.7L572.2 259.2ZM572.2 258.5L567.5 258L567.2 260.7L572 261.1ZM572.1 260.4L567.3 260L567.1 262.8L572 263ZM572 262.3L567.1 262.1L567.1 265.1L572 265.1ZM549.5 261.4L545.6 261.3L545.6 264.6L549.5 264.7Z"/>
<path fill="#cacaca" d="M681.4 307.2L683 307.2L683 304L681.5 304ZM683 307.2L684.4 307.2L684.5 304L683 304ZM699.3 289.7L703.7 289.7L703.7 286.5L699.1 286.5ZM699 277.2L703.6 277.2L703.6 274L698.9 274ZM698.9 274.7L703.6 274.7L703.5 271.5L698.9 271.6ZM682.2 267.4L683.8 267.4L683.8 264.2L682.2 264.2ZM677.6 253.1L680.7 252.4L680.1 249.7L677 250.5ZM638.4 215.7L640.3 210L637.7 209.2L636 215ZM607.5 204L606.8 201.5L604.1 202.6L604.7 204.9ZM565.5 222.2L562.7 220.1L560.7 223L563.8 225.1ZM545.8 255.5L541.6 255.1L541.3 258.8L545.6 259.1ZM545.6 263.9L541.2 263.9L541.2 266.9L545.6 267Z"/>
<path fill="#bdbdbd" d="M700.4 307.1L704 307.1L704 303.9L700.3 303.9ZM672 299.8L678.5 299.7L678.6 296.6L672 296.6ZM690.5 240L694.5 238.6L693.2 235.3L689.4 236.9ZM689.7 237.5L693.5 235.9L692.2 232.7L688.4 234.4ZM646.9 197.7L647.9 195L644.8 193.9L643.9 196.6ZM641.2 189.8L641.9 187L638.5 186.2L637.9 189ZM638.6 189.2L639.2 186.4L635.7 185.7L635.2 188.5ZM635.9 188.6L636.4 185.8L633 185.3L632.6 188.1ZM633.3 188.2L633.7 185.4L630.2 184.9L629.9 187.8ZM613.6 213.8L612.6 208.2L610 208.8L611.2 214.3ZM611.8 214.1L610.7 208.7L608.1 209.4L609.4 214.7ZM610.1 214.5L608.8 209.3L606.2 210.1L607.7 215.2ZM565.2 211.2L562.5 208.6L560 211.4L562.8 213.9ZM549.5 264L545.6 263.9L545.6 267L549.5 267.1Z"/>
<path fill="#b7b7b7" d="M672 304.8L678.3 304.7L678.4 301.5L672 301.6ZM682 294.8L683.4 294.7L683.5 291.6L682.1 291.6ZM683.4 294.7L684.7 294.7L684.7 291.5L683.5 291.6ZM550.9 247.9L547 247L546.4 250.5L550.3 251.2Z"/>
<path fill="#696969" d="M678.3 304.7L681.5 304.7L681.6 301.5L678.4 301.5ZM678.4 302.2L681.6 302.2L681.7 299L678.5 299ZM571.3 375.6L568.5 375.6L568.5 378.7L571.3 378.7ZM571.6 853.8L568 853.8L568 857L571.6 857Z"/>
<path fill="#c6c6c6" d="M681.5 304.7L683 304.7L683.1 301.5L681.6 301.5ZM683 304.7L684.5 304.7L684.5 301.5L683.1 301.5ZM699.6 294.7L703.8 294.6L703.8 291.4L699.4 291.5ZM672 292.3L678.7 292.3L678.8 289.1L672 289.1ZM682.3 269.9L683.8 269.8L683.8 266.7L682.2 266.7ZM696.8 246.3L701.1 245.2L700.2 241.8L695.9 243ZM696.1 243.7L700.4 242.5L699.3 239.1L695.1 240.4ZM695.3 241.1L699.5 239.7L698.4 236.4L694.2 237.9ZM694.5 238.6L698.6 237L697.2 233.7L693.2 235.3ZM693.5 235.9L697.5 234.3L696 231L692.2 232.7ZM692.5 233.4L696.3 231.6L694.7 228.4L691 230.2ZM548.3 241.3L544.4 240.1L543.5 243.8L547.4 244.8ZM545.6 266.3L541.2 266.2L541.1 269.3L545.5 269.4ZM549.4 268.7L545.5 268.7L545.5 271.7L549.4 271.8Z"/>
<path fill="#bfbfbf" d="M700.3 304.6L704 304.6L703.9 301.4L700.1 301.4ZM684 225.5L687.3 223.5L685.4 220.5L682.2 222.7ZM682.6 223.3L685.8 221.1L683.7 218.2L680.8 220.5ZM681.2 221L684.2 218.8L682 216L679.2 218.3ZM679.6 218.9L682.5 216.6L680.3 213.9L677.5 216.2ZM657.1 218.8L658.9 216.3L656.7 214.7L655 217.1ZM658.6 203.8L660.2 201.3L657.2 199.5L655.8 202.1ZM660.2 201.3L661.9 198.4L658.8 196.6L657.2 199.5ZM661.9 198.4L663.4 195.9L660.2 194.1L658.8 196.6ZM651.8 210.8L653.6 207.6L650.9 206L649.3 209.2ZM656.4 202.4L657.8 199.8L654.8 198.2L653.5 200.8ZM657.8 199.8L659.4 197L656.2 195.3L654.8 198.2ZM659.4 197L660.8 194.4L657.5 192.7L656.2 195.3ZM654.1 201.1L655.4 198.5L652.3 197L651.1 199.6ZM655.4 198.5L656.8 195.6L653.6 194.1L652.3 197ZM656.8 195.6L658.1 193L654.8 191.5L653.6 194.1ZM620.8 213L620.5 206.9L617.8 207.1L618.3 213.2ZM619 213.1L618.5 207.1L615.9 207.5L616.5 213.4ZM611.7 202.9L611.2 199.9L608.3 200.8L608.9 203.6ZM559.7 218L556.7 215.7L554.5 218.8L557.7 220.9Z"/>
<path fill="#bababa" d="M672 302.3L678.4 302.2L678.5 299L672 299.1ZM681.9 297.2L683.3 297.2L683.4 294L682 294.1ZM683.3 297.2L684.6 297.2L684.7 294L683.4 294ZM691.3 242.4L695.3 241.1L694.2 237.9L690.3 239.3ZM642.2 196.1L643 193.4L639.8 192.5L639.1 195.2ZM637.9 192.1L638.6 189.2L635.2 188.5L634.7 191.5ZM611.8 187.9L611.4 185L607.9 185.4L608.4 188.4ZM609.1 188.3L608.6 185.3L605.1 185.9L605.8 188.9ZM606.5 188.8L605.8 185.8L602.4 186.5L603.1 189.5ZM583.2 197.2L581.5 194.3L578.3 196.1L580.1 199ZM580.7 198.6L578.9 195.8L575.8 197.7L577.8 200.6ZM578.3 200.2L576.4 197.3L573.3 199.4L575.4 202.2ZM549.6 258.7L545.6 258.4L545.5 262L549.5 262.1ZM545.4 273.4L541 273.3L540.9 276.4L545.4 276.5Z"/>
<path fill="#c2c2c2" d="M681.6 302.2L683.1 302.2L683.2 299L681.7 299ZM683.1 302.2L684.5 302.2L684.6 299L683.2 299ZM699.9 299.6L703.9 299.6L703.8 296.4L699.8 296.4ZM682.3 272.3L683.8 272.3L683.8 269.1L682.3 269.2ZM678 255L681.1 254.5L680.6 251.7L677.5 252.4ZM673 206.5L675.1 204.1L672.4 201.9L670.4 204.4ZM626.1 213.2L626.6 207L623.9 206.8L623.6 213ZM553.6 227.9L550.2 226L548.5 229.4L552.1 231.1ZM549.5 266.4L545.6 266.3L545.5 269.4L549.4 269.4ZM545.5 268.7L541.1 268.6L541 271.6L545.5 271.7Z"/>
<path fill="#c1c1c1" d="M700.1 302.1L703.9 302.1L703.9 298.9L699.9 298.9ZM683.7 277.3L685.1 277.3L685.2 274.1L683.7 274.1ZM673.8 217L676.3 214.7L674 212.2L671.7 214.6ZM671 204.8L673 202.4L670.2 200.3L668.3 202.7ZM624.3 213.1L624.6 206.8L621.9 206.7L621.9 213ZM556.5 222.8L553.2 220.7L551.3 224L554.7 225.9ZM555 225.3L551.6 223.4L549.8 226.7L553.3 228.5Z"/>
<path fill="#686868" d="M678.5 299.7L681.7 299.7L681.9 296.5L678.6 296.6ZM678.6 297.3L681.9 297.2L682 294.1L678.6 294.1ZM564.2 230.6L561.7 229.2L560.3 232.2L562.8 233.5ZM560 297.4L553.3 297.2L553.2 300.3L560.1 300.4ZM571.3 378L568.5 378L568.5 381.2L571.3 381.2ZM571.6 851.3L568.1 851.3L568 854.5L571.6 854.5Z"/>
<path fill="#bebebe" d="M681.7 299.7L683.2 299.7L683.3 296.5L681.9 296.5ZM683.2 299.7L684.6 299.7L684.6 296.5L683.3 296.5ZM682.3 274.8L683.7 274.8L683.8 271.6L682.3 271.6ZM688.7 235L692.5 233.4L691 230.2L687.4 232ZM687.7 232.6L691.3 230.8L689.7 227.7L686.2 229.6ZM686.6 230.2L690 228.3L688.4 225.3L685 227.2ZM685.3 227.8L688.7 225.9L686.9 222.9L683.7 224.9ZM651.7 199.9L652.9 197.2L649.8 195.8L648.7 198.5ZM652.9 197.2L654.2 194.4L650.9 193L649.8 195.8ZM654.2 194.4L655.4 191.8L652 190.3L650.9 193ZM649.3 198.8L650.4 196.1L647.2 194.8L646.2 197.5ZM650.4 196.1L651.6 193.2L648.3 191.9L647.2 194.8ZM651.6 193.2L652.6 190.6L649.2 189.3L648.3 191.9ZM647.9 195L648.9 192.2L645.7 191.1L644.8 193.9ZM648.9 192.2L649.9 189.6L646.6 188.4L645.7 191.1ZM646.4 191.3L647.2 188.6L643.9 187.6L643.1 190.3ZM643.8 190.5L644.6 187.8L641.2 186.9L640.5 189.6ZM617.2 213.3L616.5 207.4L613.9 207.9L614.7 213.6ZM615.4 213.5L614.6 207.8L611.9 208.3L612.9 213.9ZM568.5 217.8L566 215.7L563.9 218.4L566.5 220.6ZM563.3 213.4L560.5 210.9L558.1 213.8L561 216.2ZM561.5 215.6L558.5 213.3L556.2 216.3L559.3 218.5ZM545.5 271L541.1 270.9L541 274L545.4 274.1Z"/>
<path fill="#c0c0c0" d="M672 297.3L678.6 297.3L678.6 294.1L672 294.1ZM678 216.8L680.7 214.4L678.4 211.8L675.8 214.2ZM676.3 214.7L678.9 212.3L676.5 209.7L674 212.2ZM672.2 215L674.5 212.7L672.1 210.4L669.9 212.8ZM674.5 212.7L677 210.2L674.5 207.9L672.1 210.4ZM670.4 213.3L672.6 210.9L670.2 208.7L668.1 211.1ZM672.6 210.9L675 208.4L672.5 206.1L670.2 208.7ZM668.7 211.6L670.7 209.2L668.2 207.1L666.3 209.5ZM670.7 209.2L673 206.5L670.4 204.4L668.2 207.1ZM666.8 210L668.8 207.5L666.2 205.5L664.4 208ZM668.8 207.5L671 204.8L668.3 202.7L666.2 205.5ZM664.9 208.4L666.8 205.9L664.1 204L662.4 206.5ZM666.8 205.9L668.9 203.1L666.1 201.1L664.1 204ZM668.9 203.1L670.7 200.7L667.8 198.7L666.1 201.1ZM663 206.9L664.7 204.4L661.9 202.4L660.3 204.9ZM664.7 204.4L666.7 201.5L663.7 199.6L661.9 202.4ZM666.7 201.5L668.4 199.1L665.3 197.1L663.7 199.6ZM660.8 205.3L662.5 202.8L659.6 200.9L658 203.5ZM662.5 202.8L664.3 199.9L661.3 198L659.6 200.9ZM664.3 199.9L665.9 197.4L662.8 195.5L661.3 198ZM622.6 213L622.6 206.7L619.8 206.9L620.1 213.1ZM558.1 220.3L554.9 218.2L552.8 221.3L556.1 223.4Z"/>
<path fill="#c4c4c4" d="M699.8 297.1L703.8 297.1L703.8 293.9L699.6 294ZM682.5 216.6L685.3 214.3L682.9 211.6L680.3 213.9ZM675.3 219.1L678 216.8L675.8 214.2L673.3 216.5ZM680.7 214.4L683.4 212.1L680.9 209.5L678.4 211.8ZM678.9 212.3L681.4 210L678.8 207.4L676.5 209.7ZM677 210.2L679.3 207.9L676.7 205.5L674.5 207.9ZM629.7 213.6L630.6 207.5L627.9 207.1L627.2 213.3ZM609.6 203.5L609 200.7L606.2 201.6L606.8 204.2ZM567 220L564.3 217.9L562.3 220.7L565.1 222.8ZM550.1 235.8L546.4 234.4L545.1 237.9L548.9 239.2Z"/>
<path fill="#c3c3c3" d="M672 294.8L678.7 294.8L678.7 291.6L672 291.6ZM675 208.4L677.2 206L674.6 203.7L672.5 206.1ZM627.9 213.4L628.6 207.2L625.9 206.9L625.4 213.1ZM552.4 230.5L548.8 228.8L547.3 232.2L550.9 233.8ZM551.2 233.1L547.5 231.5L546.1 235L549.8 236.5Z"/>
<path fill="#676767" d="M678.7 294.8L682 294.8L682.1 291.6L678.7 291.6ZM678.7 292.3L682.1 292.3L682.3 289.1L678.8 289.1ZM678.8 289.8L682.3 289.8L682.4 286.6L678.9 286.6ZM571.6 848.8L568.1 848.8L568.1 852L571.6 852Z"/>
<path fill="#c8c8c8" d="M699.5 292.2L703.8 292.1L703.7 289L699.3 289ZM672 289.8L678.8 289.8L678.9 286.6L672 286.6ZM698.9 267.3L703.5 267.3L703.5 264L698.9 264ZM698.9 264.7L703.5 264.7L703.4 261.3L698.8 261.5ZM698.9 262.2L703.4 262L703.2 258.5L698.7 258.8ZM698.7 259.5L703.3 259.2L703 255.7L698.5 256.1ZM635 214.7L636.5 208.8L633.8 208.1L632.6 214.1ZM547 247L543 246.1L542.3 249.7L546.4 250.5ZM546.5 249.8L542.4 249L541.8 252.7L546 253.4Z"/>
<path fill="#cbcbcb" d="M672 287.3L678.9 287.3L679 284.1L672 284.1ZM699 282.2L703.6 282.2L703.6 279L699 279ZM699 279.7L703.6 279.7L703.6 276.5L699 276.5ZM640.1 216.3L642.1 210.7L639.6 209.8L637.8 215.5ZM545.6 258.4L541.3 258.1L541.2 261.8L545.5 262ZM549.4 271.1L545.5 271L545.4 274.1L549.3 274.2Z"/>
<path fill="#666666" d="M678.9 287.3L682.4 287.3L682.5 284.1L679 284.1ZM560.1 299.7L553.2 299.6L553.2 302.8L560.1 302.8ZM560.1 302.1L553.2 302.1L553.2 305.2L560.1 305.3ZM560.1 304.6L553.2 304.5L553.2 307.7L560.1 307.7ZM560.1 307L553.2 307L553.2 310.1L560.1 310.2ZM560.1 309.5L553.2 309.4L553.2 312.6L560.1 312.6ZM560.1 311.9L553.2 311.9L553.2 315L560.1 315.1ZM560.1 314.4L553.2 314.3L553.2 317.5L560.1 317.5ZM560.1 316.8L553.2 316.8L553.2 319.9L560.1 319.9ZM560.1 319.2L553.2 319.2L553.2 322.4L560.2 322.4ZM560.2 321.7L553.2 321.7L553.2 324.8L560.2 324.8ZM560.2 324.1L553.2 324.1L553.2 327.3L560.2 327.3ZM560.2 326.6L553.2 326.6L553.2 329.7L560.2 329.7ZM560.2 329L553.2 329L553.3 332.2L560.2 332.2ZM560.2 331.5L553.3 331.5L553.3 334.6L560.2 334.6ZM560.2 333.9L553.3 333.9L553.3 337.1L560.2 337.1ZM560.2 336.4L553.3 336.4L553.3 339.5L560.2 339.5ZM560.2 338.8L553.3 338.8L553.3 342L560.2 342ZM560.2 341.3L553.3 341.3L553.3 344.4L560.2 344.4ZM560.2 343.7L553.3 343.7L553.3 346.9L560.2 346.9ZM560.2 346.2L553.3 346.2L553.3 349.3L560.2 349.3ZM560.2 348.6L553.3 348.6L553.3 351.8L560.2 351.8ZM560.2 351.1L553.3 351.1L553.3 354.2L560.2 354.2ZM560.2 353.5L553.3 353.5L553.3 356.7L560.2 356.7ZM560.2 356L553.3 356L553.3 359.1L560.2 359.1ZM560.2 358.4L553.3 358.4L553.3 361.6L560.3 361.6ZM560.3 360.9L553.3 360.9L553.3 364L560.3 364ZM560.3 363.3L553.3 363.3L553.3 366.5L560.3 366.5ZM560.3 365.8L553.3 365.8L553.3 368.9L560.3 368.9ZM560.3 368.2L553.3 368.2L553.3 371.4L560.3 371.4ZM560.3 370.7L553.3 370.7L553.3 373.8L560.3 373.8ZM560.3 373.1L553.3 373.1L553.3 376.3L560.3 376.3ZM560.3 375.6L553.3 375.6L553.3 378.7L560.3 378.7ZM560.3 378L553.3 378L553.3 381.2L560.3 381.2ZM571.3 380.5L568.5 380.5L568.5 383.6L571.3 383.6ZM560.3 380.5L553.3 380.5L553.3 383.6L560.3 383.6ZM560.3 382.9L553.3 382.9L553.3 386.1L560.3 386.1ZM560.3 385.4L553.3 385.4L553.3 388.5L560.3 388.5ZM560.3 387.8L553.3 387.8L553.4 391L560.3 391ZM560.3 390.3L553.4 390.3L553.4 393.4L560.3 393.4ZM560.3 392.7L553.4 392.7L553.4 395.9L560.3 395.9ZM560.3 395.2L553.4 395.2L553.4 398.3L560.3 398.3ZM560.3 397.6L553.4 397.6L553.4 400.8L560.4 400.8ZM560.4 400.1L553.4 400.1L553.4 403.2L560.4 403.2ZM560.4 402.5L553.4 402.5L553.4 405.7L560.4 405.7ZM560.4 405L553.4 405L553.4 408.1L560.4 408.1ZM560.4 407.4L553.4 407.4L553.4 410.6L560.4 410.6ZM560.4 409.9L553.4 409.9L553.4 413L560.4 413ZM560.4 412.3L553.4 412.3L553.4 415.4L560.4 415.5ZM560.4 414.8L553.4 414.7L553.4 417.9L560.4 417.9ZM560.4 417.2L553.4 417.2L553.4 420.3L560.4 420.4ZM560.4 419.7L553.4 419.6L553.4 422.8L560.4 422.8ZM560.4 422.1L553.4 422.1L553.6 794.7L560.6 794.6ZM560.6 793.9L553.6 794L553.6 797.1L560.6 797.1ZM560.6 796.4L553.6 796.4L553.6 799.6L560.6 799.6ZM560.6 798.9L553.6 798.9L553.5 802.1L560.6 802.1ZM560.6 801.4L553.5 801.4L553.5 804.6L560.7 804.6ZM560.7 803.9L553.5 803.9L553.5 807.1L560.7 807.1ZM560.7 806.4L553.5 806.4L553.4 809.6L560.7 809.6ZM560.7 808.9L553.4 808.9L553.4 812.1L560.7 812.1ZM560.7 811.4L553.4 811.4L553.4 814.6L560.7 814.6ZM560.7 813.9L553.4 813.9L553.3 817.1L560.7 817.1ZM560.7 816.4L553.3 816.4L553.3 819.6L560.7 819.6ZM560.7 818.9L553.3 818.9L553.2 822.1L560.8 822.1ZM560.8 821.4L553.2 821.4L553.2 824.6L560.8 824.6ZM560.8 823.9L553.2 823.9L553.2 827.1L560.8 827.1ZM560.8 826.4L553.2 826.4L553.1 829.6L560.8 829.6ZM560.8 828.9L553.1 828.9L553.1 832.1L560.8 832.1ZM560.8 831.4L553.1 831.4L553.1 834.6L560.8 834.6ZM560.8 833.9L553.1 833.9L553 837.1L560.8 837.1ZM560.8 836.4L553 836.4L553 839.6L560.8 839.6ZM560.8 838.9L553 838.9L553 842.1L560.9 842.1ZM560.9 841.4L553 841.4L552.9 844.6L560.9 844.6ZM571.6 843.9L568.2 843.9L568.1 847L571.6 847ZM560.9 843.9L552.9 843.9L552.9 847.1L560.9 847.1ZM571.6 846.3L568.1 846.3L568.1 849.5L571.6 849.5ZM560.9 846.4L552.9 846.4L552.8 849.6L560.9 849.5ZM560.9 848.8L552.8 848.9L552.8 852L560.9 852ZM560.9 851.3L552.8 851.3L552.8 854.5L560.9 854.5ZM560.9 853.8L552.8 853.8L552.7 857L560.9 857ZM560.9 856.3L552.7 856.3L552.7 859.5L561 859.5ZM561 858.8L552.7 858.8L552.7 862L561 862ZM561 861.3L552.7 861.3L552.6 864.5L561 864.5ZM561 863.8L552.6 863.8L552.6 867L561 867ZM561 866.3L552.6 866.3L552.6 869.5L561 869.5ZM561 868.8L552.6 868.8L552.5 872L561 872ZM561 871.3L552.5 871.3L552.5 874.5L561 874.5ZM561 873.8L552.5 873.8L552.5 877L561.1 877ZM561.1 876.3L552.5 876.3L552.4 879.5L561.1 879.5ZM561.1 878.8L552.4 878.8L552.4 882L561.1 882ZM561.1 881.3L552.4 881.3L552.3 884.5L561.1 884.5ZM561.1 883.8L552.3 883.8L552.3 887L561.1 887ZM561.1 886.3L552.3 886.3L552.3 889.5L561.1 889.5ZM561.1 888.8L552.3 888.8L552.2 892L561.1 892ZM561.1 891.3L552.2 891.3L552.2 894.5L561.2 894.5ZM561.2 893.8L552.2 893.8L552.2 897L561.2 897ZM561.2 896.3L552.2 896.3L552.2 956.9L561.2 956.8Z"/>
<path fill="#cccccc" d="M699.1 287.2L703.7 287.2L703.6 284L699 284ZM672 284.8L679 284.8L679 281.6L672 281.7ZM699 284.7L703.6 284.7L703.6 281.5L699 281.5ZM672 282.4L679 282.3L678.9 279.1L672 279.2ZM672.1 279.9L678.9 279.8L678.9 276.6L672.1 276.7ZM672.1 277.4L678.9 277.3L678.9 274.2L672.1 274.2ZM672.1 274.9L678.9 274.9L678.9 271.7L672.1 271.7ZM672.1 272.4L678.9 272.4L678.8 269.2L672.1 269.2ZM672.1 269.9L678.8 269.9L678.8 266.7L672.2 266.7ZM672.2 267.4L678.8 267.4L678.8 264.2L672.2 264.3ZM672.2 265L678.8 264.9L678.7 262.2L672.2 262.4ZM672.2 263.1L678.8 262.9L678.6 260.2L672.1 260.7ZM672.2 261.4L678.7 260.9L678.4 258.2L672 258.9ZM672 259.6L678.5 258.9L678.2 256.3L671.8 257.2ZM671.9 257.9L678.3 257L677.9 254.3L671.5 255.4ZM671.6 256.1L678 255L677.5 252.4L671.2 253.7ZM671.3 254.4L677.6 253.1L677 250.5L670.8 252ZM671 252.7L677.2 251.1L676.5 248.6L670.4 250.3ZM670.6 251L676.7 249.2L675.9 246.7L669.9 248.6ZM670.1 249.3L676.1 247.3L675.3 244.8L669.3 247ZM669.6 247.6L675.5 245.5L674.5 242.9L668.7 245.2ZM669 245.9L674.8 243.5L673.8 241L668.1 243.5ZM679.4 225.5L682.6 223.3L680.8 220.5L677.7 222.7ZM653.3 223.8L657.1 218.8L655 217.1L651.3 222.3ZM651.9 222.7L655.5 217.5L653.1 216L649.7 221.2ZM650.3 221.6L653.7 216.3L651.3 214.9L648.1 220.2ZM648.7 220.6L651.9 215.2L649.4 213.8L646.4 219.2ZM653.7 212.2L655.6 208.9L653 207.2L651.2 210.5ZM647.1 219.6L650 214.2L647.5 212.9L644.7 218.4ZM645.4 218.7L648.1 213.2L645.5 212L643 217.5ZM643.6 217.8L646.1 212.3L643.5 211.2L641.2 216.8ZM641.9 217L644.2 211.4L641.5 210.4L639.4 216.1ZM545.6 261.3L541.2 261.1L541.2 264.6L545.6 264.6Z"/>
<path fill="#b5b5b5" d="M683.7 282.3L685 282.3L685 279.1L683.7 279.1ZM682.4 279.8L683.7 279.8L683.7 276.6L682.4 276.6ZM692 244.8L696.1 243.7L695.1 240.4L691.1 241.7ZM632.5 193.8L632.9 191.2L629.6 190.8L629.3 193.4ZM625.1 190.5L625.2 187.5L621.9 187.4L621.9 190.4ZM552.9 239.9L549.2 238.6L548.1 242L551.9 243.2Z"/>
<path fill="#565656" d="M685 282.3L689.6 282.3L689.6 279.1L685 279.1ZM571.3 417.2L568.7 417.2L568.7 420.4L571.3 420.4ZM571.5 796.4L568.9 796.4L568.9 799.6L571.5 799.6ZM571.5 798.9L568.9 798.9L568.8 802.1L571.5 802.1Z"/>
<path fill="#575757" d="M685 279.8L689.6 279.8L689.6 276.6L685.1 276.6ZM685.1 277.3L689.6 277.3L689.6 274.1L685.2 274.1ZM570.2 245.9L566.5 244.6L565.6 247.4L569.4 248.6ZM567.3 271.5L563.4 271.4L563.4 274.5L567.4 274.5ZM571.3 414.8L568.7 414.8L568.7 417.9L571.3 417.9ZM571.5 801.4L568.8 801.4L568.8 804.6L571.5 804.6Z"/>
<path fill="#5b5b5b" d="M694.3 279.8L699 279.7L699 276.5L694.3 276.6ZM685.5 262.6L689.7 262.5L689.6 259.4L685.5 259.7ZM661.5 208.9L663 206.9L660.3 204.9L658.9 207.1ZM569 249.9L565.2 248.9L564.5 251.7L568.4 252.6ZM567.3 269.1L563.3 269L563.4 272.1L567.3 272.2ZM571.3 405L568.6 405L568.6 408.1L571.3 408.1ZM571.5 811.4L568.7 811.4L568.6 814.6L571.5 814.6ZM571.5 813.9L568.6 813.9L568.6 817.1L571.5 817.1Z"/>
<path fill="#7d7d7d" d="M678.9 277.3L682.4 277.3L682.3 274.1L678.9 274.2ZM571.3 331.5L568.3 331.5L568.3 334.7L571.3 334.7Z"/>
<path fill="#636363" d="M694.3 277.3L699 277.2L698.9 274L694.3 274.1ZM567.3 260L563.4 259.7L563.2 262.6L567.1 262.8ZM571.3 387.8L568.6 387.8L568.6 391L571.3 391ZM571.6 836.4L568.3 836.4L568.3 839.6L571.6 839.6Z"/>
<path fill="#c7c7c7" d="M683.7 274.8L685.2 274.8L685.2 271.6L683.8 271.6ZM698.5 256.8L703.1 256.4L702.6 252.8L698.1 253.5ZM698.2 254.2L702.7 253.5L702.1 250L697.7 250.8ZM697.8 251.5L702.3 250.7L701.6 247.3L697.2 248.2ZM697.3 248.9L701.7 248L700.9 244.5L696.6 245.6ZM676.8 221.2L679.6 218.9L677.5 216.2L674.8 218.5ZM658.6 220.1L660.6 217.6L658.4 215.9L656.5 218.4ZM633.2 214.3L634.5 208.3L631.9 207.7L630.8 213.8ZM547.6 244.2L543.6 243.1L542.8 246.7L546.9 247.7Z"/>
<path fill="#585858" d="M685.2 274.8L689.6 274.8L689.7 271.6L685.2 271.6ZM685.2 272.3L689.7 272.3L689.7 269.1L685.3 269.1ZM659.5 207.4L660.8 205.3L658 203.5L656.7 205.7ZM569 221.6L567 220L565.1 222.8L567.3 224.4ZM571.3 412.3L568.7 412.3L568.7 415.5L571.3 415.5ZM571.5 803.9L568.8 803.9L568.8 807.1L571.5 807.1Z"/>
<path fill="#c9c9c9" d="M698.9 272.3L703.6 272.2L703.5 269L698.9 269.1ZM698.9 269.8L703.5 269.7L703.5 266.6L698.9 266.6ZM678.1 223.3L681.2 221L679.2 218.3L676.3 220.6ZM636.7 215.2L638.4 209.4L635.8 208.6L634.3 214.5ZM546.1 252.7L541.9 252L541.5 255.8L545.7 256.2Z"/>
<path fill="#d4d4d4" d="M683.8 269.8L685.3 269.8L685.3 266.7L683.8 266.7ZM682.8 232.2L686.6 230.2L685 227.2L681.4 229.3ZM549.3 275.8L545.4 275.8L545.3 278.8L549.3 278.9Z"/>
<path fill="#595959" d="M685.3 269.8L689.7 269.8L689.7 266.6L685.3 266.7ZM569.6 247.9L565.8 246.7L565 249.5L568.8 250.6ZM571.3 409.9L568.7 409.9L568.7 413L571.3 413ZM571.5 806.4L568.8 806.4L568.7 809.6L571.5 809.6Z"/>
<path fill="#dadada" d="M683.8 267.4L685.3 267.4L685.4 264.2L683.8 264.2ZM655.5 213.6L657.6 210.3L655 208.5L653.1 211.8ZM601.4 206.2L600.7 204.3L598.1 205.7L598.7 207.3Z"/>
<path fill="#5a5a5a" d="M685.3 267.4L689.7 267.3L689.7 264.1L685.4 264.2ZM685.4 264.9L689.7 264.8L689.7 261.8L685.5 261.9ZM571.3 407.4L568.6 407.4L568.7 410.6L571.3 410.6ZM571.5 808.9L568.7 808.9L568.7 812.1L571.5 812.1Z"/>
<path fill="#5c5c5c" d="M685.5 260.4L689.6 260.1L689.4 257.1L685.4 257.5ZM685.5 258.2L689.4 257.8L689.1 254.7L685.3 255.3ZM671.8 218.9L673.8 217L671.7 214.6L669.7 216.5ZM670.2 217L672.2 215L669.9 212.8L668.1 214.8ZM668.6 215.2L670.4 213.3L668.1 211.1L666.4 213.1ZM666.9 213.6L668.7 211.6L666.3 209.5L664.7 211.5ZM665.2 212L666.8 210L664.4 208L662.8 210ZM663.4 210.4L664.9 208.4L662.4 206.5L661 208.5ZM567.7 223.8L565.5 222.2L563.8 225.1L566 226.6ZM568.5 251.9L564.6 251L564.1 253.9L568 254.6ZM571.3 402.5L568.6 402.5L568.6 405.7L571.3 405.7ZM571.5 816.4L568.6 816.4L568.6 819.6L571.5 819.6Z"/>
<path fill="#5d5d5d" d="M685.4 256L689.2 255.4L688.8 252.4L685.1 253.1ZM685.2 253.8L688.9 253.1L688.3 250.1L684.8 250.8ZM675.8 225L678.1 223.3L676.3 220.6L674.1 222.4ZM674.5 222.9L676.8 221.2L674.8 218.5L672.7 220.4ZM673.2 220.9L675.3 219.1L673.3 216.5L671.3 218.4ZM571.3 400.1L568.6 400.1L568.6 403.2L571.3 403.2ZM571.5 818.9L568.6 818.9L568.5 822.1L571.6 822.1Z"/>
<path fill="#5e5e5e" d="M684.9 251.5L688.5 250.8L687.8 247.8L684.4 248.6ZM684.5 249.3L688 248.5L687.2 245.5L683.9 246.4ZM680.1 233.7L682.8 232.2L681.4 229.3L678.8 230.9ZM679.2 231.5L681.7 230L680.2 227.1L677.8 228.7ZM678.1 229.3L680.6 227.7L679 224.9L676.6 226.6ZM677 227.1L679.4 225.5L677.7 222.7L675.4 224.5ZM648.1 213.2L649.9 209.5L647.3 208L645.5 212ZM568.1 253.9L564.2 253.2L563.7 256L567.6 256.6ZM571.5 821.4L568.5 821.4L568.5 824.6L571.6 824.6Z"/>
<path fill="#5f5f5f" d="M684.1 247.1L687.4 246.2L686.5 243.2L683.4 244.3ZM681.7 238.2L684.6 236.9L683.4 233.9L680.6 235.3ZM681 235.9L683.7 234.6L682.4 231.6L679.8 233.1ZM571.3 397.6L568.6 397.6L568.6 400.8L571.3 400.8ZM571.6 823.9L568.5 823.9L568.4 827.1L571.6 827.1Z"/>
<path fill="#606060" d="M683.6 244.9L686.8 243.9L685.8 241L682.8 242.1ZM683 242.7L686 241.6L685.1 238.6L682.2 239.8ZM682.4 240.4L685.3 239.3L684.3 236.3L681.4 237.5ZM566.4 226L564.2 224.5L562.5 227.4L564.9 228.9ZM567.7 255.9L563.8 255.3L563.5 258.2L567.4 258.7ZM567.2 266.7L563.3 266.7L563.3 269.7L567.2 269.8ZM571.3 395.2L568.6 395.2L568.6 398.3L571.3 398.3ZM571.6 826.4L568.4 826.4L568.4 829.6L571.6 829.6Z"/>
<path fill="#cdcdcd" d="M668.4 244.2L674.1 241.6L672.9 239.1L667.4 241.8ZM667.7 242.5L673.2 239.7L672 237.3L666.6 240.2ZM666.9 240.8L672.3 237.9L671 235.4L665.7 238.5ZM666.1 239.2L671.4 236L670 233.7L664.8 236.9ZM654.7 224.9L658.6 220.1L656.5 218.4L652.8 223.3Z"/>
<path fill="#d7d7d7" d="M683.7 234.6L687.7 232.6L686.2 229.6L682.4 231.6Z"/>
<path fill="#c5c5c5" d="M691.3 230.8L695 229L693.3 225.8L689.7 227.7ZM690 228.3L693.6 226.4L691.8 223.3L688.4 225.3ZM688.7 225.9L692.1 223.9L690.2 220.8L686.9 222.9ZM687.3 223.5L690.5 221.4L688.5 218.4L685.4 220.5ZM685.8 221.1L688.9 219L686.7 216.1L683.7 218.2ZM684.2 218.8L687.1 216.6L684.8 213.8L682 216ZM631.5 213.9L632.5 207.8L629.9 207.4L629 213.5ZM549.2 238.6L545.3 237.2L544.2 240.8L548.1 242Z"/>
<path fill="#cfcfcf" d="M680.6 227.7L684 225.5L682.2 222.7L679 224.9ZM661 231.4L665.6 227.5L663.7 225.4L659.4 229.4ZM659.9 229.9L664.2 225.9L662.3 223.9L658.1 228ZM658.6 228.5L662.8 224.4L660.9 222.4L656.9 226.8ZM605.4 204.7L604.7 202.4L602 203.5L602.7 205.6ZM564.2 224.5L561.1 222.4L559.3 225.4L562.5 227.4ZM549.4 273.5L545.4 273.4L545.4 276.5L549.3 276.5Z"/>
<path fill="#d8d8d8" d="M661.5 222.9L663.8 220.4L661.7 218.5L659.5 221ZM549.3 278.2L545.3 278.1L545.3 281.2L549.2 281.3Z"/>
<path fill="#d0d0d0" d="M660.1 221.5L662.2 219L660.1 217.2L658 219.7Z"/>
<path fill="#727272" d="M650 214.2L651.8 210.8L649.3 209.2L647.5 212.9ZM559.6 290.3L553.5 290.1L553.4 293.2L559.7 293.3ZM571.3 356L568.4 356L568.4 359.1L571.3 359.2ZM571.6 878.8L567.6 878.8L567.6 882L571.6 882ZM571.6 881.3L567.6 881.3L567.6 884.5L571.6 884.5Z"/>
<path fill="#bcbcbc" d="M644.5 196.9L645.4 194.1L642.3 193.2L641.5 195.9ZM645.4 194.1L646.4 191.3L643.1 190.3L642.3 193.2ZM643 193.4L643.8 190.5L640.5 189.6L639.8 192.5ZM630.6 187.9L630.9 185L627.4 184.7L627.2 187.6ZM627.9 187.6L628.1 184.7L624.6 184.6L624.5 187.4ZM625.2 187.5L625.3 184.6L621.9 184.5L621.9 187.4ZM622.6 187.4L622.6 184.5L619.1 184.5L619.2 187.4ZM608.4 215L606.9 209.9L604.4 210.8L606 215.7ZM606.6 215.5L605.1 210.6L602.6 211.6L604.3 216.3ZM595 221L592.5 217.2L590.3 218.8L592.8 222.5ZM593.4 222.1L590.9 218.4L588.7 220L591.3 223.6ZM591.9 223.2L589.3 219.6L587.2 221.4L589.9 224.7ZM590.4 224.3L587.7 220.9L585.7 222.7L588.4 226ZM589 225.5L586.2 222.3L584.2 224.2L587.1 227.2ZM587.6 226.8L584.8 223.7L582.9 225.6L585.8 228.5ZM569.3 207.1L566.8 204.4L564.1 206.9L566.7 209.5ZM586.3 228L583.4 225.2L581.4 227.2L584.5 230ZM567.2 209L564.6 206.4L562 209.1L564.7 211.7ZM585 229.5L581.9 226.6L580.1 228.7L583.3 231.4ZM583.7 230.9L580.5 228.2L578.8 230.3L582.1 233ZM582.5 232.4L579.2 229.8L577.5 232L581 234.5ZM581.4 233.9L577.9 231.4L576.4 233.7L579.9 236.1ZM580.3 235.5L576.8 233.1L575.2 235.4L578.9 237.7ZM579.3 237.1L575.6 234.8L574.2 237.2L578 239.4ZM578.4 238.8L574.5 236.6L573.2 239L577.2 241.1ZM577.5 240.5L573.5 238.4L572.3 240.9L576.4 242.8ZM576.7 242.2L572.6 240.2L571.5 242.7L575.6 244.6ZM575.9 243.9L571.7 242.1L570.7 244.7L575 246.3ZM575.2 245.7L570.9 244L570 246.6L574.4 248.1ZM574.6 247.5L570.2 245.9L569.4 248.6L573.8 249.9ZM574 249.3L569.6 247.9L568.8 250.6L573.4 251.8ZM573.5 251.1L569 249.9L568.4 252.6L572.9 253.6ZM573.1 252.9L568.5 251.9L568 254.6L572.6 255.5Z"/>
<path fill="#212121" d="M628.6 207.2L629.1 202.1L626.2 201.8L625.9 206.9Z"/>
<path fill="#202020" d="M626.6 207L626.9 201.8L624 201.6L623.9 206.8ZM583.4 225.2L580 221.8L578 224L581.4 227.2Z"/>
<path fill="#1f1f1f" d="M624.6 206.8L624.7 201.6L621.9 201.5L621.9 206.7Z"/>
<path fill="#1d1d1d" d="M622.6 206.7L622.6 201.5L619.7 201.7L619.8 206.9ZM584.8 223.7L581.5 220.2L579.5 222.3L582.9 225.6Z"/>
<path fill="#1c1c1c" d="M620.5 206.9L620.4 201.6L617.5 201.9L617.8 207.1ZM586.2 222.3L583 218.6L581 220.7L584.2 224.2Z"/>
<path fill="#1b1b1b" d="M618.5 207.1L618.2 201.9L615.3 202.2L615.9 207.5ZM587.7 220.9L584.6 217.1L582.5 219.1L585.7 222.7Z"/>
<path fill="#1a1a1a" d="M616.5 207.4L616 202.1L613.1 202.6L613.9 207.9ZM589.3 219.6L586.3 215.6L584.1 217.5L587.2 221.4Z"/>
<path fill="#191919" d="M614.6 207.8L613.8 202.5L611 203.1L611.9 208.3ZM590.9 218.4L588 214.2L585.7 216L588.7 220Z"/>
<path fill="#171717" d="M612.6 208.2L611.7 202.9L608.9 203.6L610 208.8Z"/>
<path fill="#161616" d="M610.7 208.7L609.6 203.5L606.8 204.2L608.1 209.4ZM594.2 216.1L591.6 211.6L589.2 213.2L591.9 217.6Z"/>
<path fill="#151515" d="M608.8 209.3L607.5 204L604.7 204.9L606.2 210.1ZM596 215L593.5 210.3L591 211.9L593.6 216.4Z"/>
<path fill="#141414" d="M606.9 209.9L605.4 204.7L602.7 205.6L604.4 210.8ZM597.8 214L595.4 209.2L592.9 210.7L595.4 215.3Z"/>
<path fill="#131313" d="M605.1 210.6L603.4 205.4L600.7 206.5L602.6 211.6ZM599.6 213.1L597.4 208.1L594.8 209.5L597.1 214.3Z"/>
<path fill="#121212" d="M603.2 211.4L601.4 206.2L598.7 207.3L600.8 212.4ZM601.4 212.2L599.4 207.1L596.7 208.4L598.9 213.3Z"/>
<path fill="#181818" d="M592.5 217.2L589.8 212.9L587.4 214.6L590.3 218.8Z"/>
<path fill="#646464" d="M565.2 228.3L562.9 226.8L561.4 229.8L563.8 231.2ZM567.1 264.4L563.2 264.3L563.3 267.4L567.2 267.4ZM571.3 385.4L568.6 385.4L568.6 388.5L571.3 388.5ZM571.6 838.9L568.3 838.9L568.2 842.1L571.6 842.1Z"/>
<path fill="#dbdbdb" d="M561.7 229.2L558.3 227.2L556.7 230.3L560.3 232.2Z"/>
<path fill="#626262" d="M567.5 258L563.6 257.5L563.3 260.4L567.2 260.7ZM571.3 390.3L568.6 390.3L568.6 393.4L571.3 393.4ZM571.6 833.9L568.3 833.9L568.3 837.1L571.6 837.1Z"/>
<path fill="#656565" d="M567.1 262.1L563.2 261.9L563.2 265L567.1 265.1ZM571.3 382.9L568.5 382.9L568.6 386.1L571.3 386.1ZM571.6 841.4L568.2 841.4L568.2 844.6L571.6 844.6Z"/>
<path fill="#616161" d="M571.3 392.7L568.6 392.7L568.6 395.9L571.3 395.9ZM571.6 828.9L568.4 828.9L568.4 832.1L571.6 832.1ZM571.6 831.4L568.4 831.4L568.3 834.6L571.6 834.6Z"/>
<rect x="461.9" y="912.6" width="31.3" height="43" fill="#a8a8a8"/>
<rect x="462.9" y="912.6" width="5" height="43" fill="#b4b4b4"/>
<rect x="468" y="912.6" width="6.2" height="43" fill="#f6f6f6"/>
<rect x="474.2" y="912.6" width="12" height="43" fill="#505050"/>
<rect x="476.2" y="913.6" width="5.4" height="43" fill="#5c5c5c"/>
<rect x="486.2" y="912.6" width="2.6" height="43" fill="#2e2e2e"/>
<rect x="488.8" y="912.6" width="4.4" height="43" fill="#858585"/>
<rect x="473.7" y="943" width="15.5" height="12.4" fill="#3c3c3c"/>
<path d="M461.2 922 L493.8 923.2 L493.8 927 L461.2 925.8 Z" fill="#8e8e8e"/>
<path d="M465.9 923 L489.2 924.2 L489.2 926.2 L465.9 925 Z" fill="#e9e9e9"/>
<path d="M465.9 921.8 L476.2 922.6 L476.2 923.4 L465.9 922.8 Z" fill="#5a5a5a"/>
<path d="M461.2 939.2 L493.8 940.4 L493.8 944.2 L461.2 943 Z" fill="#8e8e8e"/>
<path d="M465.9 940.2 L489.2 941.4 L489.2 943.4 L465.9 942.2 Z" fill="#e9e9e9"/>
<path d="M465.9 939 L476.2 939.8 L476.2 940.6 L465.9 940 Z" fill="#5a5a5a"/>
<rect x="462.9" y="954.6" width="29.3" height="1.4" fill="#6a6a6a"/>
<rect x="540.9" y="907.6" width="30.9" height="48" fill="#a8a8a8"/>
<rect x="541.9" y="907.6" width="5" height="48" fill="#b4b4b4"/>
<rect x="545.6" y="907.6" width="6.4" height="48" fill="#f6f6f6"/>
<rect x="552" y="907.6" width="12.4" height="48" fill="#505050"/>
<rect x="554" y="908.6" width="5.6" height="48" fill="#5c5c5c"/>
<rect x="564.4" y="907.6" width="2.6" height="48" fill="#2e2e2e"/>
<rect x="567" y="907.6" width="4.8" height="48" fill="#858585"/>
<rect x="551.5" y="943" width="15.9" height="12.4" fill="#3c3c3c"/>
<path d="M540.2 922 L572.4 923.2 L572.4 927 L540.2 925.8 Z" fill="#8e8e8e"/>
<path d="M544.9 923 L567.8 924.2 L567.8 926.2 L544.9 925 Z" fill="#e9e9e9"/>
<path d="M544.9 921.8 L554 922.6 L554 923.4 L544.9 922.8 Z" fill="#5a5a5a"/>
<path d="M540.2 939.2 L572.4 940.4 L572.4 944.2 L540.2 943 Z" fill="#8e8e8e"/>
<path d="M544.9 940.2 L567.8 941.4 L567.8 943.4 L544.9 942.2 Z" fill="#e9e9e9"/>
<path d="M544.9 939 L554 939.8 L554 940.6 L544.9 940 Z" fill="#5a5a5a"/>
<rect x="541.9" y="954.6" width="28.9" height="1.4" fill="#6a6a6a"/>
<rect x="699.2" y="679" width="7.4" height="107" fill="#747474"/>
<rect x="699.2" y="680" width="7.4" height="1.2" fill="#5c5c5c"/>
<rect x="699.2" y="684" width="7.4" height="1.2" fill="#5c5c5c"/>
<rect x="699.2" y="688" width="7.4" height="1.2" fill="#5c5c5c"/>
<rect x="699.2" y="692" width="7.4" height="1.2" fill="#5c5c5c"/>
<rect x="699.2" y="696" width="7.4" height="1.2" fill="#5c5c5c"/>
<rect x="699.2" y="700" width="7.4" height="1.2" fill="#5c5c5c"/>
<rect x="699.2" y="704" width="7.4" height="1.2" fill="#5c5c5c"/>
<rect x="699.2" y="708" width="7.4" height="1.2" fill="#5c5c5c"/>
<rect x="699.2" y="712" width="7.4" height="1.2" fill="#5c5c5c"/>
<rect x="699.2" y="716" width="7.4" height="1.2" fill="#5c5c5c"/>
<rect x="699.2" y="720" width="7.4" height="1.2" fill="#5c5c5c"/>
<rect x="699.2" y="724" width="7.4" height="1.2" fill="#5c5c5c"/>
<rect x="699.2" y="728" width="7.4" height="1.2" fill="#5c5c5c"/>
<rect x="699.2" y="732" width="7.4" height="1.2" fill="#5c5c5c"/>
<rect x="699.2" y="736" width="7.4" height="1.2" fill="#5c5c5c"/>
<rect x="699.2" y="740" width="7.4" height="1.2" fill="#5c5c5c"/>
<rect x="699.2" y="744" width="7.4" height="1.2" fill="#5c5c5c"/>
<rect x="699.2" y="748" width="7.4" height="1.2" fill="#5c5c5c"/>
<rect x="699.2" y="752" width="7.4" height="1.2" fill="#5c5c5c"/>
<rect x="699.2" y="756" width="7.4" height="1.2" fill="#5c5c5c"/>
<rect x="699.2" y="760" width="7.4" height="1.2" fill="#5c5c5c"/>
<rect x="699.2" y="764" width="7.4" height="1.2" fill="#5c5c5c"/>
<rect x="699.2" y="768" width="7.4" height="1.2" fill="#5c5c5c"/>
<rect x="699.2" y="772" width="7.4" height="1.2" fill="#5c5c5c"/>
<rect x="699.2" y="776" width="7.4" height="1.2" fill="#5c5c5c"/>
<rect x="699.2" y="780" width="7.4" height="1.2" fill="#5c5c5c"/>
<rect x="699.2" y="784" width="7.4" height="1.2" fill="#5c5c5c"/>
<path d="M695.2 679.2 L702.4 677.2 L702.4 679.8 L695.2 681.6 Z" fill="#161616"/>
<rect x="702" y="677.2" width="4.8" height="2.2" fill="#3a3a3a"/>
<rect x="699.4" y="675.8" width="7.2" height="1.3" fill="#c4c4c4"/>
<path d="M695.2 694.2 L702.4 692.2 L702.4 694.8 L695.2 696.6 Z" fill="#161616"/>
<rect x="702" y="692.2" width="4.8" height="2.2" fill="#3a3a3a"/>
<rect x="699.4" y="690.8" width="7.2" height="1.3" fill="#c4c4c4"/>
<path d="M695.2 710 L702.4 708 L702.4 710.6 L695.2 712.4 Z" fill="#161616"/>
<rect x="702" y="708" width="4.8" height="2.2" fill="#3a3a3a"/>
<rect x="699.4" y="706.6" width="7.2" height="1.3" fill="#c4c4c4"/>
<path d="M695.2 725.2 L702.4 723.2 L702.4 725.8 L695.2 727.6 Z" fill="#161616"/>
<rect x="702" y="723.2" width="4.8" height="2.2" fill="#3a3a3a"/>
<rect x="699.4" y="721.8" width="7.2" height="1.3" fill="#c4c4c4"/>
<path d="M695.2 740.6 L702.4 738.6 L702.4 741.2 L695.2 743 Z" fill="#161616"/>
<rect x="702" y="738.6" width="4.8" height="2.2" fill="#3a3a3a"/>
<rect x="699.4" y="737.2" width="7.2" height="1.3" fill="#c4c4c4"/>
<path d="M695.2 756.2 L702.4 754.2 L702.4 756.8 L695.2 758.6 Z" fill="#161616"/>
<rect x="702" y="754.2" width="4.8" height="2.2" fill="#3a3a3a"/>
<rect x="699.4" y="752.8" width="7.2" height="1.3" fill="#c4c4c4"/>
<path d="M695.2 771.2 L702.4 769.2 L702.4 771.8 L695.2 773.6 Z" fill="#161616"/>
<rect x="702" y="769.2" width="4.8" height="2.2" fill="#3a3a3a"/>
<rect x="699.4" y="767.8" width="7.2" height="1.3" fill="#c4c4c4"/>
<path d="M695.2 785.8 L702.4 783.8 L702.4 786.4 L695.2 788.2 Z" fill="#161616"/>
<rect x="702" y="783.8" width="4.8" height="2.2" fill="#3a3a3a"/>
<rect x="699.4" y="782.4" width="7.2" height="1.3" fill="#c4c4c4"/>
<rect x="674.8" y="833" width="32.2" height="1.5" fill="#e2e2e2"/>
<rect x="674.8" y="834.5" width="32.2" height="6.6" fill="#000" opacity="0.13"/>
<rect x="675.5" y="840.4" width="31" height="1" fill="#6e6e6e"/>
</g>
<g filter="url(#bl2)">
<line x1="461.6" y1="948.4" x2="461.6" y2="990" stroke="#2a2a2a" stroke-width="1.3"/>
<line x1="492.8" y1="948.4" x2="492.8" y2="990" stroke="#2a2a2a" stroke-width="1.3"/>
<line x1="461.6" y1="975.3" x2="492.8" y2="975.3" stroke="#2a2a2a" stroke-width="1.3"/>
<line x1="540.8" y1="948.4" x2="540.8" y2="990" stroke="#2a2a2a" stroke-width="1.3"/>
<line x1="572" y1="948.4" x2="572" y2="990" stroke="#2a2a2a" stroke-width="1.3"/>
<line x1="540.8" y1="975.3" x2="572" y2="975.3" stroke="#2a2a2a" stroke-width="1.3"/>
</g>
<g filter="url(#bl2)">
<circle cx="477.5" cy="624" r="15.5" fill="#050505"/>
<text x="477.5" y="630.3" font-size="18" fill="#fff" text-anchor="middle" class="b">1</text>
<circle cx="551.3" cy="624" r="15.5" fill="#050505"/>
<text x="551.3" y="630.3" font-size="18" fill="#fff" text-anchor="middle" class="b">2</text>
<circle cx="905.8" cy="574.8" r="15.5" fill="#050505"/>
<text x="905.8" y="581.1" font-size="18" fill="#fff" text-anchor="middle" class="b">3</text>
<circle cx="123.6" cy="574.7" r="15.5" fill="#050505"/>
<text x="123.6" y="581" font-size="18" fill="#fff" text-anchor="middle" class="b">4</text>
<circle cx="790.9" cy="522.3" r="15.5" fill="#050505"/>
<text x="790.9" y="528.6" font-size="18" fill="#fff" text-anchor="middle" class="b">5</text>
<circle cx="216.3" cy="274" r="15.5" fill="#050505"/>
<text x="216.3" y="280.3" font-size="18" fill="#fff" text-anchor="middle" class="b">6</text>
<circle cx="408.2" cy="301.1" r="15.5" fill="#050505"/>
<text x="408.2" y="307.4" font-size="18" fill="#fff" text-anchor="middle" class="b">7</text>
<circle cx="621.2" cy="301.6" r="15.5" fill="#050505"/>
<text x="621.2" y="307.9" font-size="18" fill="#fff" text-anchor="middle" class="b">7</text>
<circle cx="477.2" cy="995.6" r="16.2" fill="#050505"/>
<text x="477.2" y="1001.9" font-size="18" fill="#fff" text-anchor="middle" class="b">8</text>
<circle cx="556.4" cy="996" r="16.2" fill="#050505"/>
<text x="556.4" y="1002.3" font-size="18" fill="#fff" text-anchor="middle" class="b">8</text>
<rect x="545.8" y="982.8" width="2.8" height="15" rx="1.2" fill="#dcdcdc"/>
<rect x="557.6" y="979.6" width="2.3" height="8.6" rx="1" fill="#dadada"/>
<rect x="566.4" y="991" width="6" height="1.8" rx="0.8" fill="#cfcfcf"/>
<path d="M543.2 986.5 Q546 981.8 550.5 982.2" stroke="#bbb" stroke-width="1.2" fill="none"/>
</g>
<g filter="url(#bl2)">
<text x="39.3" y="581.3" font-size="23.9" textLength="64.7" lengthAdjust="spacingAndGlyphs" fill="#161616" class="b">36cm</text>
<text x="241.8" y="283.1" font-size="16.1" textLength="60.9" lengthAdjust="spacingAndGlyphs" fill="#161616" class="b">11.5cm</text>
<text x="392.3" y="335" font-size="16.5" textLength="35.1" lengthAdjust="spacingAndGlyphs" fill="#161616" class="b">5cm</text>
<text x="604.7" y="338.7" font-size="16.9" textLength="37.8" lengthAdjust="spacingAndGlyphs" fill="#161616" class="b">5cm</text>
<text x="796.6" y="586.6" font-size="20.9" textLength="57" lengthAdjust="spacingAndGlyphs" fill="#161616" class="b">33cm</text>
<text x="922.7" y="618.4" font-size="20.7" textLength="58.1" lengthAdjust="spacingAndGlyphs" fill="#161616" class="b">46cm</text>
<text x="405.6" y="978.8" font-size="15.7" textLength="53.5" lengthAdjust="spacingAndGlyphs" fill="#161616" class="b">12mm</text>
<text x="584.1" y="983.3" font-size="18.3" textLength="62.6" lengthAdjust="spacingAndGlyphs" fill="#161616" class="b">16mm</text>
<text x="290.4" y="68.7" font-size="18.8" textLength="66.8" lengthAdjust="spacing" fill="#111" stroke="#111" stroke-width="0.25" class="b">CLEAN</text>
<text x="365.4" y="68.7" font-size="18.8" textLength="99.3" lengthAdjust="spacing" fill="#111" stroke="#111" stroke-width="0.25" class="b">NATURAL</text>
<text x="471.6" y="68.7" font-size="18.8" textLength="56.8" lengthAdjust="spacing" fill="#111" stroke="#111" stroke-width="0.25" class="b">LOOK</text>
<text x="536.1" y="68.7" font-size="18.8" textLength="46" lengthAdjust="spacing" fill="#111" stroke="#111" stroke-width="0.25" class="b">AND</text>
<text x="590.4" y="68.7" font-size="18.8" textLength="44.3" lengthAdjust="spacingAndGlyphs" fill="#111" stroke="#111" stroke-width="0.25" class="b">FEEL</text>
<text x="643.6" y="68.7" font-size="18.8" textLength="39.8" lengthAdjust="spacingAndGlyphs" fill="#111" stroke="#111" stroke-width="0.25" class="b">FOR</text>
<text x="691.1" y="68.7" font-size="18.8" textLength="43.5" lengthAdjust="spacing" fill="#111" stroke="#111" stroke-width="0.25" class="b">YOU</text>
</g>
</svg>
</body></html>
